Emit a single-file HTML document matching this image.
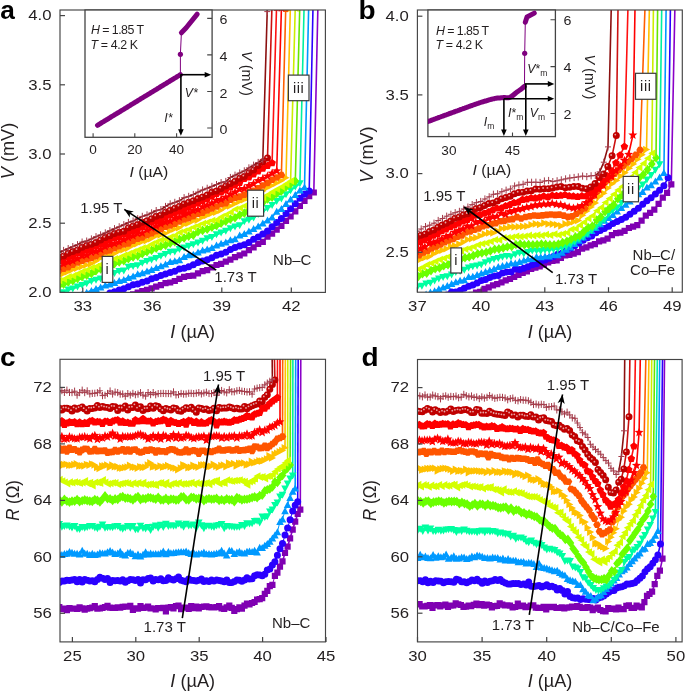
<!DOCTYPE html>
<html><head><meta charset="utf-8"><style>
html,body{margin:0;padding:0;background:#fff;width:685px;height:692px;overflow:hidden}
</style></head><body>
<svg width="685" height="692" viewBox="0 0 685 692" style="position:absolute;left:0;top:0;will-change:transform">
<defs>
<clipPath id="ca"><rect x="60" y="10" width="265.4" height="282.4"/></clipPath>
<clipPath id="cb"><rect x="417.4" y="10" width="264.9" height="282.2"/></clipPath>
<clipPath id="cc"><rect x="60" y="359.3" width="265.5" height="282.6"/></clipPath>
<clipPath id="cd"><rect x="417.5" y="359.5" width="264.6" height="282.4"/></clipPath>
<marker id="ah" viewBox="0 0 10 10" refX="9" refY="5" markerWidth="6" markerHeight="6" orient="auto-start-reverse"><path d="M0,0L10,5L0,10L3,5z" fill="#000"/></marker>
</defs>
<rect width="685" height="692" fill="#fff"/>
<g clip-path="url(#cc)">
<path d="M277.4,572.7L280.0,566.7L282.5,561.4L285.0,553.0L287.6,546.7L290.1,538.3L292.7,529.6L295.2,521.6L297.7,514.0L300.3,509.7L300.8,351.5" fill="none" stroke="#8a00c8" stroke-width="1.6"/>
<path d="M59.3,607.0L61.9,609.2L64.4,608.5L66.9,610.1L69.5,608.2L72.0,608.6L74.6,608.6L77.1,608.8L79.6,607.3L82.2,608.4L84.7,609.7L87.2,608.7L89.8,608.1L92.3,607.5L94.8,606.1L97.4,608.7L99.9,608.5L102.5,607.9L105.0,607.1L107.5,605.9L110.1,607.6L112.6,607.9L115.1,607.9L117.7,607.4L120.2,607.6L122.7,606.9L125.3,606.6L127.8,606.7L130.3,605.9L132.9,610.0L135.4,608.3L138.0,608.6L140.5,606.1L143.0,608.0L145.6,607.7L148.1,606.7L150.6,608.4L153.2,608.5L155.7,609.5L158.2,608.1L160.8,608.2L163.3,607.9L165.9,611.3L168.4,607.6L170.9,607.1L173.5,608.5L176.0,606.1L178.5,605.7L181.1,609.2L183.6,607.5L186.1,607.6L188.7,608.9L191.2,606.0L193.7,608.1L196.3,606.7L198.8,608.5L201.4,607.0L203.9,606.6L206.4,606.3L209.0,607.2L211.5,607.4L214.0,607.3L216.6,607.2L219.1,606.1L221.6,608.5L224.2,608.8L226.7,607.3L229.3,605.6L231.8,607.8L234.3,610.9L236.9,609.1L239.4,607.3L241.9,608.7L244.5,605.6L247.0,603.5L249.5,604.4L252.1,603.0L254.6,602.0L257.1,599.5L259.7,599.1L262.2,598.1L264.8,593.8L267.3,590.9L269.8,586.2L272.4,584.8L274.9,575.9L277.4,572.7" fill="none" stroke="#8a00c8" stroke-width="1.0"/>
<path d="M56.2,603.9L62.4,603.9L62.4,610.1L56.2,610.1ZM58.8,606.1L65.0,606.1L65.0,612.3L58.8,612.3ZM61.3,605.4L67.5,605.4L67.5,611.6L61.3,611.6ZM63.8,607.0L70.0,607.0L70.0,613.2L63.8,613.2ZM66.4,605.1L72.6,605.1L72.6,611.3L66.4,611.3ZM68.9,605.5L75.1,605.5L75.1,611.7L68.9,611.7ZM71.5,605.5L77.7,605.5L77.7,611.7L71.5,611.7ZM74.0,605.7L80.2,605.7L80.2,611.9L74.0,611.9ZM76.5,604.2L82.7,604.2L82.7,610.4L76.5,610.4ZM79.1,605.3L85.3,605.3L85.3,611.5L79.1,611.5ZM81.6,606.6L87.8,606.6L87.8,612.8L81.6,612.8ZM84.1,605.6L90.3,605.6L90.3,611.8L84.1,611.8ZM86.7,605.0L92.9,605.0L92.9,611.2L86.7,611.2ZM89.2,604.4L95.4,604.4L95.4,610.6L89.2,610.6ZM91.7,603.0L97.9,603.0L97.9,609.2L91.7,609.2ZM94.3,605.6L100.5,605.6L100.5,611.8L94.3,611.8ZM96.8,605.4L103.0,605.4L103.0,611.6L96.8,611.6ZM99.4,604.8L105.6,604.8L105.6,611.0L99.4,611.0ZM101.9,604.0L108.1,604.0L108.1,610.2L101.9,610.2ZM104.4,602.8L110.6,602.8L110.6,609.0L104.4,609.0ZM107.0,604.5L113.2,604.5L113.2,610.7L107.0,610.7ZM109.5,604.8L115.7,604.8L115.7,611.0L109.5,611.0ZM112.0,604.8L118.2,604.8L118.2,611.0L112.0,611.0ZM114.6,604.3L120.8,604.3L120.8,610.5L114.6,610.5ZM117.1,604.5L123.3,604.5L123.3,610.7L117.1,610.7ZM119.6,603.8L125.8,603.8L125.8,610.0L119.6,610.0ZM122.2,603.5L128.4,603.5L128.4,609.7L122.2,609.7ZM124.7,603.6L130.9,603.6L130.9,609.8L124.7,609.8ZM127.2,602.8L133.4,602.8L133.4,609.0L127.2,609.0ZM129.8,606.9L136.0,606.9L136.0,613.1L129.8,613.1ZM132.3,605.2L138.5,605.2L138.5,611.4L132.3,611.4ZM134.9,605.5L141.1,605.5L141.1,611.7L134.9,611.7ZM137.4,603.0L143.6,603.0L143.6,609.2L137.4,609.2ZM139.9,604.9L146.1,604.9L146.1,611.1L139.9,611.1ZM142.5,604.6L148.7,604.6L148.7,610.8L142.5,610.8ZM145.0,603.6L151.2,603.6L151.2,609.8L145.0,609.8ZM147.5,605.3L153.7,605.3L153.7,611.5L147.5,611.5ZM150.1,605.4L156.3,605.4L156.3,611.6L150.1,611.6ZM152.6,606.4L158.8,606.4L158.8,612.6L152.6,612.6ZM155.1,605.0L161.3,605.0L161.3,611.2L155.1,611.2ZM157.7,605.1L163.9,605.1L163.9,611.3L157.7,611.3ZM160.2,604.8L166.4,604.8L166.4,611.0L160.2,611.0ZM162.8,608.2L169.0,608.2L169.0,614.4L162.8,614.4ZM165.3,604.5L171.5,604.5L171.5,610.7L165.3,610.7ZM167.8,604.0L174.0,604.0L174.0,610.2L167.8,610.2ZM170.4,605.4L176.6,605.4L176.6,611.6L170.4,611.6ZM172.9,603.0L179.1,603.0L179.1,609.2L172.9,609.2ZM175.4,602.6L181.6,602.6L181.6,608.8L175.4,608.8ZM178.0,606.1L184.2,606.1L184.2,612.3L178.0,612.3ZM180.5,604.4L186.7,604.4L186.7,610.6L180.5,610.6ZM183.0,604.5L189.2,604.5L189.2,610.7L183.0,610.7ZM185.6,605.8L191.8,605.8L191.8,612.0L185.6,612.0ZM188.1,602.9L194.3,602.9L194.3,609.1L188.1,609.1ZM190.6,605.0L196.8,605.0L196.8,611.2L190.6,611.2ZM193.2,603.6L199.4,603.6L199.4,609.8L193.2,609.8ZM195.7,605.4L201.9,605.4L201.9,611.6L195.7,611.6ZM198.3,603.9L204.5,603.9L204.5,610.1L198.3,610.1ZM200.8,603.5L207.0,603.5L207.0,609.7L200.8,609.7ZM203.3,603.2L209.5,603.2L209.5,609.4L203.3,609.4ZM205.9,604.1L212.1,604.1L212.1,610.3L205.9,610.3ZM208.4,604.3L214.6,604.3L214.6,610.5L208.4,610.5ZM210.9,604.2L217.1,604.2L217.1,610.4L210.9,610.4ZM213.5,604.1L219.7,604.1L219.7,610.3L213.5,610.3ZM216.0,603.0L222.2,603.0L222.2,609.2L216.0,609.2ZM218.5,605.4L224.7,605.4L224.7,611.6L218.5,611.6ZM221.1,605.7L227.3,605.7L227.3,611.9L221.1,611.9ZM223.6,604.2L229.8,604.2L229.8,610.4L223.6,610.4ZM226.2,602.5L232.4,602.5L232.4,608.7L226.2,608.7ZM228.7,604.7L234.9,604.7L234.9,610.9L228.7,610.9ZM231.2,607.8L237.4,607.8L237.4,614.0L231.2,614.0ZM233.8,606.0L240.0,606.0L240.0,612.2L233.8,612.2ZM236.3,604.2L242.5,604.2L242.5,610.4L236.3,610.4ZM238.8,605.6L245.0,605.6L245.0,611.8L238.8,611.8ZM241.4,602.5L247.6,602.5L247.6,608.7L241.4,608.7ZM243.9,600.4L250.1,600.4L250.1,606.6L243.9,606.6ZM246.4,601.3L252.6,601.3L252.6,607.5L246.4,607.5ZM249.0,599.9L255.2,599.9L255.2,606.1L249.0,606.1ZM251.5,598.9L257.7,598.9L257.7,605.1L251.5,605.1ZM254.0,596.4L260.2,596.4L260.2,602.6L254.0,602.6ZM256.6,596.0L262.8,596.0L262.8,602.2L256.6,602.2ZM259.1,595.0L265.3,595.0L265.3,601.2L259.1,601.2ZM261.7,590.7L267.9,590.7L267.9,596.9L261.7,596.9ZM264.2,587.8L270.4,587.8L270.4,594.0L264.2,594.0ZM266.7,583.1L272.9,583.1L272.9,589.3L266.7,589.3ZM269.3,581.7L275.5,581.7L275.5,587.9L269.3,587.9ZM271.8,572.8L278.0,572.8L278.0,579.0L271.8,579.0ZM274.3,569.6L280.5,569.6L280.5,575.8L274.3,575.8ZM276.9,563.6L283.1,563.6L283.1,569.8L276.9,569.8ZM279.4,558.3L285.6,558.3L285.6,564.5L279.4,564.5ZM281.9,549.9L288.1,549.9L288.1,556.1L281.9,556.1ZM284.5,543.6L290.7,543.6L290.7,549.8L284.5,549.8ZM287.0,535.2L293.2,535.2L293.2,541.4L287.0,541.4ZM289.6,526.5L295.8,526.5L295.8,532.7L289.6,532.7ZM292.1,518.5L298.3,518.5L298.3,524.7L292.1,524.7ZM294.6,510.9L300.8,510.9L300.8,517.1L294.6,517.1ZM297.2,506.6L303.4,506.6L303.4,512.8L297.2,512.8Z" fill="#7f00b2"/>
<path d="M297.7,501.7L298.2,351.5" fill="none" stroke="#2a00ff" stroke-width="1.6"/>
<path d="M59.3,582.5L61.9,581.1L64.4,580.9L66.9,580.3L69.5,580.4L72.0,580.1L74.6,579.6L77.1,581.7L79.6,579.4L82.2,582.1L84.7,579.5L87.2,580.2L89.8,581.0L92.3,580.7L94.8,581.7L97.4,579.5L99.9,577.2L102.5,578.3L105.0,579.4L107.5,578.4L110.1,582.6L112.6,580.4L115.1,580.7L117.7,580.5L120.2,581.0L122.7,579.7L125.3,582.3L127.8,580.8L130.3,579.6L132.9,579.8L135.4,580.6L138.0,579.6L140.5,582.9L143.0,579.7L145.6,579.8L148.1,578.4L150.6,578.1L153.2,581.0L155.7,579.6L158.2,579.8L160.8,578.8L163.3,580.7L165.9,580.5L168.4,577.7L170.9,579.2L173.5,580.1L176.0,578.8L178.5,576.9L181.1,580.3L183.6,581.1L186.1,581.8L188.7,579.0L191.2,580.2L193.7,580.5L196.3,581.0L198.8,580.2L201.4,578.9L203.9,581.6L206.4,580.8L209.0,581.6L211.5,580.0L214.0,581.1L216.6,580.0L219.1,580.5L221.6,580.9L224.2,581.7L226.7,580.0L229.3,582.4L231.8,582.6L234.3,581.5L236.9,579.9L239.4,580.2L241.9,581.3L244.5,580.0L247.0,577.8L249.5,579.0L252.1,578.7L254.6,575.8L257.1,574.7L259.7,575.0L262.2,575.7L264.8,574.2L267.3,570.1L269.8,568.9L272.4,564.9L274.9,561.8L277.4,555.3L280.0,548.8L282.5,543.6L285.0,535.0L287.6,528.0L290.1,519.7L292.7,510.9L295.2,505.2L297.7,501.7" fill="none" stroke="#2a00ff" stroke-width="1.0"/>
<path d="M55.8,582.5a3.5,3.5 0 1,0 7.0,0a3.5,3.5 0 1,0 -7.0,0M58.4,581.1a3.5,3.5 0 1,0 7.0,0a3.5,3.5 0 1,0 -7.0,0M60.9,580.9a3.5,3.5 0 1,0 7.0,0a3.5,3.5 0 1,0 -7.0,0M63.4,580.3a3.5,3.5 0 1,0 7.0,0a3.5,3.5 0 1,0 -7.0,0M66.0,580.4a3.5,3.5 0 1,0 7.0,0a3.5,3.5 0 1,0 -7.0,0M68.5,580.1a3.5,3.5 0 1,0 7.0,0a3.5,3.5 0 1,0 -7.0,0M71.1,579.6a3.5,3.5 0 1,0 7.0,0a3.5,3.5 0 1,0 -7.0,0M73.6,581.7a3.5,3.5 0 1,0 7.0,0a3.5,3.5 0 1,0 -7.0,0M76.1,579.4a3.5,3.5 0 1,0 7.0,0a3.5,3.5 0 1,0 -7.0,0M78.7,582.1a3.5,3.5 0 1,0 7.0,0a3.5,3.5 0 1,0 -7.0,0M81.2,579.5a3.5,3.5 0 1,0 7.0,0a3.5,3.5 0 1,0 -7.0,0M83.7,580.2a3.5,3.5 0 1,0 7.0,0a3.5,3.5 0 1,0 -7.0,0M86.3,581.0a3.5,3.5 0 1,0 7.0,0a3.5,3.5 0 1,0 -7.0,0M88.8,580.7a3.5,3.5 0 1,0 7.0,0a3.5,3.5 0 1,0 -7.0,0M91.3,581.7a3.5,3.5 0 1,0 7.0,0a3.5,3.5 0 1,0 -7.0,0M93.9,579.5a3.5,3.5 0 1,0 7.0,0a3.5,3.5 0 1,0 -7.0,0M96.4,577.2a3.5,3.5 0 1,0 7.0,0a3.5,3.5 0 1,0 -7.0,0M99.0,578.3a3.5,3.5 0 1,0 7.0,0a3.5,3.5 0 1,0 -7.0,0M101.5,579.4a3.5,3.5 0 1,0 7.0,0a3.5,3.5 0 1,0 -7.0,0M104.0,578.4a3.5,3.5 0 1,0 7.0,0a3.5,3.5 0 1,0 -7.0,0M106.6,582.6a3.5,3.5 0 1,0 7.0,0a3.5,3.5 0 1,0 -7.0,0M109.1,580.4a3.5,3.5 0 1,0 7.0,0a3.5,3.5 0 1,0 -7.0,0M111.6,580.7a3.5,3.5 0 1,0 7.0,0a3.5,3.5 0 1,0 -7.0,0M114.2,580.5a3.5,3.5 0 1,0 7.0,0a3.5,3.5 0 1,0 -7.0,0M116.7,581.0a3.5,3.5 0 1,0 7.0,0a3.5,3.5 0 1,0 -7.0,0M119.2,579.7a3.5,3.5 0 1,0 7.0,0a3.5,3.5 0 1,0 -7.0,0M121.8,582.3a3.5,3.5 0 1,0 7.0,0a3.5,3.5 0 1,0 -7.0,0M124.3,580.8a3.5,3.5 0 1,0 7.0,0a3.5,3.5 0 1,0 -7.0,0M126.8,579.6a3.5,3.5 0 1,0 7.0,0a3.5,3.5 0 1,0 -7.0,0M129.4,579.8a3.5,3.5 0 1,0 7.0,0a3.5,3.5 0 1,0 -7.0,0M131.9,580.6a3.5,3.5 0 1,0 7.0,0a3.5,3.5 0 1,0 -7.0,0M134.5,579.6a3.5,3.5 0 1,0 7.0,0a3.5,3.5 0 1,0 -7.0,0M137.0,582.9a3.5,3.5 0 1,0 7.0,0a3.5,3.5 0 1,0 -7.0,0M139.5,579.7a3.5,3.5 0 1,0 7.0,0a3.5,3.5 0 1,0 -7.0,0M142.1,579.8a3.5,3.5 0 1,0 7.0,0a3.5,3.5 0 1,0 -7.0,0M144.6,578.4a3.5,3.5 0 1,0 7.0,0a3.5,3.5 0 1,0 -7.0,0M147.1,578.1a3.5,3.5 0 1,0 7.0,0a3.5,3.5 0 1,0 -7.0,0M149.7,581.0a3.5,3.5 0 1,0 7.0,0a3.5,3.5 0 1,0 -7.0,0M152.2,579.6a3.5,3.5 0 1,0 7.0,0a3.5,3.5 0 1,0 -7.0,0M154.7,579.8a3.5,3.5 0 1,0 7.0,0a3.5,3.5 0 1,0 -7.0,0M157.3,578.8a3.5,3.5 0 1,0 7.0,0a3.5,3.5 0 1,0 -7.0,0M159.8,580.7a3.5,3.5 0 1,0 7.0,0a3.5,3.5 0 1,0 -7.0,0M162.4,580.5a3.5,3.5 0 1,0 7.0,0a3.5,3.5 0 1,0 -7.0,0M164.9,577.7a3.5,3.5 0 1,0 7.0,0a3.5,3.5 0 1,0 -7.0,0M167.4,579.2a3.5,3.5 0 1,0 7.0,0a3.5,3.5 0 1,0 -7.0,0M170.0,580.1a3.5,3.5 0 1,0 7.0,0a3.5,3.5 0 1,0 -7.0,0M172.5,578.8a3.5,3.5 0 1,0 7.0,0a3.5,3.5 0 1,0 -7.0,0M175.0,576.9a3.5,3.5 0 1,0 7.0,0a3.5,3.5 0 1,0 -7.0,0M177.6,580.3a3.5,3.5 0 1,0 7.0,0a3.5,3.5 0 1,0 -7.0,0M180.1,581.1a3.5,3.5 0 1,0 7.0,0a3.5,3.5 0 1,0 -7.0,0M182.6,581.8a3.5,3.5 0 1,0 7.0,0a3.5,3.5 0 1,0 -7.0,0M185.2,579.0a3.5,3.5 0 1,0 7.0,0a3.5,3.5 0 1,0 -7.0,0M187.7,580.2a3.5,3.5 0 1,0 7.0,0a3.5,3.5 0 1,0 -7.0,0M190.2,580.5a3.5,3.5 0 1,0 7.0,0a3.5,3.5 0 1,0 -7.0,0M192.8,581.0a3.5,3.5 0 1,0 7.0,0a3.5,3.5 0 1,0 -7.0,0M195.3,580.2a3.5,3.5 0 1,0 7.0,0a3.5,3.5 0 1,0 -7.0,0M197.9,578.9a3.5,3.5 0 1,0 7.0,0a3.5,3.5 0 1,0 -7.0,0M200.4,581.6a3.5,3.5 0 1,0 7.0,0a3.5,3.5 0 1,0 -7.0,0M202.9,580.8a3.5,3.5 0 1,0 7.0,0a3.5,3.5 0 1,0 -7.0,0M205.5,581.6a3.5,3.5 0 1,0 7.0,0a3.5,3.5 0 1,0 -7.0,0M208.0,580.0a3.5,3.5 0 1,0 7.0,0a3.5,3.5 0 1,0 -7.0,0M210.5,581.1a3.5,3.5 0 1,0 7.0,0a3.5,3.5 0 1,0 -7.0,0M213.1,580.0a3.5,3.5 0 1,0 7.0,0a3.5,3.5 0 1,0 -7.0,0M215.6,580.5a3.5,3.5 0 1,0 7.0,0a3.5,3.5 0 1,0 -7.0,0M218.1,580.9a3.5,3.5 0 1,0 7.0,0a3.5,3.5 0 1,0 -7.0,0M220.7,581.7a3.5,3.5 0 1,0 7.0,0a3.5,3.5 0 1,0 -7.0,0M223.2,580.0a3.5,3.5 0 1,0 7.0,0a3.5,3.5 0 1,0 -7.0,0M225.8,582.4a3.5,3.5 0 1,0 7.0,0a3.5,3.5 0 1,0 -7.0,0M228.3,582.6a3.5,3.5 0 1,0 7.0,0a3.5,3.5 0 1,0 -7.0,0M230.8,581.5a3.5,3.5 0 1,0 7.0,0a3.5,3.5 0 1,0 -7.0,0M233.4,579.9a3.5,3.5 0 1,0 7.0,0a3.5,3.5 0 1,0 -7.0,0M235.9,580.2a3.5,3.5 0 1,0 7.0,0a3.5,3.5 0 1,0 -7.0,0M238.4,581.3a3.5,3.5 0 1,0 7.0,0a3.5,3.5 0 1,0 -7.0,0M241.0,580.0a3.5,3.5 0 1,0 7.0,0a3.5,3.5 0 1,0 -7.0,0M243.5,577.8a3.5,3.5 0 1,0 7.0,0a3.5,3.5 0 1,0 -7.0,0M246.0,579.0a3.5,3.5 0 1,0 7.0,0a3.5,3.5 0 1,0 -7.0,0M248.6,578.7a3.5,3.5 0 1,0 7.0,0a3.5,3.5 0 1,0 -7.0,0M251.1,575.8a3.5,3.5 0 1,0 7.0,0a3.5,3.5 0 1,0 -7.0,0M253.6,574.7a3.5,3.5 0 1,0 7.0,0a3.5,3.5 0 1,0 -7.0,0M256.2,575.0a3.5,3.5 0 1,0 7.0,0a3.5,3.5 0 1,0 -7.0,0M258.7,575.7a3.5,3.5 0 1,0 7.0,0a3.5,3.5 0 1,0 -7.0,0M261.3,574.2a3.5,3.5 0 1,0 7.0,0a3.5,3.5 0 1,0 -7.0,0M263.8,570.1a3.5,3.5 0 1,0 7.0,0a3.5,3.5 0 1,0 -7.0,0M266.3,568.9a3.5,3.5 0 1,0 7.0,0a3.5,3.5 0 1,0 -7.0,0M268.9,564.9a3.5,3.5 0 1,0 7.0,0a3.5,3.5 0 1,0 -7.0,0M271.4,561.8a3.5,3.5 0 1,0 7.0,0a3.5,3.5 0 1,0 -7.0,0M273.9,555.3a3.5,3.5 0 1,0 7.0,0a3.5,3.5 0 1,0 -7.0,0M276.5,548.8a3.5,3.5 0 1,0 7.0,0a3.5,3.5 0 1,0 -7.0,0M279.0,543.6a3.5,3.5 0 1,0 7.0,0a3.5,3.5 0 1,0 -7.0,0M281.5,535.0a3.5,3.5 0 1,0 7.0,0a3.5,3.5 0 1,0 -7.0,0M284.1,528.0a3.5,3.5 0 1,0 7.0,0a3.5,3.5 0 1,0 -7.0,0M286.6,519.7a3.5,3.5 0 1,0 7.0,0a3.5,3.5 0 1,0 -7.0,0M289.2,510.9a3.5,3.5 0 1,0 7.0,0a3.5,3.5 0 1,0 -7.0,0M291.7,505.2a3.5,3.5 0 1,0 7.0,0a3.5,3.5 0 1,0 -7.0,0M294.2,501.7a3.5,3.5 0 1,0 7.0,0a3.5,3.5 0 1,0 -7.0,0" fill="#2a00ff"/>
<path d="M295.2,488.0L295.7,351.5" fill="none" stroke="#0099ff" stroke-width="1.6"/>
<path d="M59.3,553.5L61.9,554.5L64.4,553.6L66.9,553.3L69.5,551.5L72.0,552.4L74.6,553.3L77.1,553.3L79.6,554.2L82.2,550.4L84.7,553.2L87.2,553.4L89.8,554.5L92.3,553.3L94.8,554.6L97.4,554.1L99.9,552.7L102.5,553.0L105.0,553.2L107.5,551.9L110.1,550.5L112.6,552.1L115.1,553.5L117.7,553.1L120.2,551.3L122.7,554.4L125.3,555.1L127.8,552.7L130.3,552.2L132.9,553.5L135.4,555.8L138.0,554.2L140.5,556.0L143.0,554.3L145.6,551.9L148.1,554.1L150.6,553.0L153.2,553.9L155.7,553.7L158.2,553.9L160.8,552.8L163.3,551.1L165.9,553.9L168.4,551.6L170.9,552.8L173.5,552.5L176.0,552.2L178.5,551.8L181.1,551.6L183.6,551.8L186.1,551.0L188.7,552.6L191.2,553.5L193.7,552.6L196.3,554.1L198.8,553.4L201.4,553.4L203.9,552.2L206.4,553.8L209.0,553.6L211.5,554.0L214.0,553.7L216.6,553.2L219.1,552.5L221.6,550.4L224.2,553.0L226.7,555.0L229.3,550.3L231.8,550.5L234.3,553.5L236.9,552.1L239.4,551.4L241.9,552.9L244.5,553.0L247.0,551.4L249.5,551.1L252.1,551.7L254.6,550.3L257.1,552.2L259.7,547.3L262.2,547.6L264.8,545.4L267.3,543.5L269.8,541.3L272.4,538.0L274.9,535.0L277.4,531.8L280.0,521.6L282.5,519.2L285.0,510.8L287.6,504.6L290.1,497.7L292.7,491.4L295.2,488.0" fill="none" stroke="#0099ff" stroke-width="1.0"/>
<path d="M59.3,549.9L63.1,556.9L55.5,556.9ZM61.9,550.9L65.7,557.9L58.1,557.9ZM64.4,550.0L68.2,557.0L60.6,557.0ZM66.9,549.7L70.7,556.7L63.1,556.7ZM69.5,547.9L73.3,554.9L65.7,554.9ZM72.0,548.8L75.8,555.8L68.2,555.8ZM74.6,549.7L78.4,556.7L70.8,556.7ZM77.1,549.7L80.9,556.7L73.3,556.7ZM79.6,550.6L83.4,557.6L75.8,557.6ZM82.2,546.8L86.0,553.8L78.4,553.8ZM84.7,549.6L88.5,556.6L80.9,556.6ZM87.2,549.8L91.0,556.8L83.4,556.8ZM89.8,550.9L93.6,557.9L86.0,557.9ZM92.3,549.7L96.1,556.7L88.5,556.7ZM94.8,551.0L98.6,558.0L91.0,558.0ZM97.4,550.5L101.2,557.5L93.6,557.5ZM99.9,549.1L103.7,556.1L96.1,556.1ZM102.5,549.4L106.3,556.4L98.7,556.4ZM105.0,549.6L108.8,556.6L101.2,556.6ZM107.5,548.3L111.3,555.3L103.7,555.3ZM110.1,546.9L113.9,553.9L106.3,553.9ZM112.6,548.5L116.4,555.5L108.8,555.5ZM115.1,549.9L118.9,556.9L111.3,556.9ZM117.7,549.5L121.5,556.5L113.9,556.5ZM120.2,547.7L124.0,554.7L116.4,554.7ZM122.7,550.8L126.5,557.8L118.9,557.8ZM125.3,551.5L129.1,558.5L121.5,558.5ZM127.8,549.1L131.6,556.1L124.0,556.1ZM130.3,548.6L134.1,555.6L126.5,555.6ZM132.9,549.9L136.7,556.9L129.1,556.9ZM135.4,552.2L139.2,559.2L131.6,559.2ZM138.0,550.6L141.8,557.6L134.2,557.6ZM140.5,552.4L144.3,559.4L136.7,559.4ZM143.0,550.7L146.8,557.7L139.2,557.7ZM145.6,548.3L149.4,555.3L141.8,555.3ZM148.1,550.5L151.9,557.5L144.3,557.5ZM150.6,549.4L154.4,556.4L146.8,556.4ZM153.2,550.3L157.0,557.3L149.4,557.3ZM155.7,550.1L159.5,557.1L151.9,557.1ZM158.2,550.3L162.0,557.3L154.4,557.3ZM160.8,549.2L164.6,556.2L157.0,556.2ZM163.3,547.5L167.1,554.5L159.5,554.5ZM165.9,550.3L169.7,557.3L162.1,557.3ZM168.4,548.0L172.2,555.0L164.6,555.0ZM170.9,549.2L174.7,556.2L167.1,556.2ZM173.5,548.9L177.3,555.9L169.7,555.9ZM176.0,548.6L179.8,555.6L172.2,555.6ZM178.5,548.2L182.3,555.2L174.7,555.2ZM181.1,548.0L184.9,555.0L177.3,555.0ZM183.6,548.2L187.4,555.2L179.8,555.2ZM186.1,547.4L189.9,554.4L182.3,554.4ZM188.7,549.0L192.5,556.0L184.9,556.0ZM191.2,549.9L195.0,556.9L187.4,556.9ZM193.7,549.0L197.5,556.0L189.9,556.0ZM196.3,550.5L200.1,557.5L192.5,557.5ZM198.8,549.8L202.6,556.8L195.0,556.8ZM201.4,549.8L205.2,556.8L197.6,556.8ZM203.9,548.6L207.7,555.6L200.1,555.6ZM206.4,550.2L210.2,557.2L202.6,557.2ZM209.0,550.0L212.8,557.0L205.2,557.0ZM211.5,550.4L215.3,557.4L207.7,557.4ZM214.0,550.1L217.8,557.1L210.2,557.1ZM216.6,549.6L220.4,556.6L212.8,556.6ZM219.1,548.9L222.9,555.9L215.3,555.9ZM221.6,546.8L225.4,553.8L217.8,553.8ZM224.2,549.4L228.0,556.4L220.4,556.4ZM226.7,551.4L230.5,558.4L222.9,558.4ZM229.3,546.7L233.1,553.7L225.5,553.7ZM231.8,546.9L235.6,553.9L228.0,553.9ZM234.3,549.9L238.1,556.9L230.5,556.9ZM236.9,548.5L240.7,555.5L233.1,555.5ZM239.4,547.8L243.2,554.8L235.6,554.8ZM241.9,549.3L245.7,556.3L238.1,556.3ZM244.5,549.4L248.3,556.4L240.7,556.4ZM247.0,547.8L250.8,554.8L243.2,554.8ZM249.5,547.5L253.3,554.5L245.7,554.5ZM252.1,548.1L255.9,555.1L248.3,555.1ZM254.6,546.7L258.4,553.7L250.8,553.7ZM257.1,548.6L260.9,555.6L253.3,555.6ZM259.7,543.7L263.5,550.7L255.9,550.7ZM262.2,544.0L266.0,551.0L258.4,551.0ZM264.8,541.8L268.6,548.8L261.0,548.8ZM267.3,539.9L271.1,546.9L263.5,546.9ZM269.8,537.7L273.6,544.7L266.0,544.7ZM272.4,534.4L276.2,541.4L268.6,541.4ZM274.9,531.4L278.7,538.4L271.1,538.4ZM277.4,528.2L281.2,535.2L273.6,535.2ZM280.0,518.0L283.8,525.0L276.2,525.0ZM282.5,515.6L286.3,522.6L278.7,522.6ZM285.0,507.2L288.8,514.2L281.2,514.2ZM287.6,501.0L291.4,508.0L283.8,508.0ZM290.1,494.1L293.9,501.1L286.3,501.1ZM292.7,487.8L296.5,494.8L288.9,494.8ZM295.2,484.4L299.0,491.4L291.4,491.4Z" fill="#0099ff"/>
<path d="M292.7,475.8L292.9,351.5" fill="none" stroke="#00f0a0" stroke-width="1.6"/>
<path d="M59.3,524.5L61.9,527.1L64.4,526.5L66.9,525.9L69.5,526.9L72.0,528.0L74.6,526.4L77.1,529.1L79.6,529.5L82.2,527.4L84.7,528.2L87.2,527.5L89.8,526.5L92.3,526.4L94.8,527.8L97.4,528.7L99.9,527.2L102.5,524.9L105.0,528.1L107.5,527.6L110.1,527.4L112.6,527.6L115.1,526.6L117.7,526.3L120.2,528.1L122.7,529.2L125.3,527.8L127.8,526.3L130.3,528.2L132.9,526.5L135.4,529.6L138.0,529.6L140.5,526.2L143.0,528.4L145.6,528.9L148.1,527.4L150.6,530.4L153.2,527.2L155.7,526.0L158.2,528.1L160.8,525.2L163.3,527.3L165.9,524.1L168.4,526.4L170.9,525.6L173.5,526.2L176.0,525.8L178.5,523.8L181.1,525.5L183.6,527.2L186.1,524.1L188.7,526.0L191.2,525.6L193.7,524.9L196.3,528.5L198.8,522.8L201.4,525.6L203.9,528.7L206.4,526.2L209.0,526.2L211.5,527.0L214.0,527.3L216.6,526.0L219.1,525.5L221.6,524.5L224.2,528.7L226.7,526.3L229.3,526.6L231.8,526.8L234.3,527.3L236.9,527.2L239.4,527.2L241.9,525.3L244.5,526.4L247.0,523.7L249.5,523.9L252.1,523.7L254.6,521.4L257.1,521.2L259.7,522.9L262.2,516.8L264.8,517.5L267.3,516.6L269.8,512.0L272.4,509.9L274.9,505.3L277.4,502.8L280.0,496.8L282.5,495.1L285.0,489.0L287.6,483.9L290.1,478.8L292.7,475.8" fill="none" stroke="#00f0a0" stroke-width="1.0"/>
<path d="M59.3,528.1L63.1,521.1L55.5,521.1ZM61.9,530.7L65.7,523.7L58.1,523.7ZM64.4,530.1L68.2,523.1L60.6,523.1ZM66.9,529.5L70.7,522.5L63.1,522.5ZM69.5,530.5L73.3,523.5L65.7,523.5ZM72.0,531.6L75.8,524.6L68.2,524.6ZM74.6,530.0L78.4,523.0L70.8,523.0ZM77.1,532.7L80.9,525.7L73.3,525.7ZM79.6,533.1L83.4,526.1L75.8,526.1ZM82.2,531.0L86.0,524.0L78.4,524.0ZM84.7,531.8L88.5,524.8L80.9,524.8ZM87.2,531.1L91.0,524.1L83.4,524.1ZM89.8,530.1L93.6,523.1L86.0,523.1ZM92.3,530.0L96.1,523.0L88.5,523.0ZM94.8,531.4L98.6,524.4L91.0,524.4ZM97.4,532.3L101.2,525.3L93.6,525.3ZM99.9,530.8L103.7,523.8L96.1,523.8ZM102.5,528.5L106.3,521.5L98.7,521.5ZM105.0,531.7L108.8,524.7L101.2,524.7ZM107.5,531.2L111.3,524.2L103.7,524.2ZM110.1,531.0L113.9,524.0L106.3,524.0ZM112.6,531.2L116.4,524.2L108.8,524.2ZM115.1,530.2L118.9,523.2L111.3,523.2ZM117.7,529.9L121.5,522.9L113.9,522.9ZM120.2,531.7L124.0,524.7L116.4,524.7ZM122.7,532.8L126.5,525.8L118.9,525.8ZM125.3,531.4L129.1,524.4L121.5,524.4ZM127.8,529.9L131.6,522.9L124.0,522.9ZM130.3,531.8L134.1,524.8L126.5,524.8ZM132.9,530.1L136.7,523.1L129.1,523.1ZM135.4,533.2L139.2,526.2L131.6,526.2ZM138.0,533.2L141.8,526.2L134.2,526.2ZM140.5,529.8L144.3,522.8L136.7,522.8ZM143.0,532.0L146.8,525.0L139.2,525.0ZM145.6,532.5L149.4,525.5L141.8,525.5ZM148.1,531.0L151.9,524.0L144.3,524.0ZM150.6,534.0L154.4,527.0L146.8,527.0ZM153.2,530.8L157.0,523.8L149.4,523.8ZM155.7,529.6L159.5,522.6L151.9,522.6ZM158.2,531.7L162.0,524.7L154.4,524.7ZM160.8,528.8L164.6,521.8L157.0,521.8ZM163.3,530.9L167.1,523.9L159.5,523.9ZM165.9,527.7L169.7,520.7L162.1,520.7ZM168.4,530.0L172.2,523.0L164.6,523.0ZM170.9,529.2L174.7,522.2L167.1,522.2ZM173.5,529.8L177.3,522.8L169.7,522.8ZM176.0,529.4L179.8,522.4L172.2,522.4ZM178.5,527.4L182.3,520.4L174.7,520.4ZM181.1,529.1L184.9,522.1L177.3,522.1ZM183.6,530.8L187.4,523.8L179.8,523.8ZM186.1,527.7L189.9,520.7L182.3,520.7ZM188.7,529.6L192.5,522.6L184.9,522.6ZM191.2,529.2L195.0,522.2L187.4,522.2ZM193.7,528.5L197.5,521.5L189.9,521.5ZM196.3,532.1L200.1,525.1L192.5,525.1ZM198.8,526.4L202.6,519.4L195.0,519.4ZM201.4,529.2L205.2,522.2L197.6,522.2ZM203.9,532.3L207.7,525.3L200.1,525.3ZM206.4,529.8L210.2,522.8L202.6,522.8ZM209.0,529.8L212.8,522.8L205.2,522.8ZM211.5,530.6L215.3,523.6L207.7,523.6ZM214.0,530.9L217.8,523.9L210.2,523.9ZM216.6,529.6L220.4,522.6L212.8,522.6ZM219.1,529.1L222.9,522.1L215.3,522.1ZM221.6,528.1L225.4,521.1L217.8,521.1ZM224.2,532.3L228.0,525.3L220.4,525.3ZM226.7,529.9L230.5,522.9L222.9,522.9ZM229.3,530.2L233.1,523.2L225.5,523.2ZM231.8,530.4L235.6,523.4L228.0,523.4ZM234.3,530.9L238.1,523.9L230.5,523.9ZM236.9,530.8L240.7,523.8L233.1,523.8ZM239.4,530.8L243.2,523.8L235.6,523.8ZM241.9,528.9L245.7,521.9L238.1,521.9ZM244.5,530.0L248.3,523.0L240.7,523.0ZM247.0,527.3L250.8,520.3L243.2,520.3ZM249.5,527.5L253.3,520.5L245.7,520.5ZM252.1,527.3L255.9,520.3L248.3,520.3ZM254.6,525.0L258.4,518.0L250.8,518.0ZM257.1,524.8L260.9,517.8L253.3,517.8ZM259.7,526.5L263.5,519.5L255.9,519.5ZM262.2,520.4L266.0,513.4L258.4,513.4ZM264.8,521.1L268.6,514.1L261.0,514.1ZM267.3,520.2L271.1,513.2L263.5,513.2ZM269.8,515.6L273.6,508.6L266.0,508.6ZM272.4,513.5L276.2,506.5L268.6,506.5ZM274.9,508.9L278.7,501.9L271.1,501.9ZM277.4,506.4L281.2,499.4L273.6,499.4ZM280.0,500.4L283.8,493.4L276.2,493.4ZM282.5,498.7L286.3,491.7L278.7,491.7ZM285.0,492.6L288.8,485.6L281.2,485.6ZM287.6,487.5L291.4,480.5L283.8,480.5ZM290.1,482.4L293.9,475.4L286.3,475.4ZM292.7,479.4L296.5,472.4L288.9,472.4Z" fill="#00ffa0"/>
<path d="M290.1,465.1L290.6,351.5" fill="none" stroke="#66e600" stroke-width="1.6"/>
<path d="M59.3,500.0L61.9,502.0L64.4,499.4L66.9,501.3L69.5,502.1L72.0,501.1L74.6,501.2L77.1,499.6L79.6,501.6L82.2,500.7L84.7,499.9L87.2,500.6L89.8,501.1L92.3,501.4L94.8,499.6L97.4,500.4L99.9,501.9L102.5,499.1L105.0,495.9L107.5,498.8L110.1,498.7L112.6,500.4L115.1,498.9L117.7,499.5L120.2,497.2L122.7,496.6L125.3,498.2L127.8,498.0L130.3,498.8L132.9,500.0L135.4,497.9L138.0,496.5L140.5,499.6L143.0,498.5L145.6,498.9L148.1,497.5L150.6,497.7L153.2,498.5L155.7,499.2L158.2,497.3L160.8,499.9L163.3,500.0L165.9,498.4L168.4,500.4L170.9,499.1L173.5,499.3L176.0,500.1L178.5,499.6L181.1,496.9L183.6,496.8L186.1,499.6L188.7,500.0L191.2,497.2L193.7,497.5L196.3,498.9L198.8,498.4L201.4,498.1L203.9,500.7L206.4,499.2L209.0,498.5L211.5,499.2L214.0,499.0L216.6,498.3L219.1,500.5L221.6,499.5L224.2,500.5L226.7,498.8L229.3,499.9L231.8,499.6L234.3,501.7L236.9,497.5L239.4,498.6L241.9,499.9L244.5,499.3L247.0,499.3L249.5,498.5L252.1,497.6L254.6,496.7L257.1,497.7L259.7,495.5L262.2,495.2L264.8,490.9L267.3,489.7L269.8,488.9L272.4,487.0L274.9,481.9L277.4,482.4L280.0,477.5L282.5,475.5L285.0,470.5L287.6,468.1L290.1,465.1" fill="none" stroke="#66e600" stroke-width="1.0"/>
<path d="M59.3,495.2L63.1,500.0L59.3,504.8L55.5,500.0ZM61.9,497.2L65.7,502.0L61.9,506.8L58.1,502.0ZM64.4,494.6L68.2,499.4L64.4,504.2L60.6,499.4ZM66.9,496.5L70.7,501.3L66.9,506.1L63.1,501.3ZM69.5,497.3L73.3,502.1L69.5,506.9L65.7,502.1ZM72.0,496.3L75.8,501.1L72.0,505.9L68.2,501.1ZM74.6,496.4L78.4,501.2L74.6,506.0L70.8,501.2ZM77.1,494.8L80.9,499.6L77.1,504.4L73.3,499.6ZM79.6,496.8L83.4,501.6L79.6,506.4L75.8,501.6ZM82.2,495.9L86.0,500.7L82.2,505.5L78.4,500.7ZM84.7,495.1L88.5,499.9L84.7,504.7L80.9,499.9ZM87.2,495.8L91.0,500.6L87.2,505.4L83.4,500.6ZM89.8,496.3L93.6,501.1L89.8,505.9L86.0,501.1ZM92.3,496.6L96.1,501.4L92.3,506.2L88.5,501.4ZM94.8,494.8L98.6,499.6L94.8,504.4L91.0,499.6ZM97.4,495.6L101.2,500.4L97.4,505.2L93.6,500.4ZM99.9,497.1L103.7,501.9L99.9,506.7L96.1,501.9ZM102.5,494.3L106.3,499.1L102.5,503.9L98.7,499.1ZM105.0,491.1L108.8,495.9L105.0,500.7L101.2,495.9ZM107.5,494.0L111.3,498.8L107.5,503.6L103.7,498.8ZM110.1,493.9L113.9,498.7L110.1,503.5L106.3,498.7ZM112.6,495.6L116.4,500.4L112.6,505.2L108.8,500.4ZM115.1,494.1L118.9,498.9L115.1,503.7L111.3,498.9ZM117.7,494.7L121.5,499.5L117.7,504.3L113.9,499.5ZM120.2,492.4L124.0,497.2L120.2,502.0L116.4,497.2ZM122.7,491.8L126.5,496.6L122.7,501.4L118.9,496.6ZM125.3,493.4L129.1,498.2L125.3,503.0L121.5,498.2ZM127.8,493.2L131.6,498.0L127.8,502.8L124.0,498.0ZM130.3,494.0L134.1,498.8L130.3,503.6L126.5,498.8ZM132.9,495.2L136.7,500.0L132.9,504.8L129.1,500.0ZM135.4,493.1L139.2,497.9L135.4,502.7L131.6,497.9ZM138.0,491.7L141.8,496.5L138.0,501.3L134.2,496.5ZM140.5,494.8L144.3,499.6L140.5,504.4L136.7,499.6ZM143.0,493.7L146.8,498.5L143.0,503.3L139.2,498.5ZM145.6,494.1L149.4,498.9L145.6,503.7L141.8,498.9ZM148.1,492.7L151.9,497.5L148.1,502.3L144.3,497.5ZM150.6,492.9L154.4,497.7L150.6,502.5L146.8,497.7ZM153.2,493.7L157.0,498.5L153.2,503.3L149.4,498.5ZM155.7,494.4L159.5,499.2L155.7,504.0L151.9,499.2ZM158.2,492.5L162.0,497.3L158.2,502.1L154.4,497.3ZM160.8,495.1L164.6,499.9L160.8,504.7L157.0,499.9ZM163.3,495.2L167.1,500.0L163.3,504.8L159.5,500.0ZM165.9,493.6L169.7,498.4L165.9,503.2L162.1,498.4ZM168.4,495.6L172.2,500.4L168.4,505.2L164.6,500.4ZM170.9,494.3L174.7,499.1L170.9,503.9L167.1,499.1ZM173.5,494.5L177.3,499.3L173.5,504.1L169.7,499.3ZM176.0,495.3L179.8,500.1L176.0,504.9L172.2,500.1ZM178.5,494.8L182.3,499.6L178.5,504.4L174.7,499.6ZM181.1,492.1L184.9,496.9L181.1,501.7L177.3,496.9ZM183.6,492.0L187.4,496.8L183.6,501.6L179.8,496.8ZM186.1,494.8L189.9,499.6L186.1,504.4L182.3,499.6ZM188.7,495.2L192.5,500.0L188.7,504.8L184.9,500.0ZM191.2,492.4L195.0,497.2L191.2,502.0L187.4,497.2ZM193.7,492.7L197.5,497.5L193.7,502.3L189.9,497.5ZM196.3,494.1L200.1,498.9L196.3,503.7L192.5,498.9ZM198.8,493.6L202.6,498.4L198.8,503.2L195.0,498.4ZM201.4,493.3L205.2,498.1L201.4,502.9L197.6,498.1ZM203.9,495.9L207.7,500.7L203.9,505.5L200.1,500.7ZM206.4,494.4L210.2,499.2L206.4,504.0L202.6,499.2ZM209.0,493.7L212.8,498.5L209.0,503.3L205.2,498.5ZM211.5,494.4L215.3,499.2L211.5,504.0L207.7,499.2ZM214.0,494.2L217.8,499.0L214.0,503.8L210.2,499.0ZM216.6,493.5L220.4,498.3L216.6,503.1L212.8,498.3ZM219.1,495.7L222.9,500.5L219.1,505.3L215.3,500.5ZM221.6,494.7L225.4,499.5L221.6,504.3L217.8,499.5ZM224.2,495.7L228.0,500.5L224.2,505.3L220.4,500.5ZM226.7,494.0L230.5,498.8L226.7,503.6L222.9,498.8ZM229.3,495.1L233.1,499.9L229.3,504.7L225.5,499.9ZM231.8,494.8L235.6,499.6L231.8,504.4L228.0,499.6ZM234.3,496.9L238.1,501.7L234.3,506.5L230.5,501.7ZM236.9,492.7L240.7,497.5L236.9,502.3L233.1,497.5ZM239.4,493.8L243.2,498.6L239.4,503.4L235.6,498.6ZM241.9,495.1L245.7,499.9L241.9,504.7L238.1,499.9ZM244.5,494.5L248.3,499.3L244.5,504.1L240.7,499.3ZM247.0,494.5L250.8,499.3L247.0,504.1L243.2,499.3ZM249.5,493.7L253.3,498.5L249.5,503.3L245.7,498.5ZM252.1,492.8L255.9,497.6L252.1,502.4L248.3,497.6ZM254.6,491.9L258.4,496.7L254.6,501.5L250.8,496.7ZM257.1,492.9L260.9,497.7L257.1,502.5L253.3,497.7ZM259.7,490.7L263.5,495.5L259.7,500.3L255.9,495.5ZM262.2,490.4L266.0,495.2L262.2,500.0L258.4,495.2ZM264.8,486.1L268.6,490.9L264.8,495.7L261.0,490.9ZM267.3,484.9L271.1,489.7L267.3,494.5L263.5,489.7ZM269.8,484.1L273.6,488.9L269.8,493.7L266.0,488.9ZM272.4,482.2L276.2,487.0L272.4,491.8L268.6,487.0ZM274.9,477.1L278.7,481.9L274.9,486.7L271.1,481.9ZM277.4,477.6L281.2,482.4L277.4,487.2L273.6,482.4ZM280.0,472.7L283.8,477.5L280.0,482.3L276.2,477.5ZM282.5,470.7L286.3,475.5L282.5,480.3L278.7,475.5ZM285.0,465.7L288.8,470.5L285.0,475.3L281.2,470.5ZM287.6,463.3L291.4,468.1L287.6,472.9L283.8,468.1ZM290.1,460.3L293.9,465.1L290.1,469.9L286.3,465.1Z" fill="#6aff00"/>
<path d="M287.6,460.4L287.8,351.5" fill="none" stroke="#ccee00" stroke-width="1.6"/>
<path d="M59.3,479.6L61.9,481.0L64.4,482.2L66.9,483.6L69.5,482.1L72.0,482.8L74.6,482.0L77.1,482.5L79.6,483.2L82.2,482.6L84.7,480.8L87.2,483.4L89.8,482.5L92.3,485.8L94.8,482.3L97.4,482.4L99.9,483.2L102.5,479.9L105.0,482.3L107.5,483.9L110.1,483.4L112.6,482.7L115.1,482.9L117.7,484.5L120.2,483.8L122.7,483.3L125.3,482.7L127.8,483.4L130.3,484.3L132.9,483.0L135.4,483.9L138.0,482.9L140.5,483.8L143.0,482.6L145.6,484.9L148.1,484.4L150.6,484.1L153.2,484.6L155.7,485.5L158.2,483.0L160.8,482.7L163.3,484.8L165.9,482.5L168.4,485.3L170.9,484.0L173.5,483.2L176.0,483.9L178.5,482.7L181.1,484.1L183.6,483.7L186.1,483.9L188.7,483.3L191.2,482.6L193.7,484.1L196.3,482.9L198.8,483.7L201.4,483.3L203.9,483.5L206.4,482.9L209.0,484.4L211.5,481.9L214.0,481.0L216.6,480.4L219.1,483.8L221.6,482.5L224.2,483.1L226.7,480.0L229.3,480.8L231.8,481.2L234.3,480.6L236.9,480.5L239.4,480.0L241.9,481.3L244.5,481.6L247.0,484.9L249.5,481.6L252.1,480.9L254.6,478.8L257.1,476.0L259.7,477.3L262.2,476.8L264.8,478.7L267.3,476.3L269.8,476.3L272.4,474.5L274.9,471.6L277.4,469.0L280.0,467.0L282.5,465.6L285.0,462.9L287.6,460.4" fill="none" stroke="#ccee00" stroke-width="1.0"/>
<path d="M55.7,479.6L62.7,475.8L62.7,483.4ZM58.3,481.0L65.3,477.2L65.3,484.8ZM60.8,482.2L67.8,478.4L67.8,486.0ZM63.3,483.6L70.3,479.8L70.3,487.4ZM65.9,482.1L72.9,478.3L72.9,485.9ZM68.4,482.8L75.4,479.0L75.4,486.6ZM71.0,482.0L78.0,478.2L78.0,485.8ZM73.5,482.5L80.5,478.7L80.5,486.3ZM76.0,483.2L83.0,479.4L83.0,487.0ZM78.6,482.6L85.6,478.8L85.6,486.4ZM81.1,480.8L88.1,477.0L88.1,484.6ZM83.6,483.4L90.6,479.6L90.6,487.2ZM86.2,482.5L93.2,478.7L93.2,486.3ZM88.7,485.8L95.7,482.0L95.7,489.6ZM91.2,482.3L98.2,478.5L98.2,486.1ZM93.8,482.4L100.8,478.6L100.8,486.2ZM96.3,483.2L103.3,479.4L103.3,487.0ZM98.9,479.9L105.9,476.1L105.9,483.7ZM101.4,482.3L108.4,478.5L108.4,486.1ZM103.9,483.9L110.9,480.1L110.9,487.7ZM106.5,483.4L113.5,479.6L113.5,487.2ZM109.0,482.7L116.0,478.9L116.0,486.5ZM111.5,482.9L118.5,479.1L118.5,486.7ZM114.1,484.5L121.1,480.7L121.1,488.3ZM116.6,483.8L123.6,480.0L123.6,487.6ZM119.1,483.3L126.1,479.5L126.1,487.1ZM121.7,482.7L128.7,478.9L128.7,486.5ZM124.2,483.4L131.2,479.6L131.2,487.2ZM126.7,484.3L133.7,480.5L133.7,488.1ZM129.3,483.0L136.3,479.2L136.3,486.8ZM131.8,483.9L138.8,480.1L138.8,487.7ZM134.4,482.9L141.4,479.1L141.4,486.7ZM136.9,483.8L143.9,480.0L143.9,487.6ZM139.4,482.6L146.4,478.8L146.4,486.4ZM142.0,484.9L149.0,481.1L149.0,488.7ZM144.5,484.4L151.5,480.6L151.5,488.2ZM147.0,484.1L154.0,480.3L154.0,487.9ZM149.6,484.6L156.6,480.8L156.6,488.4ZM152.1,485.5L159.1,481.7L159.1,489.3ZM154.6,483.0L161.6,479.2L161.6,486.8ZM157.2,482.7L164.2,478.9L164.2,486.5ZM159.7,484.8L166.7,481.0L166.7,488.6ZM162.3,482.5L169.3,478.7L169.3,486.3ZM164.8,485.3L171.8,481.5L171.8,489.1ZM167.3,484.0L174.3,480.2L174.3,487.8ZM169.9,483.2L176.9,479.4L176.9,487.0ZM172.4,483.9L179.4,480.1L179.4,487.7ZM174.9,482.7L181.9,478.9L181.9,486.5ZM177.5,484.1L184.5,480.3L184.5,487.9ZM180.0,483.7L187.0,479.9L187.0,487.5ZM182.5,483.9L189.5,480.1L189.5,487.7ZM185.1,483.3L192.1,479.5L192.1,487.1ZM187.6,482.6L194.6,478.8L194.6,486.4ZM190.1,484.1L197.1,480.3L197.1,487.9ZM192.7,482.9L199.7,479.1L199.7,486.7ZM195.2,483.7L202.2,479.9L202.2,487.5ZM197.8,483.3L204.8,479.5L204.8,487.1ZM200.3,483.5L207.3,479.7L207.3,487.3ZM202.8,482.9L209.8,479.1L209.8,486.7ZM205.4,484.4L212.4,480.6L212.4,488.2ZM207.9,481.9L214.9,478.1L214.9,485.7ZM210.4,481.0L217.4,477.2L217.4,484.8ZM213.0,480.4L220.0,476.6L220.0,484.2ZM215.5,483.8L222.5,480.0L222.5,487.6ZM218.0,482.5L225.0,478.7L225.0,486.3ZM220.6,483.1L227.6,479.3L227.6,486.9ZM223.1,480.0L230.1,476.2L230.1,483.8ZM225.7,480.8L232.7,477.0L232.7,484.6ZM228.2,481.2L235.2,477.4L235.2,485.0ZM230.7,480.6L237.7,476.8L237.7,484.4ZM233.3,480.5L240.3,476.7L240.3,484.3ZM235.8,480.0L242.8,476.2L242.8,483.8ZM238.3,481.3L245.3,477.5L245.3,485.1ZM240.9,481.6L247.9,477.8L247.9,485.4ZM243.4,484.9L250.4,481.1L250.4,488.7ZM245.9,481.6L252.9,477.8L252.9,485.4ZM248.5,480.9L255.5,477.1L255.5,484.7ZM251.0,478.8L258.0,475.0L258.0,482.6ZM253.5,476.0L260.5,472.2L260.5,479.8ZM256.1,477.3L263.1,473.5L263.1,481.1ZM258.6,476.8L265.6,473.0L265.6,480.6ZM261.2,478.7L268.2,474.9L268.2,482.5ZM263.7,476.3L270.7,472.5L270.7,480.1ZM266.2,476.3L273.2,472.5L273.2,480.1ZM268.8,474.5L275.8,470.7L275.8,478.3ZM271.3,471.6L278.3,467.8L278.3,475.4ZM273.8,469.0L280.8,465.2L280.8,472.8ZM276.4,467.0L283.4,463.2L283.4,470.8ZM278.9,465.6L285.9,461.8L285.9,469.4ZM281.4,462.9L288.4,459.1L288.4,466.7ZM284.0,460.4L291.0,456.6L291.0,464.2Z" fill="#d4ff00"/>
<path d="M285.0,447.7L285.4,351.5" fill="none" stroke="#ffc000" stroke-width="1.6"/>
<path d="M59.3,462.9L61.9,465.9L64.4,464.5L66.9,464.2L69.5,465.3L72.0,465.3L74.6,464.6L77.1,463.9L79.6,466.0L82.2,465.7L84.7,465.9L87.2,464.6L89.8,465.3L92.3,464.0L94.8,464.9L97.4,467.4L99.9,468.4L102.5,466.1L105.0,465.9L107.5,465.0L110.1,467.2L112.6,465.1L115.1,466.7L117.7,466.6L120.2,467.9L122.7,468.1L125.3,467.5L127.8,467.1L130.3,465.4L132.9,467.3L135.4,467.2L138.0,468.3L140.5,466.8L143.0,467.4L145.6,467.2L148.1,465.1L150.6,462.9L153.2,466.9L155.7,466.2L158.2,467.3L160.8,466.0L163.3,467.1L165.9,466.5L168.4,465.6L170.9,466.7L173.5,467.8L176.0,468.3L178.5,469.8L181.1,468.1L183.6,464.9L186.1,465.8L188.7,467.6L191.2,467.4L193.7,465.3L196.3,466.5L198.8,467.2L201.4,465.0L203.9,464.9L206.4,464.9L209.0,466.7L211.5,466.3L214.0,464.3L216.6,466.3L219.1,467.3L221.6,465.6L224.2,465.0L226.7,466.7L229.3,463.0L231.8,464.4L234.3,463.5L236.9,465.9L239.4,463.2L241.9,463.4L244.5,463.0L247.0,464.9L249.5,464.2L252.1,461.4L254.6,462.7L257.1,462.0L259.7,460.7L262.2,461.1L264.8,460.3L267.3,459.0L269.8,455.7L272.4,457.9L274.9,454.2L277.4,453.2L280.0,451.8L282.5,450.5L285.0,447.7" fill="none" stroke="#ffc000" stroke-width="1.0"/>
<path d="M62.9,462.9L55.9,459.1L55.9,466.7ZM65.5,465.9L58.5,462.1L58.5,469.7ZM68.0,464.5L61.0,460.7L61.0,468.3ZM70.5,464.2L63.5,460.4L63.5,468.0ZM73.1,465.3L66.1,461.5L66.1,469.1ZM75.6,465.3L68.6,461.5L68.6,469.1ZM78.2,464.6L71.2,460.8L71.2,468.4ZM80.7,463.9L73.7,460.1L73.7,467.7ZM83.2,466.0L76.2,462.2L76.2,469.8ZM85.8,465.7L78.8,461.9L78.8,469.5ZM88.3,465.9L81.3,462.1L81.3,469.7ZM90.8,464.6L83.8,460.8L83.8,468.4ZM93.4,465.3L86.4,461.5L86.4,469.1ZM95.9,464.0L88.9,460.2L88.9,467.8ZM98.4,464.9L91.4,461.1L91.4,468.7ZM101.0,467.4L94.0,463.6L94.0,471.2ZM103.5,468.4L96.5,464.6L96.5,472.2ZM106.1,466.1L99.1,462.3L99.1,469.9ZM108.6,465.9L101.6,462.1L101.6,469.7ZM111.1,465.0L104.1,461.2L104.1,468.8ZM113.7,467.2L106.7,463.4L106.7,471.0ZM116.2,465.1L109.2,461.3L109.2,468.9ZM118.7,466.7L111.7,462.9L111.7,470.5ZM121.3,466.6L114.3,462.8L114.3,470.4ZM123.8,467.9L116.8,464.1L116.8,471.7ZM126.3,468.1L119.3,464.3L119.3,471.9ZM128.9,467.5L121.9,463.7L121.9,471.3ZM131.4,467.1L124.4,463.3L124.4,470.9ZM133.9,465.4L126.9,461.6L126.9,469.2ZM136.5,467.3L129.5,463.5L129.5,471.1ZM139.0,467.2L132.0,463.4L132.0,471.0ZM141.6,468.3L134.6,464.5L134.6,472.1ZM144.1,466.8L137.1,463.0L137.1,470.6ZM146.6,467.4L139.6,463.6L139.6,471.2ZM149.2,467.2L142.2,463.4L142.2,471.0ZM151.7,465.1L144.7,461.3L144.7,468.9ZM154.2,462.9L147.2,459.1L147.2,466.7ZM156.8,466.9L149.8,463.1L149.8,470.7ZM159.3,466.2L152.3,462.4L152.3,470.0ZM161.8,467.3L154.8,463.5L154.8,471.1ZM164.4,466.0L157.4,462.2L157.4,469.8ZM166.9,467.1L159.9,463.3L159.9,470.9ZM169.5,466.5L162.5,462.7L162.5,470.3ZM172.0,465.6L165.0,461.8L165.0,469.4ZM174.5,466.7L167.5,462.9L167.5,470.5ZM177.1,467.8L170.1,464.0L170.1,471.6ZM179.6,468.3L172.6,464.5L172.6,472.1ZM182.1,469.8L175.1,466.0L175.1,473.6ZM184.7,468.1L177.7,464.3L177.7,471.9ZM187.2,464.9L180.2,461.1L180.2,468.7ZM189.7,465.8L182.7,462.0L182.7,469.6ZM192.3,467.6L185.3,463.8L185.3,471.4ZM194.8,467.4L187.8,463.6L187.8,471.2ZM197.3,465.3L190.3,461.5L190.3,469.1ZM199.9,466.5L192.9,462.7L192.9,470.3ZM202.4,467.2L195.4,463.4L195.4,471.0ZM205.0,465.0L198.0,461.2L198.0,468.8ZM207.5,464.9L200.5,461.1L200.5,468.7ZM210.0,464.9L203.0,461.1L203.0,468.7ZM212.6,466.7L205.6,462.9L205.6,470.5ZM215.1,466.3L208.1,462.5L208.1,470.1ZM217.6,464.3L210.6,460.5L210.6,468.1ZM220.2,466.3L213.2,462.5L213.2,470.1ZM222.7,467.3L215.7,463.5L215.7,471.1ZM225.2,465.6L218.2,461.8L218.2,469.4ZM227.8,465.0L220.8,461.2L220.8,468.8ZM230.3,466.7L223.3,462.9L223.3,470.5ZM232.9,463.0L225.9,459.2L225.9,466.8ZM235.4,464.4L228.4,460.6L228.4,468.2ZM237.9,463.5L230.9,459.7L230.9,467.3ZM240.5,465.9L233.5,462.1L233.5,469.7ZM243.0,463.2L236.0,459.4L236.0,467.0ZM245.5,463.4L238.5,459.6L238.5,467.2ZM248.1,463.0L241.1,459.2L241.1,466.8ZM250.6,464.9L243.6,461.1L243.6,468.7ZM253.1,464.2L246.1,460.4L246.1,468.0ZM255.7,461.4L248.7,457.6L248.7,465.2ZM258.2,462.7L251.2,458.9L251.2,466.5ZM260.7,462.0L253.7,458.2L253.7,465.8ZM263.3,460.7L256.3,456.9L256.3,464.5ZM265.8,461.1L258.8,457.3L258.8,464.9ZM268.4,460.3L261.4,456.5L261.4,464.1ZM270.9,459.0L263.9,455.2L263.9,462.8ZM273.4,455.7L266.4,451.9L266.4,459.5ZM276.0,457.9L269.0,454.1L269.0,461.7ZM278.5,454.2L271.5,450.4L271.5,458.0ZM281.0,453.2L274.0,449.4L274.0,457.0ZM283.6,451.8L276.6,448.0L276.6,455.6ZM286.1,450.5L279.1,446.7L279.1,454.3ZM288.6,447.7L281.6,443.9L281.6,451.5Z" fill="#ffc000"/>
<path d="M282.5,436.6L282.7,351.5" fill="none" stroke="#ff6000" stroke-width="1.6"/>
<path d="M59.3,448.2L61.9,450.5L64.4,448.9L66.9,451.4L69.5,447.9L72.0,449.8L74.6,449.2L77.1,450.7L79.6,452.3L82.2,449.9L84.7,448.7L87.2,449.0L89.8,451.4L92.3,451.2L94.8,449.0L97.4,451.3L99.9,450.9L102.5,450.9L105.0,450.6L107.5,452.7L110.1,452.1L112.6,451.9L115.1,450.0L117.7,451.6L120.2,450.5L122.7,449.2L125.3,451.5L127.8,449.6L130.3,451.5L132.9,449.7L135.4,449.5L138.0,451.5L140.5,452.5L143.0,451.7L145.6,450.0L148.1,450.6L150.6,449.6L153.2,450.2L155.7,452.4L158.2,450.5L160.8,451.4L163.3,451.2L165.9,451.9L168.4,450.3L170.9,449.2L173.5,449.6L176.0,450.9L178.5,452.3L181.1,452.5L183.6,451.9L186.1,449.6L188.7,452.3L191.2,451.0L193.7,450.4L196.3,451.1L198.8,453.6L201.4,450.7L203.9,450.8L206.4,452.3L209.0,451.3L211.5,451.9L214.0,451.0L216.6,450.3L219.1,448.8L221.6,450.5L224.2,450.4L226.7,449.8L229.3,449.4L231.8,450.6L234.3,450.2L236.9,449.0L239.4,450.9L241.9,450.1L244.5,450.1L247.0,449.6L249.5,448.9L252.1,451.0L254.6,446.6L257.1,446.9L259.7,448.3L262.2,447.9L264.8,445.8L267.3,448.0L269.8,446.1L272.4,444.0L274.9,442.1L277.4,438.9L280.0,438.0L282.5,436.6" fill="none" stroke="#ff6000" stroke-width="1.0"/>
<path d="M63.1,448.2L61.2,451.5L57.4,451.5L55.5,448.2L57.4,444.9L61.2,444.9ZM65.7,450.5L63.8,453.8L60.0,453.8L58.1,450.5L60.0,447.2L63.8,447.2ZM68.2,448.9L66.3,452.2L62.5,452.2L60.6,448.9L62.5,445.6L66.3,445.6ZM70.7,451.4L68.8,454.7L65.0,454.7L63.1,451.4L65.0,448.1L68.8,448.1ZM73.3,447.9L71.4,451.2L67.6,451.2L65.7,447.9L67.6,444.6L71.4,444.6ZM75.8,449.8L73.9,453.1L70.1,453.1L68.2,449.8L70.1,446.5L73.9,446.5ZM78.4,449.2L76.5,452.5L72.7,452.5L70.8,449.2L72.7,445.9L76.5,445.9ZM80.9,450.7L79.0,454.0L75.2,454.0L73.3,450.7L75.2,447.5L79.0,447.5ZM83.4,452.3L81.5,455.6L77.7,455.6L75.8,452.3L77.7,449.0L81.5,449.0ZM86.0,449.9L84.1,453.2L80.3,453.2L78.4,449.9L80.3,446.6L84.1,446.6ZM88.5,448.7L86.6,452.0L82.8,452.0L80.9,448.7L82.8,445.4L86.6,445.4ZM91.0,449.0L89.1,452.3L85.3,452.3L83.4,449.0L85.3,445.7L89.1,445.7ZM93.6,451.4L91.7,454.7L87.9,454.7L86.0,451.4L87.9,448.1L91.7,448.1ZM96.1,451.2L94.2,454.5L90.4,454.5L88.5,451.2L90.4,447.9L94.2,447.9ZM98.6,449.0L96.7,452.3L92.9,452.3L91.0,449.0L92.9,445.7L96.7,445.7ZM101.2,451.3L99.3,454.5L95.5,454.5L93.6,451.3L95.5,448.0L99.3,448.0ZM103.7,450.9L101.8,454.2L98.0,454.2L96.1,450.9L98.0,447.6L101.8,447.6ZM106.3,450.9L104.4,454.2L100.6,454.2L98.7,450.9L100.6,447.6L104.4,447.6ZM108.8,450.6L106.9,453.9L103.1,453.9L101.2,450.6L103.1,447.3L106.9,447.3ZM111.3,452.7L109.4,456.0L105.6,456.0L103.7,452.7L105.6,449.4L109.4,449.4ZM113.9,452.1L112.0,455.4L108.2,455.4L106.3,452.1L108.2,448.8L112.0,448.8ZM116.4,451.9L114.5,455.2L110.7,455.2L108.8,451.9L110.7,448.6L114.5,448.6ZM118.9,450.0L117.0,453.3L113.2,453.3L111.3,450.0L113.2,446.7L117.0,446.7ZM121.5,451.6L119.6,454.8L115.8,454.8L113.9,451.6L115.8,448.3L119.6,448.3ZM124.0,450.5L122.1,453.7L118.3,453.7L116.4,450.5L118.3,447.2L122.1,447.2ZM126.5,449.2L124.6,452.5L120.8,452.5L118.9,449.2L120.8,445.9L124.6,445.9ZM129.1,451.5L127.2,454.7L123.4,454.7L121.5,451.5L123.4,448.2L127.2,448.2ZM131.6,449.6L129.7,452.9L125.9,452.9L124.0,449.6L125.9,446.3L129.7,446.3ZM134.1,451.5L132.2,454.8L128.4,454.8L126.5,451.5L128.4,448.3L132.2,448.3ZM136.7,449.7L134.8,453.0L131.0,453.0L129.1,449.7L131.0,446.4L134.8,446.4ZM139.2,449.5L137.3,452.8L133.5,452.8L131.6,449.5L133.5,446.2L137.3,446.2ZM141.8,451.5L139.9,454.8L136.1,454.8L134.2,451.5L136.1,448.2L139.9,448.2ZM144.3,452.5L142.4,455.8L138.6,455.8L136.7,452.5L138.6,449.2L142.4,449.2ZM146.8,451.7L144.9,455.0L141.1,455.0L139.2,451.7L141.1,448.4L144.9,448.4ZM149.4,450.0L147.5,453.3L143.7,453.3L141.8,450.0L143.7,446.7L147.5,446.7ZM151.9,450.6L150.0,453.9L146.2,453.9L144.3,450.6L146.2,447.3L150.0,447.3ZM154.4,449.6L152.5,452.9L148.7,452.9L146.8,449.6L148.7,446.3L152.5,446.3ZM157.0,450.2L155.1,453.5L151.3,453.5L149.4,450.2L151.3,446.9L155.1,446.9ZM159.5,452.4L157.6,455.7L153.8,455.7L151.9,452.4L153.8,449.1L157.6,449.1ZM162.0,450.5L160.1,453.8L156.3,453.8L154.4,450.5L156.3,447.2L160.1,447.2ZM164.6,451.4L162.7,454.7L158.9,454.7L157.0,451.4L158.9,448.1L162.7,448.1ZM167.1,451.2L165.2,454.5L161.4,454.5L159.5,451.2L161.4,447.9L165.2,447.9ZM169.7,451.9L167.8,455.2L164.0,455.2L162.1,451.9L164.0,448.6L167.8,448.6ZM172.2,450.3L170.3,453.6L166.5,453.6L164.6,450.3L166.5,447.0L170.3,447.0ZM174.7,449.2L172.8,452.5L169.0,452.5L167.1,449.2L169.0,445.9L172.8,445.9ZM177.3,449.6L175.4,452.9L171.6,452.9L169.7,449.6L171.6,446.3L175.4,446.3ZM179.8,450.9L177.9,454.2L174.1,454.2L172.2,450.9L174.1,447.6L177.9,447.6ZM182.3,452.3L180.4,455.5L176.6,455.5L174.7,452.3L176.6,449.0L180.4,449.0ZM184.9,452.5L183.0,455.8L179.2,455.8L177.3,452.5L179.2,449.2L183.0,449.2ZM187.4,451.9L185.5,455.2L181.7,455.2L179.8,451.9L181.7,448.6L185.5,448.6ZM189.9,449.6L188.0,452.9L184.2,452.9L182.3,449.6L184.2,446.3L188.0,446.3ZM192.5,452.3L190.6,455.6L186.8,455.6L184.9,452.3L186.8,449.1L190.6,449.1ZM195.0,451.0L193.1,454.3L189.3,454.3L187.4,451.0L189.3,447.7L193.1,447.7ZM197.5,450.4L195.6,453.7L191.8,453.7L189.9,450.4L191.8,447.1L195.6,447.1ZM200.1,451.1L198.2,454.4L194.4,454.4L192.5,451.1L194.4,447.8L198.2,447.8ZM202.6,453.6L200.7,456.9L196.9,456.9L195.0,453.6L196.9,450.3L200.7,450.3ZM205.2,450.7L203.3,454.0L199.5,454.0L197.6,450.7L199.5,447.4L203.3,447.4ZM207.7,450.8L205.8,454.1L202.0,454.1L200.1,450.8L202.0,447.6L205.8,447.6ZM210.2,452.3L208.3,455.6L204.5,455.6L202.6,452.3L204.5,449.0L208.3,449.0ZM212.8,451.3L210.9,454.6L207.1,454.6L205.2,451.3L207.1,448.0L210.9,448.0ZM215.3,451.9L213.4,455.2L209.6,455.2L207.7,451.9L209.6,448.6L213.4,448.6ZM217.8,451.0L215.9,454.3L212.1,454.3L210.2,451.0L212.1,447.7L215.9,447.7ZM220.4,450.3L218.5,453.6L214.7,453.6L212.8,450.3L214.7,447.0L218.5,447.0ZM222.9,448.8L221.0,452.1L217.2,452.1L215.3,448.8L217.2,445.5L221.0,445.5ZM225.4,450.5L223.5,453.8L219.7,453.8L217.8,450.5L219.7,447.2L223.5,447.2ZM228.0,450.4L226.1,453.7L222.3,453.7L220.4,450.4L222.3,447.1L226.1,447.1ZM230.5,449.8L228.6,453.1L224.8,453.1L222.9,449.8L224.8,446.5L228.6,446.5ZM233.1,449.4L231.2,452.7L227.4,452.7L225.5,449.4L227.4,446.2L231.2,446.2ZM235.6,450.6L233.7,453.8L229.9,453.8L228.0,450.6L229.9,447.3L233.7,447.3ZM238.1,450.2L236.2,453.5L232.4,453.5L230.5,450.2L232.4,446.9L236.2,446.9ZM240.7,449.0L238.8,452.3L235.0,452.3L233.1,449.0L235.0,445.7L238.8,445.7ZM243.2,450.9L241.3,454.1L237.5,454.1L235.6,450.9L237.5,447.6L241.3,447.6ZM245.7,450.1L243.8,453.4L240.0,453.4L238.1,450.1L240.0,446.9L243.8,446.9ZM248.3,450.1L246.4,453.4L242.6,453.4L240.7,450.1L242.6,446.8L246.4,446.8ZM250.8,449.6L248.9,452.9L245.1,452.9L243.2,449.6L245.1,446.3L248.9,446.3ZM253.3,448.9L251.4,452.2L247.6,452.2L245.7,448.9L247.6,445.6L251.4,445.6ZM255.9,451.0L254.0,454.2L250.2,454.2L248.3,451.0L250.2,447.7L254.0,447.7ZM258.4,446.6L256.5,449.8L252.7,449.8L250.8,446.6L252.7,443.3L256.5,443.3ZM260.9,446.9L259.0,450.2L255.2,450.2L253.3,446.9L255.2,443.6L259.0,443.6ZM263.5,448.3L261.6,451.5L257.8,451.5L255.9,448.3L257.8,445.0L261.6,445.0ZM266.0,447.9L264.1,451.2L260.3,451.2L258.4,447.9L260.3,444.6L264.1,444.6ZM268.6,445.8L266.7,449.1L262.9,449.1L261.0,445.8L262.9,442.5L266.7,442.5ZM271.1,448.0L269.2,451.3L265.4,451.3L263.5,448.0L265.4,444.7L269.2,444.7ZM273.6,446.1L271.7,449.4L267.9,449.4L266.0,446.1L267.9,442.8L271.7,442.8ZM276.2,444.0L274.3,447.3L270.5,447.3L268.6,444.0L270.5,440.7L274.3,440.7ZM278.7,442.1L276.8,445.4L273.0,445.4L271.1,442.1L273.0,438.8L276.8,438.8ZM281.2,438.9L279.3,442.1L275.5,442.1L273.6,438.9L275.5,435.6L279.3,435.6ZM283.8,438.0L281.9,441.3L278.1,441.3L276.2,438.0L278.1,434.7L281.9,434.7ZM286.3,436.6L284.4,439.9L280.6,439.9L278.7,436.6L280.6,433.3L284.4,433.3Z" fill="#ff5500"/>
<path d="M280.0,421.9L280.0,351.5" fill="none" stroke="#ff0000" stroke-width="1.6"/>
<path d="M59.3,438.9L61.9,436.5L64.4,439.2L66.9,438.9L69.5,436.9L72.0,437.9L74.6,438.7L77.1,439.0L79.6,437.4L82.2,437.2L84.7,436.6L87.2,437.7L89.8,438.9L92.3,436.7L94.8,435.5L97.4,439.3L99.9,437.7L102.5,438.2L105.0,435.9L107.5,437.0L110.1,435.4L112.6,433.2L115.1,436.2L117.7,435.9L120.2,439.1L122.7,436.4L125.3,437.1L127.8,436.5L130.3,436.8L132.9,436.6L135.4,435.7L138.0,434.6L140.5,434.3L143.0,435.9L145.6,436.5L148.1,439.1L150.6,437.8L153.2,435.7L155.7,437.9L158.2,435.6L160.8,439.2L163.3,435.4L165.9,436.3L168.4,438.5L170.9,437.2L173.5,434.7L176.0,438.2L178.5,435.4L181.1,438.1L183.6,437.7L186.1,435.2L188.7,436.1L191.2,437.6L193.7,438.6L196.3,437.3L198.8,436.8L201.4,437.3L203.9,436.0L206.4,440.3L209.0,436.4L211.5,436.5L214.0,436.1L216.6,435.8L219.1,436.1L221.6,438.1L224.2,436.5L226.7,437.9L229.3,436.4L231.8,436.8L234.3,435.8L236.9,438.0L239.4,435.9L241.9,436.2L244.5,435.9L247.0,434.0L249.5,436.2L252.1,435.9L254.6,432.4L257.1,432.0L259.7,429.9L262.2,432.5L264.8,430.3L267.3,430.1L269.8,427.2L272.4,426.7L274.9,425.5L277.4,422.9L280.0,421.9" fill="none" stroke="#ff0000" stroke-width="1.0"/>
<path d="M59.3,434.1L60.6,437.2L63.9,437.4L61.3,439.5L62.2,442.8L59.3,441.0L56.5,442.8L57.3,439.5L54.8,437.4L58.1,437.2ZM61.9,431.7L63.1,434.8L66.4,435.0L63.9,437.1L64.7,440.3L61.9,438.6L59.1,440.3L59.9,437.1L57.3,435.0L60.6,434.8ZM64.4,434.4L65.6,437.5L69.0,437.7L66.4,439.9L67.2,443.1L64.4,441.3L61.6,443.1L62.4,439.9L59.8,437.7L63.2,437.5ZM66.9,434.1L68.2,437.2L71.5,437.4L68.9,439.6L69.8,442.8L66.9,441.0L64.1,442.8L65.0,439.6L62.4,437.4L65.7,437.2ZM69.5,432.1L70.7,435.2L74.0,435.4L71.5,437.5L72.3,440.8L69.5,439.0L66.7,440.8L67.5,437.5L64.9,435.4L68.2,435.2ZM72.0,433.1L73.3,436.2L76.6,436.4L74.0,438.5L74.8,441.7L72.0,440.0L69.2,441.7L70.0,438.5L67.5,436.4L70.8,436.2ZM74.6,433.9L75.8,437.0L79.1,437.2L76.6,439.4L77.4,442.6L74.6,440.8L71.7,442.6L72.6,439.4L70.0,437.2L73.3,437.0ZM77.1,434.2L78.3,437.3L81.7,437.5L79.1,439.6L79.9,442.8L77.1,441.1L74.3,442.8L75.1,439.6L72.5,437.5L75.9,437.3ZM79.6,432.6L80.9,435.7L84.2,435.9L81.6,438.1L82.4,441.3L79.6,439.5L76.8,441.3L77.6,438.1L75.1,435.9L78.4,435.7ZM82.2,432.4L83.4,435.5L86.7,435.7L84.2,437.9L85.0,441.1L82.2,439.3L79.3,441.1L80.2,437.9L77.6,435.7L80.9,435.5ZM84.7,431.8L85.9,434.9L89.3,435.1L86.7,437.2L87.5,440.5L84.7,438.7L81.9,440.5L82.7,437.2L80.1,435.1L83.5,434.9ZM87.2,432.9L88.5,436.0L91.8,436.2L89.2,438.3L90.1,441.6L87.2,439.8L84.4,441.6L85.2,438.3L82.7,436.2L86.0,436.0ZM89.8,434.1L91.0,437.2L94.3,437.4L91.8,439.6L92.6,442.8L89.8,441.0L87.0,442.8L87.8,439.6L85.2,437.4L88.5,437.2ZM92.3,431.9L93.5,435.0L96.9,435.2L94.3,437.3L95.1,440.6L92.3,438.8L89.5,440.6L90.3,437.3L87.7,435.2L91.1,435.0ZM94.8,430.7L96.1,433.8L99.4,434.1L96.8,436.2L97.7,439.4L94.8,437.6L92.0,439.4L92.8,436.2L90.3,434.1L93.6,433.8ZM97.4,434.5L98.6,437.6L101.9,437.8L99.4,440.0L100.2,443.2L97.4,441.4L94.6,443.2L95.4,440.0L92.8,437.8L96.1,437.6ZM99.9,432.9L101.1,436.0L104.5,436.2L101.9,438.3L102.7,441.6L99.9,439.8L97.1,441.6L97.9,438.3L95.4,436.2L98.7,436.0ZM102.5,433.4L103.7,436.5L107.0,436.8L104.4,438.9L105.3,442.1L102.5,440.3L99.6,442.1L100.5,438.9L97.9,436.8L101.2,436.5ZM105.0,431.1L106.2,434.2L109.6,434.4L107.0,436.6L107.8,439.8L105.0,438.0L102.2,439.8L103.0,436.6L100.4,434.4L103.8,434.2ZM107.5,432.2L108.8,435.3L112.1,435.5L109.5,437.7L110.3,440.9L107.5,439.1L104.7,440.9L105.5,437.7L103.0,435.5L106.3,435.3ZM110.1,430.6L111.3,433.7L114.6,433.9L112.1,436.1L112.9,439.3L110.1,437.5L107.2,439.3L108.1,436.1L105.5,433.9L108.8,433.7ZM112.6,428.4L113.8,431.5L117.2,431.7L114.6,433.8L115.4,437.0L112.6,435.3L109.8,437.0L110.6,433.8L108.0,431.7L111.4,431.5ZM115.1,431.4L116.4,434.5L119.7,434.7L117.1,436.8L118.0,440.0L115.1,438.3L112.3,440.0L113.1,436.8L110.6,434.7L113.9,434.5ZM117.7,431.1L118.9,434.2L122.2,434.4L119.7,436.5L120.5,439.7L117.7,438.0L114.8,439.7L115.7,436.5L113.1,434.4L116.4,434.2ZM120.2,434.3L121.4,437.4L124.8,437.6L122.2,439.7L123.0,442.9L120.2,441.2L117.4,442.9L118.2,439.7L115.6,437.6L119.0,437.4ZM122.7,431.6L124.0,434.7L127.3,434.9L124.7,437.0L125.6,440.2L122.7,438.5L119.9,440.2L120.7,437.0L118.2,434.9L121.5,434.7ZM125.3,432.3L126.5,435.4L129.8,435.6L127.3,437.7L128.1,441.0L125.3,439.2L122.5,441.0L123.3,437.7L120.7,435.6L124.0,435.4ZM127.8,431.7L129.0,434.8L132.4,435.0L129.8,437.2L130.6,440.4L127.8,438.6L125.0,440.4L125.8,437.2L123.2,435.0L126.6,434.8ZM130.3,432.0L131.6,435.1L134.9,435.4L132.3,437.5L133.2,440.7L130.3,438.9L127.5,440.7L128.4,437.5L125.8,435.4L129.1,435.1ZM132.9,431.8L134.1,434.9L137.4,435.1L134.9,437.3L135.7,440.5L132.9,438.7L130.1,440.5L130.9,437.3L128.3,435.1L131.6,434.9ZM135.4,430.9L136.7,434.0L140.0,434.2L137.4,436.3L138.2,439.6L135.4,437.8L132.6,439.6L133.4,436.3L130.9,434.2L134.2,434.0ZM138.0,429.8L139.2,432.9L142.5,433.1L140.0,435.2L140.8,438.5L138.0,436.7L135.1,438.5L136.0,435.2L133.4,433.1L136.7,432.9ZM140.5,429.5L141.7,432.6L145.1,432.8L142.5,435.0L143.3,438.2L140.5,436.4L137.7,438.2L138.5,435.0L135.9,432.8L139.3,432.6ZM143.0,431.1L144.3,434.2L147.6,434.4L145.0,436.6L145.8,439.8L143.0,438.0L140.2,439.8L141.0,436.6L138.5,434.4L141.8,434.2ZM145.6,431.7L146.8,434.8L150.1,435.1L147.6,437.2L148.4,440.4L145.6,438.6L142.7,440.4L143.6,437.2L141.0,435.1L144.3,434.8ZM148.1,434.3L149.3,437.5L152.7,437.7L150.1,439.8L150.9,443.0L148.1,441.2L145.3,443.0L146.1,439.8L143.5,437.7L146.9,437.5ZM150.6,433.0L151.9,436.1L155.2,436.4L152.6,438.5L153.5,441.7L150.6,439.9L147.8,441.7L148.6,438.5L146.1,436.4L149.4,436.1ZM153.2,430.9L154.4,434.0L157.7,434.2L155.2,436.3L156.0,439.6L153.2,437.8L150.4,439.6L151.2,436.3L148.6,434.2L151.9,434.0ZM155.7,433.1L156.9,436.2L160.3,436.4L157.7,438.5L158.5,441.7L155.7,440.0L152.9,441.7L153.7,438.5L151.1,436.4L154.5,436.2ZM158.2,430.8L159.5,433.9L162.8,434.2L160.2,436.3L161.1,439.5L158.2,437.7L155.4,439.5L156.2,436.3L153.7,434.2L157.0,433.9ZM160.8,434.4L162.0,437.5L165.3,437.7L162.8,439.9L163.6,443.1L160.8,441.3L158.0,443.1L158.8,439.9L156.2,437.7L159.5,437.5ZM163.3,430.6L164.5,433.7L167.9,433.9L165.3,436.0L166.1,439.3L163.3,437.5L160.5,439.3L161.3,436.0L158.8,433.9L162.1,433.7ZM165.9,431.5L167.1,434.6L170.4,434.8L167.8,436.9L168.7,440.1L165.9,438.4L163.0,440.1L163.9,436.9L161.3,434.8L164.6,434.6ZM168.4,433.7L169.6,436.8L173.0,437.0L170.4,439.1L171.2,442.4L168.4,440.6L165.6,442.4L166.4,439.1L163.8,437.0L167.2,436.8ZM170.9,432.4L172.2,435.5L175.5,435.8L172.9,437.9L173.7,441.1L170.9,439.3L168.1,441.1L168.9,437.9L166.4,435.8L169.7,435.5ZM173.5,429.9L174.7,433.0L178.0,433.2L175.5,435.4L176.3,438.6L173.5,436.8L170.6,438.6L171.5,435.4L168.9,433.2L172.2,433.0ZM176.0,433.4L177.2,436.5L180.6,436.7L178.0,438.8L178.8,442.1L176.0,440.3L173.2,442.1L174.0,438.8L171.4,436.7L174.8,436.5ZM178.5,430.6L179.8,433.7L183.1,433.9L180.5,436.0L181.4,439.3L178.5,437.5L175.7,439.3L176.5,436.0L174.0,433.9L177.3,433.7ZM181.1,433.3L182.3,436.4L185.6,436.6L183.1,438.8L183.9,442.0L181.1,440.2L178.2,442.0L179.1,438.8L176.5,436.6L179.8,436.4ZM183.6,432.9L184.8,436.0L188.2,436.2L185.6,438.4L186.4,441.6L183.6,439.8L180.8,441.6L181.6,438.4L179.0,436.2L182.4,436.0ZM186.1,430.4L187.4,433.5L190.7,433.7L188.1,435.9L189.0,439.1L186.1,437.3L183.3,439.1L184.1,435.9L181.6,433.7L184.9,433.5ZM188.7,431.3L189.9,434.4L193.2,434.7L190.7,436.8L191.5,440.0L188.7,438.2L185.9,440.0L186.7,436.8L184.1,434.7L187.4,434.4ZM191.2,432.8L192.4,435.9L195.8,436.1L193.2,438.2L194.0,441.4L191.2,439.7L188.4,441.4L189.2,438.2L186.6,436.1L190.0,435.9ZM193.7,433.8L195.0,436.9L198.3,437.1L195.7,439.2L196.6,442.5L193.7,440.7L190.9,442.5L191.8,439.2L189.2,437.1L192.5,436.9ZM196.3,432.5L197.5,435.6L200.8,435.8L198.3,437.9L199.1,441.2L196.3,439.4L193.5,441.2L194.3,437.9L191.7,435.8L195.0,435.6ZM198.8,432.0L200.1,435.1L203.4,435.3L200.8,437.5L201.6,440.7L198.8,438.9L196.0,440.7L196.8,437.5L194.3,435.3L197.6,435.1ZM201.4,432.5L202.6,435.6L205.9,435.8L203.4,438.0L204.2,441.2L201.4,439.4L198.5,441.2L199.4,438.0L196.8,435.8L200.1,435.6ZM203.9,431.2L205.1,434.3L208.5,434.5L205.9,436.7L206.7,439.9L203.9,438.1L201.1,439.9L201.9,436.7L199.3,434.5L202.7,434.3ZM206.4,435.5L207.7,438.6L211.0,438.8L208.4,440.9L209.2,444.1L206.4,442.4L203.6,444.1L204.4,440.9L201.9,438.8L205.2,438.6ZM209.0,431.6L210.2,434.7L213.5,434.9L211.0,437.0L211.8,440.2L209.0,438.5L206.1,440.2L207.0,437.0L204.4,434.9L207.7,434.7ZM211.5,431.7L212.7,434.8L216.1,435.0L213.5,437.2L214.3,440.4L211.5,438.6L208.7,440.4L209.5,437.2L206.9,435.0L210.3,434.8ZM214.0,431.3L215.3,434.4L218.6,434.6L216.0,436.7L216.9,440.0L214.0,438.2L211.2,440.0L212.0,436.7L209.5,434.6L212.8,434.4ZM216.6,431.0L217.8,434.1L221.1,434.4L218.6,436.5L219.4,439.7L216.6,437.9L213.8,439.7L214.6,436.5L212.0,434.4L215.3,434.1ZM219.1,431.3L220.3,434.4L223.7,434.6L221.1,436.7L221.9,439.9L219.1,438.2L216.3,439.9L217.1,436.7L214.5,434.6L217.9,434.4ZM221.6,433.3L222.9,436.4L226.2,436.6L223.6,438.7L224.5,441.9L221.6,440.2L218.8,441.9L219.6,438.7L217.1,436.6L220.4,436.4ZM224.2,431.7L225.4,434.8L228.7,435.0L226.2,437.2L227.0,440.4L224.2,438.6L221.4,440.4L222.2,437.2L219.6,435.0L222.9,434.8ZM226.7,433.1L227.9,436.2L231.3,436.4L228.7,438.5L229.5,441.8L226.7,440.0L223.9,441.8L224.7,438.5L222.2,436.4L225.5,436.2ZM229.3,431.6L230.5,434.7L233.8,434.9L231.2,437.0L232.1,440.3L229.3,438.5L226.4,440.3L227.3,437.0L224.7,434.9L228.0,434.7ZM231.8,432.0L233.0,435.1L236.4,435.3L233.8,437.5L234.6,440.7L231.8,438.9L229.0,440.7L229.8,437.5L227.2,435.3L230.6,435.1ZM234.3,431.0L235.6,434.1L238.9,434.3L236.3,436.5L237.1,439.7L234.3,437.9L231.5,439.7L232.3,436.5L229.8,434.3L233.1,434.1ZM236.9,433.2L238.1,436.3L241.4,436.6L238.9,438.7L239.7,441.9L236.9,440.1L234.0,441.9L234.9,438.7L232.3,436.6L235.6,436.3ZM239.4,431.1L240.6,434.2L244.0,434.4L241.4,436.5L242.2,439.7L239.4,438.0L236.6,439.7L237.4,436.5L234.8,434.4L238.2,434.2ZM241.9,431.4L243.2,434.5L246.5,434.8L243.9,436.9L244.8,440.1L241.9,438.3L239.1,440.1L239.9,436.9L237.4,434.8L240.7,434.5ZM244.5,431.1L245.7,434.2L249.0,434.4L246.5,436.5L247.3,439.8L244.5,438.0L241.6,439.8L242.5,436.5L239.9,434.4L243.2,434.2ZM247.0,429.2L248.2,432.3L251.6,432.5L249.0,434.6L249.8,437.9L247.0,436.1L244.2,437.9L245.0,434.6L242.4,432.5L245.8,432.3ZM249.5,431.4L250.8,434.5L254.1,434.7L251.5,436.8L252.4,440.0L249.5,438.3L246.7,440.0L247.5,436.8L245.0,434.7L248.3,434.5ZM252.1,431.1L253.3,434.2L256.6,434.4L254.1,436.5L254.9,439.8L252.1,438.0L249.3,439.8L250.1,436.5L247.5,434.4L250.8,434.2ZM254.6,427.6L255.8,430.7L259.2,430.9L256.6,433.1L257.4,436.3L254.6,434.5L251.8,436.3L252.6,433.1L250.0,430.9L253.4,430.7ZM257.1,427.2L258.4,430.3L261.7,430.5L259.1,432.6L260.0,435.8L257.1,434.1L254.3,435.8L255.2,432.6L252.6,430.5L255.9,430.3ZM259.7,425.1L260.9,428.2L264.2,428.5L261.7,430.6L262.5,433.8L259.7,432.0L256.9,433.8L257.7,430.6L255.1,428.5L258.4,428.2ZM262.2,427.7L263.5,430.8L266.8,431.0L264.2,433.1L265.0,436.4L262.2,434.6L259.4,436.4L260.2,433.1L257.7,431.0L261.0,430.8ZM264.8,425.5L266.0,428.6L269.3,428.8L266.8,431.0L267.6,434.2L264.8,432.4L261.9,434.2L262.8,431.0L260.2,428.8L263.5,428.6ZM267.3,425.3L268.5,428.4L271.9,428.6L269.3,430.7L270.1,434.0L267.3,432.2L264.5,434.0L265.3,430.7L262.7,428.6L266.1,428.4ZM269.8,422.4L271.1,425.5L274.4,425.7L271.8,427.8L272.6,431.1L269.8,429.3L267.0,431.1L267.8,427.8L265.3,425.7L268.6,425.5ZM272.4,421.9L273.6,425.0L276.9,425.2L274.4,427.4L275.2,430.6L272.4,428.8L269.5,430.6L270.4,427.4L267.8,425.2L271.1,425.0ZM274.9,420.7L276.1,423.8L279.5,424.0L276.9,426.2L277.7,429.4L274.9,427.6L272.1,429.4L272.9,426.2L270.3,424.0L273.7,423.8ZM277.4,418.1L278.7,421.2L282.0,421.4L279.4,423.6L280.3,426.8L277.4,425.0L274.6,426.8L275.4,423.6L272.9,421.4L276.2,421.2ZM280.0,417.1L281.2,420.2L284.5,420.4L282.0,422.6L282.8,425.8L280.0,424.0L277.2,425.8L278.0,422.6L275.4,420.4L278.7,420.2Z" fill="#ff0000"/>
<path d="M277.4,397.6L277.5,351.5" fill="none" stroke="#ff1010" stroke-width="1.6"/>
<path d="M59.3,423.3L61.9,420.9L64.4,424.8L66.9,423.3L69.5,422.0L72.0,422.7L74.6,422.0L77.1,424.1L79.6,422.3L82.2,423.9L84.7,422.7L87.2,423.8L89.8,421.2L92.3,420.7L94.8,422.3L97.4,421.7L99.9,422.1L102.5,423.7L105.0,421.4L107.5,421.6L110.1,422.8L112.6,421.3L115.1,420.4L117.7,420.0L120.2,422.5L122.7,421.3L125.3,422.9L127.8,422.5L130.3,423.4L132.9,423.6L135.4,420.1L138.0,421.4L140.5,421.0L143.0,418.8L145.6,421.0L148.1,421.4L150.6,421.1L153.2,423.2L155.7,421.8L158.2,421.1L160.8,421.1L163.3,419.4L165.9,420.6L168.4,423.7L170.9,420.7L173.5,422.2L176.0,422.7L178.5,423.7L181.1,422.9L183.6,421.7L186.1,424.5L188.7,420.5L191.2,421.0L193.7,422.8L196.3,421.4L198.8,423.5L201.4,422.1L203.9,423.6L206.4,423.0L209.0,421.1L211.5,420.0L214.0,421.4L216.6,425.2L219.1,421.9L221.6,422.2L224.2,421.4L226.7,422.2L229.3,422.6L231.8,421.9L234.3,420.1L236.9,420.6L239.4,419.4L241.9,418.8L244.5,417.7L247.0,415.8L249.5,416.8L252.1,417.3L254.6,414.3L257.1,413.5L259.7,412.6L262.2,407.2L264.8,408.5L267.3,406.2L269.8,403.5L272.4,401.2L274.9,399.5L277.4,397.6" fill="none" stroke="#ff1010" stroke-width="1.0"/>
<path d="M59.3,419.3L63.1,422.1L61.7,426.5L57.0,426.5L55.5,422.1ZM61.9,416.9L65.7,419.7L64.2,424.2L59.5,424.2L58.1,419.7ZM64.4,420.8L68.2,423.6L66.8,428.1L62.1,428.1L60.6,423.6ZM66.9,419.3L70.8,422.0L69.3,426.5L64.6,426.5L63.1,422.0ZM69.5,418.0L73.3,420.7L71.8,425.2L67.1,425.2L65.7,420.7ZM72.0,418.7L75.8,421.4L74.4,425.9L69.7,425.9L68.2,421.4ZM74.6,418.0L78.4,420.7L76.9,425.2L72.2,425.2L70.8,420.7ZM77.1,420.1L80.9,422.8L79.4,427.3L74.7,427.3L73.3,422.8ZM79.6,418.3L83.4,421.0L82.0,425.5L77.3,425.5L75.8,421.0ZM82.2,419.9L86.0,422.7L84.5,427.2L79.8,427.2L78.4,422.7ZM84.7,418.7L88.5,421.5L87.1,425.9L82.3,425.9L80.9,421.5ZM87.2,419.8L91.0,422.5L89.6,427.0L84.9,427.0L83.4,422.5ZM89.8,417.2L93.6,420.0L92.1,424.5L87.4,424.5L86.0,420.0ZM92.3,416.7L96.1,419.5L94.7,424.0L90.0,424.0L88.5,419.5ZM94.8,418.3L98.6,421.1L97.2,425.5L92.5,425.5L91.0,421.1ZM97.4,417.7L101.2,420.5L99.7,424.9L95.0,424.9L93.6,420.5ZM99.9,418.1L103.7,420.9L102.3,425.3L97.6,425.3L96.1,420.9ZM102.5,419.7L106.3,422.5L104.8,426.9L100.1,426.9L98.6,422.5ZM105.0,417.4L108.8,420.2L107.3,424.7L102.6,424.7L101.2,420.2ZM107.5,417.6L111.3,420.4L109.9,424.8L105.2,424.8L103.7,420.4ZM110.1,418.8L113.9,421.5L112.4,426.0L107.7,426.0L106.3,421.5ZM112.6,417.3L116.4,420.1L114.9,424.6L110.2,424.6L108.8,420.1ZM115.1,416.4L118.9,419.2L117.5,423.6L112.8,423.6L111.3,419.2ZM117.7,416.0L121.5,418.8L120.0,423.3L115.3,423.3L113.9,418.8ZM120.2,418.5L124.0,421.3L122.6,425.7L117.9,425.7L116.4,421.3ZM122.7,417.3L126.5,420.0L125.1,424.5L120.4,424.5L118.9,420.0ZM125.3,418.9L129.1,421.7L127.6,426.1L122.9,426.1L121.5,421.7ZM127.8,418.5L131.6,421.3L130.2,425.7L125.5,425.7L124.0,421.3ZM130.3,419.4L134.2,422.2L132.7,426.7L128.0,426.7L126.5,422.2ZM132.9,419.6L136.7,422.4L135.2,426.8L130.5,426.8L129.1,422.4ZM135.4,416.1L139.2,418.8L137.8,423.3L133.1,423.3L131.6,418.8ZM138.0,417.4L141.8,420.2L140.3,424.6L135.6,424.6L134.2,420.2ZM140.5,417.0L144.3,419.8L142.8,424.3L138.1,424.3L136.7,419.8ZM143.0,414.8L146.8,417.5L145.4,422.0L140.7,422.0L139.2,417.5ZM145.6,417.0L149.4,419.7L147.9,424.2L143.2,424.2L141.8,419.7ZM148.1,417.4L151.9,420.1L150.5,424.6L145.7,424.6L144.3,420.1ZM150.6,417.1L154.4,419.9L153.0,424.4L148.3,424.4L146.8,419.9ZM153.2,419.2L157.0,422.0L155.5,426.5L150.8,426.5L149.4,422.0ZM155.7,417.8L159.5,420.6L158.1,425.1L153.4,425.1L151.9,420.6ZM158.2,417.1L162.0,419.9L160.6,424.4L155.9,424.4L154.4,419.9ZM160.8,417.1L164.6,419.8L163.1,424.3L158.4,424.3L157.0,419.8ZM163.3,415.4L167.1,418.2L165.7,422.6L161.0,422.6L159.5,418.2ZM165.9,416.6L169.7,419.3L168.2,423.8L163.5,423.8L162.0,419.3ZM168.4,419.7L172.2,422.5L170.7,426.9L166.0,426.9L164.6,422.5ZM170.9,416.7L174.7,419.5L173.3,423.9L168.6,423.9L167.1,419.5ZM173.5,418.2L177.3,421.0L175.8,425.4L171.1,425.4L169.7,421.0ZM176.0,418.7L179.8,421.5L178.3,425.9L173.6,425.9L172.2,421.5ZM178.5,419.7L182.3,422.4L180.9,426.9L176.2,426.9L174.7,422.4ZM181.1,418.9L184.9,421.6L183.4,426.1L178.7,426.1L177.3,421.6ZM183.6,417.7L187.4,420.4L186.0,424.9L181.3,424.9L179.8,420.4ZM186.1,420.5L189.9,423.3L188.5,427.7L183.8,427.7L182.3,423.3ZM188.7,416.5L192.5,419.2L191.0,423.7L186.3,423.7L184.9,419.2ZM191.2,417.0L195.0,419.8L193.6,424.3L188.9,424.3L187.4,419.8ZM193.7,418.8L197.6,421.6L196.1,426.1L191.4,426.1L189.9,421.6ZM196.3,417.4L200.1,420.2L198.6,424.6L193.9,424.6L192.5,420.2ZM198.8,419.5L202.6,422.3L201.2,426.8L196.5,426.8L195.0,422.3ZM201.4,418.1L205.2,420.9L203.7,425.3L199.0,425.3L197.6,420.9ZM203.9,419.6L207.7,422.3L206.2,426.8L201.5,426.8L200.1,422.3ZM206.4,419.0L210.2,421.8L208.8,426.3L204.1,426.3L202.6,421.8ZM209.0,417.1L212.8,419.9L211.3,424.4L206.6,424.4L205.2,419.9ZM211.5,416.0L215.3,418.8L213.9,423.2L209.1,423.2L207.7,418.8ZM214.0,417.4L217.8,420.2L216.4,424.7L211.7,424.7L210.2,420.2ZM216.6,421.2L220.4,424.0L218.9,428.5L214.2,428.5L212.8,424.0ZM219.1,417.9L222.9,420.7L221.5,425.2L216.8,425.2L215.3,420.7ZM221.6,418.2L225.4,421.0L224.0,425.5L219.3,425.5L217.8,421.0ZM224.2,417.4L228.0,420.2L226.5,424.7L221.8,424.7L220.4,420.2ZM226.7,418.2L230.5,421.0L229.1,425.4L224.4,425.4L222.9,421.0ZM229.3,418.6L233.1,421.3L231.6,425.8L226.9,425.8L225.4,421.3ZM231.8,417.9L235.6,420.6L234.1,425.1L229.4,425.1L228.0,420.6ZM234.3,416.1L238.1,418.9L236.7,423.3L232.0,423.3L230.5,418.9ZM236.9,416.6L240.7,419.4L239.2,423.8L234.5,423.8L233.1,419.4ZM239.4,415.4L243.2,418.2L241.7,422.7L237.0,422.7L235.6,418.2ZM241.9,414.8L245.7,417.5L244.3,422.0L239.6,422.0L238.1,417.5ZM244.5,413.7L248.3,416.4L246.8,420.9L242.1,420.9L240.7,416.4ZM247.0,411.8L250.8,414.5L249.4,419.0L244.7,419.0L243.2,414.5ZM249.5,412.8L253.3,415.6L251.9,420.1L247.2,420.1L245.7,415.6ZM252.1,413.3L255.9,416.0L254.4,420.5L249.7,420.5L248.3,416.0ZM254.6,410.3L258.4,413.1L257.0,417.6L252.3,417.6L250.8,413.1ZM257.1,409.5L261.0,412.3L259.5,416.7L254.8,416.7L253.3,412.3ZM259.7,408.6L263.5,411.4L262.0,415.9L257.3,415.9L255.9,411.4ZM262.2,403.2L266.0,406.0L264.6,410.4L259.9,410.4L258.4,406.0ZM264.8,404.5L268.6,407.3L267.1,411.7L262.4,411.7L261.0,407.3ZM267.3,402.2L271.1,404.9L269.6,409.4L264.9,409.4L263.5,404.9ZM269.8,399.5L273.6,402.2L272.2,406.7L267.5,406.7L266.0,402.2ZM272.4,397.2L276.2,400.0L274.7,404.5L270.0,404.5L268.6,400.0ZM274.9,395.5L278.7,398.3L277.3,402.7L272.5,402.7L271.1,398.3ZM277.4,393.6L281.2,396.4L279.8,400.9L275.1,400.9L273.6,396.4Z" fill="#ff0000"/>
<path d="M267.3,394.8L269.8,389.2L272.4,384.6L274.9,380.0L274.3,351.5" fill="none" stroke="#cc1010" stroke-width="1.6"/>
<path d="M59.3,408.2L61.9,410.1L64.4,408.2L66.9,408.3L69.5,409.1L72.0,411.0L74.6,408.1L77.1,409.3L79.6,407.9L82.2,406.9L84.7,409.0L87.2,410.9L89.8,408.4L92.3,408.5L94.8,408.0L97.4,405.6L99.9,407.5L102.5,406.5L105.0,407.2L107.5,407.6L110.1,408.5L112.6,406.6L115.1,406.8L117.7,410.5L120.2,408.1L122.7,408.3L125.3,406.1L127.8,410.1L130.3,407.7L132.9,407.5L135.4,405.1L138.0,408.4L140.5,406.8L143.0,410.6L145.6,408.9L148.1,408.7L150.6,405.9L153.2,408.3L155.7,405.7L158.2,406.5L160.8,409.0L163.3,410.8L165.9,408.5L168.4,409.3L170.9,410.0L173.5,408.0L176.0,408.4L178.5,410.7L181.1,411.2L183.6,409.4L186.1,407.8L188.7,408.5L191.2,407.2L193.7,409.6L196.3,412.2L198.8,408.0L201.4,408.5L203.9,409.6L206.4,409.0L209.0,410.4L211.5,409.9L214.0,408.3L216.6,410.8L219.1,407.4L221.6,408.3L224.2,408.0L226.7,407.9L229.3,406.9L231.8,407.7L234.3,408.7L236.9,408.2L239.4,409.1L241.9,409.1L244.5,406.5L247.0,408.7L249.5,407.1L252.1,405.8L254.6,404.7L257.1,403.9L259.7,401.1L262.2,401.4L264.8,397.2L267.3,394.8" fill="none" stroke="#cc1010" stroke-width="1.0"/>
<path d="M55.8,408.2a3.5,3.5 0 1,0 7.0,0a3.5,3.5 0 1,0 -7.0,0M58.4,410.1a3.5,3.5 0 1,0 7.0,0a3.5,3.5 0 1,0 -7.0,0M60.9,408.2a3.5,3.5 0 1,0 7.0,0a3.5,3.5 0 1,0 -7.0,0M63.4,408.3a3.5,3.5 0 1,0 7.0,0a3.5,3.5 0 1,0 -7.0,0M66.0,409.1a3.5,3.5 0 1,0 7.0,0a3.5,3.5 0 1,0 -7.0,0M68.5,411.0a3.5,3.5 0 1,0 7.0,0a3.5,3.5 0 1,0 -7.0,0M71.1,408.1a3.5,3.5 0 1,0 7.0,0a3.5,3.5 0 1,0 -7.0,0M73.6,409.3a3.5,3.5 0 1,0 7.0,0a3.5,3.5 0 1,0 -7.0,0M76.1,407.9a3.5,3.5 0 1,0 7.0,0a3.5,3.5 0 1,0 -7.0,0M78.7,406.9a3.5,3.5 0 1,0 7.0,0a3.5,3.5 0 1,0 -7.0,0M81.2,409.0a3.5,3.5 0 1,0 7.0,0a3.5,3.5 0 1,0 -7.0,0M83.7,410.9a3.5,3.5 0 1,0 7.0,0a3.5,3.5 0 1,0 -7.0,0M86.3,408.4a3.5,3.5 0 1,0 7.0,0a3.5,3.5 0 1,0 -7.0,0M88.8,408.5a3.5,3.5 0 1,0 7.0,0a3.5,3.5 0 1,0 -7.0,0M91.3,408.0a3.5,3.5 0 1,0 7.0,0a3.5,3.5 0 1,0 -7.0,0M93.9,405.6a3.5,3.5 0 1,0 7.0,0a3.5,3.5 0 1,0 -7.0,0M96.4,407.5a3.5,3.5 0 1,0 7.0,0a3.5,3.5 0 1,0 -7.0,0M99.0,406.5a3.5,3.5 0 1,0 7.0,0a3.5,3.5 0 1,0 -7.0,0M101.5,407.2a3.5,3.5 0 1,0 7.0,0a3.5,3.5 0 1,0 -7.0,0M104.0,407.6a3.5,3.5 0 1,0 7.0,0a3.5,3.5 0 1,0 -7.0,0M106.6,408.5a3.5,3.5 0 1,0 7.0,0a3.5,3.5 0 1,0 -7.0,0M109.1,406.6a3.5,3.5 0 1,0 7.0,0a3.5,3.5 0 1,0 -7.0,0M111.6,406.8a3.5,3.5 0 1,0 7.0,0a3.5,3.5 0 1,0 -7.0,0M114.2,410.5a3.5,3.5 0 1,0 7.0,0a3.5,3.5 0 1,0 -7.0,0M116.7,408.1a3.5,3.5 0 1,0 7.0,0a3.5,3.5 0 1,0 -7.0,0M119.2,408.3a3.5,3.5 0 1,0 7.0,0a3.5,3.5 0 1,0 -7.0,0M121.8,406.1a3.5,3.5 0 1,0 7.0,0a3.5,3.5 0 1,0 -7.0,0M124.3,410.1a3.5,3.5 0 1,0 7.0,0a3.5,3.5 0 1,0 -7.0,0M126.8,407.7a3.5,3.5 0 1,0 7.0,0a3.5,3.5 0 1,0 -7.0,0M129.4,407.5a3.5,3.5 0 1,0 7.0,0a3.5,3.5 0 1,0 -7.0,0M131.9,405.1a3.5,3.5 0 1,0 7.0,0a3.5,3.5 0 1,0 -7.0,0M134.5,408.4a3.5,3.5 0 1,0 7.0,0a3.5,3.5 0 1,0 -7.0,0M137.0,406.8a3.5,3.5 0 1,0 7.0,0a3.5,3.5 0 1,0 -7.0,0M139.5,410.6a3.5,3.5 0 1,0 7.0,0a3.5,3.5 0 1,0 -7.0,0M142.1,408.9a3.5,3.5 0 1,0 7.0,0a3.5,3.5 0 1,0 -7.0,0M144.6,408.7a3.5,3.5 0 1,0 7.0,0a3.5,3.5 0 1,0 -7.0,0M147.1,405.9a3.5,3.5 0 1,0 7.0,0a3.5,3.5 0 1,0 -7.0,0M149.7,408.3a3.5,3.5 0 1,0 7.0,0a3.5,3.5 0 1,0 -7.0,0M152.2,405.7a3.5,3.5 0 1,0 7.0,0a3.5,3.5 0 1,0 -7.0,0M154.7,406.5a3.5,3.5 0 1,0 7.0,0a3.5,3.5 0 1,0 -7.0,0M157.3,409.0a3.5,3.5 0 1,0 7.0,0a3.5,3.5 0 1,0 -7.0,0M159.8,410.8a3.5,3.5 0 1,0 7.0,0a3.5,3.5 0 1,0 -7.0,0M162.4,408.5a3.5,3.5 0 1,0 7.0,0a3.5,3.5 0 1,0 -7.0,0M164.9,409.3a3.5,3.5 0 1,0 7.0,0a3.5,3.5 0 1,0 -7.0,0M167.4,410.0a3.5,3.5 0 1,0 7.0,0a3.5,3.5 0 1,0 -7.0,0M170.0,408.0a3.5,3.5 0 1,0 7.0,0a3.5,3.5 0 1,0 -7.0,0M172.5,408.4a3.5,3.5 0 1,0 7.0,0a3.5,3.5 0 1,0 -7.0,0M175.0,410.7a3.5,3.5 0 1,0 7.0,0a3.5,3.5 0 1,0 -7.0,0M177.6,411.2a3.5,3.5 0 1,0 7.0,0a3.5,3.5 0 1,0 -7.0,0M180.1,409.4a3.5,3.5 0 1,0 7.0,0a3.5,3.5 0 1,0 -7.0,0M182.6,407.8a3.5,3.5 0 1,0 7.0,0a3.5,3.5 0 1,0 -7.0,0M185.2,408.5a3.5,3.5 0 1,0 7.0,0a3.5,3.5 0 1,0 -7.0,0M187.7,407.2a3.5,3.5 0 1,0 7.0,0a3.5,3.5 0 1,0 -7.0,0M190.2,409.6a3.5,3.5 0 1,0 7.0,0a3.5,3.5 0 1,0 -7.0,0M192.8,412.2a3.5,3.5 0 1,0 7.0,0a3.5,3.5 0 1,0 -7.0,0M195.3,408.0a3.5,3.5 0 1,0 7.0,0a3.5,3.5 0 1,0 -7.0,0M197.9,408.5a3.5,3.5 0 1,0 7.0,0a3.5,3.5 0 1,0 -7.0,0M200.4,409.6a3.5,3.5 0 1,0 7.0,0a3.5,3.5 0 1,0 -7.0,0M202.9,409.0a3.5,3.5 0 1,0 7.0,0a3.5,3.5 0 1,0 -7.0,0M205.5,410.4a3.5,3.5 0 1,0 7.0,0a3.5,3.5 0 1,0 -7.0,0M208.0,409.9a3.5,3.5 0 1,0 7.0,0a3.5,3.5 0 1,0 -7.0,0M210.5,408.3a3.5,3.5 0 1,0 7.0,0a3.5,3.5 0 1,0 -7.0,0M213.1,410.8a3.5,3.5 0 1,0 7.0,0a3.5,3.5 0 1,0 -7.0,0M215.6,407.4a3.5,3.5 0 1,0 7.0,0a3.5,3.5 0 1,0 -7.0,0M218.1,408.3a3.5,3.5 0 1,0 7.0,0a3.5,3.5 0 1,0 -7.0,0M220.7,408.0a3.5,3.5 0 1,0 7.0,0a3.5,3.5 0 1,0 -7.0,0M223.2,407.9a3.5,3.5 0 1,0 7.0,0a3.5,3.5 0 1,0 -7.0,0M225.8,406.9a3.5,3.5 0 1,0 7.0,0a3.5,3.5 0 1,0 -7.0,0M228.3,407.7a3.5,3.5 0 1,0 7.0,0a3.5,3.5 0 1,0 -7.0,0M230.8,408.7a3.5,3.5 0 1,0 7.0,0a3.5,3.5 0 1,0 -7.0,0M233.4,408.2a3.5,3.5 0 1,0 7.0,0a3.5,3.5 0 1,0 -7.0,0M235.9,409.1a3.5,3.5 0 1,0 7.0,0a3.5,3.5 0 1,0 -7.0,0M238.4,409.1a3.5,3.5 0 1,0 7.0,0a3.5,3.5 0 1,0 -7.0,0M241.0,406.5a3.5,3.5 0 1,0 7.0,0a3.5,3.5 0 1,0 -7.0,0M243.5,408.7a3.5,3.5 0 1,0 7.0,0a3.5,3.5 0 1,0 -7.0,0M246.0,407.1a3.5,3.5 0 1,0 7.0,0a3.5,3.5 0 1,0 -7.0,0M248.6,405.8a3.5,3.5 0 1,0 7.0,0a3.5,3.5 0 1,0 -7.0,0M251.1,404.7a3.5,3.5 0 1,0 7.0,0a3.5,3.5 0 1,0 -7.0,0M253.6,403.9a3.5,3.5 0 1,0 7.0,0a3.5,3.5 0 1,0 -7.0,0M256.2,401.1a3.5,3.5 0 1,0 7.0,0a3.5,3.5 0 1,0 -7.0,0M258.7,401.4a3.5,3.5 0 1,0 7.0,0a3.5,3.5 0 1,0 -7.0,0M261.3,397.2a3.5,3.5 0 1,0 7.0,0a3.5,3.5 0 1,0 -7.0,0M263.8,394.8a3.5,3.5 0 1,0 7.0,0a3.5,3.5 0 1,0 -7.0,0M266.3,389.2a3.5,3.5 0 1,0 7.0,0a3.5,3.5 0 1,0 -7.0,0M268.9,384.6a3.5,3.5 0 1,0 7.0,0a3.5,3.5 0 1,0 -7.0,0M271.4,380.0a3.5,3.5 0 1,0 7.0,0a3.5,3.5 0 1,0 -7.0,0" fill="#c00000"/>
<path d="M57.4,407.4a0.9,0.9 0 1,0 1.8,0a0.9,0.9 0 1,0 -1.8,0M60.0,409.3a0.9,0.9 0 1,0 1.8,0a0.9,0.9 0 1,0 -1.8,0M62.5,407.4a0.9,0.9 0 1,0 1.8,0a0.9,0.9 0 1,0 -1.8,0M65.0,407.5a0.9,0.9 0 1,0 1.8,0a0.9,0.9 0 1,0 -1.8,0M67.6,408.3a0.9,0.9 0 1,0 1.8,0a0.9,0.9 0 1,0 -1.8,0M70.1,410.2a0.9,0.9 0 1,0 1.8,0a0.9,0.9 0 1,0 -1.8,0M72.7,407.3a0.9,0.9 0 1,0 1.8,0a0.9,0.9 0 1,0 -1.8,0M75.2,408.5a0.9,0.9 0 1,0 1.8,0a0.9,0.9 0 1,0 -1.8,0M77.7,407.1a0.9,0.9 0 1,0 1.8,0a0.9,0.9 0 1,0 -1.8,0M80.3,406.1a0.9,0.9 0 1,0 1.8,0a0.9,0.9 0 1,0 -1.8,0M82.8,408.2a0.9,0.9 0 1,0 1.8,0a0.9,0.9 0 1,0 -1.8,0M85.3,410.1a0.9,0.9 0 1,0 1.8,0a0.9,0.9 0 1,0 -1.8,0M87.9,407.6a0.9,0.9 0 1,0 1.8,0a0.9,0.9 0 1,0 -1.8,0M90.4,407.7a0.9,0.9 0 1,0 1.8,0a0.9,0.9 0 1,0 -1.8,0M92.9,407.2a0.9,0.9 0 1,0 1.8,0a0.9,0.9 0 1,0 -1.8,0M95.5,404.8a0.9,0.9 0 1,0 1.8,0a0.9,0.9 0 1,0 -1.8,0M98.0,406.7a0.9,0.9 0 1,0 1.8,0a0.9,0.9 0 1,0 -1.8,0M100.6,405.7a0.9,0.9 0 1,0 1.8,0a0.9,0.9 0 1,0 -1.8,0M103.1,406.4a0.9,0.9 0 1,0 1.8,0a0.9,0.9 0 1,0 -1.8,0M105.6,406.8a0.9,0.9 0 1,0 1.8,0a0.9,0.9 0 1,0 -1.8,0M108.2,407.7a0.9,0.9 0 1,0 1.8,0a0.9,0.9 0 1,0 -1.8,0M110.7,405.8a0.9,0.9 0 1,0 1.8,0a0.9,0.9 0 1,0 -1.8,0M113.2,406.0a0.9,0.9 0 1,0 1.8,0a0.9,0.9 0 1,0 -1.8,0M115.8,409.7a0.9,0.9 0 1,0 1.8,0a0.9,0.9 0 1,0 -1.8,0M118.3,407.3a0.9,0.9 0 1,0 1.8,0a0.9,0.9 0 1,0 -1.8,0M120.8,407.5a0.9,0.9 0 1,0 1.8,0a0.9,0.9 0 1,0 -1.8,0M123.4,405.3a0.9,0.9 0 1,0 1.8,0a0.9,0.9 0 1,0 -1.8,0M125.9,409.3a0.9,0.9 0 1,0 1.8,0a0.9,0.9 0 1,0 -1.8,0M128.4,406.9a0.9,0.9 0 1,0 1.8,0a0.9,0.9 0 1,0 -1.8,0M131.0,406.7a0.9,0.9 0 1,0 1.8,0a0.9,0.9 0 1,0 -1.8,0M133.5,404.3a0.9,0.9 0 1,0 1.8,0a0.9,0.9 0 1,0 -1.8,0M136.1,407.6a0.9,0.9 0 1,0 1.8,0a0.9,0.9 0 1,0 -1.8,0M138.6,406.0a0.9,0.9 0 1,0 1.8,0a0.9,0.9 0 1,0 -1.8,0M141.1,409.8a0.9,0.9 0 1,0 1.8,0a0.9,0.9 0 1,0 -1.8,0M143.7,408.1a0.9,0.9 0 1,0 1.8,0a0.9,0.9 0 1,0 -1.8,0M146.2,407.9a0.9,0.9 0 1,0 1.8,0a0.9,0.9 0 1,0 -1.8,0M148.7,405.1a0.9,0.9 0 1,0 1.8,0a0.9,0.9 0 1,0 -1.8,0M151.3,407.5a0.9,0.9 0 1,0 1.8,0a0.9,0.9 0 1,0 -1.8,0M153.8,404.9a0.9,0.9 0 1,0 1.8,0a0.9,0.9 0 1,0 -1.8,0M156.3,405.7a0.9,0.9 0 1,0 1.8,0a0.9,0.9 0 1,0 -1.8,0M158.9,408.2a0.9,0.9 0 1,0 1.8,0a0.9,0.9 0 1,0 -1.8,0M161.4,410.0a0.9,0.9 0 1,0 1.8,0a0.9,0.9 0 1,0 -1.8,0M164.0,407.7a0.9,0.9 0 1,0 1.8,0a0.9,0.9 0 1,0 -1.8,0M166.5,408.5a0.9,0.9 0 1,0 1.8,0a0.9,0.9 0 1,0 -1.8,0M169.0,409.2a0.9,0.9 0 1,0 1.8,0a0.9,0.9 0 1,0 -1.8,0M171.6,407.2a0.9,0.9 0 1,0 1.8,0a0.9,0.9 0 1,0 -1.8,0M174.1,407.6a0.9,0.9 0 1,0 1.8,0a0.9,0.9 0 1,0 -1.8,0M176.6,409.9a0.9,0.9 0 1,0 1.8,0a0.9,0.9 0 1,0 -1.8,0M179.2,410.4a0.9,0.9 0 1,0 1.8,0a0.9,0.9 0 1,0 -1.8,0M181.7,408.6a0.9,0.9 0 1,0 1.8,0a0.9,0.9 0 1,0 -1.8,0M184.2,407.0a0.9,0.9 0 1,0 1.8,0a0.9,0.9 0 1,0 -1.8,0M186.8,407.7a0.9,0.9 0 1,0 1.8,0a0.9,0.9 0 1,0 -1.8,0M189.3,406.4a0.9,0.9 0 1,0 1.8,0a0.9,0.9 0 1,0 -1.8,0M191.8,408.8a0.9,0.9 0 1,0 1.8,0a0.9,0.9 0 1,0 -1.8,0M194.4,411.4a0.9,0.9 0 1,0 1.8,0a0.9,0.9 0 1,0 -1.8,0M196.9,407.2a0.9,0.9 0 1,0 1.8,0a0.9,0.9 0 1,0 -1.8,0M199.5,407.7a0.9,0.9 0 1,0 1.8,0a0.9,0.9 0 1,0 -1.8,0M202.0,408.8a0.9,0.9 0 1,0 1.8,0a0.9,0.9 0 1,0 -1.8,0M204.5,408.2a0.9,0.9 0 1,0 1.8,0a0.9,0.9 0 1,0 -1.8,0M207.1,409.6a0.9,0.9 0 1,0 1.8,0a0.9,0.9 0 1,0 -1.8,0M209.6,409.1a0.9,0.9 0 1,0 1.8,0a0.9,0.9 0 1,0 -1.8,0M212.1,407.5a0.9,0.9 0 1,0 1.8,0a0.9,0.9 0 1,0 -1.8,0M214.7,410.0a0.9,0.9 0 1,0 1.8,0a0.9,0.9 0 1,0 -1.8,0M217.2,406.6a0.9,0.9 0 1,0 1.8,0a0.9,0.9 0 1,0 -1.8,0M219.7,407.5a0.9,0.9 0 1,0 1.8,0a0.9,0.9 0 1,0 -1.8,0M222.3,407.2a0.9,0.9 0 1,0 1.8,0a0.9,0.9 0 1,0 -1.8,0M224.8,407.1a0.9,0.9 0 1,0 1.8,0a0.9,0.9 0 1,0 -1.8,0M227.4,406.1a0.9,0.9 0 1,0 1.8,0a0.9,0.9 0 1,0 -1.8,0M229.9,406.9a0.9,0.9 0 1,0 1.8,0a0.9,0.9 0 1,0 -1.8,0M232.4,407.9a0.9,0.9 0 1,0 1.8,0a0.9,0.9 0 1,0 -1.8,0M235.0,407.4a0.9,0.9 0 1,0 1.8,0a0.9,0.9 0 1,0 -1.8,0M237.5,408.3a0.9,0.9 0 1,0 1.8,0a0.9,0.9 0 1,0 -1.8,0M240.0,408.3a0.9,0.9 0 1,0 1.8,0a0.9,0.9 0 1,0 -1.8,0M242.6,405.7a0.9,0.9 0 1,0 1.8,0a0.9,0.9 0 1,0 -1.8,0M245.1,407.9a0.9,0.9 0 1,0 1.8,0a0.9,0.9 0 1,0 -1.8,0M247.6,406.3a0.9,0.9 0 1,0 1.8,0a0.9,0.9 0 1,0 -1.8,0M250.2,405.0a0.9,0.9 0 1,0 1.8,0a0.9,0.9 0 1,0 -1.8,0M252.7,403.9a0.9,0.9 0 1,0 1.8,0a0.9,0.9 0 1,0 -1.8,0M255.2,403.1a0.9,0.9 0 1,0 1.8,0a0.9,0.9 0 1,0 -1.8,0M257.8,400.3a0.9,0.9 0 1,0 1.8,0a0.9,0.9 0 1,0 -1.8,0M260.3,400.6a0.9,0.9 0 1,0 1.8,0a0.9,0.9 0 1,0 -1.8,0M262.9,396.4a0.9,0.9 0 1,0 1.8,0a0.9,0.9 0 1,0 -1.8,0M265.4,394.0a0.9,0.9 0 1,0 1.8,0a0.9,0.9 0 1,0 -1.8,0M267.9,388.4a0.9,0.9 0 1,0 1.8,0a0.9,0.9 0 1,0 -1.8,0M270.5,383.8a0.9,0.9 0 1,0 1.8,0a0.9,0.9 0 1,0 -1.8,0M273.0,379.2a0.9,0.9 0 1,0 1.8,0a0.9,0.9 0 1,0 -1.8,0" fill="#ffffff" opacity="0.65"/>
<path d="M272.4,379.7L272.1,351.5" fill="none" stroke="#8b1010" stroke-width="1.6"/>
<path d="M59.3,391.9L61.9,390.6L64.4,392.4L66.9,390.2L69.5,392.4L72.0,392.6L74.6,391.2L77.1,395.1L79.6,392.6L82.2,390.2L84.7,392.6L87.2,390.9L89.8,393.9L92.3,393.4L94.8,393.3L97.4,392.7L99.9,390.8L102.5,395.6L105.0,395.2L107.5,393.5L110.1,391.0L112.6,394.0L115.1,392.1L117.7,392.6L120.2,394.1L122.7,394.0L125.3,396.2L127.8,393.6L130.3,395.0L132.9,393.4L135.4,394.7L138.0,394.1L140.5,392.7L143.0,395.1L145.6,396.1L148.1,392.6L150.6,394.6L153.2,392.6L155.7,394.7L158.2,393.6L160.8,393.5L163.3,393.4L165.9,393.6L168.4,393.5L170.9,393.7L173.5,391.9L176.0,394.9L178.5,394.6L181.1,393.5L183.6,394.1L186.1,394.0L188.7,393.3L191.2,393.3L193.7,393.6L196.3,393.2L198.8,392.6L201.4,393.9L203.9,393.0L206.4,392.2L209.0,393.5L211.5,393.6L214.0,392.5L216.6,395.2L219.1,392.2L221.6,390.5L224.2,391.9L226.7,392.8L229.3,389.8L231.8,391.7L234.3,391.8L236.9,390.8L239.4,390.4L241.9,391.2L244.5,391.5L247.0,392.0L249.5,391.8L252.1,394.1L254.6,389.0L257.1,388.2L259.7,387.7L262.2,387.4L264.8,384.9L267.3,383.1L269.8,381.3L272.4,379.7" fill="none" stroke="#a43c4a" stroke-width="0.7"/>
<path d="M56.3,391.9h6M59.3,388.3v7.2M58.9,390.6h6M61.9,387.0v7.2M61.4,392.4h6M64.4,388.8v7.2M63.9,390.2h6M66.9,386.6v7.2M66.5,392.4h6M69.5,388.8v7.2M69.0,392.6h6M72.0,389.0v7.2M71.6,391.2h6M74.6,387.6v7.2M74.1,395.1h6M77.1,391.5v7.2M76.6,392.6h6M79.6,389.0v7.2M79.2,390.2h6M82.2,386.6v7.2M81.7,392.6h6M84.7,389.0v7.2M84.2,390.9h6M87.2,387.3v7.2M86.8,393.9h6M89.8,390.3v7.2M89.3,393.4h6M92.3,389.8v7.2M91.8,393.3h6M94.8,389.7v7.2M94.4,392.7h6M97.4,389.1v7.2M96.9,390.8h6M99.9,387.2v7.2M99.5,395.6h6M102.5,392.0v7.2M102.0,395.2h6M105.0,391.6v7.2M104.5,393.5h6M107.5,389.9v7.2M107.1,391.0h6M110.1,387.4v7.2M109.6,394.0h6M112.6,390.4v7.2M112.1,392.1h6M115.1,388.5v7.2M114.7,392.6h6M117.7,389.0v7.2M117.2,394.1h6M120.2,390.5v7.2M119.7,394.0h6M122.7,390.4v7.2M122.3,396.2h6M125.3,392.6v7.2M124.8,393.6h6M127.8,390.0v7.2M127.3,395.0h6M130.3,391.4v7.2M129.9,393.4h6M132.9,389.8v7.2M132.4,394.7h6M135.4,391.1v7.2M135.0,394.1h6M138.0,390.5v7.2M137.5,392.7h6M140.5,389.1v7.2M140.0,395.1h6M143.0,391.5v7.2M142.6,396.1h6M145.6,392.5v7.2M145.1,392.6h6M148.1,389.0v7.2M147.6,394.6h6M150.6,391.0v7.2M150.2,392.6h6M153.2,389.0v7.2M152.7,394.7h6M155.7,391.1v7.2M155.2,393.6h6M158.2,390.0v7.2M157.8,393.5h6M160.8,389.9v7.2M160.3,393.4h6M163.3,389.8v7.2M162.9,393.6h6M165.9,390.0v7.2M165.4,393.5h6M168.4,389.9v7.2M167.9,393.7h6M170.9,390.1v7.2M170.5,391.9h6M173.5,388.3v7.2M173.0,394.9h6M176.0,391.3v7.2M175.5,394.6h6M178.5,391.0v7.2M178.1,393.5h6M181.1,389.9v7.2M180.6,394.1h6M183.6,390.5v7.2M183.1,394.0h6M186.1,390.4v7.2M185.7,393.3h6M188.7,389.7v7.2M188.2,393.3h6M191.2,389.7v7.2M190.7,393.6h6M193.7,390.0v7.2M193.3,393.2h6M196.3,389.6v7.2M195.8,392.6h6M198.8,389.0v7.2M198.4,393.9h6M201.4,390.3v7.2M200.9,393.0h6M203.9,389.4v7.2M203.4,392.2h6M206.4,388.6v7.2M206.0,393.5h6M209.0,389.9v7.2M208.5,393.6h6M211.5,390.0v7.2M211.0,392.5h6M214.0,388.9v7.2M213.6,395.2h6M216.6,391.6v7.2M216.1,392.2h6M219.1,388.6v7.2M218.6,390.5h6M221.6,386.9v7.2M221.2,391.9h6M224.2,388.3v7.2M223.7,392.8h6M226.7,389.2v7.2M226.3,389.8h6M229.3,386.2v7.2M228.8,391.7h6M231.8,388.1v7.2M231.3,391.8h6M234.3,388.2v7.2M233.9,390.8h6M236.9,387.2v7.2M236.4,390.4h6M239.4,386.8v7.2M238.9,391.2h6M241.9,387.6v7.2M241.5,391.5h6M244.5,387.9v7.2M244.0,392.0h6M247.0,388.4v7.2M246.5,391.8h6M249.5,388.2v7.2M249.1,394.1h6M252.1,390.5v7.2M251.6,389.0h6M254.6,385.4v7.2M254.1,388.2h6M257.1,384.6v7.2M256.7,387.7h6M259.7,384.1v7.2M259.2,387.4h6M262.2,383.8v7.2M261.8,384.9h6M264.8,381.3v7.2M264.3,383.1h6M267.3,379.5v7.2M266.8,381.3h6M269.8,377.7v7.2M269.4,379.7h6M272.4,376.1v7.2" fill="none" stroke="#a43c4a" stroke-width="1.0"/>
</g>
<g clip-path="url(#ca)">
<path d="M-126.4,381.9L-121.8,380.9L-117.2,379.2L-112.5,378.0L-107.9,376.0L-103.3,374.5L-98.6,373.0L-94.0,371.5L-89.4,369.5L-84.7,368.2L-80.1,367.0L-75.5,365.2L-70.8,363.5L-66.2,361.8L-61.5,359.8L-56.9,358.9L-52.3,357.3L-47.6,355.6L-43.0,353.8L-38.4,352.0L-33.7,350.9L-29.1,349.4L-24.5,347.8L-19.8,346.1L-15.2,344.6L-10.6,342.9L-5.9,341.2L-1.3,339.7L3.3,337.9L8.0,337.5L12.6,335.4L17.2,334.0L21.9,331.7L26.5,330.7L31.1,329.0L35.8,327.1L40.4,326.1L45.0,324.6L49.7,323.3L54.3,321.3L58.9,319.8L63.6,318.2L68.2,317.7L72.8,314.9L77.5,313.2L82.1,312.1L86.7,309.8L91.4,308.1L96.0,307.7L100.6,305.5L105.3,304.0L109.9,302.9L114.5,300.3L119.2,299.5L123.8,297.5L128.4,296.5L133.1,294.4L137.7,292.7L142.3,291.1L147.0,289.8L151.6,288.3L156.2,286.7L160.9,285.1L165.5,283.2L170.2,282.5L174.8,281.0L179.4,278.9L184.1,276.8L188.7,276.0L193.3,275.6L198.0,273.4L202.6,271.1L207.2,270.1L211.9,267.3L216.5,265.0L221.1,263.8L225.8,261.7L230.4,259.7L235.0,257.2L239.7,255.4L244.3,253.5L248.9,250.2L253.6,247.4L258.2,244.0L262.8,241.8L267.5,236.7L272.1,233.7L276.7,229.7L281.4,225.9L286.0,220.8L290.6,216.5L295.3,211.4L299.9,206.0L304.5,201.0L309.2,196.1L313.8,192.5L318.0,2.0" fill="none" stroke="#8a00c8" stroke-width="1.6"/>
<path d="M120.7,294.4L126.9,294.4L126.9,300.6L120.7,300.6ZM125.3,293.4L131.5,293.4L131.5,299.6L125.3,299.6ZM130.0,291.3L136.2,291.3L136.2,297.5L130.0,297.5ZM134.6,289.6L140.8,289.6L140.8,295.8L134.6,295.8ZM139.2,288.0L145.4,288.0L145.4,294.2L139.2,294.2ZM143.9,286.7L150.1,286.7L150.1,292.9L143.9,292.9ZM148.5,285.2L154.7,285.2L154.7,291.4L148.5,291.4ZM153.1,283.6L159.3,283.6L159.3,289.8L153.1,289.8ZM157.8,282.0L164.0,282.0L164.0,288.2L157.8,288.2ZM162.4,280.1L168.6,280.1L168.6,286.3L162.4,286.3ZM167.1,279.4L173.3,279.4L173.3,285.6L167.1,285.6ZM171.7,277.9L177.9,277.9L177.9,284.1L171.7,284.1ZM176.3,275.8L182.5,275.8L182.5,282.0L176.3,282.0ZM181.0,273.7L187.2,273.7L187.2,279.9L181.0,279.9ZM185.6,272.9L191.8,272.9L191.8,279.1L185.6,279.1ZM190.2,272.5L196.4,272.5L196.4,278.7L190.2,278.7ZM194.9,270.3L201.1,270.3L201.1,276.5L194.9,276.5ZM199.5,268.0L205.7,268.0L205.7,274.2L199.5,274.2ZM204.1,267.0L210.3,267.0L210.3,273.2L204.1,273.2ZM208.8,264.2L215.0,264.2L215.0,270.4L208.8,270.4ZM213.4,261.9L219.6,261.9L219.6,268.1L213.4,268.1ZM218.0,260.7L224.2,260.7L224.2,266.9L218.0,266.9ZM222.7,258.6L228.9,258.6L228.9,264.8L222.7,264.8ZM227.3,256.6L233.5,256.6L233.5,262.8L227.3,262.8ZM231.9,254.1L238.1,254.1L238.1,260.3L231.9,260.3ZM236.6,252.3L242.8,252.3L242.8,258.5L236.6,258.5ZM241.2,250.4L247.4,250.4L247.4,256.6L241.2,256.6ZM245.8,247.1L252.0,247.1L252.0,253.3L245.8,253.3ZM250.5,244.3L256.7,244.3L256.7,250.5L250.5,250.5ZM255.1,240.9L261.3,240.9L261.3,247.1L255.1,247.1ZM259.7,238.7L265.9,238.7L265.9,244.9L259.7,244.9ZM264.4,233.6L270.6,233.6L270.6,239.8L264.4,239.8ZM269.0,230.6L275.2,230.6L275.2,236.8L269.0,236.8ZM273.6,226.6L279.8,226.6L279.8,232.8L273.6,232.8ZM278.3,222.8L284.5,222.8L284.5,229.0L278.3,229.0ZM282.9,217.7L289.1,217.7L289.1,223.9L282.9,223.9ZM287.5,213.4L293.7,213.4L293.7,219.6L287.5,219.6ZM292.2,208.3L298.4,208.3L298.4,214.5L292.2,214.5ZM296.8,202.9L303.0,202.9L303.0,209.1L296.8,209.1ZM301.4,197.9L307.6,197.9L307.6,204.1L301.4,204.1ZM306.1,193.0L312.3,193.0L312.3,199.2L306.1,199.2ZM310.7,189.4L316.9,189.4L316.9,195.6L310.7,195.6Z" fill="#7f00b2"/>
<path d="M-126.4,376.2L-121.8,374.2L-117.2,372.6L-112.5,370.8L-107.9,369.2L-103.3,367.5L-98.6,365.8L-94.0,364.7L-89.4,362.5L-84.7,361.6L-80.1,359.3L-75.5,357.9L-70.8,356.5L-66.2,354.8L-61.5,353.4L-56.9,351.2L-52.3,349.0L-47.6,347.7L-43.0,346.4L-38.4,344.5L-33.7,344.0L-29.1,341.8L-24.5,340.3L-19.8,338.6L-15.2,337.1L-10.6,335.1L-5.9,334.2L-1.3,332.2L3.3,330.2L8.0,328.7L12.6,327.3L17.2,325.4L21.9,324.8L26.5,322.2L31.1,320.6L35.8,318.6L40.4,316.9L45.0,316.1L49.7,314.1L54.3,312.5L58.9,310.6L63.6,309.6L68.2,307.9L72.8,305.4L77.5,304.3L82.1,302.9L86.7,300.9L91.4,298.6L96.0,298.1L100.6,296.8L105.3,295.4L109.9,292.9L114.5,291.7L119.2,290.1L123.8,288.7L128.4,286.8L133.1,284.8L137.7,284.1L142.3,282.2L147.0,280.9L151.6,278.7L156.2,277.4L160.9,275.4L165.5,274.0L170.2,272.5L174.8,271.2L179.4,269.0L184.1,268.2L188.7,266.7L193.3,264.7L198.0,262.5L202.6,261.0L207.2,259.8L211.9,257.7L216.5,255.2L221.1,254.1L225.8,252.3L230.4,249.6L235.0,247.6L239.7,246.0L244.3,244.7L248.9,242.5L253.6,239.2L258.2,237.1L262.8,233.9L267.5,231.0L272.1,226.7L276.7,222.4L281.4,218.6L286.0,213.4L290.6,208.8L295.3,203.7L299.9,198.3L304.5,194.2L309.2,190.9L313.1,2.0" fill="none" stroke="#2a00ff" stroke-width="1.6"/>
<path d="M92.5,298.1a3.5,3.5 0 1,0 7.0,0a3.5,3.5 0 1,0 -7.0,0M97.1,296.8a3.5,3.5 0 1,0 7.0,0a3.5,3.5 0 1,0 -7.0,0M101.8,295.4a3.5,3.5 0 1,0 7.0,0a3.5,3.5 0 1,0 -7.0,0M106.4,292.9a3.5,3.5 0 1,0 7.0,0a3.5,3.5 0 1,0 -7.0,0M111.0,291.7a3.5,3.5 0 1,0 7.0,0a3.5,3.5 0 1,0 -7.0,0M115.7,290.1a3.5,3.5 0 1,0 7.0,0a3.5,3.5 0 1,0 -7.0,0M120.3,288.7a3.5,3.5 0 1,0 7.0,0a3.5,3.5 0 1,0 -7.0,0M124.9,286.8a3.5,3.5 0 1,0 7.0,0a3.5,3.5 0 1,0 -7.0,0M129.6,284.8a3.5,3.5 0 1,0 7.0,0a3.5,3.5 0 1,0 -7.0,0M134.2,284.1a3.5,3.5 0 1,0 7.0,0a3.5,3.5 0 1,0 -7.0,0M138.8,282.2a3.5,3.5 0 1,0 7.0,0a3.5,3.5 0 1,0 -7.0,0M143.5,280.9a3.5,3.5 0 1,0 7.0,0a3.5,3.5 0 1,0 -7.0,0M148.1,278.7a3.5,3.5 0 1,0 7.0,0a3.5,3.5 0 1,0 -7.0,0M152.7,277.4a3.5,3.5 0 1,0 7.0,0a3.5,3.5 0 1,0 -7.0,0M157.4,275.4a3.5,3.5 0 1,0 7.0,0a3.5,3.5 0 1,0 -7.0,0M162.0,274.0a3.5,3.5 0 1,0 7.0,0a3.5,3.5 0 1,0 -7.0,0M166.7,272.5a3.5,3.5 0 1,0 7.0,0a3.5,3.5 0 1,0 -7.0,0M171.3,271.2a3.5,3.5 0 1,0 7.0,0a3.5,3.5 0 1,0 -7.0,0M175.9,269.0a3.5,3.5 0 1,0 7.0,0a3.5,3.5 0 1,0 -7.0,0M180.6,268.2a3.5,3.5 0 1,0 7.0,0a3.5,3.5 0 1,0 -7.0,0M185.2,266.7a3.5,3.5 0 1,0 7.0,0a3.5,3.5 0 1,0 -7.0,0M189.8,264.7a3.5,3.5 0 1,0 7.0,0a3.5,3.5 0 1,0 -7.0,0M194.5,262.5a3.5,3.5 0 1,0 7.0,0a3.5,3.5 0 1,0 -7.0,0M199.1,261.0a3.5,3.5 0 1,0 7.0,0a3.5,3.5 0 1,0 -7.0,0M203.7,259.8a3.5,3.5 0 1,0 7.0,0a3.5,3.5 0 1,0 -7.0,0M208.4,257.7a3.5,3.5 0 1,0 7.0,0a3.5,3.5 0 1,0 -7.0,0M213.0,255.2a3.5,3.5 0 1,0 7.0,0a3.5,3.5 0 1,0 -7.0,0M217.6,254.1a3.5,3.5 0 1,0 7.0,0a3.5,3.5 0 1,0 -7.0,0M222.3,252.3a3.5,3.5 0 1,0 7.0,0a3.5,3.5 0 1,0 -7.0,0M226.9,249.6a3.5,3.5 0 1,0 7.0,0a3.5,3.5 0 1,0 -7.0,0M231.5,247.6a3.5,3.5 0 1,0 7.0,0a3.5,3.5 0 1,0 -7.0,0M236.2,246.0a3.5,3.5 0 1,0 7.0,0a3.5,3.5 0 1,0 -7.0,0M240.8,244.7a3.5,3.5 0 1,0 7.0,0a3.5,3.5 0 1,0 -7.0,0M245.4,242.5a3.5,3.5 0 1,0 7.0,0a3.5,3.5 0 1,0 -7.0,0M250.1,239.2a3.5,3.5 0 1,0 7.0,0a3.5,3.5 0 1,0 -7.0,0M254.7,237.1a3.5,3.5 0 1,0 7.0,0a3.5,3.5 0 1,0 -7.0,0M259.3,233.9a3.5,3.5 0 1,0 7.0,0a3.5,3.5 0 1,0 -7.0,0M264.0,231.0a3.5,3.5 0 1,0 7.0,0a3.5,3.5 0 1,0 -7.0,0M268.6,226.7a3.5,3.5 0 1,0 7.0,0a3.5,3.5 0 1,0 -7.0,0M273.2,222.4a3.5,3.5 0 1,0 7.0,0a3.5,3.5 0 1,0 -7.0,0M277.9,218.6a3.5,3.5 0 1,0 7.0,0a3.5,3.5 0 1,0 -7.0,0M282.5,213.4a3.5,3.5 0 1,0 7.0,0a3.5,3.5 0 1,0 -7.0,0M287.1,208.8a3.5,3.5 0 1,0 7.0,0a3.5,3.5 0 1,0 -7.0,0M291.8,203.7a3.5,3.5 0 1,0 7.0,0a3.5,3.5 0 1,0 -7.0,0M296.4,198.3a3.5,3.5 0 1,0 7.0,0a3.5,3.5 0 1,0 -7.0,0M301.0,194.2a3.5,3.5 0 1,0 7.0,0a3.5,3.5 0 1,0 -7.0,0M305.7,190.9a3.5,3.5 0 1,0 7.0,0a3.5,3.5 0 1,0 -7.0,0" fill="#2a00ff"/>
<path d="M-126.4,369.4L-121.8,367.9L-117.2,366.1L-112.5,364.3L-107.9,362.2L-103.3,360.8L-98.6,359.3L-94.0,357.6L-89.4,356.2L-84.7,353.6L-80.1,352.6L-75.5,351.0L-70.8,349.6L-66.2,347.6L-61.5,346.3L-56.9,344.5L-52.3,342.5L-47.6,340.9L-43.0,339.3L-38.4,337.2L-33.7,335.2L-29.1,334.0L-24.5,332.7L-19.8,330.9L-15.2,328.7L-10.6,327.9L-5.9,326.5L-1.3,324.1L3.3,322.3L8.0,321.0L12.6,320.0L17.2,317.9L21.9,316.8L26.5,314.6L31.1,312.2L35.8,311.2L40.4,309.2L45.0,307.8L49.7,306.1L54.3,304.5L58.9,302.4L63.6,300.2L68.2,299.5L72.8,297.1L77.5,295.8L82.1,294.0L86.7,292.3L91.4,290.5L96.0,288.7L100.6,287.1L105.3,285.2L109.9,284.0L114.5,282.7L119.2,280.7L123.8,279.5L128.4,277.6L133.1,276.0L137.7,273.9L142.3,272.8L147.0,271.0L151.6,269.5L156.2,267.7L160.9,265.9L165.5,264.0L170.2,261.5L174.8,260.8L179.4,259.9L184.1,256.5L188.7,254.9L193.3,254.3L198.0,252.1L202.6,250.2L207.2,249.1L211.9,247.5L216.5,245.2L221.1,243.4L225.8,242.0L230.4,239.8L235.0,238.8L239.7,235.2L244.3,233.7L248.9,231.1L253.6,228.7L258.2,226.1L262.8,223.1L267.5,220.2L272.1,217.2L276.7,211.4L281.4,208.7L286.0,203.5L290.6,199.2L295.3,194.6L299.9,190.2L304.5,187.0L308.8,2.0" fill="none" stroke="#0099ff" stroke-width="1.6"/>
<path d="M72.8,293.5L76.6,300.5L69.0,300.5ZM77.5,292.2L81.3,299.2L73.7,299.2ZM82.1,290.4L85.9,297.4L78.3,297.4ZM86.7,288.7L90.5,295.7L82.9,295.7ZM91.4,286.9L95.2,293.9L87.6,293.9ZM96.0,285.1L99.8,292.1L92.2,292.1ZM100.6,283.5L104.4,290.5L96.8,290.5ZM105.3,281.6L109.1,288.6L101.5,288.6ZM109.9,280.4L113.7,287.4L106.1,287.4ZM114.5,279.1L118.3,286.1L110.7,286.1ZM119.2,277.1L123.0,284.1L115.4,284.1ZM123.8,275.9L127.6,282.9L120.0,282.9ZM128.4,274.0L132.2,281.0L124.6,281.0ZM133.1,272.4L136.9,279.4L129.3,279.4ZM137.7,270.3L141.5,277.3L133.9,277.3ZM142.3,269.2L146.1,276.2L138.5,276.2ZM147.0,267.4L150.8,274.4L143.2,274.4ZM151.6,265.9L155.4,272.9L147.8,272.9ZM156.2,264.1L160.0,271.1L152.4,271.1ZM160.9,262.3L164.7,269.3L157.1,269.3ZM165.5,260.4L169.3,267.4L161.7,267.4ZM170.2,257.9L174.0,264.9L166.4,264.9ZM174.8,257.2L178.6,264.2L171.0,264.2ZM179.4,256.3L183.2,263.3L175.6,263.3ZM184.1,252.9L187.9,259.9L180.3,259.9ZM188.7,251.3L192.5,258.3L184.9,258.3ZM193.3,250.7L197.1,257.7L189.5,257.7ZM198.0,248.5L201.8,255.5L194.2,255.5ZM202.6,246.6L206.4,253.6L198.8,253.6ZM207.2,245.5L211.0,252.5L203.4,252.5ZM211.9,243.9L215.7,250.9L208.1,250.9ZM216.5,241.6L220.3,248.6L212.7,248.6ZM221.1,239.8L224.9,246.8L217.3,246.8ZM225.8,238.4L229.6,245.4L222.0,245.4ZM230.4,236.2L234.2,243.2L226.6,243.2ZM235.0,235.2L238.8,242.2L231.2,242.2ZM239.7,231.6L243.5,238.6L235.9,238.6ZM244.3,230.1L248.1,237.1L240.5,237.1ZM248.9,227.5L252.7,234.5L245.1,234.5ZM253.6,225.1L257.4,232.1L249.8,232.1ZM258.2,222.5L262.0,229.5L254.4,229.5ZM262.8,219.5L266.6,226.5L259.0,226.5ZM267.5,216.6L271.3,223.6L263.7,223.6ZM272.1,213.6L275.9,220.6L268.3,220.6ZM276.7,207.8L280.5,214.8L272.9,214.8ZM281.4,205.1L285.2,212.1L277.6,212.1ZM286.0,199.9L289.8,206.9L282.2,206.9ZM290.6,195.6L294.4,202.6L286.8,202.6ZM295.3,191.0L299.1,198.0L291.5,198.0ZM299.9,186.6L303.7,193.6L296.1,193.6ZM304.5,183.4L308.3,190.4L300.7,190.4Z" fill="#0099ff"/>
<path d="M-126.4,362.5L-121.8,361.5L-117.2,359.6L-112.5,357.7L-107.9,356.2L-103.3,354.8L-98.6,352.7L-94.0,351.6L-89.4,350.0L-84.7,347.8L-80.1,346.3L-75.5,344.4L-70.8,342.4L-66.2,340.6L-61.5,339.3L-56.9,337.8L-52.3,335.7L-47.6,333.4L-43.0,332.5L-38.4,330.6L-33.7,328.9L-29.1,327.2L-24.5,325.2L-19.8,323.4L-15.2,322.2L-10.6,320.8L-5.9,318.7L-1.3,316.5L3.3,315.3L8.0,313.1L12.6,312.3L17.2,310.6L21.9,307.9L26.5,306.8L31.1,305.3L35.8,303.1L40.4,302.3L45.0,299.6L49.7,297.5L54.3,296.4L58.9,293.8L63.6,292.7L68.2,290.0L72.8,289.0L77.5,287.0L82.1,285.5L86.7,283.7L91.4,281.3L96.0,280.1L100.6,279.0L105.3,276.2L109.9,275.1L114.5,273.3L119.2,271.3L123.8,270.8L128.4,267.1L133.1,266.4L137.7,265.7L142.3,263.1L147.0,261.4L151.6,260.0L156.2,258.4L160.9,256.2L165.5,254.3L170.2,252.2L174.8,252.0L179.4,249.4L184.1,247.8L188.7,246.2L193.3,244.6L198.0,242.9L202.6,241.2L207.2,238.7L211.9,237.4L216.5,234.7L221.1,233.0L225.8,231.2L230.4,228.6L235.0,226.8L239.7,225.7L244.3,221.6L248.9,220.1L253.6,218.0L258.2,214.5L262.8,211.9L267.5,208.3L272.1,205.5L276.7,201.3L281.4,198.9L286.0,194.6L290.6,190.7L295.3,186.8L299.9,183.7L304.2,2.0" fill="none" stroke="#00f0a0" stroke-width="1.6"/>
<path d="M54.3,300.0L58.1,293.0L50.5,293.0ZM58.9,297.4L62.7,290.4L55.1,290.4ZM63.6,296.3L67.4,289.3L59.8,289.3ZM68.2,293.6L72.0,286.6L64.4,286.6ZM72.8,292.6L76.6,285.6L69.0,285.6ZM77.5,290.6L81.3,283.6L73.7,283.6ZM82.1,289.1L85.9,282.1L78.3,282.1ZM86.7,287.3L90.5,280.3L82.9,280.3ZM91.4,284.9L95.2,277.9L87.6,277.9ZM96.0,283.7L99.8,276.7L92.2,276.7ZM100.6,282.6L104.4,275.6L96.8,275.6ZM105.3,279.8L109.1,272.8L101.5,272.8ZM109.9,278.7L113.7,271.7L106.1,271.7ZM114.5,276.9L118.3,269.9L110.7,269.9ZM119.2,274.9L123.0,267.9L115.4,267.9ZM123.8,274.4L127.6,267.4L120.0,267.4ZM128.4,270.7L132.2,263.7L124.6,263.7ZM133.1,270.0L136.9,263.0L129.3,263.0ZM137.7,269.3L141.5,262.3L133.9,262.3ZM142.3,266.7L146.1,259.7L138.5,259.7ZM147.0,265.0L150.8,258.0L143.2,258.0ZM151.6,263.6L155.4,256.6L147.8,256.6ZM156.2,262.0L160.0,255.0L152.4,255.0ZM160.9,259.8L164.7,252.8L157.1,252.8ZM165.5,257.9L169.3,250.9L161.7,250.9ZM170.2,255.8L174.0,248.8L166.4,248.8ZM174.8,255.6L178.6,248.6L171.0,248.6ZM179.4,253.0L183.2,246.0L175.6,246.0ZM184.1,251.4L187.9,244.4L180.3,244.4ZM188.7,249.8L192.5,242.8L184.9,242.8ZM193.3,248.2L197.1,241.2L189.5,241.2ZM198.0,246.5L201.8,239.5L194.2,239.5ZM202.6,244.8L206.4,237.8L198.8,237.8ZM207.2,242.3L211.0,235.3L203.4,235.3ZM211.9,241.0L215.7,234.0L208.1,234.0ZM216.5,238.3L220.3,231.3L212.7,231.3ZM221.1,236.6L224.9,229.6L217.3,229.6ZM225.8,234.8L229.6,227.8L222.0,227.8ZM230.4,232.2L234.2,225.2L226.6,225.2ZM235.0,230.4L238.8,223.4L231.2,223.4ZM239.7,229.3L243.5,222.3L235.9,222.3ZM244.3,225.2L248.1,218.2L240.5,218.2ZM248.9,223.7L252.7,216.7L245.1,216.7ZM253.6,221.6L257.4,214.6L249.8,214.6ZM258.2,218.1L262.0,211.1L254.4,211.1ZM262.8,215.5L266.6,208.5L259.0,208.5ZM267.5,211.9L271.3,204.9L263.7,204.9ZM272.1,209.1L275.9,202.1L268.3,202.1ZM276.7,204.9L280.5,197.9L272.9,197.9ZM281.4,202.5L285.2,195.5L277.6,195.5ZM286.0,198.2L289.8,191.2L282.2,191.2ZM290.6,194.3L294.4,187.3L286.8,187.3ZM295.3,190.4L299.1,183.4L291.5,183.4ZM299.9,187.3L303.7,180.3L296.1,180.3Z" fill="#00ffa0"/>
<path d="M-126.4,356.8L-121.8,355.5L-117.2,353.1L-112.5,351.8L-107.9,350.2L-103.3,348.2L-98.6,346.5L-94.0,344.3L-89.4,343.0L-84.7,341.0L-80.1,339.1L-75.5,337.5L-70.8,335.8L-66.2,334.1L-61.5,331.9L-56.9,330.3L-52.3,328.9L-47.6,326.4L-43.0,323.8L-38.4,322.8L-33.7,321.0L-29.1,319.7L-24.5,317.5L-19.8,315.9L-15.2,313.5L-10.6,311.5L-5.9,310.2L-1.3,308.4L3.3,306.8L8.0,305.4L12.6,303.0L17.2,300.8L21.9,300.0L26.5,297.9L31.1,296.2L35.8,294.0L40.4,292.3L45.0,290.8L49.7,289.2L54.3,286.8L58.9,285.9L63.6,284.1L68.2,281.9L72.8,280.7L77.5,278.5L82.1,276.8L86.7,275.3L91.4,273.4L96.0,270.7L100.6,268.9L105.3,268.1L109.9,266.4L114.5,263.7L119.2,262.0L123.8,260.7L128.4,258.8L133.1,256.9L137.7,256.0L142.3,253.7L147.0,251.7L151.6,250.2L156.2,248.3L160.9,246.3L165.5,245.3L170.2,243.2L174.8,241.8L179.4,239.4L184.1,238.0L188.7,236.1L193.3,235.1L198.0,231.8L202.6,230.4L207.2,229.2L211.9,227.2L216.5,225.4L221.1,223.3L225.8,221.2L230.4,219.1L235.0,217.7L239.7,215.0L244.3,213.1L248.9,209.7L253.6,207.4L258.2,205.3L262.8,202.7L267.5,198.9L272.1,197.3L276.7,193.5L281.4,190.9L286.0,187.0L290.6,184.2L295.3,181.1L299.9,2.0" fill="none" stroke="#66e600" stroke-width="1.6"/>
<path d="M54.3,282.0L58.1,286.8L54.3,291.6L50.5,286.8ZM58.9,281.1L62.7,285.9L58.9,290.7L55.1,285.9ZM63.6,279.3L67.4,284.1L63.6,288.9L59.8,284.1ZM68.2,277.1L72.0,281.9L68.2,286.7L64.4,281.9ZM72.8,275.9L76.6,280.7L72.8,285.5L69.0,280.7ZM77.5,273.7L81.3,278.5L77.5,283.3L73.7,278.5ZM82.1,272.0L85.9,276.8L82.1,281.6L78.3,276.8ZM86.7,270.5L90.5,275.3L86.7,280.1L82.9,275.3ZM91.4,268.6L95.2,273.4L91.4,278.2L87.6,273.4ZM96.0,265.9L99.8,270.7L96.0,275.5L92.2,270.7ZM100.6,264.1L104.4,268.9L100.6,273.7L96.8,268.9ZM105.3,263.3L109.1,268.1L105.3,272.9L101.5,268.1ZM109.9,261.6L113.7,266.4L109.9,271.2L106.1,266.4ZM114.5,258.9L118.3,263.7L114.5,268.5L110.7,263.7ZM119.2,257.2L123.0,262.0L119.2,266.8L115.4,262.0ZM123.8,255.9L127.6,260.7L123.8,265.5L120.0,260.7ZM128.4,254.0L132.2,258.8L128.4,263.6L124.6,258.8ZM133.1,252.1L136.9,256.9L133.1,261.7L129.3,256.9ZM137.7,251.2L141.5,256.0L137.7,260.8L133.9,256.0ZM142.3,248.9L146.1,253.7L142.3,258.5L138.5,253.7ZM147.0,246.9L150.8,251.7L147.0,256.5L143.2,251.7ZM151.6,245.4L155.4,250.2L151.6,255.0L147.8,250.2ZM156.2,243.5L160.0,248.3L156.2,253.1L152.4,248.3ZM160.9,241.5L164.7,246.3L160.9,251.1L157.1,246.3ZM165.5,240.5L169.3,245.3L165.5,250.1L161.7,245.3ZM170.2,238.4L174.0,243.2L170.2,248.0L166.4,243.2ZM174.8,237.0L178.6,241.8L174.8,246.6L171.0,241.8ZM179.4,234.6L183.2,239.4L179.4,244.2L175.6,239.4ZM184.1,233.2L187.9,238.0L184.1,242.8L180.3,238.0ZM188.7,231.3L192.5,236.1L188.7,240.9L184.9,236.1ZM193.3,230.3L197.1,235.1L193.3,239.9L189.5,235.1ZM198.0,227.0L201.8,231.8L198.0,236.6L194.2,231.8ZM202.6,225.6L206.4,230.4L202.6,235.2L198.8,230.4ZM207.2,224.4L211.0,229.2L207.2,234.0L203.4,229.2ZM211.9,222.4L215.7,227.2L211.9,232.0L208.1,227.2ZM216.5,220.6L220.3,225.4L216.5,230.2L212.7,225.4ZM221.1,218.5L224.9,223.3L221.1,228.1L217.3,223.3ZM225.8,216.4L229.6,221.2L225.8,226.0L222.0,221.2ZM230.4,214.3L234.2,219.1L230.4,223.9L226.6,219.1ZM235.0,212.9L238.8,217.7L235.0,222.5L231.2,217.7ZM239.7,210.2L243.5,215.0L239.7,219.8L235.9,215.0ZM244.3,208.3L248.1,213.1L244.3,217.9L240.5,213.1ZM248.9,204.9L252.7,209.7L248.9,214.5L245.1,209.7ZM253.6,202.6L257.4,207.4L253.6,212.2L249.8,207.4ZM258.2,200.5L262.0,205.3L258.2,210.1L254.4,205.3ZM262.8,197.9L266.6,202.7L262.8,207.5L259.0,202.7ZM267.5,194.1L271.3,198.9L267.5,203.7L263.7,198.9ZM272.1,192.5L275.9,197.3L272.1,202.1L268.3,197.3ZM276.7,188.7L280.5,193.5L276.7,198.3L272.9,193.5ZM281.4,186.1L285.2,190.9L281.4,195.7L277.6,190.9ZM286.0,182.2L289.8,187.0L286.0,191.8L282.2,187.0ZM290.6,179.4L294.4,184.2L290.6,189.0L286.8,184.2ZM295.3,176.3L299.1,181.1L295.3,185.9L291.5,181.1Z" fill="#6aff00"/>
<path d="M-126.4,352.0L-121.8,350.5L-117.2,349.0L-112.5,347.5L-107.9,345.4L-103.3,343.7L-98.6,341.7L-94.0,340.0L-89.4,338.4L-84.7,336.5L-80.1,334.2L-75.5,333.0L-70.8,331.0L-66.2,330.1L-61.5,327.3L-56.9,325.6L-52.3,324.0L-47.6,321.3L-43.0,320.1L-38.4,318.8L-33.7,316.8L-29.1,314.8L-24.5,313.1L-19.8,311.7L-15.2,309.7L-10.6,307.7L-5.9,305.8L-1.3,304.2L3.3,302.6L8.0,300.4L12.6,298.9L17.2,296.8L21.9,295.3L26.5,293.1L31.1,292.0L35.8,290.0L40.4,288.1L45.0,286.5L49.7,285.0L54.3,282.4L58.9,280.5L63.6,279.3L68.2,276.8L72.8,275.9L77.5,273.7L82.1,271.6L86.7,270.0L91.4,267.8L96.0,266.5L100.6,264.6L105.3,262.8L109.9,260.8L114.5,258.8L119.2,257.5L123.8,255.3L128.4,253.7L133.1,251.8L137.7,250.1L142.3,248.0L147.0,246.8L151.6,244.1L156.2,242.0L160.9,239.9L165.5,239.3L170.2,237.1L174.8,235.5L179.4,232.5L184.1,231.0L188.7,229.4L193.3,227.3L198.0,225.5L202.6,223.5L207.2,222.2L211.9,220.5L216.5,219.9L221.1,216.9L225.8,214.8L230.4,212.2L235.0,209.3L239.7,208.0L244.3,205.9L248.9,204.9L253.6,202.1L258.2,200.3L262.8,197.7L267.5,194.7L272.1,191.9L276.7,189.2L281.4,186.8L286.0,183.9L290.6,181.0L295.4,2.0" fill="none" stroke="#ccee00" stroke-width="1.6"/>
<path d="M50.7,282.4L57.7,278.6L57.7,286.2ZM55.3,280.5L62.3,276.7L62.3,284.3ZM60.0,279.3L67.0,275.5L67.0,283.1ZM64.6,276.8L71.6,273.0L71.6,280.6ZM69.2,275.9L76.2,272.1L76.2,279.7ZM73.9,273.7L80.9,269.9L80.9,277.5ZM78.5,271.6L85.5,267.8L85.5,275.4ZM83.1,270.0L90.1,266.2L90.1,273.8ZM87.8,267.8L94.8,264.0L94.8,271.6ZM92.4,266.5L99.4,262.7L99.4,270.3ZM97.0,264.6L104.0,260.8L104.0,268.4ZM101.7,262.8L108.7,259.0L108.7,266.6ZM106.3,260.8L113.3,257.0L113.3,264.6ZM110.9,258.8L117.9,255.0L117.9,262.6ZM115.6,257.5L122.6,253.7L122.6,261.3ZM120.2,255.3L127.2,251.5L127.2,259.1ZM124.8,253.7L131.8,249.9L131.8,257.5ZM129.5,251.8L136.5,248.0L136.5,255.6ZM134.1,250.1L141.1,246.3L141.1,253.9ZM138.7,248.0L145.7,244.2L145.7,251.8ZM143.4,246.8L150.4,243.0L150.4,250.6ZM148.0,244.1L155.0,240.3L155.0,247.9ZM152.6,242.0L159.6,238.2L159.6,245.8ZM157.3,239.9L164.3,236.1L164.3,243.7ZM161.9,239.3L168.9,235.5L168.9,243.1ZM166.6,237.1L173.6,233.3L173.6,240.9ZM171.2,235.5L178.2,231.7L178.2,239.3ZM175.8,232.5L182.8,228.7L182.8,236.3ZM180.5,231.0L187.5,227.2L187.5,234.8ZM185.1,229.4L192.1,225.6L192.1,233.2ZM189.7,227.3L196.7,223.5L196.7,231.1ZM194.4,225.5L201.4,221.7L201.4,229.3ZM199.0,223.5L206.0,219.7L206.0,227.3ZM203.6,222.2L210.6,218.4L210.6,226.0ZM208.3,220.5L215.3,216.7L215.3,224.3ZM212.9,219.9L219.9,216.1L219.9,223.7ZM217.5,216.9L224.5,213.1L224.5,220.7ZM222.2,214.8L229.2,211.0L229.2,218.6ZM226.8,212.2L233.8,208.4L233.8,216.0ZM231.4,209.3L238.4,205.5L238.4,213.1ZM236.1,208.0L243.1,204.2L243.1,211.8ZM240.7,205.9L247.7,202.1L247.7,209.7ZM245.3,204.9L252.3,201.1L252.3,208.7ZM250.0,202.1L257.0,198.3L257.0,205.9ZM254.6,200.3L261.6,196.5L261.6,204.1ZM259.2,197.7L266.2,193.9L266.2,201.5ZM263.9,194.7L270.9,190.9L270.9,198.5ZM268.5,191.9L275.5,188.1L275.5,195.7ZM273.1,189.2L280.1,185.4L280.1,193.0ZM277.8,186.8L284.8,183.0L284.8,190.6ZM282.4,183.9L289.4,180.1L289.4,187.7ZM287.0,181.0L294.0,177.2L294.0,184.8Z" fill="#d4ff00"/>
<path d="M-126.4,348.1L-121.8,346.9L-117.2,344.8L-112.5,342.9L-107.9,341.3L-103.3,339.4L-98.6,337.4L-94.0,335.4L-89.4,334.1L-84.7,332.2L-80.1,330.4L-75.5,328.2L-70.8,326.6L-66.2,324.4L-61.5,322.8L-56.9,321.6L-52.3,320.0L-47.6,317.6L-43.0,315.7L-38.4,313.6L-33.7,312.4L-29.1,309.9L-24.5,308.6L-19.8,306.7L-15.2,305.2L-10.6,303.4L-5.9,301.4L-1.3,299.5L3.3,297.2L8.0,295.9L12.6,294.0L17.2,292.5L21.9,290.2L26.5,288.5L31.1,286.6L35.8,284.2L40.4,281.7L45.0,281.0L49.7,279.0L54.3,277.5L58.9,275.3L63.6,273.8L68.2,271.7L72.8,269.6L77.5,268.1L82.1,266.6L86.7,265.0L91.4,263.6L96.0,261.2L100.6,258.3L105.3,256.8L109.9,255.6L114.5,253.7L119.2,251.1L123.8,249.7L128.4,248.1L133.1,245.5L137.7,243.6L142.3,241.8L147.0,240.6L151.6,238.6L156.2,236.0L160.9,234.9L165.5,233.4L170.2,231.0L174.8,228.9L179.4,227.7L184.1,224.5L188.7,223.2L193.3,221.0L198.0,220.1L202.6,217.2L207.2,215.4L211.9,213.4L216.5,212.3L221.1,210.2L225.8,207.3L230.4,206.0L235.0,203.8L239.7,201.5L244.3,199.8L248.9,197.6L253.6,195.2L258.2,192.1L262.8,191.1L267.5,187.8L272.1,185.5L276.7,183.1L281.4,180.7L286.0,177.7L290.5,2.0" fill="none" stroke="#ffc000" stroke-width="1.6"/>
<path d="M57.9,277.5L50.9,273.7L50.9,281.3ZM62.5,275.3L55.5,271.5L55.5,279.1ZM67.2,273.8L60.2,270.0L60.2,277.6ZM71.8,271.7L64.8,267.9L64.8,275.5ZM76.4,269.6L69.4,265.8L69.4,273.4ZM81.1,268.1L74.1,264.3L74.1,271.9ZM85.7,266.6L78.7,262.8L78.7,270.4ZM90.3,265.0L83.3,261.2L83.3,268.8ZM95.0,263.6L88.0,259.8L88.0,267.4ZM99.6,261.2L92.6,257.4L92.6,265.0ZM104.2,258.3L97.2,254.5L97.2,262.1ZM108.9,256.8L101.9,253.0L101.9,260.6ZM113.5,255.6L106.5,251.8L106.5,259.4ZM118.1,253.7L111.1,249.9L111.1,257.5ZM122.8,251.1L115.8,247.3L115.8,254.9ZM127.4,249.7L120.4,245.9L120.4,253.5ZM132.0,248.1L125.0,244.3L125.0,251.9ZM136.7,245.5L129.7,241.7L129.7,249.3ZM141.3,243.6L134.3,239.8L134.3,247.4ZM145.9,241.8L138.9,238.0L138.9,245.6ZM150.6,240.6L143.6,236.8L143.6,244.4ZM155.2,238.6L148.2,234.8L148.2,242.4ZM159.8,236.0L152.8,232.2L152.8,239.8ZM164.5,234.9L157.5,231.1L157.5,238.7ZM169.1,233.4L162.1,229.6L162.1,237.2ZM173.8,231.0L166.8,227.2L166.8,234.8ZM178.4,228.9L171.4,225.1L171.4,232.7ZM183.0,227.7L176.0,223.9L176.0,231.5ZM187.7,224.5L180.7,220.7L180.7,228.3ZM192.3,223.2L185.3,219.4L185.3,227.0ZM196.9,221.0L189.9,217.2L189.9,224.8ZM201.6,220.1L194.6,216.3L194.6,223.9ZM206.2,217.2L199.2,213.4L199.2,221.0ZM210.8,215.4L203.8,211.6L203.8,219.2ZM215.5,213.4L208.5,209.6L208.5,217.2ZM220.1,212.3L213.1,208.5L213.1,216.1ZM224.7,210.2L217.7,206.4L217.7,214.0ZM229.4,207.3L222.4,203.5L222.4,211.1ZM234.0,206.0L227.0,202.2L227.0,209.8ZM238.6,203.8L231.6,200.0L231.6,207.6ZM243.3,201.5L236.3,197.7L236.3,205.3ZM247.9,199.8L240.9,196.0L240.9,203.6ZM252.5,197.6L245.5,193.8L245.5,201.4ZM257.2,195.2L250.2,191.4L250.2,199.0ZM261.8,192.1L254.8,188.3L254.8,195.9ZM266.4,191.1L259.4,187.3L259.4,194.9ZM271.1,187.8L264.1,184.0L264.1,191.6ZM275.7,185.5L268.7,181.7L268.7,189.3ZM280.3,183.1L273.3,179.3L273.3,186.9ZM285.0,180.7L278.0,176.9L278.0,184.5ZM289.6,177.7L282.6,173.9L282.6,181.5Z" fill="#ffc000"/>
<path d="M-126.4,344.6L-121.8,343.3L-117.2,341.0L-112.5,339.8L-107.9,337.1L-103.3,335.7L-98.6,333.6L-94.0,332.1L-89.4,330.7L-84.7,328.2L-80.1,326.0L-75.5,324.2L-70.8,323.0L-66.2,321.0L-61.5,318.6L-56.9,317.3L-52.3,315.4L-47.6,313.5L-43.0,311.6L-38.4,310.2L-33.7,308.2L-29.1,306.3L-24.5,303.9L-19.8,302.5L-15.2,300.3L-10.6,298.1L-5.9,296.8L-1.3,294.4L3.3,293.1L8.0,290.7L12.6,288.8L17.2,287.5L21.9,285.9L26.5,283.8L31.1,281.5L35.8,279.8L40.4,277.6L45.0,275.9L49.7,274.7L54.3,272.3L58.9,270.7L63.6,268.7L68.2,267.1L72.8,264.7L77.5,262.5L82.1,260.8L86.7,259.3L91.4,257.9L96.0,256.1L100.6,254.0L105.3,251.4L109.9,250.5L114.5,248.1L119.2,246.1L123.8,244.4L128.4,243.4L133.1,240.6L137.7,238.7L142.3,237.4L147.0,235.2L151.6,233.5L156.2,231.3L160.9,229.2L165.5,226.8L170.2,225.5L174.8,223.6L179.4,221.6L184.1,219.5L188.7,218.1L193.3,216.1L198.0,213.8L202.6,212.6L207.2,210.4L211.9,208.6L216.5,206.5L221.1,204.4L225.8,203.3L230.4,199.7L235.0,198.0L239.7,196.6L244.3,194.6L248.9,191.9L253.6,190.9L258.2,188.3L262.8,185.6L267.5,182.9L272.1,179.7L276.7,177.5L281.4,175.0L285.9,2.0" fill="none" stroke="#ff6000" stroke-width="1.6"/>
<path d="M58.1,272.3L56.2,275.5L52.4,275.5L50.5,272.3L52.4,269.0L56.2,269.0ZM62.7,270.7L60.8,274.0L57.0,274.0L55.1,270.7L57.0,267.4L60.8,267.4ZM67.4,268.7L65.5,272.0L61.7,272.0L59.8,268.7L61.7,265.4L65.5,265.4ZM72.0,267.1L70.1,270.4L66.3,270.4L64.4,267.1L66.3,263.8L70.1,263.8ZM76.6,264.7L74.7,268.0L70.9,268.0L69.0,264.7L70.9,261.4L74.7,261.4ZM81.3,262.5L79.4,265.8L75.6,265.8L73.7,262.5L75.6,259.2L79.4,259.2ZM85.9,260.8L84.0,264.0L80.2,264.0L78.3,260.8L80.2,257.5L84.0,257.5ZM90.5,259.3L88.6,262.6L84.8,262.6L82.9,259.3L84.8,256.0L88.6,256.0ZM95.2,257.9L93.3,261.2L89.5,261.2L87.6,257.9L89.5,254.6L93.3,254.6ZM99.8,256.1L97.9,259.4L94.1,259.4L92.2,256.1L94.1,252.8L97.9,252.8ZM104.4,254.0L102.5,257.3L98.7,257.3L96.8,254.0L98.7,250.8L102.5,250.8ZM109.1,251.4L107.2,254.7L103.4,254.7L101.5,251.4L103.4,248.1L107.2,248.1ZM113.7,250.5L111.8,253.7L108.0,253.7L106.1,250.5L108.0,247.2L111.8,247.2ZM118.3,248.1L116.4,251.4L112.6,251.4L110.7,248.1L112.6,244.8L116.4,244.8ZM123.0,246.1L121.1,249.4L117.3,249.4L115.4,246.1L117.3,242.8L121.1,242.8ZM127.6,244.4L125.7,247.7L121.9,247.7L120.0,244.4L121.9,241.1L125.7,241.1ZM132.2,243.4L130.3,246.7L126.5,246.7L124.6,243.4L126.5,240.1L130.3,240.1ZM136.9,240.6L135.0,243.9L131.2,243.9L129.3,240.6L131.2,237.3L135.0,237.3ZM141.5,238.7L139.6,242.0L135.8,242.0L133.9,238.7L135.8,235.5L139.6,235.5ZM146.1,237.4L144.2,240.7L140.4,240.7L138.5,237.4L140.4,234.1L144.2,234.1ZM150.8,235.2L148.9,238.5L145.1,238.5L143.2,235.2L145.1,231.9L148.9,231.9ZM155.4,233.5L153.5,236.8L149.7,236.8L147.8,233.5L149.7,230.2L153.5,230.2ZM160.0,231.3L158.1,234.6L154.3,234.6L152.4,231.3L154.3,228.0L158.1,228.0ZM164.7,229.2L162.8,232.5L159.0,232.5L157.1,229.2L159.0,225.9L162.8,225.9ZM169.3,226.8L167.4,230.1L163.6,230.1L161.7,226.8L163.6,223.5L167.4,223.5ZM174.0,225.5L172.1,228.8L168.3,228.8L166.4,225.5L168.3,222.3L172.1,222.3ZM178.6,223.6L176.7,226.9L172.9,226.9L171.0,223.6L172.9,220.3L176.7,220.3ZM183.2,221.6L181.3,224.8L177.5,224.8L175.6,221.6L177.5,218.3L181.3,218.3ZM187.9,219.5L186.0,222.8L182.2,222.8L180.3,219.5L182.2,216.2L186.0,216.2ZM192.5,218.1L190.6,221.4L186.8,221.4L184.9,218.1L186.8,214.8L190.6,214.8ZM197.1,216.1L195.2,219.4L191.4,219.4L189.5,216.1L191.4,212.8L195.2,212.8ZM201.8,213.8L199.9,217.0L196.1,217.0L194.2,213.8L196.1,210.5L199.9,210.5ZM206.4,212.6L204.5,215.9L200.7,215.9L198.8,212.6L200.7,209.3L204.5,209.3ZM211.0,210.4L209.1,213.7L205.3,213.7L203.4,210.4L205.3,207.2L209.1,207.2ZM215.7,208.6L213.8,211.8L210.0,211.8L208.1,208.6L210.0,205.3L213.8,205.3ZM220.3,206.5L218.4,209.8L214.6,209.8L212.7,206.5L214.6,203.2L218.4,203.2ZM224.9,204.4L223.0,207.6L219.2,207.6L217.3,204.4L219.2,201.1L223.0,201.1ZM229.6,203.3L227.7,206.6L223.9,206.6L222.0,203.3L223.9,200.0L227.7,200.0ZM234.2,199.7L232.3,203.0L228.5,203.0L226.6,199.7L228.5,196.4L232.3,196.4ZM238.8,198.0L236.9,201.3L233.1,201.3L231.2,198.0L233.1,194.7L236.9,194.7ZM243.5,196.6L241.6,199.9L237.8,199.9L235.9,196.6L237.8,193.3L241.6,193.3ZM248.1,194.6L246.2,197.9L242.4,197.9L240.5,194.6L242.4,191.3L246.2,191.3ZM252.7,191.9L250.8,195.2L247.0,195.2L245.1,191.9L247.0,188.6L250.8,188.6ZM257.4,190.9L255.5,194.2L251.7,194.2L249.8,190.9L251.7,187.6L255.5,187.6ZM262.0,188.3L260.1,191.6L256.3,191.6L254.4,188.3L256.3,185.0L260.1,185.0ZM266.6,185.6L264.7,188.8L260.9,188.8L259.0,185.6L260.9,182.3L264.7,182.3ZM271.3,182.9L269.4,186.2L265.6,186.2L263.7,182.9L265.6,179.6L269.4,179.6ZM275.9,179.7L274.0,183.0L270.2,183.0L268.3,179.7L270.2,176.4L274.0,176.4ZM280.5,177.5L278.6,180.8L274.8,180.8L272.9,177.5L274.8,174.2L278.6,174.2ZM285.2,175.0L283.3,178.3L279.5,178.3L277.6,175.0L279.5,171.7L283.3,171.7Z" fill="#ff5500"/>
<path d="M-126.4,342.4L-121.8,340.0L-117.2,338.7L-112.5,336.8L-107.9,334.4L-103.3,332.7L-98.6,331.0L-94.0,329.2L-89.4,326.9L-84.7,325.0L-80.1,322.9L-75.5,321.3L-70.8,319.7L-66.2,317.3L-61.5,315.1L-56.9,314.2L-52.3,311.8L-47.6,310.1L-43.0,307.6L-38.4,306.0L-33.7,303.6L-29.1,301.1L-24.5,300.1L-19.8,298.1L-15.2,297.1L-10.6,294.4L-5.9,292.7L-1.3,290.7L3.3,288.9L8.0,286.9L12.6,284.7L17.2,282.5L21.9,280.5L26.5,279.1L31.1,277.4L35.8,276.3L40.4,274.0L45.0,271.4L49.7,270.2L54.3,267.6L58.9,266.9L63.6,263.8L68.2,262.1L72.8,261.0L77.5,258.7L82.1,255.9L86.7,255.2L91.4,252.4L96.0,251.4L100.6,249.3L105.3,246.6L109.9,245.0L114.5,243.6L119.2,242.1L123.8,239.7L128.4,237.7L133.1,236.0L137.7,233.6L142.3,233.2L147.0,229.9L151.6,228.1L156.2,226.0L160.9,224.0L165.5,222.2L170.2,221.1L174.8,218.6L179.4,217.2L184.1,214.8L188.7,213.0L193.3,210.8L198.0,209.7L202.6,207.0L207.2,205.2L211.9,203.2L216.5,200.6L221.1,199.5L225.8,197.5L230.4,194.3L235.0,192.2L239.7,189.5L244.3,188.6L248.9,185.8L253.6,183.8L258.2,180.7L262.8,178.6L267.5,176.2L272.1,173.3L276.7,171.0L281.6,2.0" fill="none" stroke="#ff0000" stroke-width="1.6"/>
<path d="M54.3,262.8L55.5,265.9L58.9,266.2L56.3,268.3L57.1,271.5L54.3,269.7L51.5,271.5L52.3,268.3L49.7,266.2L53.1,265.9ZM58.9,262.1L60.2,265.2L63.5,265.4L60.9,267.5L61.8,270.8L58.9,269.0L56.1,270.8L56.9,267.5L54.4,265.4L57.7,265.2ZM63.6,259.0L64.8,262.1L68.1,262.3L65.6,264.4L66.4,267.7L63.6,265.9L60.7,267.7L61.6,264.4L59.0,262.3L62.3,262.1ZM68.2,257.3L69.4,260.4L72.8,260.7L70.2,262.8L71.0,266.0L68.2,264.2L65.4,266.0L66.2,262.8L63.6,260.7L67.0,260.4ZM72.8,256.2L74.1,259.3L77.4,259.5L74.8,261.6L75.7,264.8L72.8,263.1L70.0,264.8L70.8,261.6L68.3,259.5L71.6,259.3ZM77.5,253.9L78.7,257.0L82.0,257.2L79.5,259.3L80.3,262.5L77.5,260.8L74.6,262.5L75.5,259.3L72.9,257.2L76.2,257.0ZM82.1,251.1L83.3,254.2L86.7,254.5L84.1,256.6L84.9,259.8L82.1,258.0L79.3,259.8L80.1,256.6L77.5,254.5L80.9,254.2ZM86.7,250.4L88.0,253.5L91.3,253.7L88.7,255.8L89.6,259.1L86.7,257.3L83.9,259.1L84.7,255.8L82.2,253.7L85.5,253.5ZM91.4,247.6L92.6,250.7L95.9,250.9L93.4,253.0L94.2,256.2L91.4,254.5L88.6,256.2L89.4,253.0L86.8,250.9L90.1,250.7ZM96.0,246.6L97.2,249.7L100.6,249.9L98.0,252.0L98.8,255.2L96.0,253.5L93.2,255.2L94.0,252.0L91.4,249.9L94.8,249.7ZM100.6,244.5L101.9,247.6L105.2,247.9L102.6,250.0L103.5,253.2L100.6,251.4L97.8,253.2L98.6,250.0L96.1,247.9L99.4,247.6ZM105.3,241.8L106.5,244.9L109.8,245.1L107.3,247.3L108.1,250.5L105.3,248.7L102.5,250.5L103.3,247.3L100.7,245.1L104.0,244.9ZM109.9,240.2L111.1,243.3L114.5,243.5L111.9,245.7L112.7,248.9L109.9,247.1L107.1,248.9L107.9,245.7L105.3,243.5L108.7,243.3ZM114.5,238.8L115.8,241.9L119.1,242.1L116.5,244.3L117.4,247.5L114.5,245.7L111.7,247.5L112.5,244.3L110.0,242.1L113.3,241.9ZM119.2,237.3L120.4,240.4L123.7,240.6L121.2,242.7L122.0,245.9L119.2,244.2L116.4,245.9L117.2,242.7L114.6,240.6L117.9,240.4ZM123.8,234.9L125.0,238.0L128.4,238.2L125.8,240.4L126.6,243.6L123.8,241.8L121.0,243.6L121.8,240.4L119.2,238.2L122.6,238.0ZM128.4,232.9L129.7,236.0L133.0,236.2L130.4,238.3L131.3,241.6L128.4,239.8L125.6,241.6L126.4,238.3L123.9,236.2L127.2,236.0ZM133.1,231.2L134.3,234.3L137.6,234.5L135.1,236.6L135.9,239.8L133.1,238.1L130.3,239.8L131.1,236.6L128.5,234.5L131.8,234.3ZM137.7,228.8L138.9,231.9L142.3,232.1L139.7,234.2L140.5,237.5L137.7,235.7L134.9,237.5L135.7,234.2L133.1,232.1L136.5,231.9ZM142.3,228.4L143.6,231.5L146.9,231.7L144.3,233.8L145.2,237.1L142.3,235.3L139.5,237.1L140.3,233.8L137.8,231.7L141.1,231.5ZM147.0,225.1L148.2,228.2L151.5,228.4L149.0,230.6L149.8,233.8L147.0,232.0L144.2,233.8L145.0,230.6L142.4,228.4L145.7,228.2ZM151.6,223.3L152.8,226.4L156.2,226.6L153.6,228.7L154.4,232.0L151.6,230.2L148.8,232.0L149.6,228.7L147.0,226.6L150.4,226.4ZM156.2,221.2L157.5,224.3L160.8,224.5L158.2,226.7L159.1,229.9L156.2,228.1L153.4,229.9L154.3,226.7L151.7,224.5L155.0,224.3ZM160.9,219.2L162.1,222.3L165.4,222.6L162.9,224.7L163.7,227.9L160.9,226.1L158.1,227.9L158.9,224.7L156.3,222.6L159.6,222.3ZM165.5,217.4L166.8,220.5L170.1,220.7L167.5,222.9L168.3,226.1L165.5,224.3L162.7,226.1L163.5,222.9L161.0,220.7L164.3,220.5ZM170.2,216.3L171.4,219.4L174.7,219.6L172.1,221.7L173.0,224.9L170.2,223.2L167.3,224.9L168.2,221.7L165.6,219.6L168.9,219.4ZM174.8,213.8L176.0,216.9L179.3,217.1L176.8,219.2L177.6,222.5L174.8,220.7L172.0,222.5L172.8,219.2L170.2,217.1L173.6,216.9ZM179.4,212.4L180.7,215.5L184.0,215.7L181.4,217.9L182.2,221.1L179.4,219.3L176.6,221.1L177.4,217.9L174.9,215.7L178.2,215.5ZM184.1,210.0L185.3,213.1L188.6,213.3L186.1,215.4L186.9,218.6L184.1,216.9L181.2,218.6L182.1,215.4L179.5,213.3L182.8,213.1ZM188.7,208.2L189.9,211.3L193.3,211.5L190.7,213.7L191.5,216.9L188.7,215.1L185.9,216.9L186.7,213.7L184.1,211.5L187.5,211.3ZM193.3,206.0L194.6,209.1L197.9,209.3L195.3,211.4L196.1,214.6L193.3,212.9L190.5,214.6L191.3,211.4L188.8,209.3L192.1,209.1ZM198.0,204.9L199.2,208.0L202.5,208.2L200.0,210.3L200.8,213.6L198.0,211.8L195.1,213.6L196.0,210.3L193.4,208.2L196.7,208.0ZM202.6,202.2L203.8,205.3L207.2,205.5L204.6,207.6L205.4,210.9L202.6,209.1L199.8,210.9L200.6,207.6L198.0,205.5L201.4,205.3ZM207.2,200.4L208.5,203.5L211.8,203.7L209.2,205.9L210.0,209.1L207.2,207.3L204.4,209.1L205.2,205.9L202.7,203.7L206.0,203.5ZM211.9,198.4L213.1,201.5L216.4,201.7L213.9,203.8L214.7,207.1L211.9,205.3L209.0,207.1L209.9,203.8L207.3,201.7L210.6,201.5ZM216.5,195.8L217.7,198.9L221.1,199.1L218.5,201.2L219.3,204.5L216.5,202.7L213.7,204.5L214.5,201.2L211.9,199.1L215.3,198.9ZM221.1,194.7L222.4,197.8L225.7,198.0L223.1,200.1L223.9,203.4L221.1,201.6L218.3,203.4L219.1,200.1L216.6,198.0L219.9,197.8ZM225.8,192.7L227.0,195.8L230.3,196.0L227.8,198.1L228.6,201.4L225.8,199.6L222.9,201.4L223.8,198.1L221.2,196.0L224.5,195.8ZM230.4,189.5L231.6,192.6L235.0,192.8L232.4,194.9L233.2,198.1L230.4,196.4L227.6,198.1L228.4,194.9L225.8,192.8L229.2,192.6ZM235.0,187.4L236.3,190.5L239.6,190.7L237.0,192.8L237.8,196.1L235.0,194.3L232.2,196.1L233.0,192.8L230.5,190.7L233.8,190.5ZM239.7,184.7L240.9,187.8L244.2,188.0L241.7,190.1L242.5,193.4L239.7,191.6L236.8,193.4L237.7,190.1L235.1,188.0L238.4,187.8ZM244.3,183.8L245.5,186.9L248.9,187.1L246.3,189.2L247.1,192.5L244.3,190.7L241.5,192.5L242.3,189.2L239.7,187.1L243.1,186.9ZM248.9,181.0L250.2,184.1L253.5,184.3L250.9,186.5L251.8,189.7L248.9,187.9L246.1,189.7L246.9,186.5L244.4,184.3L247.7,184.1ZM253.6,179.0L254.8,182.1L258.1,182.3L255.6,184.5L256.4,187.7L253.6,185.9L250.7,187.7L251.6,184.5L249.0,182.3L252.3,182.1ZM258.2,175.9L259.4,179.0L262.8,179.3L260.2,181.4L261.0,184.6L258.2,182.8L255.4,184.6L256.2,181.4L253.6,179.3L257.0,179.0ZM262.8,173.8L264.1,177.0L267.4,177.2L264.8,179.3L265.7,182.5L262.8,180.7L260.0,182.5L260.8,179.3L258.3,177.2L261.6,177.0ZM267.5,171.4L268.7,174.5L272.0,174.8L269.5,176.9L270.3,180.1L267.5,178.3L264.6,180.1L265.5,176.9L262.9,174.8L266.2,174.5ZM272.1,168.5L273.3,171.6L276.7,171.8L274.1,173.9L274.9,177.2L272.1,175.4L269.3,177.2L270.1,173.9L267.5,171.8L270.9,171.6ZM276.7,166.2L278.0,169.3L281.3,169.5L278.7,171.6L279.6,174.8L276.7,173.1L273.9,174.8L274.7,171.6L272.2,169.5L275.5,169.3Z" fill="#ff0000"/>
<path d="M-126.4,338.8L-121.8,336.3L-117.2,335.3L-112.5,333.0L-107.9,330.8L-103.3,329.0L-98.6,326.9L-94.0,325.5L-89.4,323.1L-84.7,321.6L-80.1,319.4L-75.5,317.8L-70.8,315.2L-66.2,313.1L-61.5,311.6L-56.9,309.5L-52.3,307.7L-47.6,306.2L-43.0,303.7L-38.4,301.8L-33.7,300.2L-29.1,297.9L-24.5,295.7L-19.8,293.6L-15.2,292.4L-10.6,290.1L-5.9,288.7L-1.3,286.6L3.3,285.0L8.0,283.1L12.6,280.2L17.2,278.6L21.9,276.6L26.5,274.0L31.1,272.7L35.8,270.9L40.4,268.9L45.0,267.6L49.7,265.3L54.3,263.1L58.9,261.2L63.6,258.7L68.2,257.2L72.8,256.2L77.5,253.3L82.1,251.9L86.7,250.1L91.4,248.5L96.0,246.3L100.6,244.0L105.3,243.1L109.9,239.8L114.5,238.0L119.2,236.7L123.8,234.3L128.4,233.1L133.1,230.7L137.7,229.3L142.3,227.2L147.0,224.6L151.6,222.3L156.2,220.8L160.9,220.3L165.5,217.2L170.2,215.4L174.8,213.1L179.4,211.5L184.1,209.7L188.7,207.5L193.3,204.9L198.0,203.2L202.6,200.8L207.2,198.6L211.9,196.3L216.5,193.6L221.1,192.1L225.8,190.4L230.4,187.3L235.0,185.0L239.7,182.7L244.3,178.7L248.9,177.2L253.6,174.4L258.2,171.3L262.8,168.5L267.5,165.8L272.1,163.1L276.7,2.0" fill="none" stroke="#ff1010" stroke-width="1.6"/>
<path d="M54.3,259.1L58.1,261.9L56.7,266.4L51.9,266.4L50.5,261.9ZM58.9,257.2L62.7,259.9L61.3,264.4L56.6,264.4L55.1,259.9ZM63.6,254.7L67.4,257.5L65.9,262.0L61.2,262.0L59.8,257.5ZM68.2,253.2L72.0,255.9L70.6,260.4L65.9,260.4L64.4,255.9ZM72.8,252.2L76.6,255.0L75.2,259.5L70.5,259.5L69.0,255.0ZM77.5,249.3L81.3,252.1L79.8,256.6L75.1,256.6L73.7,252.1ZM82.1,247.9L85.9,250.7L84.5,255.1L79.8,255.1L78.3,250.7ZM86.7,246.1L90.5,248.9L89.1,253.4L84.4,253.4L82.9,248.9ZM91.4,244.5L95.2,247.3L93.7,251.8L89.0,251.8L87.6,247.3ZM96.0,242.3L99.8,245.1L98.4,249.6L93.7,249.6L92.2,245.1ZM100.6,240.0L104.4,242.8L103.0,247.3L98.3,247.3L96.8,242.8ZM105.3,239.1L109.1,241.8L107.6,246.3L102.9,246.3L101.5,241.8ZM109.9,235.8L113.7,238.5L112.3,243.0L107.6,243.0L106.1,238.5ZM114.5,234.0L118.3,236.8L116.9,241.3L112.2,241.3L110.7,236.8ZM119.2,232.7L123.0,235.5L121.5,240.0L116.8,240.0L115.4,235.5ZM123.8,230.3L127.6,233.1L126.2,237.5L121.5,237.5L120.0,233.1ZM128.4,229.1L132.2,231.9L130.8,236.4L126.1,236.4L124.6,231.9ZM133.1,226.7L136.9,229.5L135.4,233.9L130.7,233.9L129.3,229.5ZM137.7,225.3L141.5,228.0L140.1,232.5L135.4,232.5L133.9,228.0ZM142.3,223.2L146.2,225.9L144.7,230.4L140.0,230.4L138.5,225.9ZM147.0,220.6L150.8,223.3L149.3,227.8L144.6,227.8L143.2,223.3ZM151.6,218.3L155.4,221.0L154.0,225.5L149.3,225.5L147.8,221.0ZM156.2,216.8L160.1,219.6L158.6,224.1L153.9,224.1L152.4,219.6ZM160.9,216.3L164.7,219.0L163.2,223.5L158.5,223.5L157.1,219.0ZM165.5,213.2L169.3,215.9L167.9,220.4L163.2,220.4L161.7,215.9ZM170.2,211.4L174.0,214.1L172.5,218.6L167.8,218.6L166.3,214.1ZM174.8,209.1L178.6,211.9L177.1,216.4L172.4,216.4L171.0,211.9ZM179.4,207.5L183.2,210.2L181.8,214.7L177.1,214.7L175.6,210.2ZM184.1,205.7L187.9,208.5L186.4,212.9L181.7,212.9L180.2,208.5ZM188.7,203.5L192.5,206.3L191.0,210.7L186.3,210.7L184.9,206.3ZM193.3,200.9L197.1,203.7L195.7,208.2L191.0,208.2L189.5,203.7ZM198.0,199.2L201.8,202.0L200.3,206.4L195.6,206.4L194.2,202.0ZM202.6,196.8L206.4,199.6L204.9,204.1L200.2,204.1L198.8,199.6ZM207.2,194.6L211.0,197.4L209.6,201.9L204.9,201.9L203.4,197.4ZM211.9,192.3L215.7,195.1L214.2,199.5L209.5,199.5L208.1,195.1ZM216.5,189.6L220.3,192.4L218.8,196.9L214.1,196.9L212.7,192.4ZM221.1,188.1L224.9,190.9L223.5,195.4L218.8,195.4L217.3,190.9ZM225.8,186.4L229.6,189.1L228.1,193.6L223.4,193.6L222.0,189.1ZM230.4,183.3L234.2,186.0L232.7,190.5L228.0,190.5L226.6,186.0ZM235.0,181.0L238.8,183.8L237.4,188.2L232.7,188.2L231.2,183.8ZM239.7,178.7L243.5,181.5L242.0,186.0L237.3,186.0L235.9,181.5ZM244.3,174.7L248.1,177.4L246.6,181.9L241.9,181.9L240.5,177.4ZM248.9,173.2L252.7,176.0L251.3,180.5L246.6,180.5L245.1,176.0ZM253.6,170.4L257.4,173.1L255.9,177.6L251.2,177.6L249.8,173.1ZM258.2,167.3L262.0,170.1L260.5,174.5L255.8,174.5L254.4,170.1ZM262.8,164.5L266.6,167.2L265.2,171.7L260.5,171.7L259.0,167.2ZM267.5,161.8L271.3,164.6L269.8,169.0L265.1,169.0L263.7,164.6ZM272.1,159.1L275.9,161.8L274.5,166.3L269.7,166.3L268.3,161.8Z" fill="#ff0000"/>
<path d="M-126.4,335.2L-121.8,333.7L-117.2,331.3L-112.5,329.4L-107.9,327.6L-103.3,326.2L-98.6,323.5L-94.0,321.8L-89.4,319.5L-84.7,317.3L-80.1,315.9L-75.5,314.5L-70.8,311.8L-66.2,309.9L-61.5,307.8L-56.9,305.3L-52.3,303.8L-47.6,301.6L-43.0,299.8L-38.4,298.0L-33.7,296.3L-29.1,293.8L-24.5,291.9L-19.8,291.0L-15.2,288.4L-10.6,286.5L-5.9,283.9L-1.3,283.1L3.3,280.4L8.0,278.4L12.6,275.8L17.2,274.8L21.9,272.3L26.5,271.5L31.1,269.1L35.8,267.0L40.4,264.2L45.0,263.0L49.7,260.3L54.3,258.6L58.9,257.4L63.6,256.0L68.2,253.3L72.8,251.6L77.5,249.9L82.1,247.3L86.7,245.5L91.4,244.3L96.0,242.5L100.6,240.0L105.3,237.5L109.9,235.8L114.5,233.4L119.2,232.2L123.8,231.2L128.4,227.8L133.1,226.0L137.7,224.4L142.3,222.3L147.0,220.8L151.6,218.7L156.2,216.2L160.9,215.1L165.5,212.0L170.2,210.3L174.8,208.3L179.4,206.3L184.1,203.9L188.7,202.3L193.3,200.7L198.0,198.6L202.6,196.9L207.2,195.0L211.9,192.1L216.5,190.9L221.1,188.4L225.8,185.9L230.4,183.6L235.0,181.3L239.7,178.2L244.3,176.4L248.9,172.8L253.6,169.9L258.2,165.6L262.8,161.8L267.5,158.0L272.1,2.0" fill="none" stroke="#cc1010" stroke-width="1.6"/>
<path d="M50.8,258.6a3.5,3.5 0 1,0 7.0,0a3.5,3.5 0 1,0 -7.0,0M55.4,257.4a3.5,3.5 0 1,0 7.0,0a3.5,3.5 0 1,0 -7.0,0M60.1,256.0a3.5,3.5 0 1,0 7.0,0a3.5,3.5 0 1,0 -7.0,0M64.7,253.3a3.5,3.5 0 1,0 7.0,0a3.5,3.5 0 1,0 -7.0,0M69.3,251.6a3.5,3.5 0 1,0 7.0,0a3.5,3.5 0 1,0 -7.0,0M74.0,249.9a3.5,3.5 0 1,0 7.0,0a3.5,3.5 0 1,0 -7.0,0M78.6,247.3a3.5,3.5 0 1,0 7.0,0a3.5,3.5 0 1,0 -7.0,0M83.2,245.5a3.5,3.5 0 1,0 7.0,0a3.5,3.5 0 1,0 -7.0,0M87.9,244.3a3.5,3.5 0 1,0 7.0,0a3.5,3.5 0 1,0 -7.0,0M92.5,242.5a3.5,3.5 0 1,0 7.0,0a3.5,3.5 0 1,0 -7.0,0M97.1,240.0a3.5,3.5 0 1,0 7.0,0a3.5,3.5 0 1,0 -7.0,0M101.8,237.5a3.5,3.5 0 1,0 7.0,0a3.5,3.5 0 1,0 -7.0,0M106.4,235.8a3.5,3.5 0 1,0 7.0,0a3.5,3.5 0 1,0 -7.0,0M111.0,233.4a3.5,3.5 0 1,0 7.0,0a3.5,3.5 0 1,0 -7.0,0M115.7,232.2a3.5,3.5 0 1,0 7.0,0a3.5,3.5 0 1,0 -7.0,0M120.3,231.2a3.5,3.5 0 1,0 7.0,0a3.5,3.5 0 1,0 -7.0,0M124.9,227.8a3.5,3.5 0 1,0 7.0,0a3.5,3.5 0 1,0 -7.0,0M129.6,226.0a3.5,3.5 0 1,0 7.0,0a3.5,3.5 0 1,0 -7.0,0M134.2,224.4a3.5,3.5 0 1,0 7.0,0a3.5,3.5 0 1,0 -7.0,0M138.8,222.3a3.5,3.5 0 1,0 7.0,0a3.5,3.5 0 1,0 -7.0,0M143.5,220.8a3.5,3.5 0 1,0 7.0,0a3.5,3.5 0 1,0 -7.0,0M148.1,218.7a3.5,3.5 0 1,0 7.0,0a3.5,3.5 0 1,0 -7.0,0M152.7,216.2a3.5,3.5 0 1,0 7.0,0a3.5,3.5 0 1,0 -7.0,0M157.4,215.1a3.5,3.5 0 1,0 7.0,0a3.5,3.5 0 1,0 -7.0,0M162.0,212.0a3.5,3.5 0 1,0 7.0,0a3.5,3.5 0 1,0 -7.0,0M166.7,210.3a3.5,3.5 0 1,0 7.0,0a3.5,3.5 0 1,0 -7.0,0M171.3,208.3a3.5,3.5 0 1,0 7.0,0a3.5,3.5 0 1,0 -7.0,0M175.9,206.3a3.5,3.5 0 1,0 7.0,0a3.5,3.5 0 1,0 -7.0,0M180.6,203.9a3.5,3.5 0 1,0 7.0,0a3.5,3.5 0 1,0 -7.0,0M185.2,202.3a3.5,3.5 0 1,0 7.0,0a3.5,3.5 0 1,0 -7.0,0M189.8,200.7a3.5,3.5 0 1,0 7.0,0a3.5,3.5 0 1,0 -7.0,0M194.5,198.6a3.5,3.5 0 1,0 7.0,0a3.5,3.5 0 1,0 -7.0,0M199.1,196.9a3.5,3.5 0 1,0 7.0,0a3.5,3.5 0 1,0 -7.0,0M203.7,195.0a3.5,3.5 0 1,0 7.0,0a3.5,3.5 0 1,0 -7.0,0M208.4,192.1a3.5,3.5 0 1,0 7.0,0a3.5,3.5 0 1,0 -7.0,0M213.0,190.9a3.5,3.5 0 1,0 7.0,0a3.5,3.5 0 1,0 -7.0,0M217.6,188.4a3.5,3.5 0 1,0 7.0,0a3.5,3.5 0 1,0 -7.0,0M222.3,185.9a3.5,3.5 0 1,0 7.0,0a3.5,3.5 0 1,0 -7.0,0M226.9,183.6a3.5,3.5 0 1,0 7.0,0a3.5,3.5 0 1,0 -7.0,0M231.5,181.3a3.5,3.5 0 1,0 7.0,0a3.5,3.5 0 1,0 -7.0,0M236.2,178.2a3.5,3.5 0 1,0 7.0,0a3.5,3.5 0 1,0 -7.0,0M240.8,176.4a3.5,3.5 0 1,0 7.0,0a3.5,3.5 0 1,0 -7.0,0M245.4,172.8a3.5,3.5 0 1,0 7.0,0a3.5,3.5 0 1,0 -7.0,0M250.1,169.9a3.5,3.5 0 1,0 7.0,0a3.5,3.5 0 1,0 -7.0,0M254.7,165.6a3.5,3.5 0 1,0 7.0,0a3.5,3.5 0 1,0 -7.0,0M259.3,161.8a3.5,3.5 0 1,0 7.0,0a3.5,3.5 0 1,0 -7.0,0M264.0,158.0a3.5,3.5 0 1,0 7.0,0a3.5,3.5 0 1,0 -7.0,0" fill="#c00000"/>
<path d="M52.4,257.8a0.9,0.9 0 1,0 1.8,0a0.9,0.9 0 1,0 -1.8,0M57.0,256.6a0.9,0.9 0 1,0 1.8,0a0.9,0.9 0 1,0 -1.8,0M61.7,255.2a0.9,0.9 0 1,0 1.8,0a0.9,0.9 0 1,0 -1.8,0M66.3,252.5a0.9,0.9 0 1,0 1.8,0a0.9,0.9 0 1,0 -1.8,0M70.9,250.8a0.9,0.9 0 1,0 1.8,0a0.9,0.9 0 1,0 -1.8,0M75.6,249.1a0.9,0.9 0 1,0 1.8,0a0.9,0.9 0 1,0 -1.8,0M80.2,246.5a0.9,0.9 0 1,0 1.8,0a0.9,0.9 0 1,0 -1.8,0M84.8,244.7a0.9,0.9 0 1,0 1.8,0a0.9,0.9 0 1,0 -1.8,0M89.5,243.5a0.9,0.9 0 1,0 1.8,0a0.9,0.9 0 1,0 -1.8,0M94.1,241.7a0.9,0.9 0 1,0 1.8,0a0.9,0.9 0 1,0 -1.8,0M98.7,239.2a0.9,0.9 0 1,0 1.8,0a0.9,0.9 0 1,0 -1.8,0M103.4,236.7a0.9,0.9 0 1,0 1.8,0a0.9,0.9 0 1,0 -1.8,0M108.0,235.0a0.9,0.9 0 1,0 1.8,0a0.9,0.9 0 1,0 -1.8,0M112.6,232.6a0.9,0.9 0 1,0 1.8,0a0.9,0.9 0 1,0 -1.8,0M117.3,231.4a0.9,0.9 0 1,0 1.8,0a0.9,0.9 0 1,0 -1.8,0M121.9,230.4a0.9,0.9 0 1,0 1.8,0a0.9,0.9 0 1,0 -1.8,0M126.5,227.0a0.9,0.9 0 1,0 1.8,0a0.9,0.9 0 1,0 -1.8,0M131.2,225.2a0.9,0.9 0 1,0 1.8,0a0.9,0.9 0 1,0 -1.8,0M135.8,223.6a0.9,0.9 0 1,0 1.8,0a0.9,0.9 0 1,0 -1.8,0M140.4,221.5a0.9,0.9 0 1,0 1.8,0a0.9,0.9 0 1,0 -1.8,0M145.1,220.0a0.9,0.9 0 1,0 1.8,0a0.9,0.9 0 1,0 -1.8,0M149.7,217.9a0.9,0.9 0 1,0 1.8,0a0.9,0.9 0 1,0 -1.8,0M154.3,215.4a0.9,0.9 0 1,0 1.8,0a0.9,0.9 0 1,0 -1.8,0M159.0,214.3a0.9,0.9 0 1,0 1.8,0a0.9,0.9 0 1,0 -1.8,0M163.6,211.2a0.9,0.9 0 1,0 1.8,0a0.9,0.9 0 1,0 -1.8,0M168.3,209.5a0.9,0.9 0 1,0 1.8,0a0.9,0.9 0 1,0 -1.8,0M172.9,207.5a0.9,0.9 0 1,0 1.8,0a0.9,0.9 0 1,0 -1.8,0M177.5,205.5a0.9,0.9 0 1,0 1.8,0a0.9,0.9 0 1,0 -1.8,0M182.2,203.1a0.9,0.9 0 1,0 1.8,0a0.9,0.9 0 1,0 -1.8,0M186.8,201.5a0.9,0.9 0 1,0 1.8,0a0.9,0.9 0 1,0 -1.8,0M191.4,199.9a0.9,0.9 0 1,0 1.8,0a0.9,0.9 0 1,0 -1.8,0M196.1,197.8a0.9,0.9 0 1,0 1.8,0a0.9,0.9 0 1,0 -1.8,0M200.7,196.1a0.9,0.9 0 1,0 1.8,0a0.9,0.9 0 1,0 -1.8,0M205.3,194.2a0.9,0.9 0 1,0 1.8,0a0.9,0.9 0 1,0 -1.8,0M210.0,191.3a0.9,0.9 0 1,0 1.8,0a0.9,0.9 0 1,0 -1.8,0M214.6,190.1a0.9,0.9 0 1,0 1.8,0a0.9,0.9 0 1,0 -1.8,0M219.2,187.6a0.9,0.9 0 1,0 1.8,0a0.9,0.9 0 1,0 -1.8,0M223.9,185.1a0.9,0.9 0 1,0 1.8,0a0.9,0.9 0 1,0 -1.8,0M228.5,182.8a0.9,0.9 0 1,0 1.8,0a0.9,0.9 0 1,0 -1.8,0M233.1,180.5a0.9,0.9 0 1,0 1.8,0a0.9,0.9 0 1,0 -1.8,0M237.8,177.4a0.9,0.9 0 1,0 1.8,0a0.9,0.9 0 1,0 -1.8,0M242.4,175.6a0.9,0.9 0 1,0 1.8,0a0.9,0.9 0 1,0 -1.8,0M247.0,172.0a0.9,0.9 0 1,0 1.8,0a0.9,0.9 0 1,0 -1.8,0M251.7,169.1a0.9,0.9 0 1,0 1.8,0a0.9,0.9 0 1,0 -1.8,0M256.3,164.8a0.9,0.9 0 1,0 1.8,0a0.9,0.9 0 1,0 -1.8,0M260.9,161.0a0.9,0.9 0 1,0 1.8,0a0.9,0.9 0 1,0 -1.8,0M265.6,157.2a0.9,0.9 0 1,0 1.8,0a0.9,0.9 0 1,0 -1.8,0" fill="#ffffff" opacity="0.65"/>
<path d="M-126.4,331.4L-121.8,329.1L-117.2,327.5L-112.5,325.0L-107.9,323.6L-103.3,321.7L-98.6,319.3L-94.0,318.3L-89.4,315.7L-84.7,313.1L-80.1,311.7L-75.5,309.3L-70.8,308.1L-66.2,306.0L-61.5,304.0L-56.9,301.9L-52.3,299.4L-47.6,298.7L-43.0,296.6L-38.4,294.1L-33.7,291.5L-29.1,290.3L-24.5,287.8L-19.8,285.9L-15.2,284.4L-10.6,282.4L-5.9,281.1L-1.3,278.3L3.3,276.7L8.0,274.3L12.6,272.7L17.2,270.5L21.9,268.1L26.5,266.9L31.1,265.2L35.8,262.2L40.4,260.8L45.0,258.2L49.7,256.9L54.3,254.5L58.9,252.5L63.6,250.5L68.2,248.6L72.8,246.6L77.5,244.7L82.1,242.1L86.7,241.1L91.4,239.0L96.0,236.7L100.6,234.9L105.3,232.9L109.9,230.7L114.5,228.7L119.2,226.8L123.8,224.7L128.4,222.5L133.1,221.0L137.7,218.7L142.3,216.4L147.0,214.9L151.6,212.9L156.2,210.6L160.9,209.6L165.5,206.5L170.2,203.9L174.8,202.4L179.4,200.8L184.1,197.7L188.7,196.4L193.3,194.5L198.0,192.1L202.6,190.0L207.2,188.3L211.9,186.4L216.5,184.6L221.1,182.6L225.8,181.5L230.4,177.5L235.0,175.2L239.7,173.0L244.3,170.9L248.9,167.9L253.6,165.2L258.2,162.5L262.8,159.9L267.5,2.0" fill="none" stroke="#8b1010" stroke-width="1.6"/>
<path d="M51.3,254.5h6M54.3,250.9v7.2M55.9,252.5h6M58.9,248.9v7.2M60.6,250.5h6M63.6,246.9v7.2M65.2,248.6h6M68.2,245.0v7.2M69.8,246.6h6M72.8,243.0v7.2M74.5,244.7h6M77.5,241.1v7.2M79.1,242.1h6M82.1,238.5v7.2M83.7,241.1h6M86.7,237.5v7.2M88.4,239.0h6M91.4,235.4v7.2M93.0,236.7h6M96.0,233.1v7.2M97.6,234.9h6M100.6,231.3v7.2M102.3,232.9h6M105.3,229.3v7.2M106.9,230.7h6M109.9,227.1v7.2M111.5,228.7h6M114.5,225.1v7.2M116.2,226.8h6M119.2,223.2v7.2M120.8,224.7h6M123.8,221.1v7.2M125.4,222.5h6M128.4,218.9v7.2M130.1,221.0h6M133.1,217.4v7.2M134.7,218.7h6M137.7,215.1v7.2M139.3,216.4h6M142.3,212.8v7.2M144.0,214.9h6M147.0,211.3v7.2M148.6,212.9h6M151.6,209.3v7.2M153.2,210.6h6M156.2,207.0v7.2M157.9,209.6h6M160.9,206.0v7.2M162.5,206.5h6M165.5,202.9v7.2M167.2,203.9h6M170.2,200.3v7.2M171.8,202.4h6M174.8,198.8v7.2M176.4,200.8h6M179.4,197.2v7.2M181.1,197.7h6M184.1,194.1v7.2M185.7,196.4h6M188.7,192.8v7.2M190.3,194.5h6M193.3,190.9v7.2M195.0,192.1h6M198.0,188.5v7.2M199.6,190.0h6M202.6,186.4v7.2M204.2,188.3h6M207.2,184.7v7.2M208.9,186.4h6M211.9,182.8v7.2M213.5,184.6h6M216.5,181.0v7.2M218.1,182.6h6M221.1,179.0v7.2M222.8,181.5h6M225.8,177.9v7.2M227.4,177.5h6M230.4,173.9v7.2M232.0,175.2h6M235.0,171.6v7.2M236.7,173.0h6M239.7,169.4v7.2M241.3,170.9h6M244.3,167.3v7.2M245.9,167.9h6M248.9,164.3v7.2M250.6,165.2h6M253.6,161.6v7.2M255.2,162.5h6M258.2,158.9v7.2M259.8,159.9h6M262.8,156.3v7.2" fill="none" stroke="#a43c4a" stroke-width="1.0"/>
</g>
<g clip-path="url(#cd)">
<path d="M652.1,591.6L654.7,584.1L657.3,575.9L659.9,570.7L662.5,558.6L664.6,351.5" fill="none" stroke="#8a00c8" stroke-width="1.6"/>
<path d="M417.0,604.3L419.6,604.1L422.2,606.4L424.7,606.4L427.3,605.8L429.9,605.1L432.5,607.9L435.1,605.3L437.7,605.1L440.2,606.4L442.8,605.4L445.4,604.7L448.0,606.8L450.6,605.7L453.2,605.5L455.7,603.3L458.3,604.4L460.9,605.0L463.5,607.0L466.1,606.7L468.7,605.7L471.2,606.2L473.8,604.8L476.4,603.5L479.0,605.2L481.6,604.1L484.2,605.6L486.8,604.5L489.3,605.2L491.9,607.4L494.5,606.1L497.1,605.9L499.7,603.3L502.3,604.7L504.8,605.3L507.4,605.4L510.0,605.7L512.6,607.3L515.2,607.0L517.8,603.7L520.3,606.1L522.9,605.7L525.5,607.1L528.1,606.9L530.7,605.5L533.3,605.3L535.8,607.7L538.4,607.9L541.0,607.9L543.6,606.9L546.2,609.3L548.8,606.8L551.4,607.2L553.9,606.8L556.5,608.0L559.1,608.0L561.7,607.3L564.3,608.4L566.9,607.7L569.4,607.3L572.0,606.6L574.6,607.0L577.2,606.0L579.8,606.9L582.4,607.8L584.9,607.9L587.5,607.1L590.1,607.6L592.7,610.1L595.3,608.6L597.9,607.6L600.4,610.0L603.0,611.1L605.6,611.4L608.2,608.0L610.8,609.0L613.4,608.6L616.0,609.5L618.5,607.5L621.1,609.1L623.7,609.2L626.3,605.8L628.9,605.3L631.5,607.8L634.0,607.8L636.6,605.7L639.2,606.6L641.8,607.3L644.4,602.1L647.0,595.9L649.5,594.0L652.1,591.6" fill="none" stroke="#8a00c8" stroke-width="1.0"/>
<path d="M413.9,601.2L420.1,601.2L420.1,607.4L413.9,607.4ZM416.5,601.0L422.7,601.0L422.7,607.2L416.5,607.2ZM419.1,603.3L425.3,603.3L425.3,609.5L419.1,609.5ZM421.6,603.3L427.8,603.3L427.8,609.5L421.6,609.5ZM424.2,602.7L430.4,602.7L430.4,608.9L424.2,608.9ZM426.8,602.0L433.0,602.0L433.0,608.2L426.8,608.2ZM429.4,604.8L435.6,604.8L435.6,611.0L429.4,611.0ZM432.0,602.2L438.2,602.2L438.2,608.4L432.0,608.4ZM434.6,602.0L440.8,602.0L440.8,608.2L434.6,608.2ZM437.1,603.3L443.3,603.3L443.3,609.5L437.1,609.5ZM439.7,602.3L445.9,602.3L445.9,608.5L439.7,608.5ZM442.3,601.6L448.5,601.6L448.5,607.8L442.3,607.8ZM444.9,603.7L451.1,603.7L451.1,609.9L444.9,609.9ZM447.5,602.6L453.7,602.6L453.7,608.8L447.5,608.8ZM450.1,602.4L456.3,602.4L456.3,608.6L450.1,608.6ZM452.6,600.2L458.8,600.2L458.8,606.4L452.6,606.4ZM455.2,601.3L461.4,601.3L461.4,607.5L455.2,607.5ZM457.8,601.9L464.0,601.9L464.0,608.1L457.8,608.1ZM460.4,603.9L466.6,603.9L466.6,610.1L460.4,610.1ZM463.0,603.6L469.2,603.6L469.2,609.8L463.0,609.8ZM465.6,602.6L471.8,602.6L471.8,608.8L465.6,608.8ZM468.1,603.1L474.3,603.1L474.3,609.3L468.1,609.3ZM470.7,601.7L476.9,601.7L476.9,607.9L470.7,607.9ZM473.3,600.4L479.5,600.4L479.5,606.6L473.3,606.6ZM475.9,602.1L482.1,602.1L482.1,608.3L475.9,608.3ZM478.5,601.0L484.7,601.0L484.7,607.2L478.5,607.2ZM481.1,602.5L487.3,602.5L487.3,608.7L481.1,608.7ZM483.7,601.4L489.9,601.4L489.9,607.6L483.7,607.6ZM486.2,602.1L492.4,602.1L492.4,608.3L486.2,608.3ZM488.8,604.3L495.0,604.3L495.0,610.5L488.8,610.5ZM491.4,603.0L497.6,603.0L497.6,609.2L491.4,609.2ZM494.0,602.8L500.2,602.8L500.2,609.0L494.0,609.0ZM496.6,600.2L502.8,600.2L502.8,606.4L496.6,606.4ZM499.2,601.6L505.4,601.6L505.4,607.8L499.2,607.8ZM501.7,602.2L507.9,602.2L507.9,608.4L501.7,608.4ZM504.3,602.3L510.5,602.3L510.5,608.5L504.3,608.5ZM506.9,602.6L513.1,602.6L513.1,608.8L506.9,608.8ZM509.5,604.2L515.7,604.2L515.7,610.4L509.5,610.4ZM512.1,603.9L518.3,603.9L518.3,610.1L512.1,610.1ZM514.7,600.6L520.9,600.6L520.9,606.8L514.7,606.8ZM517.2,603.0L523.4,603.0L523.4,609.2L517.2,609.2ZM519.8,602.6L526.0,602.6L526.0,608.8L519.8,608.8ZM522.4,604.0L528.6,604.0L528.6,610.2L522.4,610.2ZM525.0,603.8L531.2,603.8L531.2,610.0L525.0,610.0ZM527.6,602.4L533.8,602.4L533.8,608.6L527.6,608.6ZM530.2,602.2L536.4,602.2L536.4,608.4L530.2,608.4ZM532.7,604.6L538.9,604.6L538.9,610.8L532.7,610.8ZM535.3,604.8L541.5,604.8L541.5,611.0L535.3,611.0ZM537.9,604.8L544.1,604.8L544.1,611.0L537.9,611.0ZM540.5,603.8L546.7,603.8L546.7,610.0L540.5,610.0ZM543.1,606.2L549.3,606.2L549.3,612.4L543.1,612.4ZM545.7,603.7L551.9,603.7L551.9,609.9L545.7,609.9ZM548.3,604.1L554.5,604.1L554.5,610.3L548.3,610.3ZM550.8,603.7L557.0,603.7L557.0,609.9L550.8,609.9ZM553.4,604.9L559.6,604.9L559.6,611.1L553.4,611.1ZM556.0,604.9L562.2,604.9L562.2,611.1L556.0,611.1ZM558.6,604.2L564.8,604.2L564.8,610.4L558.6,610.4ZM561.2,605.3L567.4,605.3L567.4,611.5L561.2,611.5ZM563.8,604.6L570.0,604.6L570.0,610.8L563.8,610.8ZM566.3,604.2L572.5,604.2L572.5,610.4L566.3,610.4ZM568.9,603.5L575.1,603.5L575.1,609.7L568.9,609.7ZM571.5,603.9L577.7,603.9L577.7,610.1L571.5,610.1ZM574.1,602.9L580.3,602.9L580.3,609.1L574.1,609.1ZM576.7,603.8L582.9,603.8L582.9,610.0L576.7,610.0ZM579.3,604.7L585.5,604.7L585.5,610.9L579.3,610.9ZM581.8,604.8L588.0,604.8L588.0,611.0L581.8,611.0ZM584.4,604.0L590.6,604.0L590.6,610.2L584.4,610.2ZM587.0,604.5L593.2,604.5L593.2,610.7L587.0,610.7ZM589.6,607.0L595.8,607.0L595.8,613.2L589.6,613.2ZM592.2,605.5L598.4,605.5L598.4,611.7L592.2,611.7ZM594.8,604.5L601.0,604.5L601.0,610.7L594.8,610.7ZM597.3,606.9L603.5,606.9L603.5,613.1L597.3,613.1ZM599.9,608.0L606.1,608.0L606.1,614.2L599.9,614.2ZM602.5,608.3L608.7,608.3L608.7,614.5L602.5,614.5ZM605.1,604.9L611.3,604.9L611.3,611.1L605.1,611.1ZM607.7,605.9L613.9,605.9L613.9,612.1L607.7,612.1ZM610.3,605.5L616.5,605.5L616.5,611.7L610.3,611.7ZM612.9,606.4L619.1,606.4L619.1,612.6L612.9,612.6ZM615.4,604.4L621.6,604.4L621.6,610.6L615.4,610.6ZM618.0,606.0L624.2,606.0L624.2,612.2L618.0,612.2ZM620.6,606.1L626.8,606.1L626.8,612.3L620.6,612.3ZM623.2,602.7L629.4,602.7L629.4,608.9L623.2,608.9ZM625.8,602.2L632.0,602.2L632.0,608.4L625.8,608.4ZM628.4,604.7L634.6,604.7L634.6,610.9L628.4,610.9ZM630.9,604.7L637.1,604.7L637.1,610.9L630.9,610.9ZM633.5,602.6L639.7,602.6L639.7,608.8L633.5,608.8ZM636.1,603.5L642.3,603.5L642.3,609.7L636.1,609.7ZM638.7,604.2L644.9,604.2L644.9,610.4L638.7,610.4ZM641.3,599.0L647.5,599.0L647.5,605.2L641.3,605.2ZM643.9,592.8L650.1,592.8L650.1,599.0L643.9,599.0ZM646.4,590.9L652.6,590.9L652.6,597.1L646.4,597.1ZM649.0,588.5L655.2,588.5L655.2,594.7L649.0,594.7ZM651.6,581.0L657.8,581.0L657.8,587.2L651.6,587.2ZM654.2,572.8L660.4,572.8L660.4,579.0L654.2,579.0ZM656.8,567.6L663.0,567.6L663.0,573.8L656.8,573.8ZM659.4,555.5L665.6,555.5L665.6,561.7L659.4,561.7Z" fill="#7f00b2"/>
<path d="M655.4,559.7L657.9,554.9L660.5,543.9L662.6,351.5" fill="none" stroke="#2a00ff" stroke-width="1.6"/>
<path d="M415.0,580.8L417.6,580.8L420.2,580.8L422.8,581.7L425.4,579.8L428.0,582.8L430.5,581.2L433.1,582.4L435.7,580.8L438.3,581.0L440.9,581.3L443.5,582.8L446.1,581.8L448.6,581.6L451.2,581.8L453.8,582.2L456.4,579.3L459.0,580.1L461.6,581.7L464.1,581.8L466.7,582.7L469.3,581.5L471.9,579.9L474.5,580.7L477.1,579.2L479.6,581.3L482.2,583.3L484.8,581.0L487.4,582.5L490.0,581.3L492.6,580.8L495.1,579.5L497.7,580.5L500.3,579.6L502.9,581.7L505.5,583.1L508.1,584.0L510.7,584.1L513.2,583.6L515.8,583.6L518.4,583.4L521.0,584.5L523.6,584.1L526.2,584.9L528.7,582.1L531.3,586.2L533.9,586.6L536.5,586.0L539.1,585.4L541.7,587.1L544.2,586.1L546.8,584.7L549.4,586.7L552.0,586.3L554.6,587.2L557.2,590.0L559.7,588.6L562.3,590.5L564.9,594.0L567.5,591.6L570.1,596.4L572.7,597.7L575.3,598.2L577.8,597.9L580.4,599.5L583.0,598.8L585.6,599.3L588.2,599.4L590.8,599.4L593.3,598.5L595.9,600.0L598.5,598.1L601.1,597.3L603.7,595.9L606.3,594.1L608.8,592.2L611.4,590.6L614.0,590.6L616.6,588.0L619.2,587.3L621.8,586.7L624.3,585.8L626.9,584.1L629.5,584.0L632.1,583.4L634.7,582.7L637.3,580.5L639.9,578.3L642.4,576.1L645.0,571.8L647.6,568.8L650.2,566.8L652.8,563.2L655.4,559.7" fill="none" stroke="#2a00ff" stroke-width="1.0"/>
<path d="M411.5,580.8a3.5,3.5 0 1,0 7.0,0a3.5,3.5 0 1,0 -7.0,0M414.1,580.8a3.5,3.5 0 1,0 7.0,0a3.5,3.5 0 1,0 -7.0,0M416.7,580.8a3.5,3.5 0 1,0 7.0,0a3.5,3.5 0 1,0 -7.0,0M419.3,581.7a3.5,3.5 0 1,0 7.0,0a3.5,3.5 0 1,0 -7.0,0M421.9,579.8a3.5,3.5 0 1,0 7.0,0a3.5,3.5 0 1,0 -7.0,0M424.5,582.8a3.5,3.5 0 1,0 7.0,0a3.5,3.5 0 1,0 -7.0,0M427.0,581.2a3.5,3.5 0 1,0 7.0,0a3.5,3.5 0 1,0 -7.0,0M429.6,582.4a3.5,3.5 0 1,0 7.0,0a3.5,3.5 0 1,0 -7.0,0M432.2,580.8a3.5,3.5 0 1,0 7.0,0a3.5,3.5 0 1,0 -7.0,0M434.8,581.0a3.5,3.5 0 1,0 7.0,0a3.5,3.5 0 1,0 -7.0,0M437.4,581.3a3.5,3.5 0 1,0 7.0,0a3.5,3.5 0 1,0 -7.0,0M440.0,582.8a3.5,3.5 0 1,0 7.0,0a3.5,3.5 0 1,0 -7.0,0M442.6,581.8a3.5,3.5 0 1,0 7.0,0a3.5,3.5 0 1,0 -7.0,0M445.1,581.6a3.5,3.5 0 1,0 7.0,0a3.5,3.5 0 1,0 -7.0,0M447.7,581.8a3.5,3.5 0 1,0 7.0,0a3.5,3.5 0 1,0 -7.0,0M450.3,582.2a3.5,3.5 0 1,0 7.0,0a3.5,3.5 0 1,0 -7.0,0M452.9,579.3a3.5,3.5 0 1,0 7.0,0a3.5,3.5 0 1,0 -7.0,0M455.5,580.1a3.5,3.5 0 1,0 7.0,0a3.5,3.5 0 1,0 -7.0,0M458.1,581.7a3.5,3.5 0 1,0 7.0,0a3.5,3.5 0 1,0 -7.0,0M460.6,581.8a3.5,3.5 0 1,0 7.0,0a3.5,3.5 0 1,0 -7.0,0M463.2,582.7a3.5,3.5 0 1,0 7.0,0a3.5,3.5 0 1,0 -7.0,0M465.8,581.5a3.5,3.5 0 1,0 7.0,0a3.5,3.5 0 1,0 -7.0,0M468.4,579.9a3.5,3.5 0 1,0 7.0,0a3.5,3.5 0 1,0 -7.0,0M471.0,580.7a3.5,3.5 0 1,0 7.0,0a3.5,3.5 0 1,0 -7.0,0M473.6,579.2a3.5,3.5 0 1,0 7.0,0a3.5,3.5 0 1,0 -7.0,0M476.1,581.3a3.5,3.5 0 1,0 7.0,0a3.5,3.5 0 1,0 -7.0,0M478.7,583.3a3.5,3.5 0 1,0 7.0,0a3.5,3.5 0 1,0 -7.0,0M481.3,581.0a3.5,3.5 0 1,0 7.0,0a3.5,3.5 0 1,0 -7.0,0M483.9,582.5a3.5,3.5 0 1,0 7.0,0a3.5,3.5 0 1,0 -7.0,0M486.5,581.3a3.5,3.5 0 1,0 7.0,0a3.5,3.5 0 1,0 -7.0,0M489.1,580.8a3.5,3.5 0 1,0 7.0,0a3.5,3.5 0 1,0 -7.0,0M491.6,579.5a3.5,3.5 0 1,0 7.0,0a3.5,3.5 0 1,0 -7.0,0M494.2,580.5a3.5,3.5 0 1,0 7.0,0a3.5,3.5 0 1,0 -7.0,0M496.8,579.6a3.5,3.5 0 1,0 7.0,0a3.5,3.5 0 1,0 -7.0,0M499.4,581.7a3.5,3.5 0 1,0 7.0,0a3.5,3.5 0 1,0 -7.0,0M502.0,583.1a3.5,3.5 0 1,0 7.0,0a3.5,3.5 0 1,0 -7.0,0M504.6,584.0a3.5,3.5 0 1,0 7.0,0a3.5,3.5 0 1,0 -7.0,0M507.2,584.1a3.5,3.5 0 1,0 7.0,0a3.5,3.5 0 1,0 -7.0,0M509.7,583.6a3.5,3.5 0 1,0 7.0,0a3.5,3.5 0 1,0 -7.0,0M512.3,583.6a3.5,3.5 0 1,0 7.0,0a3.5,3.5 0 1,0 -7.0,0M514.9,583.4a3.5,3.5 0 1,0 7.0,0a3.5,3.5 0 1,0 -7.0,0M517.5,584.5a3.5,3.5 0 1,0 7.0,0a3.5,3.5 0 1,0 -7.0,0M520.1,584.1a3.5,3.5 0 1,0 7.0,0a3.5,3.5 0 1,0 -7.0,0M522.7,584.9a3.5,3.5 0 1,0 7.0,0a3.5,3.5 0 1,0 -7.0,0M525.2,582.1a3.5,3.5 0 1,0 7.0,0a3.5,3.5 0 1,0 -7.0,0M527.8,586.2a3.5,3.5 0 1,0 7.0,0a3.5,3.5 0 1,0 -7.0,0M530.4,586.6a3.5,3.5 0 1,0 7.0,0a3.5,3.5 0 1,0 -7.0,0M533.0,586.0a3.5,3.5 0 1,0 7.0,0a3.5,3.5 0 1,0 -7.0,0M535.6,585.4a3.5,3.5 0 1,0 7.0,0a3.5,3.5 0 1,0 -7.0,0M538.2,587.1a3.5,3.5 0 1,0 7.0,0a3.5,3.5 0 1,0 -7.0,0M540.7,586.1a3.5,3.5 0 1,0 7.0,0a3.5,3.5 0 1,0 -7.0,0M543.3,584.7a3.5,3.5 0 1,0 7.0,0a3.5,3.5 0 1,0 -7.0,0M545.9,586.7a3.5,3.5 0 1,0 7.0,0a3.5,3.5 0 1,0 -7.0,0M548.5,586.3a3.5,3.5 0 1,0 7.0,0a3.5,3.5 0 1,0 -7.0,0M551.1,587.2a3.5,3.5 0 1,0 7.0,0a3.5,3.5 0 1,0 -7.0,0M553.7,590.0a3.5,3.5 0 1,0 7.0,0a3.5,3.5 0 1,0 -7.0,0M556.2,588.6a3.5,3.5 0 1,0 7.0,0a3.5,3.5 0 1,0 -7.0,0M558.8,590.5a3.5,3.5 0 1,0 7.0,0a3.5,3.5 0 1,0 -7.0,0M561.4,594.0a3.5,3.5 0 1,0 7.0,0a3.5,3.5 0 1,0 -7.0,0M564.0,591.6a3.5,3.5 0 1,0 7.0,0a3.5,3.5 0 1,0 -7.0,0M566.6,596.4a3.5,3.5 0 1,0 7.0,0a3.5,3.5 0 1,0 -7.0,0M569.2,597.7a3.5,3.5 0 1,0 7.0,0a3.5,3.5 0 1,0 -7.0,0M571.8,598.2a3.5,3.5 0 1,0 7.0,0a3.5,3.5 0 1,0 -7.0,0M574.3,597.9a3.5,3.5 0 1,0 7.0,0a3.5,3.5 0 1,0 -7.0,0M576.9,599.5a3.5,3.5 0 1,0 7.0,0a3.5,3.5 0 1,0 -7.0,0M579.5,598.8a3.5,3.5 0 1,0 7.0,0a3.5,3.5 0 1,0 -7.0,0M582.1,599.3a3.5,3.5 0 1,0 7.0,0a3.5,3.5 0 1,0 -7.0,0M584.7,599.4a3.5,3.5 0 1,0 7.0,0a3.5,3.5 0 1,0 -7.0,0M587.3,599.4a3.5,3.5 0 1,0 7.0,0a3.5,3.5 0 1,0 -7.0,0M589.8,598.5a3.5,3.5 0 1,0 7.0,0a3.5,3.5 0 1,0 -7.0,0M592.4,600.0a3.5,3.5 0 1,0 7.0,0a3.5,3.5 0 1,0 -7.0,0M595.0,598.1a3.5,3.5 0 1,0 7.0,0a3.5,3.5 0 1,0 -7.0,0M597.6,597.3a3.5,3.5 0 1,0 7.0,0a3.5,3.5 0 1,0 -7.0,0M600.2,595.9a3.5,3.5 0 1,0 7.0,0a3.5,3.5 0 1,0 -7.0,0M602.8,594.1a3.5,3.5 0 1,0 7.0,0a3.5,3.5 0 1,0 -7.0,0M605.3,592.2a3.5,3.5 0 1,0 7.0,0a3.5,3.5 0 1,0 -7.0,0M607.9,590.6a3.5,3.5 0 1,0 7.0,0a3.5,3.5 0 1,0 -7.0,0M610.5,590.6a3.5,3.5 0 1,0 7.0,0a3.5,3.5 0 1,0 -7.0,0M613.1,588.0a3.5,3.5 0 1,0 7.0,0a3.5,3.5 0 1,0 -7.0,0M615.7,587.3a3.5,3.5 0 1,0 7.0,0a3.5,3.5 0 1,0 -7.0,0M618.3,586.7a3.5,3.5 0 1,0 7.0,0a3.5,3.5 0 1,0 -7.0,0M620.8,585.8a3.5,3.5 0 1,0 7.0,0a3.5,3.5 0 1,0 -7.0,0M623.4,584.1a3.5,3.5 0 1,0 7.0,0a3.5,3.5 0 1,0 -7.0,0M626.0,584.0a3.5,3.5 0 1,0 7.0,0a3.5,3.5 0 1,0 -7.0,0M628.6,583.4a3.5,3.5 0 1,0 7.0,0a3.5,3.5 0 1,0 -7.0,0M631.2,582.7a3.5,3.5 0 1,0 7.0,0a3.5,3.5 0 1,0 -7.0,0M633.8,580.5a3.5,3.5 0 1,0 7.0,0a3.5,3.5 0 1,0 -7.0,0M636.4,578.3a3.5,3.5 0 1,0 7.0,0a3.5,3.5 0 1,0 -7.0,0M638.9,576.1a3.5,3.5 0 1,0 7.0,0a3.5,3.5 0 1,0 -7.0,0M641.5,571.8a3.5,3.5 0 1,0 7.0,0a3.5,3.5 0 1,0 -7.0,0M644.1,568.8a3.5,3.5 0 1,0 7.0,0a3.5,3.5 0 1,0 -7.0,0M646.7,566.8a3.5,3.5 0 1,0 7.0,0a3.5,3.5 0 1,0 -7.0,0M649.3,563.2a3.5,3.5 0 1,0 7.0,0a3.5,3.5 0 1,0 -7.0,0M651.9,559.7a3.5,3.5 0 1,0 7.0,0a3.5,3.5 0 1,0 -7.0,0M654.4,554.9a3.5,3.5 0 1,0 7.0,0a3.5,3.5 0 1,0 -7.0,0M657.0,543.9a3.5,3.5 0 1,0 7.0,0a3.5,3.5 0 1,0 -7.0,0" fill="#2a00ff"/>
<path d="M652.8,539.5L655.4,535.4L657.9,530.6L659.8,351.5" fill="none" stroke="#0099ff" stroke-width="1.6"/>
<path d="M415.0,556.5L417.6,557.5L420.2,554.4L422.8,556.8L425.4,556.2L428.0,557.6L430.5,557.9L433.1,554.7L435.7,557.3L438.3,555.8L440.9,556.9L443.5,556.4L446.1,554.2L448.6,558.4L451.2,557.4L453.8,555.9L456.4,558.3L459.0,558.0L461.6,557.0L464.1,557.2L466.7,558.6L469.3,557.9L471.9,556.1L474.5,556.8L477.1,555.2L479.6,555.6L482.2,556.3L484.8,557.6L487.4,557.7L490.0,558.2L492.6,557.2L495.1,557.7L497.7,557.6L500.3,559.0L502.9,558.2L505.5,560.1L508.1,558.6L510.7,560.3L513.2,560.4L515.8,560.4L518.4,561.8L521.0,561.5L523.6,561.7L526.2,563.0L528.7,562.4L531.3,562.7L533.9,563.6L536.5,566.6L539.1,563.3L541.7,567.2L544.2,567.5L546.8,568.0L549.4,569.2L552.0,569.8L554.6,570.9L557.2,570.3L559.7,572.5L562.3,574.1L564.9,575.2L567.5,578.7L570.1,579.8L572.7,580.6L575.3,581.4L577.8,584.7L580.4,584.5L583.0,588.8L585.6,591.3L588.2,594.8L590.8,595.5L593.3,599.9L595.9,598.3L598.5,595.8L601.1,594.8L603.7,591.5L606.3,588.6L608.8,585.8L611.4,583.2L614.0,580.1L616.6,577.7L619.2,574.0L621.8,570.8L624.3,569.4L626.9,567.0L629.5,563.6L632.1,560.8L634.7,558.2L637.3,555.2L639.9,553.1L642.4,549.0L645.0,548.3L647.6,543.5L650.2,542.6L652.8,539.5" fill="none" stroke="#0099ff" stroke-width="1.0"/>
<path d="M415.0,552.9L418.8,559.9L411.2,559.9ZM417.6,553.9L421.4,560.9L413.8,560.9ZM420.2,550.8L424.0,557.8L416.4,557.8ZM422.8,553.2L426.6,560.2L419.0,560.2ZM425.4,552.6L429.2,559.6L421.6,559.6ZM428.0,554.0L431.8,561.0L424.2,561.0ZM430.5,554.3L434.3,561.3L426.7,561.3ZM433.1,551.1L436.9,558.1L429.3,558.1ZM435.7,553.7L439.5,560.7L431.9,560.7ZM438.3,552.2L442.1,559.2L434.5,559.2ZM440.9,553.3L444.7,560.3L437.1,560.3ZM443.5,552.8L447.3,559.8L439.7,559.8ZM446.1,550.6L449.9,557.6L442.3,557.6ZM448.6,554.8L452.4,561.8L444.8,561.8ZM451.2,553.8L455.0,560.8L447.4,560.8ZM453.8,552.3L457.6,559.3L450.0,559.3ZM456.4,554.7L460.2,561.7L452.6,561.7ZM459.0,554.4L462.8,561.4L455.2,561.4ZM461.6,553.4L465.4,560.4L457.8,560.4ZM464.1,553.6L467.9,560.6L460.3,560.6ZM466.7,555.0L470.5,562.0L462.9,562.0ZM469.3,554.3L473.1,561.3L465.5,561.3ZM471.9,552.5L475.7,559.5L468.1,559.5ZM474.5,553.2L478.3,560.2L470.7,560.2ZM477.1,551.6L480.9,558.6L473.3,558.6ZM479.6,552.0L483.4,559.0L475.8,559.0ZM482.2,552.7L486.0,559.7L478.4,559.7ZM484.8,554.0L488.6,561.0L481.0,561.0ZM487.4,554.1L491.2,561.1L483.6,561.1ZM490.0,554.6L493.8,561.6L486.2,561.6ZM492.6,553.6L496.4,560.6L488.8,560.6ZM495.1,554.1L498.9,561.1L491.3,561.1ZM497.7,554.0L501.5,561.0L493.9,561.0ZM500.3,555.4L504.1,562.4L496.5,562.4ZM502.9,554.6L506.7,561.6L499.1,561.6ZM505.5,556.5L509.3,563.5L501.7,563.5ZM508.1,555.0L511.9,562.0L504.3,562.0ZM510.7,556.7L514.5,563.7L506.9,563.7ZM513.2,556.8L517.0,563.8L509.4,563.8ZM515.8,556.8L519.6,563.8L512.0,563.8ZM518.4,558.2L522.2,565.2L514.6,565.2ZM521.0,557.9L524.8,564.9L517.2,564.9ZM523.6,558.1L527.4,565.1L519.8,565.1ZM526.2,559.4L530.0,566.4L522.4,566.4ZM528.7,558.8L532.5,565.8L524.9,565.8ZM531.3,559.1L535.1,566.1L527.5,566.1ZM533.9,560.0L537.7,567.0L530.1,567.0ZM536.5,563.0L540.3,570.0L532.7,570.0ZM539.1,559.7L542.9,566.7L535.3,566.7ZM541.7,563.6L545.5,570.6L537.9,570.6ZM544.2,563.9L548.0,570.9L540.4,570.9ZM546.8,564.4L550.6,571.4L543.0,571.4ZM549.4,565.6L553.2,572.6L545.6,572.6ZM552.0,566.2L555.8,573.2L548.2,573.2ZM554.6,567.3L558.4,574.3L550.8,574.3ZM557.2,566.7L561.0,573.7L553.4,573.7ZM559.7,568.9L563.5,575.9L555.9,575.9ZM562.3,570.5L566.1,577.5L558.5,577.5ZM564.9,571.6L568.7,578.6L561.1,578.6ZM567.5,575.1L571.3,582.1L563.7,582.1ZM570.1,576.2L573.9,583.2L566.3,583.2ZM572.7,577.0L576.5,584.0L568.9,584.0ZM575.3,577.8L579.1,584.8L571.5,584.8ZM577.8,581.1L581.6,588.1L574.0,588.1ZM580.4,580.9L584.2,587.9L576.6,587.9ZM583.0,585.2L586.8,592.2L579.2,592.2ZM585.6,587.7L589.4,594.7L581.8,594.7ZM588.2,591.2L592.0,598.2L584.4,598.2ZM590.8,591.9L594.6,598.9L587.0,598.9ZM593.3,596.3L597.1,603.3L589.5,603.3ZM595.9,594.7L599.7,601.7L592.1,601.7ZM598.5,592.2L602.3,599.2L594.7,599.2ZM601.1,591.2L604.9,598.2L597.3,598.2ZM603.7,587.9L607.5,594.9L599.9,594.9ZM606.3,585.0L610.1,592.0L602.5,592.0ZM608.8,582.2L612.6,589.2L605.0,589.2ZM611.4,579.6L615.2,586.6L607.6,586.6ZM614.0,576.5L617.8,583.5L610.2,583.5ZM616.6,574.1L620.4,581.1L612.8,581.1ZM619.2,570.4L623.0,577.4L615.4,577.4ZM621.8,567.2L625.6,574.2L618.0,574.2ZM624.3,565.8L628.1,572.8L620.5,572.8ZM626.9,563.4L630.7,570.4L623.1,570.4ZM629.5,560.0L633.3,567.0L625.7,567.0ZM632.1,557.2L635.9,564.2L628.3,564.2ZM634.7,554.6L638.5,561.6L630.9,561.6ZM637.3,551.6L641.1,558.6L633.5,558.6ZM639.9,549.5L643.7,556.5L636.1,556.5ZM642.4,545.4L646.2,552.4L638.6,552.4ZM645.0,544.7L648.8,551.7L641.2,551.7ZM647.6,539.9L651.4,546.9L643.8,546.9ZM650.2,539.0L654.0,546.0L646.4,546.0ZM652.8,535.9L656.6,542.9L649.0,542.9ZM655.4,531.8L659.2,538.8L651.6,538.8ZM657.9,527.0L661.7,534.0L654.1,534.0Z" fill="#0099ff"/>
<path d="M645.0,535.4L647.6,529.8L650.2,525.3L652.8,518.9L655.4,512.5L657.4,351.5" fill="none" stroke="#00f0a0" stroke-width="1.6"/>
<path d="M415.0,529.4L417.6,530.8L420.2,529.2L422.8,531.3L425.4,528.0L428.0,530.8L430.5,528.9L433.1,531.3L435.7,531.4L438.3,530.2L440.9,531.2L443.5,530.8L446.1,529.9L448.6,529.6L451.2,529.3L453.8,530.5L456.4,532.3L459.0,530.7L461.6,531.3L464.1,530.0L466.7,531.1L469.3,531.9L471.9,532.0L474.5,531.6L477.1,532.7L479.6,531.5L482.2,530.9L484.8,532.7L487.4,530.8L490.0,531.9L492.6,531.3L495.1,532.0L497.7,533.7L500.3,532.9L502.9,533.7L505.5,534.5L508.1,534.2L510.7,536.9L513.2,536.1L515.8,539.2L518.4,537.9L521.0,537.8L523.6,539.1L526.2,541.7L528.7,542.6L531.3,541.0L533.9,543.1L536.5,544.6L539.1,543.9L541.7,545.5L544.2,548.0L546.8,550.0L549.4,549.1L552.0,549.8L554.6,550.5L557.2,552.7L559.7,554.0L562.3,556.5L564.9,561.4L567.5,560.8L570.1,561.5L572.7,567.0L575.3,568.0L577.8,569.0L580.4,572.5L583.0,577.6L585.6,579.0L588.2,582.9L590.8,585.5L593.3,588.5L595.9,590.3L598.5,591.0L601.1,590.4L603.7,588.6L606.3,586.9L608.8,585.8L611.4,583.6L614.0,580.1L616.6,577.6L619.2,573.0L621.8,570.5L624.3,562.4L626.9,559.0L629.5,557.5L632.1,551.9L634.7,549.8L637.3,547.4L639.9,544.1L642.4,538.8L645.0,535.4" fill="none" stroke="#00f0a0" stroke-width="1.0"/>
<path d="M415.0,533.0L418.8,526.0L411.2,526.0ZM417.6,534.4L421.4,527.4L413.8,527.4ZM420.2,532.8L424.0,525.8L416.4,525.8ZM422.8,534.9L426.6,527.9L419.0,527.9ZM425.4,531.6L429.2,524.6L421.6,524.6ZM428.0,534.4L431.8,527.4L424.2,527.4ZM430.5,532.5L434.3,525.5L426.7,525.5ZM433.1,534.9L436.9,527.9L429.3,527.9ZM435.7,535.0L439.5,528.0L431.9,528.0ZM438.3,533.8L442.1,526.8L434.5,526.8ZM440.9,534.8L444.7,527.8L437.1,527.8ZM443.5,534.4L447.3,527.4L439.7,527.4ZM446.1,533.5L449.9,526.5L442.3,526.5ZM448.6,533.2L452.4,526.2L444.8,526.2ZM451.2,532.9L455.0,525.9L447.4,525.9ZM453.8,534.1L457.6,527.1L450.0,527.1ZM456.4,535.9L460.2,528.9L452.6,528.9ZM459.0,534.3L462.8,527.3L455.2,527.3ZM461.6,534.9L465.4,527.9L457.8,527.9ZM464.1,533.6L467.9,526.6L460.3,526.6ZM466.7,534.7L470.5,527.7L462.9,527.7ZM469.3,535.5L473.1,528.5L465.5,528.5ZM471.9,535.6L475.7,528.6L468.1,528.6ZM474.5,535.2L478.3,528.2L470.7,528.2ZM477.1,536.3L480.9,529.3L473.3,529.3ZM479.6,535.1L483.4,528.1L475.8,528.1ZM482.2,534.5L486.0,527.5L478.4,527.5ZM484.8,536.3L488.6,529.3L481.0,529.3ZM487.4,534.4L491.2,527.4L483.6,527.4ZM490.0,535.5L493.8,528.5L486.2,528.5ZM492.6,534.9L496.4,527.9L488.8,527.9ZM495.1,535.6L498.9,528.6L491.3,528.6ZM497.7,537.3L501.5,530.3L493.9,530.3ZM500.3,536.5L504.1,529.5L496.5,529.5ZM502.9,537.3L506.7,530.3L499.1,530.3ZM505.5,538.1L509.3,531.1L501.7,531.1ZM508.1,537.8L511.9,530.8L504.3,530.8ZM510.7,540.5L514.5,533.5L506.9,533.5ZM513.2,539.7L517.0,532.7L509.4,532.7ZM515.8,542.8L519.6,535.8L512.0,535.8ZM518.4,541.5L522.2,534.5L514.6,534.5ZM521.0,541.4L524.8,534.4L517.2,534.4ZM523.6,542.7L527.4,535.7L519.8,535.7ZM526.2,545.3L530.0,538.3L522.4,538.3ZM528.7,546.2L532.5,539.2L524.9,539.2ZM531.3,544.6L535.1,537.6L527.5,537.6ZM533.9,546.7L537.7,539.7L530.1,539.7ZM536.5,548.2L540.3,541.2L532.7,541.2ZM539.1,547.5L542.9,540.5L535.3,540.5ZM541.7,549.1L545.5,542.1L537.9,542.1ZM544.2,551.6L548.0,544.6L540.4,544.6ZM546.8,553.6L550.6,546.6L543.0,546.6ZM549.4,552.7L553.2,545.7L545.6,545.7ZM552.0,553.4L555.8,546.4L548.2,546.4ZM554.6,554.1L558.4,547.1L550.8,547.1ZM557.2,556.3L561.0,549.3L553.4,549.3ZM559.7,557.6L563.5,550.6L555.9,550.6ZM562.3,560.1L566.1,553.1L558.5,553.1ZM564.9,565.0L568.7,558.0L561.1,558.0ZM567.5,564.4L571.3,557.4L563.7,557.4ZM570.1,565.1L573.9,558.1L566.3,558.1ZM572.7,570.6L576.5,563.6L568.9,563.6ZM575.3,571.6L579.1,564.6L571.5,564.6ZM577.8,572.6L581.6,565.6L574.0,565.6ZM580.4,576.1L584.2,569.1L576.6,569.1ZM583.0,581.2L586.8,574.2L579.2,574.2ZM585.6,582.6L589.4,575.6L581.8,575.6ZM588.2,586.5L592.0,579.5L584.4,579.5ZM590.8,589.1L594.6,582.1L587.0,582.1ZM593.3,592.1L597.1,585.1L589.5,585.1ZM595.9,593.9L599.7,586.9L592.1,586.9ZM598.5,594.6L602.3,587.6L594.7,587.6ZM601.1,594.0L604.9,587.0L597.3,587.0ZM603.7,592.2L607.5,585.2L599.9,585.2ZM606.3,590.5L610.1,583.5L602.5,583.5ZM608.8,589.4L612.6,582.4L605.0,582.4ZM611.4,587.2L615.2,580.2L607.6,580.2ZM614.0,583.7L617.8,576.7L610.2,576.7ZM616.6,581.2L620.4,574.2L612.8,574.2ZM619.2,576.6L623.0,569.6L615.4,569.6ZM621.8,574.1L625.6,567.1L618.0,567.1ZM624.3,566.0L628.1,559.0L620.5,559.0ZM626.9,562.6L630.7,555.6L623.1,555.6ZM629.5,561.1L633.3,554.1L625.7,554.1ZM632.1,555.5L635.9,548.5L628.3,548.5ZM634.7,553.4L638.5,546.4L630.9,546.4ZM637.3,551.0L641.1,544.0L633.5,544.0ZM639.9,547.7L643.7,540.7L636.1,540.7ZM642.4,542.4L646.2,535.4L638.6,535.4ZM645.0,539.0L648.8,532.0L641.2,532.0ZM647.6,533.4L651.4,526.4L643.8,526.4ZM650.2,528.9L654.0,521.9L646.4,521.9ZM652.8,522.5L656.6,515.5L649.0,515.5ZM655.4,516.1L659.2,509.1L651.6,509.1Z" fill="#00ffa0"/>
<path d="M645.4,516.6L648.0,511.1L650.6,504.3L653.2,496.6L654.6,351.5" fill="none" stroke="#66e600" stroke-width="1.6"/>
<path d="M415.4,501.7L418.0,500.8L420.6,501.5L423.2,502.9L425.8,501.3L428.4,501.0L430.9,503.4L433.5,502.1L436.1,501.7L438.7,501.1L441.3,501.5L443.9,502.9L446.4,502.1L449.0,501.2L451.6,501.6L454.2,501.4L456.8,501.5L459.4,503.6L461.9,502.3L464.5,503.6L467.1,504.1L469.7,506.2L472.3,505.0L474.9,503.5L477.4,505.9L480.0,504.0L482.6,504.2L485.2,505.9L487.8,504.1L490.4,505.8L493.0,505.5L495.5,506.2L498.1,507.6L500.7,507.9L503.3,507.3L505.9,507.0L508.5,510.0L511.0,508.0L513.6,511.1L516.2,509.8L518.8,510.3L521.4,512.8L524.0,512.7L526.5,514.8L529.1,513.7L531.7,515.2L534.3,516.4L536.9,517.1L539.5,519.7L542.0,521.1L544.6,521.4L547.2,524.1L549.8,526.6L552.4,528.2L555.0,528.5L557.6,532.2L560.1,534.4L562.7,536.0L565.3,539.5L567.9,539.4L570.5,542.9L573.1,548.6L575.6,551.7L578.2,556.1L580.8,559.9L583.4,562.7L586.0,567.3L588.6,571.7L591.1,575.8L593.7,578.1L596.3,578.9L598.9,579.7L601.5,579.5L604.1,578.6L606.6,579.6L609.2,575.2L611.8,570.8L614.4,571.5L617.0,563.5L619.6,560.9L622.2,554.3L624.7,551.3L627.3,548.1L629.9,540.6L632.5,537.0L635.1,533.1L637.7,529.5L640.2,524.2L642.8,519.8L645.4,516.6" fill="none" stroke="#66e600" stroke-width="1.0"/>
<path d="M415.4,496.9L419.2,501.7L415.4,506.5L411.6,501.7ZM418.0,496.0L421.8,500.8L418.0,505.6L414.2,500.8ZM420.6,496.7L424.4,501.5L420.6,506.3L416.8,501.5ZM423.2,498.1L427.0,502.9L423.2,507.7L419.4,502.9ZM425.8,496.5L429.6,501.3L425.8,506.1L422.0,501.3ZM428.4,496.2L432.2,501.0L428.4,505.8L424.6,501.0ZM430.9,498.6L434.7,503.4L430.9,508.2L427.1,503.4ZM433.5,497.3L437.3,502.1L433.5,506.9L429.7,502.1ZM436.1,496.9L439.9,501.7L436.1,506.5L432.3,501.7ZM438.7,496.3L442.5,501.1L438.7,505.9L434.9,501.1ZM441.3,496.7L445.1,501.5L441.3,506.3L437.5,501.5ZM443.9,498.1L447.7,502.9L443.9,507.7L440.1,502.9ZM446.4,497.3L450.2,502.1L446.4,506.9L442.6,502.1ZM449.0,496.4L452.8,501.2L449.0,506.0L445.2,501.2ZM451.6,496.8L455.4,501.6L451.6,506.4L447.8,501.6ZM454.2,496.6L458.0,501.4L454.2,506.2L450.4,501.4ZM456.8,496.7L460.6,501.5L456.8,506.3L453.0,501.5ZM459.4,498.8L463.2,503.6L459.4,508.4L455.6,503.6ZM461.9,497.5L465.7,502.3L461.9,507.1L458.1,502.3ZM464.5,498.8L468.3,503.6L464.5,508.4L460.7,503.6ZM467.1,499.3L470.9,504.1L467.1,508.9L463.3,504.1ZM469.7,501.4L473.5,506.2L469.7,511.0L465.9,506.2ZM472.3,500.2L476.1,505.0L472.3,509.8L468.5,505.0ZM474.9,498.7L478.7,503.5L474.9,508.3L471.1,503.5ZM477.4,501.1L481.2,505.9L477.4,510.7L473.6,505.9ZM480.0,499.2L483.8,504.0L480.0,508.8L476.2,504.0ZM482.6,499.4L486.4,504.2L482.6,509.0L478.8,504.2ZM485.2,501.1L489.0,505.9L485.2,510.7L481.4,505.9ZM487.8,499.3L491.6,504.1L487.8,508.9L484.0,504.1ZM490.4,501.0L494.2,505.8L490.4,510.6L486.6,505.8ZM493.0,500.7L496.8,505.5L493.0,510.3L489.2,505.5ZM495.5,501.4L499.3,506.2L495.5,511.0L491.7,506.2ZM498.1,502.8L501.9,507.6L498.1,512.4L494.3,507.6ZM500.7,503.1L504.5,507.9L500.7,512.7L496.9,507.9ZM503.3,502.5L507.1,507.3L503.3,512.1L499.5,507.3ZM505.9,502.2L509.7,507.0L505.9,511.8L502.1,507.0ZM508.5,505.2L512.3,510.0L508.5,514.8L504.7,510.0ZM511.0,503.2L514.8,508.0L511.0,512.8L507.2,508.0ZM513.6,506.3L517.4,511.1L513.6,515.9L509.8,511.1ZM516.2,505.0L520.0,509.8L516.2,514.6L512.4,509.8ZM518.8,505.5L522.6,510.3L518.8,515.1L515.0,510.3ZM521.4,508.0L525.2,512.8L521.4,517.6L517.6,512.8ZM524.0,507.9L527.8,512.7L524.0,517.5L520.2,512.7ZM526.5,510.0L530.3,514.8L526.5,519.6L522.7,514.8ZM529.1,508.9L532.9,513.7L529.1,518.5L525.3,513.7ZM531.7,510.4L535.5,515.2L531.7,520.0L527.9,515.2ZM534.3,511.6L538.1,516.4L534.3,521.2L530.5,516.4ZM536.9,512.3L540.7,517.1L536.9,521.9L533.1,517.1ZM539.5,514.9L543.3,519.7L539.5,524.5L535.7,519.7ZM542.0,516.3L545.8,521.1L542.0,525.9L538.2,521.1ZM544.6,516.6L548.4,521.4L544.6,526.2L540.8,521.4ZM547.2,519.3L551.0,524.1L547.2,528.9L543.4,524.1ZM549.8,521.8L553.6,526.6L549.8,531.4L546.0,526.6ZM552.4,523.4L556.2,528.2L552.4,533.0L548.6,528.2ZM555.0,523.7L558.8,528.5L555.0,533.3L551.2,528.5ZM557.6,527.4L561.4,532.2L557.6,537.0L553.8,532.2ZM560.1,529.6L563.9,534.4L560.1,539.2L556.3,534.4ZM562.7,531.2L566.5,536.0L562.7,540.8L558.9,536.0ZM565.3,534.7L569.1,539.5L565.3,544.3L561.5,539.5ZM567.9,534.6L571.7,539.4L567.9,544.2L564.1,539.4ZM570.5,538.1L574.3,542.9L570.5,547.7L566.7,542.9ZM573.1,543.8L576.9,548.6L573.1,553.4L569.3,548.6ZM575.6,546.9L579.4,551.7L575.6,556.5L571.8,551.7ZM578.2,551.3L582.0,556.1L578.2,560.9L574.4,556.1ZM580.8,555.1L584.6,559.9L580.8,564.7L577.0,559.9ZM583.4,557.9L587.2,562.7L583.4,567.5L579.6,562.7ZM586.0,562.5L589.8,567.3L586.0,572.1L582.2,567.3ZM588.6,566.9L592.4,571.7L588.6,576.5L584.8,571.7ZM591.1,571.0L594.9,575.8L591.1,580.6L587.3,575.8ZM593.7,573.3L597.5,578.1L593.7,582.9L589.9,578.1ZM596.3,574.1L600.1,578.9L596.3,583.7L592.5,578.9ZM598.9,574.9L602.7,579.7L598.9,584.5L595.1,579.7ZM601.5,574.7L605.3,579.5L601.5,584.3L597.7,579.5ZM604.1,573.8L607.9,578.6L604.1,583.4L600.3,578.6ZM606.6,574.8L610.4,579.6L606.6,584.4L602.8,579.6ZM609.2,570.4L613.0,575.2L609.2,580.0L605.4,575.2ZM611.8,566.0L615.6,570.8L611.8,575.6L608.0,570.8ZM614.4,566.7L618.2,571.5L614.4,576.3L610.6,571.5ZM617.0,558.7L620.8,563.5L617.0,568.3L613.2,563.5ZM619.6,556.1L623.4,560.9L619.6,565.7L615.8,560.9ZM622.2,549.5L626.0,554.3L622.2,559.1L618.4,554.3ZM624.7,546.5L628.5,551.3L624.7,556.1L620.9,551.3ZM627.3,543.3L631.1,548.1L627.3,552.9L623.5,548.1ZM629.9,535.8L633.7,540.6L629.9,545.4L626.1,540.6ZM632.5,532.2L636.3,537.0L632.5,541.8L628.7,537.0ZM635.1,528.3L638.9,533.1L635.1,537.9L631.3,533.1ZM637.7,524.7L641.5,529.5L637.7,534.3L633.9,529.5ZM640.2,519.4L644.0,524.2L640.2,529.0L636.4,524.2ZM642.8,515.0L646.6,519.8L642.8,524.6L639.0,519.8ZM645.4,511.8L649.2,516.6L645.4,521.4L641.6,516.6ZM648.0,506.3L651.8,511.1L648.0,515.9L644.2,511.1ZM650.6,499.5L654.4,504.3L650.6,509.1L646.8,504.3ZM653.2,491.8L657.0,496.6L653.2,501.4L649.4,496.6Z" fill="#6aff00"/>
<path d="M632.5,520.5L635.1,514.7L637.7,510.8L640.2,505.4L642.8,499.9L645.4,495.6L648.0,489.8L650.6,484.4L651.8,351.5" fill="none" stroke="#ccee00" stroke-width="1.6"/>
<path d="M415.4,486.0L418.0,484.6L420.6,486.8L423.2,484.9L425.8,485.4L428.4,486.9L430.9,485.4L433.5,486.4L436.1,486.5L438.7,484.7L441.3,486.3L443.9,484.8L446.4,485.9L449.0,485.7L451.6,484.5L454.2,484.5L456.8,487.6L459.4,485.5L461.9,484.9L464.5,484.4L467.1,485.5L469.7,486.8L472.3,486.3L474.9,486.7L477.4,487.4L480.0,486.9L482.6,488.7L485.2,487.5L487.8,487.6L490.4,486.9L493.0,489.5L495.5,489.5L498.1,490.1L500.7,492.7L503.3,489.1L505.9,491.7L508.5,492.0L511.0,492.3L513.6,491.0L516.2,492.6L518.8,492.8L521.4,493.2L524.0,495.1L526.5,496.1L529.1,496.7L531.7,496.8L534.3,496.9L536.9,497.7L539.5,499.7L542.0,501.2L544.6,501.3L547.2,503.1L549.8,505.9L552.4,507.2L555.0,507.9L557.6,512.7L560.1,512.2L562.7,516.4L565.3,519.8L567.9,521.6L570.5,526.6L573.1,529.9L575.6,532.5L578.2,537.3L580.8,539.9L583.4,544.8L586.0,546.7L588.6,552.1L591.1,553.9L593.7,559.3L596.3,560.8L598.9,562.6L601.5,559.4L604.1,562.1L606.6,558.9L609.2,556.5L611.8,553.1L614.4,551.2L617.0,545.2L619.6,542.4L622.2,536.5L624.7,532.6L627.3,527.8L629.9,523.8L632.5,520.5" fill="none" stroke="#ccee00" stroke-width="1.0"/>
<path d="M411.8,486.0L418.8,482.2L418.8,489.8ZM414.4,484.6L421.4,480.8L421.4,488.4ZM417.0,486.8L424.0,483.0L424.0,490.6ZM419.6,484.9L426.6,481.1L426.6,488.7ZM422.2,485.4L429.2,481.6L429.2,489.2ZM424.8,486.9L431.8,483.1L431.8,490.7ZM427.3,485.4L434.3,481.6L434.3,489.2ZM429.9,486.4L436.9,482.6L436.9,490.2ZM432.5,486.5L439.5,482.7L439.5,490.3ZM435.1,484.7L442.1,480.9L442.1,488.5ZM437.7,486.3L444.7,482.5L444.7,490.1ZM440.3,484.8L447.3,481.0L447.3,488.6ZM442.8,485.9L449.8,482.1L449.8,489.7ZM445.4,485.7L452.4,481.9L452.4,489.5ZM448.0,484.5L455.0,480.7L455.0,488.3ZM450.6,484.5L457.6,480.7L457.6,488.3ZM453.2,487.6L460.2,483.8L460.2,491.4ZM455.8,485.5L462.8,481.7L462.8,489.3ZM458.3,484.9L465.3,481.1L465.3,488.7ZM460.9,484.4L467.9,480.6L467.9,488.2ZM463.5,485.5L470.5,481.7L470.5,489.3ZM466.1,486.8L473.1,483.0L473.1,490.6ZM468.7,486.3L475.7,482.5L475.7,490.1ZM471.3,486.7L478.3,482.9L478.3,490.5ZM473.8,487.4L480.8,483.6L480.8,491.2ZM476.4,486.9L483.4,483.1L483.4,490.7ZM479.0,488.7L486.0,484.9L486.0,492.5ZM481.6,487.5L488.6,483.7L488.6,491.3ZM484.2,487.6L491.2,483.8L491.2,491.4ZM486.8,486.9L493.8,483.1L493.8,490.7ZM489.4,489.5L496.4,485.7L496.4,493.3ZM491.9,489.5L498.9,485.7L498.9,493.3ZM494.5,490.1L501.5,486.3L501.5,493.9ZM497.1,492.7L504.1,488.9L504.1,496.5ZM499.7,489.1L506.7,485.3L506.7,492.9ZM502.3,491.7L509.3,487.9L509.3,495.5ZM504.9,492.0L511.9,488.2L511.9,495.8ZM507.4,492.3L514.4,488.5L514.4,496.1ZM510.0,491.0L517.0,487.2L517.0,494.8ZM512.6,492.6L519.6,488.8L519.6,496.4ZM515.2,492.8L522.2,489.0L522.2,496.6ZM517.8,493.2L524.8,489.4L524.8,497.0ZM520.4,495.1L527.4,491.3L527.4,498.9ZM522.9,496.1L529.9,492.3L529.9,499.9ZM525.5,496.7L532.5,492.9L532.5,500.5ZM528.1,496.8L535.1,493.0L535.1,500.6ZM530.7,496.9L537.7,493.1L537.7,500.7ZM533.3,497.7L540.3,493.9L540.3,501.5ZM535.9,499.7L542.9,495.9L542.9,503.5ZM538.4,501.2L545.4,497.4L545.4,505.0ZM541.0,501.3L548.0,497.5L548.0,505.1ZM543.6,503.1L550.6,499.3L550.6,506.9ZM546.2,505.9L553.2,502.1L553.2,509.7ZM548.8,507.2L555.8,503.4L555.8,511.0ZM551.4,507.9L558.4,504.1L558.4,511.7ZM554.0,512.7L561.0,508.9L561.0,516.5ZM556.5,512.2L563.5,508.4L563.5,516.0ZM559.1,516.4L566.1,512.6L566.1,520.2ZM561.7,519.8L568.7,516.0L568.7,523.6ZM564.3,521.6L571.3,517.8L571.3,525.4ZM566.9,526.6L573.9,522.8L573.9,530.4ZM569.5,529.9L576.5,526.1L576.5,533.7ZM572.0,532.5L579.0,528.7L579.0,536.3ZM574.6,537.3L581.6,533.5L581.6,541.1ZM577.2,539.9L584.2,536.1L584.2,543.7ZM579.8,544.8L586.8,541.0L586.8,548.6ZM582.4,546.7L589.4,542.9L589.4,550.5ZM585.0,552.1L592.0,548.3L592.0,555.9ZM587.5,553.9L594.5,550.1L594.5,557.7ZM590.1,559.3L597.1,555.5L597.1,563.1ZM592.7,560.8L599.7,557.0L599.7,564.6ZM595.3,562.6L602.3,558.8L602.3,566.4ZM597.9,559.4L604.9,555.6L604.9,563.2ZM600.5,562.1L607.5,558.3L607.5,565.9ZM603.0,558.9L610.0,555.1L610.0,562.7ZM605.6,556.5L612.6,552.7L612.6,560.3ZM608.2,553.1L615.2,549.3L615.2,556.9ZM610.8,551.2L617.8,547.4L617.8,555.0ZM613.4,545.2L620.4,541.4L620.4,549.0ZM616.0,542.4L623.0,538.6L623.0,546.2ZM618.6,536.5L625.6,532.7L625.6,540.3ZM621.1,532.6L628.1,528.8L628.1,536.4ZM623.7,527.8L630.7,524.0L630.7,531.6ZM626.3,523.8L633.3,520.0L633.3,527.6ZM628.9,520.5L635.9,516.7L635.9,524.3ZM631.5,514.7L638.5,510.9L638.5,518.5ZM634.1,510.8L641.1,507.0L641.1,514.6ZM636.6,505.4L643.6,501.6L643.6,509.2ZM639.2,499.9L646.2,496.1L646.2,503.7ZM641.8,495.6L648.8,491.8L648.8,499.4ZM644.4,489.8L651.4,486.0L651.4,493.6ZM647.0,484.4L654.0,480.6L654.0,488.2Z" fill="#d4ff00"/>
<path d="M634.4,497.1L637.0,492.4L639.6,488.3L642.2,483.2L644.8,478.3L647.3,472.8L649.0,351.5" fill="none" stroke="#ffc000" stroke-width="1.6"/>
<path d="M417.4,467.9L420.0,468.2L422.5,469.9L425.1,469.3L427.7,468.6L430.3,468.6L432.9,468.3L435.5,468.2L438.0,470.9L440.6,469.1L443.2,468.6L445.8,468.2L448.4,468.7L451.0,469.5L453.5,471.1L456.1,469.2L458.7,471.1L461.3,470.6L463.9,471.1L466.5,469.3L469.1,472.8L471.6,470.9L474.2,471.0L476.8,470.7L479.4,471.0L482.0,471.4L484.6,471.3L487.1,472.4L489.7,471.0L492.3,472.2L494.9,470.8L497.5,472.2L500.1,471.9L502.6,472.5L505.2,471.1L507.8,471.9L510.4,471.9L513.0,472.2L515.6,474.7L518.1,473.2L520.7,473.7L523.3,475.0L525.9,476.5L528.5,475.2L531.1,479.1L533.7,479.8L536.2,480.1L538.8,478.9L541.4,481.5L544.0,484.0L546.6,484.5L549.2,484.8L551.7,487.1L554.3,491.5L556.9,491.5L559.5,490.7L562.1,494.2L564.7,496.0L567.2,500.4L569.8,504.4L572.4,508.1L575.0,511.8L577.6,512.9L580.2,515.5L582.7,520.8L585.3,522.0L587.9,527.8L590.5,532.1L593.1,537.6L595.7,543.8L598.3,543.6L600.8,546.1L603.4,546.7L606.0,548.5L608.6,541.5L611.2,537.3L613.8,532.7L616.3,528.7L618.9,519.8L621.5,517.3L624.1,511.1L626.7,506.8L629.3,504.3L631.8,499.8L634.4,497.1" fill="none" stroke="#ffc000" stroke-width="1.0"/>
<path d="M421.0,467.9L414.0,464.1L414.0,471.7ZM423.6,468.2L416.6,464.4L416.6,472.0ZM426.1,469.9L419.1,466.1L419.1,473.7ZM428.7,469.3L421.7,465.5L421.7,473.1ZM431.3,468.6L424.3,464.8L424.3,472.4ZM433.9,468.6L426.9,464.8L426.9,472.4ZM436.5,468.3L429.5,464.5L429.5,472.1ZM439.1,468.2L432.1,464.4L432.1,472.0ZM441.6,470.9L434.6,467.1L434.6,474.7ZM444.2,469.1L437.2,465.3L437.2,472.9ZM446.8,468.6L439.8,464.8L439.8,472.4ZM449.4,468.2L442.4,464.4L442.4,472.0ZM452.0,468.7L445.0,464.9L445.0,472.5ZM454.6,469.5L447.6,465.7L447.6,473.3ZM457.1,471.1L450.1,467.3L450.1,474.9ZM459.7,469.2L452.7,465.4L452.7,473.0ZM462.3,471.1L455.3,467.3L455.3,474.9ZM464.9,470.6L457.9,466.8L457.9,474.4ZM467.5,471.1L460.5,467.3L460.5,474.9ZM470.1,469.3L463.1,465.5L463.1,473.1ZM472.7,472.8L465.7,469.0L465.7,476.6ZM475.2,470.9L468.2,467.1L468.2,474.7ZM477.8,471.0L470.8,467.2L470.8,474.8ZM480.4,470.7L473.4,466.9L473.4,474.5ZM483.0,471.0L476.0,467.2L476.0,474.8ZM485.6,471.4L478.6,467.6L478.6,475.2ZM488.2,471.3L481.2,467.5L481.2,475.1ZM490.7,472.4L483.7,468.6L483.7,476.2ZM493.3,471.0L486.3,467.2L486.3,474.8ZM495.9,472.2L488.9,468.4L488.9,476.0ZM498.5,470.8L491.5,467.0L491.5,474.6ZM501.1,472.2L494.1,468.4L494.1,476.0ZM503.7,471.9L496.7,468.1L496.7,475.7ZM506.2,472.5L499.2,468.7L499.2,476.3ZM508.8,471.1L501.8,467.3L501.8,474.9ZM511.4,471.9L504.4,468.1L504.4,475.7ZM514.0,471.9L507.0,468.1L507.0,475.7ZM516.6,472.2L509.6,468.4L509.6,476.0ZM519.2,474.7L512.2,470.9L512.2,478.5ZM521.7,473.2L514.7,469.4L514.7,477.0ZM524.3,473.7L517.3,469.9L517.3,477.5ZM526.9,475.0L519.9,471.2L519.9,478.8ZM529.5,476.5L522.5,472.7L522.5,480.3ZM532.1,475.2L525.1,471.4L525.1,479.0ZM534.7,479.1L527.7,475.3L527.7,482.9ZM537.3,479.8L530.3,476.0L530.3,483.6ZM539.8,480.1L532.8,476.3L532.8,483.9ZM542.4,478.9L535.4,475.1L535.4,482.7ZM545.0,481.5L538.0,477.7L538.0,485.3ZM547.6,484.0L540.6,480.2L540.6,487.8ZM550.2,484.5L543.2,480.7L543.2,488.3ZM552.8,484.8L545.8,481.0L545.8,488.6ZM555.3,487.1L548.3,483.3L548.3,490.9ZM557.9,491.5L550.9,487.7L550.9,495.3ZM560.5,491.5L553.5,487.7L553.5,495.3ZM563.1,490.7L556.1,486.9L556.1,494.5ZM565.7,494.2L558.7,490.4L558.7,498.0ZM568.3,496.0L561.3,492.2L561.3,499.8ZM570.8,500.4L563.8,496.6L563.8,504.2ZM573.4,504.4L566.4,500.6L566.4,508.2ZM576.0,508.1L569.0,504.3L569.0,511.9ZM578.6,511.8L571.6,508.0L571.6,515.6ZM581.2,512.9L574.2,509.1L574.2,516.7ZM583.8,515.5L576.8,511.7L576.8,519.3ZM586.3,520.8L579.3,517.0L579.3,524.6ZM588.9,522.0L581.9,518.2L581.9,525.8ZM591.5,527.8L584.5,524.0L584.5,531.6ZM594.1,532.1L587.1,528.3L587.1,535.9ZM596.7,537.6L589.7,533.8L589.7,541.4ZM599.3,543.8L592.3,540.0L592.3,547.6ZM601.9,543.6L594.9,539.8L594.9,547.4ZM604.4,546.1L597.4,542.3L597.4,549.9ZM607.0,546.7L600.0,542.9L600.0,550.5ZM609.6,548.5L602.6,544.7L602.6,552.3ZM612.2,541.5L605.2,537.7L605.2,545.3ZM614.8,537.3L607.8,533.5L607.8,541.1ZM617.4,532.7L610.4,528.9L610.4,536.5ZM619.9,528.7L612.9,524.9L612.9,532.5ZM622.5,519.8L615.5,516.0L615.5,523.6ZM625.1,517.3L618.1,513.5L618.1,521.1ZM627.7,511.1L620.7,507.3L620.7,514.9ZM630.3,506.8L623.3,503.0L623.3,510.6ZM632.9,504.3L625.9,500.5L625.9,508.1ZM635.4,499.8L628.4,496.0L628.4,503.6ZM638.0,497.1L631.0,493.3L631.0,500.9ZM640.6,492.4L633.6,488.6L633.6,496.2ZM643.2,488.3L636.2,484.5L636.2,492.1ZM645.8,483.2L638.8,479.4L638.8,487.0ZM648.4,478.3L641.4,474.5L641.4,482.1ZM650.9,472.8L643.9,469.0L643.9,476.6Z" fill="#ffc000"/>
<path d="M638.3,476.3L640.9,472.6L643.5,467.5L646.0,351.5" fill="none" stroke="#ff6000" stroke-width="1.6"/>
<path d="M416.1,451.6L418.7,452.1L421.2,451.9L423.8,451.0L426.4,453.7L429.0,451.8L431.6,452.1L434.2,451.1L436.8,452.3L439.3,452.1L441.9,450.7L444.5,452.0L447.1,451.3L449.7,451.5L452.3,451.7L454.8,451.7L457.4,450.7L460.0,450.2L462.6,451.3L465.2,451.7L467.8,452.5L470.3,451.5L472.9,451.5L475.5,452.3L478.1,454.5L480.7,453.6L483.3,453.9L485.8,453.9L488.4,457.2L491.0,454.1L493.6,455.1L496.2,455.7L498.8,455.7L501.4,457.1L503.9,457.9L506.5,457.7L509.1,459.3L511.7,458.1L514.3,458.8L516.9,458.1L519.4,458.4L522.0,458.9L524.6,458.7L527.2,459.4L529.8,460.7L532.4,460.2L534.9,462.6L537.5,459.6L540.1,462.7L542.7,464.0L545.3,465.6L547.9,465.0L550.4,467.7L553.0,469.2L555.6,472.8L558.2,472.9L560.8,476.5L563.4,477.9L566.0,481.5L568.5,481.6L571.1,489.0L573.7,490.1L576.3,493.0L578.9,495.7L581.5,500.6L584.0,503.9L586.6,507.1L589.2,510.3L591.8,515.2L594.4,518.7L597.0,524.8L599.5,531.4L602.1,534.3L604.7,533.0L607.3,531.2L609.9,529.6L612.5,522.0L615.0,512.9L617.6,507.1L620.2,500.1L622.8,496.0L625.4,493.2L628.0,489.0L630.6,485.6L633.1,482.5L635.7,479.3L638.3,476.3" fill="none" stroke="#ff6000" stroke-width="1.0"/>
<path d="M419.9,451.6L418.0,454.8L414.2,454.8L412.3,451.6L414.2,448.3L418.0,448.3ZM422.5,452.1L420.6,455.4L416.8,455.4L414.9,452.1L416.8,448.8L420.6,448.8ZM425.0,451.9L423.1,455.1L419.3,455.1L417.4,451.9L419.3,448.6L423.1,448.6ZM427.6,451.0L425.7,454.3L421.9,454.3L420.0,451.0L421.9,447.7L425.7,447.7ZM430.2,453.7L428.3,457.0L424.5,457.0L422.6,453.7L424.5,450.4L428.3,450.4ZM432.8,451.8L430.9,455.1L427.1,455.1L425.2,451.8L427.1,448.5L430.9,448.5ZM435.4,452.1L433.5,455.4L429.7,455.4L427.8,452.1L429.7,448.8L433.5,448.8ZM438.0,451.1L436.1,454.4L432.3,454.4L430.4,451.1L432.3,447.8L436.1,447.8ZM440.6,452.3L438.7,455.5L434.9,455.5L433.0,452.3L434.9,449.0L438.7,449.0ZM443.1,452.1L441.2,455.4L437.4,455.4L435.5,452.1L437.4,448.8L441.2,448.8ZM445.7,450.7L443.8,453.9L440.0,453.9L438.1,450.7L440.0,447.4L443.8,447.4ZM448.3,452.0L446.4,455.3L442.6,455.3L440.7,452.0L442.6,448.7L446.4,448.7ZM450.9,451.3L449.0,454.6L445.2,454.6L443.3,451.3L445.2,448.0L449.0,448.0ZM453.5,451.5L451.6,454.8L447.8,454.8L445.9,451.5L447.8,448.2L451.6,448.2ZM456.1,451.7L454.2,455.0L450.4,455.0L448.5,451.7L450.4,448.4L454.2,448.4ZM458.6,451.7L456.7,455.0L452.9,455.0L451.0,451.7L452.9,448.4L456.7,448.4ZM461.2,450.7L459.3,454.0L455.5,454.0L453.6,450.7L455.5,447.4L459.3,447.4ZM463.8,450.2L461.9,453.5L458.1,453.5L456.2,450.2L458.1,447.0L461.9,447.0ZM466.4,451.3L464.5,454.6L460.7,454.6L458.8,451.3L460.7,448.0L464.5,448.0ZM469.0,451.7L467.1,455.0L463.3,455.0L461.4,451.7L463.3,448.4L467.1,448.4ZM471.6,452.5L469.7,455.8L465.9,455.8L464.0,452.5L465.9,449.2L469.7,449.2ZM474.1,451.5L472.2,454.8L468.4,454.8L466.5,451.5L468.4,448.2L472.2,448.2ZM476.7,451.5L474.8,454.8L471.0,454.8L469.1,451.5L471.0,448.2L474.8,448.2ZM479.3,452.3L477.4,455.6L473.6,455.6L471.7,452.3L473.6,449.0L477.4,449.0ZM481.9,454.5L480.0,457.8L476.2,457.8L474.3,454.5L476.2,451.2L480.0,451.2ZM484.5,453.6L482.6,456.9L478.8,456.9L476.9,453.6L478.8,450.3L482.6,450.3ZM487.1,453.9L485.2,457.2L481.4,457.2L479.5,453.9L481.4,450.7L485.2,450.7ZM489.6,453.9L487.7,457.2L483.9,457.2L482.0,453.9L483.9,450.6L487.7,450.6ZM492.2,457.2L490.3,460.4L486.5,460.4L484.6,457.2L486.5,453.9L490.3,453.9ZM494.8,454.1L492.9,457.4L489.1,457.4L487.2,454.1L489.1,450.8L492.9,450.8ZM497.4,455.1L495.5,458.4L491.7,458.4L489.8,455.1L491.7,451.9L495.5,451.9ZM500.0,455.7L498.1,458.9L494.3,458.9L492.4,455.7L494.3,452.4L498.1,452.4ZM502.6,455.7L500.7,459.0L496.9,459.0L495.0,455.7L496.9,452.4L500.7,452.4ZM505.2,457.1L503.3,460.4L499.5,460.4L497.6,457.1L499.5,453.8L503.3,453.8ZM507.7,457.9L505.8,461.2L502.0,461.2L500.1,457.9L502.0,454.6L505.8,454.6ZM510.3,457.7L508.4,461.0L504.6,461.0L502.7,457.7L504.6,454.5L508.4,454.5ZM512.9,459.3L511.0,462.6L507.2,462.6L505.3,459.3L507.2,456.1L511.0,456.1ZM515.5,458.1L513.6,461.4L509.8,461.4L507.9,458.1L509.8,454.8L513.6,454.8ZM518.1,458.8L516.2,462.1L512.4,462.1L510.5,458.8L512.4,455.5L516.2,455.5ZM520.7,458.1L518.8,461.4L515.0,461.4L513.1,458.1L515.0,454.8L518.8,454.8ZM523.2,458.4L521.3,461.7L517.5,461.7L515.6,458.4L517.5,455.1L521.3,455.1ZM525.8,458.9L523.9,462.1L520.1,462.1L518.2,458.9L520.1,455.6L523.9,455.6ZM528.4,458.7L526.5,462.0L522.7,462.0L520.8,458.7L522.7,455.4L526.5,455.4ZM531.0,459.4L529.1,462.7L525.3,462.7L523.4,459.4L525.3,456.1L529.1,456.1ZM533.6,460.7L531.7,464.0L527.9,464.0L526.0,460.7L527.9,457.4L531.7,457.4ZM536.2,460.2L534.3,463.5L530.5,463.5L528.6,460.2L530.5,457.0L534.3,457.0ZM538.7,462.6L536.8,465.9L533.0,465.9L531.1,462.6L533.0,459.3L536.8,459.3ZM541.3,459.6L539.4,462.9L535.6,462.9L533.7,459.6L535.6,456.3L539.4,456.3ZM543.9,462.7L542.0,466.0L538.2,466.0L536.3,462.7L538.2,459.4L542.0,459.4ZM546.5,464.0L544.6,467.3L540.8,467.3L538.9,464.0L540.8,460.7L544.6,460.7ZM549.1,465.6L547.2,468.9L543.4,468.9L541.5,465.6L543.4,462.3L547.2,462.3ZM551.7,465.0L549.8,468.3L546.0,468.3L544.1,465.0L546.0,461.7L549.8,461.7ZM554.2,467.7L552.3,471.0L548.5,471.0L546.6,467.7L548.5,464.5L552.3,464.5ZM556.8,469.2L554.9,472.5L551.1,472.5L549.2,469.2L551.1,466.0L554.9,466.0ZM559.4,472.8L557.5,476.1L553.7,476.1L551.8,472.8L553.7,469.5L557.5,469.5ZM562.0,472.9L560.1,476.2L556.3,476.2L554.4,472.9L556.3,469.6L560.1,469.6ZM564.6,476.5L562.7,479.8L558.9,479.8L557.0,476.5L558.9,473.2L562.7,473.2ZM567.2,477.9L565.3,481.2L561.5,481.2L559.6,477.9L561.5,474.6L565.3,474.6ZM569.8,481.5L567.9,484.8L564.1,484.8L562.2,481.5L564.1,478.2L567.9,478.2ZM572.3,481.6L570.4,484.9L566.6,484.9L564.7,481.6L566.6,478.4L570.4,478.4ZM574.9,489.0L573.0,492.3L569.2,492.3L567.3,489.0L569.2,485.7L573.0,485.7ZM577.5,490.1L575.6,493.4L571.8,493.4L569.9,490.1L571.8,486.8L575.6,486.8ZM580.1,493.0L578.2,496.2L574.4,496.2L572.5,493.0L574.4,489.7L578.2,489.7ZM582.7,495.7L580.8,499.0L577.0,499.0L575.1,495.7L577.0,492.4L580.8,492.4ZM585.3,500.6L583.4,503.9L579.6,503.9L577.7,500.6L579.6,497.3L583.4,497.3ZM587.8,503.9L585.9,507.2L582.1,507.2L580.2,503.9L582.1,500.6L585.9,500.6ZM590.4,507.1L588.5,510.3L584.7,510.3L582.8,507.1L584.7,503.8L588.5,503.8ZM593.0,510.3L591.1,513.6L587.3,513.6L585.4,510.3L587.3,507.0L591.1,507.0ZM595.6,515.2L593.7,518.5L589.9,518.5L588.0,515.2L589.9,511.9L593.7,511.9ZM598.2,518.7L596.3,522.0L592.5,522.0L590.6,518.7L592.5,515.4L596.3,515.4ZM600.8,524.8L598.9,528.0L595.1,528.0L593.2,524.8L595.1,521.5L598.9,521.5ZM603.3,531.4L601.4,534.7L597.6,534.7L595.7,531.4L597.6,528.1L601.4,528.1ZM605.9,534.3L604.0,537.6L600.2,537.6L598.3,534.3L600.2,531.0L604.0,531.0ZM608.5,533.0L606.6,536.3L602.8,536.3L600.9,533.0L602.8,529.7L606.6,529.7ZM611.1,531.2L609.2,534.5L605.4,534.5L603.5,531.2L605.4,527.9L609.2,527.9ZM613.7,529.6L611.8,532.9L608.0,532.9L606.1,529.6L608.0,526.3L611.8,526.3ZM616.3,522.0L614.4,525.3L610.6,525.3L608.7,522.0L610.6,518.7L614.4,518.7ZM618.8,512.9L616.9,516.1L613.1,516.1L611.2,512.9L613.1,509.6L616.9,509.6ZM621.4,507.1L619.5,510.4L615.7,510.4L613.8,507.1L615.7,503.9L619.5,503.9ZM624.0,500.1L622.1,503.4L618.3,503.4L616.4,500.1L618.3,496.8L622.1,496.8ZM626.6,496.0L624.7,499.3L620.9,499.3L619.0,496.0L620.9,492.7L624.7,492.7ZM629.2,493.2L627.3,496.5L623.5,496.5L621.6,493.2L623.5,489.9L627.3,489.9ZM631.8,489.0L629.9,492.3L626.1,492.3L624.2,489.0L626.1,485.7L629.9,485.7ZM634.4,485.6L632.5,488.9L628.7,488.9L626.8,485.6L628.7,482.3L632.5,482.3ZM636.9,482.5L635.0,485.8L631.2,485.8L629.3,482.5L631.2,479.3L635.0,479.3ZM639.5,479.3L637.6,482.6L633.8,482.6L631.9,479.3L633.8,476.0L637.6,476.0ZM642.1,476.3L640.2,479.6L636.4,479.6L634.5,476.3L636.4,473.0L640.2,473.0ZM644.7,472.6L642.8,475.9L639.0,475.9L637.1,472.6L639.0,469.3L642.8,469.3ZM647.3,467.5L645.4,470.8L641.6,470.8L639.7,467.5L641.6,464.2L645.4,464.2Z" fill="#ff5500"/>
<path d="M626.2,492.0L628.7,484.5L631.3,480.1L633.9,472.8L636.5,465.4L639.1,432.5L640.4,351.5" fill="none" stroke="#ff0000" stroke-width="1.6"/>
<path d="M416.9,440.8L419.4,440.0L422.0,440.9L424.6,440.0L427.2,440.2L429.8,440.0L432.4,441.7L434.9,439.2L437.5,438.2L440.1,439.9L442.7,441.3L445.3,441.0L447.9,439.1L450.4,442.7L453.0,442.9L455.6,442.9L458.2,441.3L460.8,441.9L463.4,443.6L465.9,443.8L468.5,442.4L471.1,442.8L473.7,443.7L476.3,443.8L478.9,442.5L481.5,442.4L484.0,442.6L486.6,445.2L489.2,441.1L491.8,444.3L494.4,443.5L497.0,444.5L499.5,443.4L502.1,445.1L504.7,446.3L507.3,445.9L509.9,445.5L512.5,445.9L515.0,442.8L517.6,445.9L520.2,447.6L522.8,447.7L525.4,447.0L528.0,449.4L530.5,447.4L533.1,448.4L535.7,449.2L538.3,447.8L540.9,451.7L543.5,448.5L546.1,451.7L548.6,455.7L551.2,453.9L553.8,455.6L556.4,459.0L559.0,457.2L561.6,463.5L564.1,462.6L566.7,465.0L569.3,466.7L571.9,469.6L574.5,471.0L577.1,474.0L579.6,475.4L582.2,478.8L584.8,481.4L587.4,485.8L590.0,488.6L592.6,494.8L595.1,499.8L597.7,506.8L600.3,513.3L602.9,518.9L605.5,520.9L608.1,521.9L610.7,519.9L613.2,517.0L615.8,512.6L618.4,505.1L621.0,501.6L623.6,494.0L626.2,492.0" fill="none" stroke="#ff0000" stroke-width="1.0"/>
<path d="M416.9,436.0L418.1,439.1L421.4,439.3L418.9,441.5L419.7,444.7L416.9,442.9L414.0,444.7L414.9,441.5L412.3,439.3L415.6,439.1ZM419.4,435.2L420.7,438.3L424.0,438.6L421.4,440.7L422.3,443.9L419.4,442.1L416.6,443.9L417.4,440.7L414.9,438.6L418.2,438.3ZM422.0,436.1L423.3,439.2L426.6,439.5L424.0,441.6L424.8,444.8L422.0,443.0L419.2,444.8L420.0,441.6L417.5,439.5L420.8,439.2ZM424.6,435.2L425.8,438.4L429.2,438.6L426.6,440.7L427.4,443.9L424.6,442.1L421.8,443.9L422.6,440.7L420.0,438.6L423.4,438.4ZM427.2,435.4L428.4,438.5L431.8,438.7L429.2,440.9L430.0,444.1L427.2,442.3L424.4,444.1L425.2,440.9L422.6,438.7L426.0,438.5ZM429.8,435.2L431.0,438.3L434.3,438.6L431.8,440.7L432.6,443.9L429.8,442.1L427.0,443.9L427.8,440.7L425.2,438.6L428.5,438.3ZM432.4,436.9L433.6,440.0L436.9,440.2L434.4,442.3L435.2,445.5L432.4,443.8L429.5,445.5L430.4,442.3L427.8,440.2L431.1,440.0ZM434.9,434.4L436.2,437.5L439.5,437.7L436.9,439.8L437.8,443.0L434.9,441.3L432.1,443.0L432.9,439.8L430.4,437.7L433.7,437.5ZM437.5,433.4L438.8,436.5L442.1,436.7L439.5,438.9L440.3,442.1L437.5,440.3L434.7,442.1L435.5,438.9L433.0,436.7L436.3,436.5ZM440.1,435.1L441.3,438.2L444.7,438.4L442.1,440.5L442.9,443.8L440.1,442.0L437.3,443.8L438.1,440.5L435.5,438.4L438.9,438.2ZM442.7,436.5L443.9,439.6L447.3,439.8L444.7,442.0L445.5,445.2L442.7,443.4L439.9,445.2L440.7,442.0L438.1,439.8L441.5,439.6ZM445.3,436.2L446.5,439.3L449.8,439.5L447.3,441.6L448.1,444.8L445.3,443.1L442.5,444.8L443.3,441.6L440.7,439.5L444.0,439.3ZM447.9,434.3L449.1,437.4L452.4,437.6L449.9,439.8L450.7,443.0L447.9,441.2L445.0,443.0L445.9,439.8L443.3,437.6L446.6,437.4ZM450.4,437.9L451.7,441.0L455.0,441.2L452.4,443.4L453.3,446.6L450.4,444.8L447.6,446.6L448.4,443.4L445.9,441.2L449.2,441.0ZM453.0,438.1L454.3,441.2L457.6,441.4L455.0,443.5L455.9,446.7L453.0,445.0L450.2,446.7L451.0,443.5L448.5,441.4L451.8,441.2ZM455.6,438.1L456.8,441.2L460.2,441.4L457.6,443.5L458.4,446.8L455.6,445.0L452.8,446.8L453.6,443.5L451.0,441.4L454.4,441.2ZM458.2,436.5L459.4,439.6L462.8,439.9L460.2,442.0L461.0,445.2L458.2,443.4L455.4,445.2L456.2,442.0L453.6,439.9L457.0,439.6ZM460.8,437.1L462.0,440.2L465.3,440.4L462.8,442.5L463.6,445.8L460.8,444.0L458.0,445.8L458.8,442.5L456.2,440.4L459.5,440.2ZM463.4,438.8L464.6,441.9L467.9,442.1L465.4,444.3L466.2,447.5L463.4,445.7L460.5,447.5L461.4,444.3L458.8,442.1L462.1,441.9ZM465.9,439.0L467.2,442.1L470.5,442.3L467.9,444.4L468.8,447.7L465.9,445.9L463.1,447.7L464.0,444.4L461.4,442.3L464.7,442.1ZM468.5,437.6L469.8,440.7L473.1,440.9L470.5,443.1L471.4,446.3L468.5,444.5L465.7,446.3L466.5,443.1L464.0,440.9L467.3,440.7ZM471.1,438.0L472.4,441.1L475.7,441.3L473.1,443.4L473.9,446.7L471.1,444.9L468.3,446.7L469.1,443.4L466.6,441.3L469.9,441.1ZM473.7,438.9L474.9,442.0L478.3,442.3L475.7,444.4L476.5,447.6L473.7,445.8L470.9,447.6L471.7,444.4L469.1,442.3L472.5,442.0ZM476.3,439.0L477.5,442.1L480.9,442.3L478.3,444.4L479.1,447.7L476.3,445.9L473.5,447.7L474.3,444.4L471.7,442.3L475.1,442.1ZM478.9,437.7L480.1,440.8L483.4,441.0L480.9,443.2L481.7,446.4L478.9,444.6L476.0,446.4L476.9,443.2L474.3,441.0L477.6,440.8ZM481.5,437.6L482.7,440.7L486.0,440.9L483.5,443.1L484.3,446.3L481.5,444.5L478.6,446.3L479.5,443.1L476.9,440.9L480.2,440.7ZM484.0,437.8L485.3,440.9L488.6,441.1L486.0,443.2L486.9,446.4L484.0,444.7L481.2,446.4L482.0,443.2L479.5,441.1L482.8,440.9ZM486.6,440.4L487.9,443.5L491.2,443.7L488.6,445.8L489.4,449.0L486.6,447.3L483.8,449.0L484.6,445.8L482.1,443.7L485.4,443.5ZM489.2,436.3L490.4,439.4L493.8,439.6L491.2,441.7L492.0,445.0L489.2,443.2L486.4,445.0L487.2,441.7L484.6,439.6L488.0,439.4ZM491.8,439.5L493.0,442.6L496.4,442.8L493.8,445.0L494.6,448.2L491.8,446.4L489.0,448.2L489.8,445.0L487.2,442.8L490.6,442.6ZM494.4,438.7L495.6,441.8L498.9,442.0L496.4,444.2L497.2,447.4L494.4,445.6L491.6,447.4L492.4,444.2L489.8,442.0L493.1,441.8ZM497.0,439.7L498.2,442.8L501.5,443.1L499.0,445.2L499.8,448.4L497.0,446.6L494.1,448.4L495.0,445.2L492.4,443.1L495.7,442.8ZM499.5,438.6L500.8,441.7L504.1,442.0L501.5,444.1L502.4,447.3L499.5,445.5L496.7,447.3L497.5,444.1L495.0,442.0L498.3,441.7ZM502.1,440.3L503.4,443.4L506.7,443.6L504.1,445.7L504.9,448.9L502.1,447.2L499.3,448.9L500.1,445.7L497.6,443.6L500.9,443.4ZM504.7,441.5L505.9,444.6L509.3,444.9L506.7,447.0L507.5,450.2L504.7,448.4L501.9,450.2L502.7,447.0L500.1,444.9L503.5,444.6ZM507.3,441.1L508.5,444.2L511.9,444.4L509.3,446.5L510.1,449.8L507.3,448.0L504.5,449.8L505.3,446.5L502.7,444.4L506.1,444.2ZM509.9,440.7L511.1,443.8L514.4,444.0L511.9,446.1L512.7,449.4L509.9,447.6L507.1,449.4L507.9,446.1L505.3,444.0L508.6,443.8ZM512.5,441.1L513.7,444.2L517.0,444.4L514.5,446.6L515.3,449.8L512.5,448.0L509.6,449.8L510.5,446.6L507.9,444.4L511.2,444.2ZM515.0,438.0L516.3,441.1L519.6,441.3L517.0,443.4L517.9,446.7L515.0,444.9L512.2,446.7L513.0,443.4L510.5,441.3L513.8,441.1ZM517.6,441.1L518.9,444.2L522.2,444.4L519.6,446.6L520.5,449.8L517.6,448.0L514.8,449.8L515.6,446.6L513.1,444.4L516.4,444.2ZM520.2,442.8L521.4,445.9L524.8,446.1L522.2,448.2L523.0,451.5L520.2,449.7L517.4,451.5L518.2,448.2L515.6,446.1L519.0,445.9ZM522.8,442.9L524.0,446.0L527.4,446.2L524.8,448.3L525.6,451.5L522.8,449.8L520.0,451.5L520.8,448.3L518.2,446.2L521.6,446.0ZM525.4,442.2L526.6,445.3L529.9,445.5L527.4,447.6L528.2,450.8L525.4,449.1L522.6,450.8L523.4,447.6L520.8,445.5L524.1,445.3ZM528.0,444.6L529.2,447.7L532.5,447.9L530.0,450.0L530.8,453.2L528.0,451.5L525.1,453.2L526.0,450.0L523.4,447.9L526.7,447.7ZM530.5,442.6L531.8,445.7L535.1,445.9L532.5,448.1L533.4,451.3L530.5,449.5L527.7,451.3L528.6,448.1L526.0,445.9L529.3,445.7ZM533.1,443.6L534.4,446.7L537.7,446.9L535.1,449.1L536.0,452.3L533.1,450.5L530.3,452.3L531.1,449.1L528.6,446.9L531.9,446.7ZM535.7,444.4L537.0,447.5L540.3,447.7L537.7,449.9L538.5,453.1L535.7,451.3L532.9,453.1L533.7,449.9L531.2,447.7L534.5,447.5ZM538.3,443.0L539.5,446.1L542.9,446.3L540.3,448.5L541.1,451.7L538.3,449.9L535.5,451.7L536.3,448.5L533.7,446.3L537.1,446.1ZM540.9,446.9L542.1,450.0L545.5,450.2L542.9,452.3L543.7,455.5L540.9,453.8L538.1,455.5L538.9,452.3L536.3,450.2L539.7,450.0ZM543.5,443.7L544.7,446.8L548.0,447.0L545.5,449.1L546.3,452.3L543.5,450.6L540.6,452.3L541.5,449.1L538.9,447.0L542.2,446.8ZM546.1,446.9L547.3,450.0L550.6,450.2L548.1,452.3L548.9,455.5L546.1,453.8L543.2,455.5L544.1,452.3L541.5,450.2L544.8,450.0ZM548.6,450.9L549.9,454.0L553.2,454.2L550.6,456.4L551.5,459.6L548.6,457.8L545.8,459.6L546.6,456.4L544.1,454.2L547.4,454.0ZM551.2,449.1L552.5,452.2L555.8,452.4L553.2,454.5L554.0,457.8L551.2,456.0L548.4,457.8L549.2,454.5L546.7,452.4L550.0,452.2ZM553.8,450.8L555.0,453.9L558.4,454.1L555.8,456.3L556.6,459.5L553.8,457.7L551.0,459.5L551.8,456.3L549.2,454.1L552.6,453.9ZM556.4,454.2L557.6,457.3L561.0,457.5L558.4,459.6L559.2,462.9L556.4,461.1L553.6,462.9L554.4,459.6L551.8,457.5L555.2,457.3ZM559.0,452.4L560.2,455.5L563.5,455.7L561.0,457.9L561.8,461.1L559.0,459.3L556.2,461.1L557.0,457.9L554.4,455.7L557.7,455.5ZM561.6,458.7L562.8,461.8L566.1,462.0L563.6,464.1L564.4,467.4L561.6,465.6L558.7,467.4L559.6,464.1L557.0,462.0L560.3,461.8ZM564.1,457.8L565.4,460.9L568.7,461.2L566.1,463.3L567.0,466.5L564.1,464.7L561.3,466.5L562.1,463.3L559.6,461.2L562.9,460.9ZM566.7,460.2L568.0,463.3L571.3,463.5L568.7,465.6L569.5,468.9L566.7,467.1L563.9,468.9L564.7,465.6L562.2,463.5L565.5,463.3ZM569.3,461.9L570.5,465.0L573.9,465.2L571.3,467.3L572.1,470.6L569.3,468.8L566.5,470.6L567.3,467.3L564.7,465.2L568.1,465.0ZM571.9,464.8L573.1,467.9L576.5,468.2L573.9,470.3L574.7,473.5L571.9,471.7L569.1,473.5L569.9,470.3L567.3,468.2L570.7,467.9ZM574.5,466.2L575.7,469.3L579.0,469.5L576.5,471.7L577.3,474.9L574.5,473.1L571.7,474.9L572.5,471.7L569.9,469.5L573.2,469.3ZM577.1,469.2L578.3,472.3L581.6,472.5L579.1,474.6L579.9,477.9L577.1,476.1L574.2,477.9L575.1,474.6L572.5,472.5L575.8,472.3ZM579.6,470.6L580.9,473.7L584.2,473.9L581.6,476.0L582.5,479.3L579.6,477.5L576.8,479.3L577.6,476.0L575.1,473.9L578.4,473.7ZM582.2,474.0L583.5,477.1L586.8,477.3L584.2,479.4L585.1,482.7L582.2,480.9L579.4,482.7L580.2,479.4L577.7,477.3L581.0,477.1ZM584.8,476.6L586.0,479.7L589.4,480.0L586.8,482.1L587.6,485.3L584.8,483.5L582.0,485.3L582.8,482.1L580.2,480.0L583.6,479.7ZM587.4,481.0L588.6,484.1L592.0,484.3L589.4,486.4L590.2,489.7L587.4,487.9L584.6,489.7L585.4,486.4L582.8,484.3L586.2,484.1ZM590.0,483.8L591.2,486.9L594.5,487.1L592.0,489.2L592.8,492.5L590.0,490.7L587.2,492.5L588.0,489.2L585.4,487.1L588.7,486.9ZM592.6,490.0L593.8,493.1L597.1,493.3L594.6,495.5L595.4,498.7L592.6,496.9L589.7,498.7L590.6,495.5L588.0,493.3L591.3,493.1ZM595.1,495.0L596.4,498.1L599.7,498.3L597.1,500.4L598.0,503.7L595.1,501.9L592.3,503.7L593.2,500.4L590.6,498.3L593.9,498.1ZM597.7,502.0L599.0,505.1L602.3,505.3L599.7,507.5L600.6,510.7L597.7,508.9L594.9,510.7L595.7,507.5L593.2,505.3L596.5,505.1ZM600.3,508.5L601.6,511.6L604.9,511.8L602.3,514.0L603.1,517.2L600.3,515.4L597.5,517.2L598.3,514.0L595.8,511.8L599.1,511.6ZM602.9,514.1L604.1,517.2L607.5,517.4L604.9,519.5L605.7,522.7L602.9,521.0L600.1,522.7L600.9,519.5L598.3,517.4L601.7,517.2ZM605.5,516.1L606.7,519.2L610.1,519.4L607.5,521.6L608.3,524.8L605.5,523.0L602.7,524.8L603.5,521.6L600.9,519.4L604.3,519.2ZM608.1,517.1L609.3,520.2L612.6,520.4L610.1,522.6L610.9,525.8L608.1,524.0L605.2,525.8L606.1,522.6L603.5,520.4L606.8,520.2ZM610.7,515.1L611.9,518.2L615.2,518.4L612.7,520.5L613.5,523.8L610.7,522.0L607.8,523.8L608.7,520.5L606.1,518.4L609.4,518.2ZM613.2,512.2L614.5,515.3L617.8,515.5L615.2,517.6L616.1,520.9L613.2,519.1L610.4,520.9L611.2,517.6L608.7,515.5L612.0,515.3ZM615.8,507.8L617.1,510.9L620.4,511.1L617.8,513.2L618.6,516.4L615.8,514.7L613.0,516.4L613.8,513.2L611.3,511.1L614.6,510.9ZM618.4,500.3L619.6,503.4L623.0,503.6L620.4,505.7L621.2,508.9L618.4,507.2L615.6,508.9L616.4,505.7L613.8,503.6L617.2,503.4ZM621.0,496.8L622.2,499.9L625.6,500.1L623.0,502.2L623.8,505.5L621.0,503.7L618.2,505.5L619.0,502.2L616.4,500.1L619.8,499.9ZM623.6,489.2L624.8,492.3L628.1,492.5L625.6,494.6L626.4,497.9L623.6,496.1L620.8,497.9L621.6,494.6L619.0,492.5L622.3,492.3ZM626.2,487.2L627.4,490.3L630.7,490.5L628.2,492.6L629.0,495.9L626.2,494.1L623.3,495.9L624.2,492.6L621.6,490.5L624.9,490.3ZM628.7,479.7L630.0,482.8L633.3,483.0L630.7,485.1L631.6,488.3L628.7,486.6L625.9,488.3L626.7,485.1L624.2,483.0L627.5,482.8ZM631.3,475.3L632.6,478.4L635.9,478.6L633.3,480.8L634.1,484.0L631.3,482.2L628.5,484.0L629.3,480.8L626.8,478.6L630.1,478.4ZM633.9,468.0L635.1,471.1L638.5,471.3L635.9,473.5L636.7,476.7L633.9,474.9L631.1,476.7L631.9,473.5L629.3,471.3L632.7,471.1ZM636.5,460.6L637.7,463.7L641.1,463.9L638.5,466.0L639.3,469.3L636.5,467.5L633.7,469.3L634.5,466.0L631.9,463.9L635.3,463.7ZM639.1,427.7L640.3,430.8L643.6,431.0L641.1,433.1L641.9,436.4L639.1,434.6L636.3,436.4L637.1,433.1L634.5,431.0L637.8,430.8Z" fill="#ff0000"/>
<path d="M615.8,503.3L618.4,499.6L621.0,493.0L623.6,486.9L626.2,481.0L628.7,469.8L631.3,458.7L633.9,446.2L635.5,351.5" fill="none" stroke="#ff1010" stroke-width="1.6"/>
<path d="M416.9,425.0L419.4,424.7L422.0,426.3L424.6,426.0L427.2,424.0L429.8,424.4L432.4,425.8L434.9,423.6L437.5,424.7L440.1,424.5L442.7,423.8L445.3,424.3L447.9,423.9L450.4,426.3L453.0,424.2L455.6,424.8L458.2,423.1L460.8,424.1L463.4,424.7L465.9,424.9L468.5,426.9L471.1,425.7L473.7,425.3L476.3,424.8L478.9,424.7L481.5,426.2L484.0,427.1L486.6,426.4L489.2,427.1L491.8,426.0L494.4,426.6L497.0,428.8L499.5,428.3L502.1,427.0L504.7,428.6L507.3,429.1L509.9,428.6L512.5,428.7L515.0,429.4L517.6,429.1L520.2,430.7L522.8,428.8L525.4,429.7L528.0,429.7L530.5,430.7L533.1,431.4L535.7,431.3L538.3,432.8L540.9,433.3L543.5,432.7L546.1,436.4L548.6,438.4L551.2,439.7L553.8,440.2L556.4,441.3L559.0,445.8L561.6,445.6L564.1,447.1L566.7,447.6L569.3,451.0L571.9,450.1L574.5,453.6L577.1,455.5L579.6,460.3L582.2,463.6L584.8,465.3L587.4,471.0L590.0,472.1L592.6,476.9L595.1,480.8L597.7,483.7L600.3,490.1L602.9,494.6L605.5,500.0L608.1,502.5L610.7,506.5L613.2,504.8L615.8,503.3" fill="none" stroke="#ff1010" stroke-width="1.0"/>
<path d="M416.9,421.0L420.7,423.8L419.2,428.3L414.5,428.3L413.0,423.8ZM419.4,420.7L423.2,423.5L421.8,427.9L417.1,427.9L415.6,423.5ZM422.0,422.3L425.8,425.1L424.4,429.6L419.7,429.6L418.2,425.1ZM424.6,422.0L428.4,424.7L427.0,429.2L422.3,429.2L420.8,424.7ZM427.2,420.0L431.0,422.7L429.5,427.2L424.8,427.2L423.4,422.7ZM429.8,420.4L433.6,423.2L432.1,427.7L427.4,427.7L426.0,423.2ZM432.4,421.8L436.2,424.5L434.7,429.0L430.0,429.0L428.6,424.5ZM434.9,419.6L438.7,422.4L437.3,426.9L432.6,426.9L431.1,422.4ZM437.5,420.7L441.3,423.5L439.9,427.9L435.2,427.9L433.7,423.5ZM440.1,420.5L443.9,423.3L442.5,427.7L437.8,427.7L436.3,423.3ZM442.7,419.8L446.5,422.6L445.0,427.1L440.3,427.1L438.9,422.6ZM445.3,420.3L449.1,423.1L447.6,427.6L442.9,427.6L441.5,423.1ZM447.9,419.9L451.7,422.7L450.2,427.2L445.5,427.2L444.1,422.7ZM450.4,422.3L454.3,425.1L452.8,429.6L448.1,429.6L446.6,425.1ZM453.0,420.2L456.8,422.9L455.4,427.4L450.7,427.4L449.2,422.9ZM455.6,420.8L459.4,423.6L458.0,428.0L453.3,428.0L451.8,423.6ZM458.2,419.1L462.0,421.9L460.5,426.3L455.8,426.3L454.4,421.9ZM460.8,420.1L464.6,422.9L463.1,427.3L458.4,427.3L457.0,422.9ZM463.4,420.7L467.2,423.5L465.7,428.0L461.0,428.0L459.6,423.5ZM465.9,420.9L469.8,423.7L468.3,428.1L463.6,428.1L462.1,423.7ZM468.5,422.9L472.3,425.7L470.9,430.2L466.2,430.2L464.7,425.7ZM471.1,421.7L474.9,424.4L473.5,428.9L468.8,428.9L467.3,424.4ZM473.7,421.3L477.5,424.1L476.1,428.6L471.4,428.6L469.9,424.1ZM476.3,420.8L480.1,423.5L478.6,428.0L473.9,428.0L472.5,423.5ZM478.9,420.7L482.7,423.4L481.2,427.9L476.5,427.9L475.1,423.4ZM481.5,422.2L485.3,425.0L483.8,429.5L479.1,429.5L477.6,425.0ZM484.0,423.1L487.8,425.9L486.4,430.4L481.7,430.4L480.2,425.9ZM486.6,422.4L490.4,425.2L489.0,429.7L484.3,429.7L482.8,425.2ZM489.2,423.1L493.0,425.9L491.6,430.3L486.9,430.3L485.4,425.9ZM491.8,422.0L495.6,424.8L494.1,429.3L489.4,429.3L488.0,424.8ZM494.4,422.6L498.2,425.4L496.7,429.9L492.0,429.9L490.6,425.4ZM497.0,424.8L500.8,427.6L499.3,432.1L494.6,432.1L493.2,427.6ZM499.5,424.3L503.3,427.1L501.9,431.6L497.2,431.6L495.7,427.1ZM502.1,423.0L505.9,425.8L504.5,430.3L499.8,430.3L498.3,425.8ZM504.7,424.6L508.5,427.3L507.1,431.8L502.4,431.8L500.9,427.3ZM507.3,425.1L511.1,427.8L509.6,432.3L504.9,432.3L503.5,427.8ZM509.9,424.6L513.7,427.4L512.2,431.9L507.5,431.9L506.1,427.4ZM512.5,424.7L516.3,427.4L514.8,431.9L510.1,431.9L508.7,427.4ZM515.0,425.4L518.9,428.1L517.4,432.6L512.7,432.6L511.2,428.1ZM517.6,425.1L521.4,427.9L520.0,432.4L515.3,432.4L513.8,427.9ZM520.2,426.7L524.0,429.4L522.6,433.9L517.9,433.9L516.4,429.4ZM522.8,424.8L526.6,427.6L525.1,432.0L520.4,432.0L519.0,427.6ZM525.4,425.7L529.2,428.5L527.7,433.0L523.0,433.0L521.6,428.5ZM528.0,425.7L531.8,428.4L530.3,432.9L525.6,432.9L524.2,428.4ZM530.5,426.7L534.4,429.4L532.9,433.9L528.2,433.9L526.7,429.4ZM533.1,427.4L536.9,430.1L535.5,434.6L530.8,434.6L529.3,430.1ZM535.7,427.3L539.5,430.1L538.1,434.6L533.4,434.6L531.9,430.1ZM538.3,428.8L542.1,431.6L540.7,436.1L536.0,436.1L534.5,431.6ZM540.9,429.3L544.7,432.1L543.2,436.5L538.5,436.5L537.1,432.1ZM543.5,428.7L547.3,431.5L545.8,436.0L541.1,436.0L539.7,431.5ZM546.1,432.4L549.9,435.2L548.4,439.7L543.7,439.7L542.2,435.2ZM548.6,434.4L552.4,437.2L551.0,441.7L546.3,441.7L544.8,437.2ZM551.2,435.7L555.0,438.5L553.6,443.0L548.9,443.0L547.4,438.5ZM553.8,436.2L557.6,439.0L556.2,443.5L551.5,443.5L550.0,439.0ZM556.4,437.3L560.2,440.0L558.7,444.5L554.0,444.5L552.6,440.0ZM559.0,441.8L562.8,444.6L561.3,449.1L556.6,449.1L555.2,444.6ZM561.6,441.6L565.4,444.4L563.9,448.8L559.2,448.8L557.8,444.4ZM564.1,443.1L567.9,445.9L566.5,450.4L561.8,450.4L560.3,445.9ZM566.7,443.6L570.5,446.4L569.1,450.9L564.4,450.9L562.9,446.4ZM569.3,447.0L573.1,449.8L571.7,454.2L567.0,454.2L565.5,449.8ZM571.9,446.1L575.7,448.8L574.2,453.3L569.5,453.3L568.1,448.8ZM574.5,449.6L578.3,452.4L576.8,456.8L572.1,456.8L570.7,452.4ZM577.1,451.5L580.9,454.2L579.4,458.7L574.7,458.7L573.3,454.2ZM579.6,456.3L583.5,459.1L582.0,463.6L577.3,463.6L575.8,459.1ZM582.2,459.6L586.0,462.3L584.6,466.8L579.9,466.8L578.4,462.3ZM584.8,461.3L588.6,464.1L587.2,468.6L582.5,468.6L581.0,464.1ZM587.4,467.0L591.2,469.8L589.7,474.3L585.0,474.3L583.6,469.8ZM590.0,468.1L593.8,470.9L592.3,475.3L587.6,475.3L586.2,470.9ZM592.6,472.9L596.4,475.7L594.9,480.2L590.2,480.2L588.8,475.7ZM595.1,476.8L599.0,479.5L597.5,484.0L592.8,484.0L591.3,479.5ZM597.7,479.7L601.5,482.5L600.1,486.9L595.4,486.9L593.9,482.5ZM600.3,486.1L604.1,488.9L602.7,493.4L598.0,493.4L596.5,488.9ZM602.9,490.6L606.7,493.4L605.3,497.9L600.6,497.9L599.1,493.4ZM605.5,496.0L609.3,498.7L607.8,503.2L603.1,503.2L601.7,498.7ZM608.1,498.5L611.9,501.3L610.4,505.7L605.7,505.7L604.3,501.3ZM610.7,502.5L614.5,505.3L613.0,509.8L608.3,509.8L606.8,505.3ZM613.2,500.8L617.0,503.6L615.6,508.1L610.9,508.1L609.4,503.6ZM615.8,499.3L619.6,502.1L618.2,506.5L613.5,506.5L612.0,502.1ZM618.4,495.6L622.2,498.4L620.8,502.8L616.1,502.8L614.6,498.4ZM621.0,489.0L624.8,491.8L623.3,496.3L618.6,496.3L617.2,491.8ZM623.6,482.9L627.4,485.7L625.9,490.2L621.2,490.2L619.8,485.7ZM626.2,477.0L630.0,479.7L628.5,484.2L623.8,484.2L622.4,479.7ZM628.7,465.8L632.5,468.5L631.1,473.0L626.4,473.0L624.9,468.5ZM631.3,454.7L635.1,457.5L633.7,462.0L629.0,462.0L627.5,457.5ZM633.9,442.2L637.7,445.0L636.3,449.5L631.6,449.5L630.1,445.0Z" fill="#ff0000"/>
<path d="M621.2,479.3L623.8,468.9L626.4,452.0L629.0,416.7L630.0,351.5" fill="none" stroke="#cc1010" stroke-width="1.6"/>
<path d="M417.1,410.9L419.7,411.5L422.3,411.8L424.9,410.2L427.4,408.4L430.0,409.5L432.6,412.1L435.2,409.7L437.8,410.9L440.4,412.6L443.0,411.5L445.5,412.3L448.1,411.1L450.7,409.0L453.3,411.5L455.9,410.6L458.5,410.1L461.0,410.6L463.6,409.7L466.2,409.6L468.8,410.6L471.4,412.5L474.0,412.4L476.5,409.5L479.1,410.0L481.7,413.3L484.3,413.3L486.9,413.4L489.5,411.2L492.0,412.7L494.6,413.8L497.2,414.2L499.8,414.6L502.4,415.1L505.0,415.5L507.6,412.0L510.1,413.3L512.7,415.3L515.3,415.1L517.9,416.9L520.5,415.3L523.1,415.3L525.6,416.3L528.2,416.4L530.8,414.7L533.4,417.1L536.0,417.1L538.6,419.9L541.1,418.3L543.7,417.8L546.3,420.5L548.9,420.9L551.5,421.6L554.1,425.0L556.6,425.7L559.2,425.2L561.8,427.3L564.4,429.2L567.0,428.6L569.6,430.6L572.2,434.9L574.7,436.6L577.3,440.7L579.9,441.8L582.5,446.5L585.1,450.0L587.7,454.3L590.2,457.4L592.8,459.6L595.4,462.5L598.0,469.4L600.6,472.6L603.2,475.4L605.7,479.7L608.3,487.3L610.9,492.5L613.5,492.9L616.1,490.0L618.7,482.2L621.2,479.3" fill="none" stroke="#cc1010" stroke-width="1.0"/>
<path d="M413.6,410.9a3.5,3.5 0 1,0 7.0,0a3.5,3.5 0 1,0 -7.0,0M416.2,411.5a3.5,3.5 0 1,0 7.0,0a3.5,3.5 0 1,0 -7.0,0M418.8,411.8a3.5,3.5 0 1,0 7.0,0a3.5,3.5 0 1,0 -7.0,0M421.4,410.2a3.5,3.5 0 1,0 7.0,0a3.5,3.5 0 1,0 -7.0,0M423.9,408.4a3.5,3.5 0 1,0 7.0,0a3.5,3.5 0 1,0 -7.0,0M426.5,409.5a3.5,3.5 0 1,0 7.0,0a3.5,3.5 0 1,0 -7.0,0M429.1,412.1a3.5,3.5 0 1,0 7.0,0a3.5,3.5 0 1,0 -7.0,0M431.7,409.7a3.5,3.5 0 1,0 7.0,0a3.5,3.5 0 1,0 -7.0,0M434.3,410.9a3.5,3.5 0 1,0 7.0,0a3.5,3.5 0 1,0 -7.0,0M436.9,412.6a3.5,3.5 0 1,0 7.0,0a3.5,3.5 0 1,0 -7.0,0M439.5,411.5a3.5,3.5 0 1,0 7.0,0a3.5,3.5 0 1,0 -7.0,0M442.0,412.3a3.5,3.5 0 1,0 7.0,0a3.5,3.5 0 1,0 -7.0,0M444.6,411.1a3.5,3.5 0 1,0 7.0,0a3.5,3.5 0 1,0 -7.0,0M447.2,409.0a3.5,3.5 0 1,0 7.0,0a3.5,3.5 0 1,0 -7.0,0M449.8,411.5a3.5,3.5 0 1,0 7.0,0a3.5,3.5 0 1,0 -7.0,0M452.4,410.6a3.5,3.5 0 1,0 7.0,0a3.5,3.5 0 1,0 -7.0,0M455.0,410.1a3.5,3.5 0 1,0 7.0,0a3.5,3.5 0 1,0 -7.0,0M457.5,410.6a3.5,3.5 0 1,0 7.0,0a3.5,3.5 0 1,0 -7.0,0M460.1,409.7a3.5,3.5 0 1,0 7.0,0a3.5,3.5 0 1,0 -7.0,0M462.7,409.6a3.5,3.5 0 1,0 7.0,0a3.5,3.5 0 1,0 -7.0,0M465.3,410.6a3.5,3.5 0 1,0 7.0,0a3.5,3.5 0 1,0 -7.0,0M467.9,412.5a3.5,3.5 0 1,0 7.0,0a3.5,3.5 0 1,0 -7.0,0M470.5,412.4a3.5,3.5 0 1,0 7.0,0a3.5,3.5 0 1,0 -7.0,0M473.0,409.5a3.5,3.5 0 1,0 7.0,0a3.5,3.5 0 1,0 -7.0,0M475.6,410.0a3.5,3.5 0 1,0 7.0,0a3.5,3.5 0 1,0 -7.0,0M478.2,413.3a3.5,3.5 0 1,0 7.0,0a3.5,3.5 0 1,0 -7.0,0M480.8,413.3a3.5,3.5 0 1,0 7.0,0a3.5,3.5 0 1,0 -7.0,0M483.4,413.4a3.5,3.5 0 1,0 7.0,0a3.5,3.5 0 1,0 -7.0,0M486.0,411.2a3.5,3.5 0 1,0 7.0,0a3.5,3.5 0 1,0 -7.0,0M488.5,412.7a3.5,3.5 0 1,0 7.0,0a3.5,3.5 0 1,0 -7.0,0M491.1,413.8a3.5,3.5 0 1,0 7.0,0a3.5,3.5 0 1,0 -7.0,0M493.7,414.2a3.5,3.5 0 1,0 7.0,0a3.5,3.5 0 1,0 -7.0,0M496.3,414.6a3.5,3.5 0 1,0 7.0,0a3.5,3.5 0 1,0 -7.0,0M498.9,415.1a3.5,3.5 0 1,0 7.0,0a3.5,3.5 0 1,0 -7.0,0M501.5,415.5a3.5,3.5 0 1,0 7.0,0a3.5,3.5 0 1,0 -7.0,0M504.1,412.0a3.5,3.5 0 1,0 7.0,0a3.5,3.5 0 1,0 -7.0,0M506.6,413.3a3.5,3.5 0 1,0 7.0,0a3.5,3.5 0 1,0 -7.0,0M509.2,415.3a3.5,3.5 0 1,0 7.0,0a3.5,3.5 0 1,0 -7.0,0M511.8,415.1a3.5,3.5 0 1,0 7.0,0a3.5,3.5 0 1,0 -7.0,0M514.4,416.9a3.5,3.5 0 1,0 7.0,0a3.5,3.5 0 1,0 -7.0,0M517.0,415.3a3.5,3.5 0 1,0 7.0,0a3.5,3.5 0 1,0 -7.0,0M519.6,415.3a3.5,3.5 0 1,0 7.0,0a3.5,3.5 0 1,0 -7.0,0M522.1,416.3a3.5,3.5 0 1,0 7.0,0a3.5,3.5 0 1,0 -7.0,0M524.7,416.4a3.5,3.5 0 1,0 7.0,0a3.5,3.5 0 1,0 -7.0,0M527.3,414.7a3.5,3.5 0 1,0 7.0,0a3.5,3.5 0 1,0 -7.0,0M529.9,417.1a3.5,3.5 0 1,0 7.0,0a3.5,3.5 0 1,0 -7.0,0M532.5,417.1a3.5,3.5 0 1,0 7.0,0a3.5,3.5 0 1,0 -7.0,0M535.1,419.9a3.5,3.5 0 1,0 7.0,0a3.5,3.5 0 1,0 -7.0,0M537.6,418.3a3.5,3.5 0 1,0 7.0,0a3.5,3.5 0 1,0 -7.0,0M540.2,417.8a3.5,3.5 0 1,0 7.0,0a3.5,3.5 0 1,0 -7.0,0M542.8,420.5a3.5,3.5 0 1,0 7.0,0a3.5,3.5 0 1,0 -7.0,0M545.4,420.9a3.5,3.5 0 1,0 7.0,0a3.5,3.5 0 1,0 -7.0,0M548.0,421.6a3.5,3.5 0 1,0 7.0,0a3.5,3.5 0 1,0 -7.0,0M550.6,425.0a3.5,3.5 0 1,0 7.0,0a3.5,3.5 0 1,0 -7.0,0M553.1,425.7a3.5,3.5 0 1,0 7.0,0a3.5,3.5 0 1,0 -7.0,0M555.7,425.2a3.5,3.5 0 1,0 7.0,0a3.5,3.5 0 1,0 -7.0,0M558.3,427.3a3.5,3.5 0 1,0 7.0,0a3.5,3.5 0 1,0 -7.0,0M560.9,429.2a3.5,3.5 0 1,0 7.0,0a3.5,3.5 0 1,0 -7.0,0M563.5,428.6a3.5,3.5 0 1,0 7.0,0a3.5,3.5 0 1,0 -7.0,0M566.1,430.6a3.5,3.5 0 1,0 7.0,0a3.5,3.5 0 1,0 -7.0,0M568.7,434.9a3.5,3.5 0 1,0 7.0,0a3.5,3.5 0 1,0 -7.0,0M571.2,436.6a3.5,3.5 0 1,0 7.0,0a3.5,3.5 0 1,0 -7.0,0M573.8,440.7a3.5,3.5 0 1,0 7.0,0a3.5,3.5 0 1,0 -7.0,0M576.4,441.8a3.5,3.5 0 1,0 7.0,0a3.5,3.5 0 1,0 -7.0,0M579.0,446.5a3.5,3.5 0 1,0 7.0,0a3.5,3.5 0 1,0 -7.0,0M581.6,450.0a3.5,3.5 0 1,0 7.0,0a3.5,3.5 0 1,0 -7.0,0M584.2,454.3a3.5,3.5 0 1,0 7.0,0a3.5,3.5 0 1,0 -7.0,0M586.7,457.4a3.5,3.5 0 1,0 7.0,0a3.5,3.5 0 1,0 -7.0,0M589.3,459.6a3.5,3.5 0 1,0 7.0,0a3.5,3.5 0 1,0 -7.0,0M591.9,462.5a3.5,3.5 0 1,0 7.0,0a3.5,3.5 0 1,0 -7.0,0M594.5,469.4a3.5,3.5 0 1,0 7.0,0a3.5,3.5 0 1,0 -7.0,0M597.1,472.6a3.5,3.5 0 1,0 7.0,0a3.5,3.5 0 1,0 -7.0,0M599.7,475.4a3.5,3.5 0 1,0 7.0,0a3.5,3.5 0 1,0 -7.0,0M602.2,479.7a3.5,3.5 0 1,0 7.0,0a3.5,3.5 0 1,0 -7.0,0M604.8,487.3a3.5,3.5 0 1,0 7.0,0a3.5,3.5 0 1,0 -7.0,0M607.4,492.5a3.5,3.5 0 1,0 7.0,0a3.5,3.5 0 1,0 -7.0,0M610.0,492.9a3.5,3.5 0 1,0 7.0,0a3.5,3.5 0 1,0 -7.0,0M612.6,490.0a3.5,3.5 0 1,0 7.0,0a3.5,3.5 0 1,0 -7.0,0M615.2,482.2a3.5,3.5 0 1,0 7.0,0a3.5,3.5 0 1,0 -7.0,0M617.7,479.3a3.5,3.5 0 1,0 7.0,0a3.5,3.5 0 1,0 -7.0,0M620.3,468.9a3.5,3.5 0 1,0 7.0,0a3.5,3.5 0 1,0 -7.0,0M622.9,452.0a3.5,3.5 0 1,0 7.0,0a3.5,3.5 0 1,0 -7.0,0M625.5,416.7a3.5,3.5 0 1,0 7.0,0a3.5,3.5 0 1,0 -7.0,0" fill="#c00000"/>
<path d="M415.2,410.1a0.9,0.9 0 1,0 1.8,0a0.9,0.9 0 1,0 -1.8,0M417.8,410.7a0.9,0.9 0 1,0 1.8,0a0.9,0.9 0 1,0 -1.8,0M420.4,411.0a0.9,0.9 0 1,0 1.8,0a0.9,0.9 0 1,0 -1.8,0M423.0,409.4a0.9,0.9 0 1,0 1.8,0a0.9,0.9 0 1,0 -1.8,0M425.5,407.6a0.9,0.9 0 1,0 1.8,0a0.9,0.9 0 1,0 -1.8,0M428.1,408.7a0.9,0.9 0 1,0 1.8,0a0.9,0.9 0 1,0 -1.8,0M430.7,411.3a0.9,0.9 0 1,0 1.8,0a0.9,0.9 0 1,0 -1.8,0M433.3,408.9a0.9,0.9 0 1,0 1.8,0a0.9,0.9 0 1,0 -1.8,0M435.9,410.1a0.9,0.9 0 1,0 1.8,0a0.9,0.9 0 1,0 -1.8,0M438.5,411.8a0.9,0.9 0 1,0 1.8,0a0.9,0.9 0 1,0 -1.8,0M441.1,410.7a0.9,0.9 0 1,0 1.8,0a0.9,0.9 0 1,0 -1.8,0M443.6,411.5a0.9,0.9 0 1,0 1.8,0a0.9,0.9 0 1,0 -1.8,0M446.2,410.3a0.9,0.9 0 1,0 1.8,0a0.9,0.9 0 1,0 -1.8,0M448.8,408.2a0.9,0.9 0 1,0 1.8,0a0.9,0.9 0 1,0 -1.8,0M451.4,410.7a0.9,0.9 0 1,0 1.8,0a0.9,0.9 0 1,0 -1.8,0M454.0,409.8a0.9,0.9 0 1,0 1.8,0a0.9,0.9 0 1,0 -1.8,0M456.6,409.3a0.9,0.9 0 1,0 1.8,0a0.9,0.9 0 1,0 -1.8,0M459.1,409.8a0.9,0.9 0 1,0 1.8,0a0.9,0.9 0 1,0 -1.8,0M461.7,408.9a0.9,0.9 0 1,0 1.8,0a0.9,0.9 0 1,0 -1.8,0M464.3,408.8a0.9,0.9 0 1,0 1.8,0a0.9,0.9 0 1,0 -1.8,0M466.9,409.8a0.9,0.9 0 1,0 1.8,0a0.9,0.9 0 1,0 -1.8,0M469.5,411.7a0.9,0.9 0 1,0 1.8,0a0.9,0.9 0 1,0 -1.8,0M472.1,411.6a0.9,0.9 0 1,0 1.8,0a0.9,0.9 0 1,0 -1.8,0M474.6,408.7a0.9,0.9 0 1,0 1.8,0a0.9,0.9 0 1,0 -1.8,0M477.2,409.2a0.9,0.9 0 1,0 1.8,0a0.9,0.9 0 1,0 -1.8,0M479.8,412.5a0.9,0.9 0 1,0 1.8,0a0.9,0.9 0 1,0 -1.8,0M482.4,412.5a0.9,0.9 0 1,0 1.8,0a0.9,0.9 0 1,0 -1.8,0M485.0,412.6a0.9,0.9 0 1,0 1.8,0a0.9,0.9 0 1,0 -1.8,0M487.6,410.4a0.9,0.9 0 1,0 1.8,0a0.9,0.9 0 1,0 -1.8,0M490.1,411.9a0.9,0.9 0 1,0 1.8,0a0.9,0.9 0 1,0 -1.8,0M492.7,413.0a0.9,0.9 0 1,0 1.8,0a0.9,0.9 0 1,0 -1.8,0M495.3,413.4a0.9,0.9 0 1,0 1.8,0a0.9,0.9 0 1,0 -1.8,0M497.9,413.8a0.9,0.9 0 1,0 1.8,0a0.9,0.9 0 1,0 -1.8,0M500.5,414.3a0.9,0.9 0 1,0 1.8,0a0.9,0.9 0 1,0 -1.8,0M503.1,414.7a0.9,0.9 0 1,0 1.8,0a0.9,0.9 0 1,0 -1.8,0M505.7,411.2a0.9,0.9 0 1,0 1.8,0a0.9,0.9 0 1,0 -1.8,0M508.2,412.5a0.9,0.9 0 1,0 1.8,0a0.9,0.9 0 1,0 -1.8,0M510.8,414.5a0.9,0.9 0 1,0 1.8,0a0.9,0.9 0 1,0 -1.8,0M513.4,414.3a0.9,0.9 0 1,0 1.8,0a0.9,0.9 0 1,0 -1.8,0M516.0,416.1a0.9,0.9 0 1,0 1.8,0a0.9,0.9 0 1,0 -1.8,0M518.6,414.5a0.9,0.9 0 1,0 1.8,0a0.9,0.9 0 1,0 -1.8,0M521.2,414.5a0.9,0.9 0 1,0 1.8,0a0.9,0.9 0 1,0 -1.8,0M523.7,415.5a0.9,0.9 0 1,0 1.8,0a0.9,0.9 0 1,0 -1.8,0M526.3,415.6a0.9,0.9 0 1,0 1.8,0a0.9,0.9 0 1,0 -1.8,0M528.9,413.9a0.9,0.9 0 1,0 1.8,0a0.9,0.9 0 1,0 -1.8,0M531.5,416.3a0.9,0.9 0 1,0 1.8,0a0.9,0.9 0 1,0 -1.8,0M534.1,416.3a0.9,0.9 0 1,0 1.8,0a0.9,0.9 0 1,0 -1.8,0M536.7,419.1a0.9,0.9 0 1,0 1.8,0a0.9,0.9 0 1,0 -1.8,0M539.2,417.5a0.9,0.9 0 1,0 1.8,0a0.9,0.9 0 1,0 -1.8,0M541.8,417.0a0.9,0.9 0 1,0 1.8,0a0.9,0.9 0 1,0 -1.8,0M544.4,419.7a0.9,0.9 0 1,0 1.8,0a0.9,0.9 0 1,0 -1.8,0M547.0,420.1a0.9,0.9 0 1,0 1.8,0a0.9,0.9 0 1,0 -1.8,0M549.6,420.8a0.9,0.9 0 1,0 1.8,0a0.9,0.9 0 1,0 -1.8,0M552.2,424.2a0.9,0.9 0 1,0 1.8,0a0.9,0.9 0 1,0 -1.8,0M554.7,424.9a0.9,0.9 0 1,0 1.8,0a0.9,0.9 0 1,0 -1.8,0M557.3,424.4a0.9,0.9 0 1,0 1.8,0a0.9,0.9 0 1,0 -1.8,0M559.9,426.5a0.9,0.9 0 1,0 1.8,0a0.9,0.9 0 1,0 -1.8,0M562.5,428.4a0.9,0.9 0 1,0 1.8,0a0.9,0.9 0 1,0 -1.8,0M565.1,427.8a0.9,0.9 0 1,0 1.8,0a0.9,0.9 0 1,0 -1.8,0M567.7,429.8a0.9,0.9 0 1,0 1.8,0a0.9,0.9 0 1,0 -1.8,0M570.3,434.1a0.9,0.9 0 1,0 1.8,0a0.9,0.9 0 1,0 -1.8,0M572.8,435.8a0.9,0.9 0 1,0 1.8,0a0.9,0.9 0 1,0 -1.8,0M575.4,439.9a0.9,0.9 0 1,0 1.8,0a0.9,0.9 0 1,0 -1.8,0M578.0,441.0a0.9,0.9 0 1,0 1.8,0a0.9,0.9 0 1,0 -1.8,0M580.6,445.7a0.9,0.9 0 1,0 1.8,0a0.9,0.9 0 1,0 -1.8,0M583.2,449.2a0.9,0.9 0 1,0 1.8,0a0.9,0.9 0 1,0 -1.8,0M585.8,453.5a0.9,0.9 0 1,0 1.8,0a0.9,0.9 0 1,0 -1.8,0M588.3,456.6a0.9,0.9 0 1,0 1.8,0a0.9,0.9 0 1,0 -1.8,0M590.9,458.8a0.9,0.9 0 1,0 1.8,0a0.9,0.9 0 1,0 -1.8,0M593.5,461.7a0.9,0.9 0 1,0 1.8,0a0.9,0.9 0 1,0 -1.8,0M596.1,468.6a0.9,0.9 0 1,0 1.8,0a0.9,0.9 0 1,0 -1.8,0M598.7,471.8a0.9,0.9 0 1,0 1.8,0a0.9,0.9 0 1,0 -1.8,0M601.3,474.6a0.9,0.9 0 1,0 1.8,0a0.9,0.9 0 1,0 -1.8,0M603.8,478.9a0.9,0.9 0 1,0 1.8,0a0.9,0.9 0 1,0 -1.8,0M606.4,486.5a0.9,0.9 0 1,0 1.8,0a0.9,0.9 0 1,0 -1.8,0M609.0,491.7a0.9,0.9 0 1,0 1.8,0a0.9,0.9 0 1,0 -1.8,0M611.6,492.1a0.9,0.9 0 1,0 1.8,0a0.9,0.9 0 1,0 -1.8,0M614.2,489.2a0.9,0.9 0 1,0 1.8,0a0.9,0.9 0 1,0 -1.8,0M616.8,481.4a0.9,0.9 0 1,0 1.8,0a0.9,0.9 0 1,0 -1.8,0M619.3,478.5a0.9,0.9 0 1,0 1.8,0a0.9,0.9 0 1,0 -1.8,0M621.9,468.1a0.9,0.9 0 1,0 1.8,0a0.9,0.9 0 1,0 -1.8,0M624.5,451.2a0.9,0.9 0 1,0 1.8,0a0.9,0.9 0 1,0 -1.8,0M627.1,415.9a0.9,0.9 0 1,0 1.8,0a0.9,0.9 0 1,0 -1.8,0" fill="#ffffff" opacity="0.65"/>
<path d="M618.8,471.4L621.4,456.5L624.0,430.8L624.8,351.5" fill="none" stroke="#8b1010" stroke-width="1.6"/>
<path d="M417.2,395.4L419.8,395.9L422.4,396.8L425.0,395.0L427.6,397.1L430.2,397.0L432.7,395.1L435.3,396.0L437.9,396.7L440.5,398.8L443.1,396.4L445.7,395.9L448.2,397.2L450.8,396.4L453.4,396.7L456.0,396.1L458.6,397.7L461.2,397.1L463.8,394.4L466.3,395.8L468.9,396.9L471.5,396.0L474.1,397.5L476.7,397.0L479.3,398.6L481.8,396.9L484.4,398.1L487.0,397.3L489.6,395.6L492.2,397.2L494.8,398.3L497.3,397.8L499.9,397.3L502.5,397.4L505.1,398.0L507.7,399.7L510.3,398.6L512.8,398.1L515.4,400.3L518.0,400.8L520.6,399.6L523.2,400.2L525.8,400.2L528.4,400.8L530.9,402.3L533.5,404.5L536.1,404.1L538.7,404.9L541.3,404.3L543.9,404.6L546.4,407.3L549.0,406.7L551.6,406.6L554.2,406.0L556.8,409.9L559.4,410.0L561.9,411.8L564.5,414.0L567.1,412.2L569.7,414.9L572.3,417.9L574.9,418.3L577.4,423.0L580.0,427.6L582.6,432.7L585.2,434.1L587.8,437.5L590.4,444.3L593.0,447.0L595.5,449.5L598.1,451.7L600.7,454.2L603.3,457.6L605.9,460.6L608.5,463.1L611.0,468.3L613.6,470.9L616.2,474.5L618.8,471.4" fill="none" stroke="#a43c4a" stroke-width="0.7"/>
<path d="M414.2,395.4h6M417.2,391.8v7.2M416.8,395.9h6M419.8,392.3v7.2M419.4,396.8h6M422.4,393.2v7.2M422.0,395.0h6M425.0,391.4v7.2M424.6,397.1h6M427.6,393.5v7.2M427.2,397.0h6M430.2,393.4v7.2M429.7,395.1h6M432.7,391.5v7.2M432.3,396.0h6M435.3,392.4v7.2M434.9,396.7h6M437.9,393.1v7.2M437.5,398.8h6M440.5,395.2v7.2M440.1,396.4h6M443.1,392.8v7.2M442.7,395.9h6M445.7,392.3v7.2M445.2,397.2h6M448.2,393.6v7.2M447.8,396.4h6M450.8,392.8v7.2M450.4,396.7h6M453.4,393.1v7.2M453.0,396.1h6M456.0,392.5v7.2M455.6,397.7h6M458.6,394.1v7.2M458.2,397.1h6M461.2,393.5v7.2M460.8,394.4h6M463.8,390.8v7.2M463.3,395.8h6M466.3,392.2v7.2M465.9,396.9h6M468.9,393.3v7.2M468.5,396.0h6M471.5,392.4v7.2M471.1,397.5h6M474.1,393.9v7.2M473.7,397.0h6M476.7,393.4v7.2M476.3,398.6h6M479.3,395.0v7.2M478.8,396.9h6M481.8,393.3v7.2M481.4,398.1h6M484.4,394.5v7.2M484.0,397.3h6M487.0,393.7v7.2M486.6,395.6h6M489.6,392.0v7.2M489.2,397.2h6M492.2,393.6v7.2M491.8,398.3h6M494.8,394.7v7.2M494.3,397.8h6M497.3,394.2v7.2M496.9,397.3h6M499.9,393.7v7.2M499.5,397.4h6M502.5,393.8v7.2M502.1,398.0h6M505.1,394.4v7.2M504.7,399.7h6M507.7,396.1v7.2M507.3,398.6h6M510.3,395.0v7.2M509.8,398.1h6M512.8,394.5v7.2M512.4,400.3h6M515.4,396.7v7.2M515.0,400.8h6M518.0,397.2v7.2M517.6,399.6h6M520.6,396.0v7.2M520.2,400.2h6M523.2,396.6v7.2M522.8,400.2h6M525.8,396.6v7.2M525.4,400.8h6M528.4,397.2v7.2M527.9,402.3h6M530.9,398.7v7.2M530.5,404.5h6M533.5,400.9v7.2M533.1,404.1h6M536.1,400.5v7.2M535.7,404.9h6M538.7,401.3v7.2M538.3,404.3h6M541.3,400.7v7.2M540.9,404.6h6M543.9,401.0v7.2M543.4,407.3h6M546.4,403.7v7.2M546.0,406.7h6M549.0,403.1v7.2M548.6,406.6h6M551.6,403.0v7.2M551.2,406.0h6M554.2,402.4v7.2M553.8,409.9h6M556.8,406.3v7.2M556.4,410.0h6M559.4,406.4v7.2M558.9,411.8h6M561.9,408.2v7.2M561.5,414.0h6M564.5,410.4v7.2M564.1,412.2h6M567.1,408.6v7.2M566.7,414.9h6M569.7,411.3v7.2M569.3,417.9h6M572.3,414.3v7.2M571.9,418.3h6M574.9,414.7v7.2M574.4,423.0h6M577.4,419.4v7.2M577.0,427.6h6M580.0,424.0v7.2M579.6,432.7h6M582.6,429.1v7.2M582.2,434.1h6M585.2,430.5v7.2M584.8,437.5h6M587.8,433.9v7.2M587.4,444.3h6M590.4,440.7v7.2M590.0,447.0h6M593.0,443.4v7.2M592.5,449.5h6M595.5,445.9v7.2M595.1,451.7h6M598.1,448.1v7.2M597.7,454.2h6M600.7,450.6v7.2M600.3,457.6h6M603.3,454.0v7.2M602.9,460.6h6M605.9,457.0v7.2M605.5,463.1h6M608.5,459.5v7.2M608.0,468.3h6M611.0,464.7v7.2M610.6,470.9h6M613.6,467.3v7.2M613.2,474.5h6M616.2,470.9v7.2M615.8,471.4h6M618.8,467.8v7.2M618.4,456.5h6M621.4,452.9v7.2M621.0,430.8h6M624.0,427.2v7.2" fill="none" stroke="#a43c4a" stroke-width="1.0"/>
</g>
<g clip-path="url(#cb)">
<path d="M637.3,225.2L641.6,220.7L645.8,215.6L650.1,212.8L654.3,209.7L658.6,203.8L662.8,197.6L667.1,192.9L671.3,184.4L675.0,2.0" fill="none" stroke="#8a00c8" stroke-width="1.6"/>
<path d="M267.9,378.7L272.2,376.9L276.4,375.9L280.7,374.1L284.9,372.1L289.2,370.1L293.4,369.3L297.7,366.6L301.9,364.8L306.2,363.5L310.4,361.3L314.6,359.3L318.9,358.3L323.1,356.1L327.4,354.2L331.6,351.6L335.9,350.2L340.1,348.7L344.4,347.7L348.6,345.8L352.9,343.6L357.1,342.0L361.4,339.7L365.6,337.4L369.8,336.3L374.1,334.1L378.3,332.9L382.6,330.7L386.8,329.2L391.1,328.3L395.3,326.0L399.6,324.1L403.8,321.3L408.1,320.1L412.3,318.6L416.6,316.8L420.8,315.1L425.0,314.0L429.3,312.1L433.5,309.0L437.8,308.2L442.0,306.2L446.3,305.1L450.5,303.2L454.8,300.8L459.0,299.0L463.3,298.2L467.5,296.6L471.7,294.8L476.0,292.5L480.2,291.8L484.5,288.9L488.7,287.3L493.0,285.4L497.2,284.1L501.5,282.4L505.7,280.3L510.0,279.0L514.2,276.9L518.5,275.0L522.7,272.9L526.9,271.3L531.2,269.0L535.4,267.6L539.7,266.3L543.9,264.6L548.2,262.4L552.4,260.9L556.7,260.3L560.9,257.9L565.2,255.5L569.4,255.0L573.7,253.7L577.9,252.1L582.1,248.7L586.4,247.4L590.6,245.4L594.9,244.1L599.1,241.3L603.4,240.4L607.6,238.6L611.9,235.1L616.1,233.1L620.4,232.6L624.6,230.8L628.9,228.0L633.1,226.6L637.3,225.2" fill="none" stroke="#8a00c8" stroke-width="1.0"/>
<path d="M464.4,293.5L470.6,293.5L470.6,299.7L464.4,299.7ZM468.6,291.7L474.8,291.7L474.8,297.9L468.6,297.9ZM472.9,289.4L479.1,289.4L479.1,295.6L472.9,295.6ZM477.1,288.7L483.3,288.7L483.3,294.9L477.1,294.9ZM481.4,285.8L487.6,285.8L487.6,292.0L481.4,292.0ZM485.6,284.2L491.8,284.2L491.8,290.4L485.6,290.4ZM489.9,282.3L496.1,282.3L496.1,288.5L489.9,288.5ZM494.1,281.0L500.3,281.0L500.3,287.2L494.1,287.2ZM498.4,279.3L504.6,279.3L504.6,285.5L498.4,285.5ZM502.6,277.2L508.8,277.2L508.8,283.4L502.6,283.4ZM506.9,275.9L513.1,275.9L513.1,282.1L506.9,282.1ZM511.1,273.8L517.3,273.8L517.3,280.0L511.1,280.0ZM515.4,271.9L521.6,271.9L521.6,278.1L515.4,278.1ZM519.6,269.8L525.8,269.8L525.8,276.0L519.6,276.0ZM523.8,268.2L530.0,268.2L530.0,274.4L523.8,274.4ZM528.1,265.9L534.3,265.9L534.3,272.1L528.1,272.1ZM532.3,264.5L538.5,264.5L538.5,270.7L532.3,270.7ZM536.6,263.2L542.8,263.2L542.8,269.4L536.6,269.4ZM540.8,261.5L547.0,261.5L547.0,267.7L540.8,267.7ZM545.1,259.3L551.3,259.3L551.3,265.5L545.1,265.5ZM549.3,257.8L555.5,257.8L555.5,264.0L549.3,264.0ZM553.6,257.2L559.8,257.2L559.8,263.4L553.6,263.4ZM557.8,254.8L564.0,254.8L564.0,261.0L557.8,261.0ZM562.1,252.4L568.3,252.4L568.3,258.6L562.1,258.6ZM566.3,251.9L572.5,251.9L572.5,258.1L566.3,258.1ZM570.6,250.6L576.8,250.6L576.8,256.8L570.6,256.8ZM574.8,249.0L581.0,249.0L581.0,255.2L574.8,255.2ZM579.0,245.6L585.2,245.6L585.2,251.8L579.0,251.8ZM583.3,244.3L589.5,244.3L589.5,250.5L583.3,250.5ZM587.5,242.3L593.7,242.3L593.7,248.5L587.5,248.5ZM591.8,241.0L598.0,241.0L598.0,247.2L591.8,247.2ZM596.0,238.2L602.2,238.2L602.2,244.4L596.0,244.4ZM600.3,237.3L606.5,237.3L606.5,243.5L600.3,243.5ZM604.5,235.5L610.7,235.5L610.7,241.7L604.5,241.7ZM608.8,232.0L615.0,232.0L615.0,238.2L608.8,238.2ZM613.0,230.0L619.2,230.0L619.2,236.2L613.0,236.2ZM617.3,229.5L623.5,229.5L623.5,235.7L617.3,235.7ZM621.5,227.7L627.7,227.7L627.7,233.9L621.5,233.9ZM625.8,224.9L632.0,224.9L632.0,231.1L625.8,231.1ZM630.0,223.5L636.2,223.5L636.2,229.7L630.0,229.7ZM634.2,222.1L640.4,222.1L640.4,228.3L634.2,228.3ZM638.5,217.6L644.7,217.6L644.7,223.8L638.5,223.8ZM642.7,212.5L648.9,212.5L648.9,218.7L642.7,218.7ZM647.0,209.7L653.2,209.7L653.2,215.9L647.0,215.9ZM651.2,206.6L657.4,206.6L657.4,212.8L651.2,212.8ZM655.5,200.7L661.7,200.7L661.7,206.9L655.5,206.9ZM659.7,194.5L665.9,194.5L665.9,200.7L659.7,200.7ZM664.0,189.8L670.2,189.8L670.2,196.0L664.0,196.0ZM668.2,181.3L674.4,181.3L674.4,187.5L668.2,187.5Z" fill="#7f00b2"/>
<path d="M562.0,253.2L566.2,250.5L570.5,248.3L574.7,245.8L579.0,243.1L583.2,240.3L587.5,237.7L591.7,235.9L595.9,232.7L600.2,230.6L604.4,228.5L608.7,226.2L612.9,223.5L617.2,221.6L621.4,219.5L625.7,217.3L629.9,214.3L634.2,211.3L638.4,208.3L642.7,204.2L646.9,200.7L651.1,197.7L655.4,193.9L659.6,190.2L663.9,185.7L668.1,177.8L670.5,2.0" fill="none" stroke="#2a00ff" stroke-width="1.6"/>
<path d="M264.8,372.3L269.0,370.4L273.2,368.6L277.5,367.1L281.7,364.6L286.0,363.8L290.2,361.4L294.5,360.0L298.7,357.6L303.0,355.8L307.2,354.1L311.5,352.8L315.7,350.6L320.0,348.7L324.2,346.9L328.4,345.3L332.7,342.4L336.9,340.8L341.2,339.6L345.4,337.8L349.7,336.3L353.9,334.0L358.2,331.5L362.4,330.0L366.7,327.6L370.9,326.6L375.2,325.5L379.4,322.8L383.6,321.5L387.9,319.2L392.1,317.2L396.4,314.9L400.6,313.4L404.9,311.2L409.1,310.3L413.4,309.0L417.6,307.5L421.9,305.7L426.1,303.7L430.4,301.8L434.6,300.0L438.8,298.6L443.1,296.6L447.3,295.1L451.6,292.1L455.8,292.0L460.1,290.4L464.3,288.3L468.6,286.2L472.8,285.1L477.1,282.9L481.3,280.4L485.5,279.5L489.8,277.5L494.0,276.0L498.3,275.5L502.5,273.1L506.8,272.1L511.0,271.9L515.3,269.0L519.5,269.4L523.8,268.3L528.0,266.7L532.3,264.7L536.5,263.7L540.7,261.6L545.0,260.0L549.2,258.3L553.5,256.5L557.7,254.3L562.0,253.2" fill="none" stroke="#2a00ff" stroke-width="1.0"/>
<path d="M439.6,296.6a3.5,3.5 0 1,0 7.0,0a3.5,3.5 0 1,0 -7.0,0M443.8,295.1a3.5,3.5 0 1,0 7.0,0a3.5,3.5 0 1,0 -7.0,0M448.1,292.1a3.5,3.5 0 1,0 7.0,0a3.5,3.5 0 1,0 -7.0,0M452.3,292.0a3.5,3.5 0 1,0 7.0,0a3.5,3.5 0 1,0 -7.0,0M456.6,290.4a3.5,3.5 0 1,0 7.0,0a3.5,3.5 0 1,0 -7.0,0M460.8,288.3a3.5,3.5 0 1,0 7.0,0a3.5,3.5 0 1,0 -7.0,0M465.1,286.2a3.5,3.5 0 1,0 7.0,0a3.5,3.5 0 1,0 -7.0,0M469.3,285.1a3.5,3.5 0 1,0 7.0,0a3.5,3.5 0 1,0 -7.0,0M473.6,282.9a3.5,3.5 0 1,0 7.0,0a3.5,3.5 0 1,0 -7.0,0M477.8,280.4a3.5,3.5 0 1,0 7.0,0a3.5,3.5 0 1,0 -7.0,0M482.0,279.5a3.5,3.5 0 1,0 7.0,0a3.5,3.5 0 1,0 -7.0,0M486.3,277.5a3.5,3.5 0 1,0 7.0,0a3.5,3.5 0 1,0 -7.0,0M490.5,276.0a3.5,3.5 0 1,0 7.0,0a3.5,3.5 0 1,0 -7.0,0M494.8,275.5a3.5,3.5 0 1,0 7.0,0a3.5,3.5 0 1,0 -7.0,0M499.0,273.1a3.5,3.5 0 1,0 7.0,0a3.5,3.5 0 1,0 -7.0,0M503.3,272.1a3.5,3.5 0 1,0 7.0,0a3.5,3.5 0 1,0 -7.0,0M507.5,271.9a3.5,3.5 0 1,0 7.0,0a3.5,3.5 0 1,0 -7.0,0M511.8,269.0a3.5,3.5 0 1,0 7.0,0a3.5,3.5 0 1,0 -7.0,0M516.0,269.4a3.5,3.5 0 1,0 7.0,0a3.5,3.5 0 1,0 -7.0,0M520.3,268.3a3.5,3.5 0 1,0 7.0,0a3.5,3.5 0 1,0 -7.0,0M524.5,266.7a3.5,3.5 0 1,0 7.0,0a3.5,3.5 0 1,0 -7.0,0M528.8,264.7a3.5,3.5 0 1,0 7.0,0a3.5,3.5 0 1,0 -7.0,0M533.0,263.7a3.5,3.5 0 1,0 7.0,0a3.5,3.5 0 1,0 -7.0,0M537.2,261.6a3.5,3.5 0 1,0 7.0,0a3.5,3.5 0 1,0 -7.0,0M541.5,260.0a3.5,3.5 0 1,0 7.0,0a3.5,3.5 0 1,0 -7.0,0M545.7,258.3a3.5,3.5 0 1,0 7.0,0a3.5,3.5 0 1,0 -7.0,0M550.0,256.5a3.5,3.5 0 1,0 7.0,0a3.5,3.5 0 1,0 -7.0,0M554.2,254.3a3.5,3.5 0 1,0 7.0,0a3.5,3.5 0 1,0 -7.0,0M558.5,253.2a3.5,3.5 0 1,0 7.0,0a3.5,3.5 0 1,0 -7.0,0M562.7,250.5a3.5,3.5 0 1,0 7.0,0a3.5,3.5 0 1,0 -7.0,0M567.0,248.3a3.5,3.5 0 1,0 7.0,0a3.5,3.5 0 1,0 -7.0,0M571.2,245.8a3.5,3.5 0 1,0 7.0,0a3.5,3.5 0 1,0 -7.0,0M575.5,243.1a3.5,3.5 0 1,0 7.0,0a3.5,3.5 0 1,0 -7.0,0M579.7,240.3a3.5,3.5 0 1,0 7.0,0a3.5,3.5 0 1,0 -7.0,0M584.0,237.7a3.5,3.5 0 1,0 7.0,0a3.5,3.5 0 1,0 -7.0,0M588.2,235.9a3.5,3.5 0 1,0 7.0,0a3.5,3.5 0 1,0 -7.0,0M592.4,232.7a3.5,3.5 0 1,0 7.0,0a3.5,3.5 0 1,0 -7.0,0M596.7,230.6a3.5,3.5 0 1,0 7.0,0a3.5,3.5 0 1,0 -7.0,0M600.9,228.5a3.5,3.5 0 1,0 7.0,0a3.5,3.5 0 1,0 -7.0,0M605.2,226.2a3.5,3.5 0 1,0 7.0,0a3.5,3.5 0 1,0 -7.0,0M609.4,223.5a3.5,3.5 0 1,0 7.0,0a3.5,3.5 0 1,0 -7.0,0M613.7,221.6a3.5,3.5 0 1,0 7.0,0a3.5,3.5 0 1,0 -7.0,0M617.9,219.5a3.5,3.5 0 1,0 7.0,0a3.5,3.5 0 1,0 -7.0,0M622.2,217.3a3.5,3.5 0 1,0 7.0,0a3.5,3.5 0 1,0 -7.0,0M626.4,214.3a3.5,3.5 0 1,0 7.0,0a3.5,3.5 0 1,0 -7.0,0M630.7,211.3a3.5,3.5 0 1,0 7.0,0a3.5,3.5 0 1,0 -7.0,0M634.9,208.3a3.5,3.5 0 1,0 7.0,0a3.5,3.5 0 1,0 -7.0,0M639.2,204.2a3.5,3.5 0 1,0 7.0,0a3.5,3.5 0 1,0 -7.0,0M643.4,200.7a3.5,3.5 0 1,0 7.0,0a3.5,3.5 0 1,0 -7.0,0M647.6,197.7a3.5,3.5 0 1,0 7.0,0a3.5,3.5 0 1,0 -7.0,0M651.9,193.9a3.5,3.5 0 1,0 7.0,0a3.5,3.5 0 1,0 -7.0,0M656.1,190.2a3.5,3.5 0 1,0 7.0,0a3.5,3.5 0 1,0 -7.0,0M660.4,185.7a3.5,3.5 0 1,0 7.0,0a3.5,3.5 0 1,0 -7.0,0M664.6,177.8a3.5,3.5 0 1,0 7.0,0a3.5,3.5 0 1,0 -7.0,0" fill="#2a00ff"/>
<path d="M557.7,254.9L562.0,252.3L566.2,249.3L570.5,247.0L574.7,243.6L579.0,240.3L583.2,237.1L587.5,234.0L591.7,230.6L595.9,227.5L600.2,223.8L604.4,220.4L608.7,217.7L612.9,214.7L617.2,211.0L621.4,207.7L625.7,204.4L629.9,201.0L634.2,198.0L638.4,193.9L642.7,191.7L646.9,187.2L651.1,184.8L655.4,181.2L659.6,177.1L663.9,172.5L666.2,2.0" fill="none" stroke="#0099ff" stroke-width="1.6"/>
<path d="M264.8,364.2L269.0,362.6L273.2,359.7L277.5,358.6L281.7,356.5L286.0,355.1L290.2,353.3L294.5,350.3L298.7,349.3L303.0,346.9L307.2,345.4L311.5,343.4L315.7,340.7L320.0,340.3L324.2,338.1L328.4,335.6L332.7,334.6L336.9,332.6L341.2,330.3L345.4,328.5L349.7,327.2L353.9,325.0L358.2,322.5L362.4,320.8L366.7,318.3L370.9,316.6L375.2,315.0L379.4,313.6L383.6,311.8L387.9,310.0L392.1,307.8L396.4,306.1L400.6,304.1L404.9,302.8L409.1,300.6L413.4,299.5L417.6,297.0L421.9,295.8L426.1,294.0L430.4,292.1L434.6,290.8L438.8,288.8L443.1,287.0L447.3,285.7L451.6,283.6L455.8,281.8L460.1,280.4L464.3,279.8L468.6,276.5L472.8,276.3L477.1,274.6L481.3,273.0L485.5,271.6L489.8,270.1L494.0,268.7L498.3,266.6L502.5,265.7L506.8,264.6L511.0,263.2L515.3,263.0L519.5,261.7L523.8,260.2L528.0,258.8L532.3,258.5L536.5,256.6L540.7,256.8L545.0,256.2L549.2,256.1L553.5,254.6L557.7,254.9" fill="none" stroke="#0099ff" stroke-width="1.0"/>
<path d="M417.6,293.4L421.4,300.4L413.8,300.4ZM421.9,292.2L425.7,299.2L418.1,299.2ZM426.1,290.4L429.9,297.4L422.3,297.4ZM430.4,288.5L434.2,295.5L426.6,295.5ZM434.6,287.2L438.4,294.2L430.8,294.2ZM438.8,285.2L442.6,292.2L435.0,292.2ZM443.1,283.4L446.9,290.4L439.3,290.4ZM447.3,282.1L451.1,289.1L443.5,289.1ZM451.6,280.0L455.4,287.0L447.8,287.0ZM455.8,278.2L459.6,285.2L452.0,285.2ZM460.1,276.8L463.9,283.8L456.3,283.8ZM464.3,276.2L468.1,283.2L460.5,283.2ZM468.6,272.9L472.4,279.9L464.8,279.9ZM472.8,272.7L476.6,279.7L469.0,279.7ZM477.1,271.0L480.9,278.0L473.3,278.0ZM481.3,269.4L485.1,276.4L477.5,276.4ZM485.5,268.0L489.3,275.0L481.7,275.0ZM489.8,266.5L493.6,273.5L486.0,273.5ZM494.0,265.1L497.8,272.1L490.2,272.1ZM498.3,263.0L502.1,270.0L494.5,270.0ZM502.5,262.1L506.3,269.1L498.7,269.1ZM506.8,261.0L510.6,268.0L503.0,268.0ZM511.0,259.6L514.8,266.6L507.2,266.6ZM515.3,259.4L519.1,266.4L511.5,266.4ZM519.5,258.1L523.3,265.1L515.7,265.1ZM523.8,256.6L527.6,263.6L520.0,263.6ZM528.0,255.2L531.8,262.2L524.2,262.2ZM532.3,254.9L536.1,261.9L528.5,261.9ZM536.5,253.0L540.3,260.0L532.7,260.0ZM540.7,253.2L544.5,260.2L536.9,260.2ZM545.0,252.6L548.8,259.6L541.2,259.6ZM549.2,252.5L553.0,259.5L545.4,259.5ZM553.5,251.0L557.3,258.0L549.7,258.0ZM557.7,251.3L561.5,258.3L553.9,258.3ZM562.0,248.7L565.8,255.7L558.2,255.7ZM566.2,245.7L570.0,252.7L562.4,252.7ZM570.5,243.4L574.3,250.4L566.7,250.4ZM574.7,240.0L578.5,247.0L570.9,247.0ZM579.0,236.7L582.8,243.7L575.2,243.7ZM583.2,233.5L587.0,240.5L579.4,240.5ZM587.5,230.4L591.3,237.4L583.7,237.4ZM591.7,227.0L595.5,234.0L587.9,234.0ZM595.9,223.9L599.7,230.9L592.1,230.9ZM600.2,220.2L604.0,227.2L596.4,227.2ZM604.4,216.8L608.2,223.8L600.6,223.8ZM608.7,214.1L612.5,221.1L604.9,221.1ZM612.9,211.1L616.7,218.1L609.1,218.1ZM617.2,207.4L621.0,214.4L613.4,214.4ZM621.4,204.1L625.2,211.1L617.6,211.1ZM625.7,200.8L629.5,207.8L621.9,207.8ZM629.9,197.4L633.7,204.4L626.1,204.4ZM634.2,194.4L638.0,201.4L630.4,201.4ZM638.4,190.3L642.2,197.3L634.6,197.3ZM642.7,188.1L646.5,195.1L638.9,195.1ZM646.9,183.6L650.7,190.6L643.1,190.6ZM651.1,181.2L654.9,188.2L647.3,188.2ZM655.4,177.6L659.2,184.6L651.6,184.6ZM659.6,173.5L663.4,180.5L655.8,180.5ZM663.9,168.9L667.7,175.9L660.1,175.9Z" fill="#0099ff"/>
<path d="M566.2,247.0L570.5,244.8L574.7,242.1L579.0,239.5L583.2,237.1L587.5,234.2L591.7,230.6L595.9,227.5L600.2,223.3L604.4,220.2L608.7,214.2L612.9,210.5L617.2,207.9L621.4,203.1L625.7,200.1L629.9,196.9L634.2,193.3L638.4,188.6L642.7,184.8L646.9,179.9L651.1,175.5L655.4,170.1L659.6,164.7L661.8,2.0" fill="none" stroke="#00f0a0" stroke-width="1.6"/>
<path d="M264.8,355.2L269.0,353.7L273.2,351.2L277.5,349.9L281.7,346.9L286.0,345.9L290.2,343.3L294.5,342.2L298.7,340.3L303.0,337.9L307.2,336.3L311.5,334.2L315.7,331.9L320.0,329.9L324.2,327.8L328.4,326.3L332.7,325.0L336.9,322.5L341.2,320.8L345.4,318.3L349.7,316.8L353.9,315.1L358.2,313.2L362.4,311.1L366.7,309.6L370.9,307.2L375.2,305.1L379.4,303.8L383.6,301.1L387.9,299.6L392.1,297.4L396.4,295.8L400.6,294.5L404.9,292.2L409.1,290.6L413.4,289.0L417.6,287.0L421.9,286.1L426.1,283.9L430.4,283.2L434.6,280.8L438.8,278.8L443.1,277.4L447.3,276.6L451.6,275.0L455.8,272.5L460.1,271.4L464.3,270.2L468.6,267.9L472.8,266.7L477.1,265.9L481.3,264.9L485.5,262.6L489.8,261.0L494.0,259.4L498.3,258.5L502.5,257.2L506.8,256.5L511.0,256.8L515.3,254.7L519.5,253.1L523.8,253.9L528.0,252.5L532.3,251.0L536.5,250.9L540.7,251.4L545.0,250.3L549.2,250.3L553.5,249.7L557.7,249.4L562.0,248.4L566.2,247.0" fill="none" stroke="#00f0a0" stroke-width="1.0"/>
<path d="M413.4,292.6L417.2,285.6L409.6,285.6ZM417.6,290.6L421.4,283.6L413.8,283.6ZM421.9,289.7L425.7,282.7L418.1,282.7ZM426.1,287.5L429.9,280.5L422.3,280.5ZM430.4,286.8L434.2,279.8L426.6,279.8ZM434.6,284.4L438.4,277.4L430.8,277.4ZM438.8,282.4L442.6,275.4L435.0,275.4ZM443.1,281.0L446.9,274.0L439.3,274.0ZM447.3,280.2L451.1,273.2L443.5,273.2ZM451.6,278.6L455.4,271.6L447.8,271.6ZM455.8,276.1L459.6,269.1L452.0,269.1ZM460.1,275.0L463.9,268.0L456.3,268.0ZM464.3,273.8L468.1,266.8L460.5,266.8ZM468.6,271.5L472.4,264.5L464.8,264.5ZM472.8,270.3L476.6,263.3L469.0,263.3ZM477.1,269.5L480.9,262.5L473.3,262.5ZM481.3,268.5L485.1,261.5L477.5,261.5ZM485.5,266.2L489.3,259.2L481.7,259.2ZM489.8,264.6L493.6,257.6L486.0,257.6ZM494.0,263.0L497.8,256.0L490.2,256.0ZM498.3,262.1L502.1,255.1L494.5,255.1ZM502.5,260.8L506.3,253.8L498.7,253.8ZM506.8,260.1L510.6,253.1L503.0,253.1ZM511.0,260.4L514.8,253.4L507.2,253.4ZM515.3,258.3L519.1,251.3L511.5,251.3ZM519.5,256.7L523.3,249.7L515.7,249.7ZM523.8,257.5L527.6,250.5L520.0,250.5ZM528.0,256.1L531.8,249.1L524.2,249.1ZM532.3,254.6L536.1,247.6L528.5,247.6ZM536.5,254.5L540.3,247.5L532.7,247.5ZM540.7,255.0L544.5,248.0L536.9,248.0ZM545.0,253.9L548.8,246.9L541.2,246.9ZM549.2,253.9L553.0,246.9L545.4,246.9ZM553.5,253.3L557.3,246.3L549.7,246.3ZM557.7,253.0L561.5,246.0L553.9,246.0ZM562.0,252.0L565.8,245.0L558.2,245.0ZM566.2,250.6L570.0,243.6L562.4,243.6ZM570.5,248.4L574.3,241.4L566.7,241.4ZM574.7,245.7L578.5,238.7L570.9,238.7ZM579.0,243.1L582.8,236.1L575.2,236.1ZM583.2,240.7L587.0,233.7L579.4,233.7ZM587.5,237.8L591.3,230.8L583.7,230.8ZM591.7,234.2L595.5,227.2L587.9,227.2ZM595.9,231.1L599.7,224.1L592.1,224.1ZM600.2,226.9L604.0,219.9L596.4,219.9ZM604.4,223.8L608.2,216.8L600.6,216.8ZM608.7,217.8L612.5,210.8L604.9,210.8ZM612.9,214.1L616.7,207.1L609.1,207.1ZM617.2,211.5L621.0,204.5L613.4,204.5ZM621.4,206.7L625.2,199.7L617.6,199.7ZM625.7,203.7L629.5,196.7L621.9,196.7ZM629.9,200.5L633.7,193.5L626.1,193.5ZM634.2,196.9L638.0,189.9L630.4,189.9ZM638.4,192.2L642.2,185.2L634.6,185.2ZM642.7,188.4L646.5,181.4L638.9,181.4ZM646.9,183.5L650.7,176.5L643.1,176.5ZM651.1,179.1L654.9,172.1L647.3,172.1ZM655.4,173.7L659.2,166.7L651.6,166.7ZM659.6,168.3L663.4,161.3L655.8,161.3Z" fill="#00ffa0"/>
<path d="M592.3,226.0L596.6,220.1L600.8,216.9L605.1,211.6L609.3,208.2L613.6,204.6L617.8,198.8L622.1,195.0L626.3,191.1L630.5,187.2L634.8,182.5L639.0,178.2L643.3,174.5L647.5,169.6L651.8,163.9L656.0,157.8L657.7,2.0" fill="none" stroke="#66e600" stroke-width="1.6"/>
<path d="M265.4,345.6L269.6,343.3L273.9,341.5L278.1,340.0L282.4,337.4L286.6,335.3L290.9,334.2L295.1,331.7L299.4,329.6L303.6,327.3L307.9,325.5L312.1,323.9L316.3,321.6L320.6,319.3L324.8,317.4L329.1,315.3L333.3,313.4L337.6,312.1L341.8,309.6L346.1,308.1L350.3,306.3L354.6,305.1L358.8,302.6L363.1,300.0L367.3,299.0L371.5,296.3L375.8,294.3L380.0,293.0L384.3,290.3L388.5,288.9L392.8,286.8L397.0,285.1L401.3,283.6L405.5,281.8L409.8,279.5L414.0,277.4L418.2,276.6L422.5,273.8L426.7,273.1L431.0,270.6L435.2,268.8L439.5,267.9L443.7,265.8L448.0,264.7L452.2,262.3L456.5,261.0L460.7,259.5L465.0,257.8L469.2,257.0L473.4,255.6L477.7,253.8L481.9,253.0L486.2,252.2L490.4,251.0L494.7,249.2L498.9,248.9L503.2,247.9L507.4,246.8L511.7,246.4L515.9,244.5L520.2,244.1L524.4,244.9L528.6,244.5L532.9,244.7L537.1,244.6L541.4,244.0L545.6,244.4L549.9,244.7L554.1,244.7L558.4,244.0L562.6,242.6L566.9,241.2L571.1,239.2L575.4,236.9L579.6,235.6L583.8,231.6L588.1,227.5L592.3,226.0" fill="none" stroke="#66e600" stroke-width="1.0"/>
<path d="M414.0,272.6L417.8,277.4L414.0,282.2L410.2,277.4ZM418.2,271.8L422.0,276.6L418.2,281.4L414.4,276.6ZM422.5,269.0L426.3,273.8L422.5,278.6L418.7,273.8ZM426.7,268.3L430.5,273.1L426.7,277.9L422.9,273.1ZM431.0,265.8L434.8,270.6L431.0,275.4L427.2,270.6ZM435.2,264.0L439.0,268.8L435.2,273.6L431.4,268.8ZM439.5,263.1L443.3,267.9L439.5,272.7L435.7,267.9ZM443.7,261.0L447.5,265.8L443.7,270.6L439.9,265.8ZM448.0,259.9L451.8,264.7L448.0,269.5L444.2,264.7ZM452.2,257.5L456.0,262.3L452.2,267.1L448.4,262.3ZM456.5,256.2L460.3,261.0L456.5,265.8L452.7,261.0ZM460.7,254.7L464.5,259.5L460.7,264.3L456.9,259.5ZM465.0,253.0L468.8,257.8L465.0,262.6L461.2,257.8ZM469.2,252.2L473.0,257.0L469.2,261.8L465.4,257.0ZM473.4,250.8L477.2,255.6L473.4,260.4L469.6,255.6ZM477.7,249.0L481.5,253.8L477.7,258.6L473.9,253.8ZM481.9,248.2L485.7,253.0L481.9,257.8L478.1,253.0ZM486.2,247.4L490.0,252.2L486.2,257.0L482.4,252.2ZM490.4,246.2L494.2,251.0L490.4,255.8L486.6,251.0ZM494.7,244.4L498.5,249.2L494.7,254.0L490.9,249.2ZM498.9,244.1L502.7,248.9L498.9,253.7L495.1,248.9ZM503.2,243.1L507.0,247.9L503.2,252.7L499.4,247.9ZM507.4,242.0L511.2,246.8L507.4,251.6L503.6,246.8ZM511.7,241.6L515.5,246.4L511.7,251.2L507.9,246.4ZM515.9,239.7L519.7,244.5L515.9,249.3L512.1,244.5ZM520.2,239.3L524.0,244.1L520.2,248.9L516.4,244.1ZM524.4,240.1L528.2,244.9L524.4,249.7L520.6,244.9ZM528.6,239.7L532.4,244.5L528.6,249.3L524.8,244.5ZM532.9,239.9L536.7,244.7L532.9,249.5L529.1,244.7ZM537.1,239.8L540.9,244.6L537.1,249.4L533.3,244.6ZM541.4,239.2L545.2,244.0L541.4,248.8L537.6,244.0ZM545.6,239.6L549.4,244.4L545.6,249.2L541.8,244.4ZM549.9,239.9L553.7,244.7L549.9,249.5L546.1,244.7ZM554.1,239.9L557.9,244.7L554.1,249.5L550.3,244.7ZM558.4,239.2L562.2,244.0L558.4,248.8L554.6,244.0ZM562.6,237.8L566.4,242.6L562.6,247.4L558.8,242.6ZM566.9,236.4L570.7,241.2L566.9,246.0L563.1,241.2ZM571.1,234.4L574.9,239.2L571.1,244.0L567.3,239.2ZM575.4,232.1L579.2,236.9L575.4,241.7L571.6,236.9ZM579.6,230.8L583.4,235.6L579.6,240.4L575.8,235.6ZM583.8,226.8L587.6,231.6L583.8,236.4L580.0,231.6ZM588.1,222.7L591.9,227.5L588.1,232.3L584.3,227.5ZM592.3,221.2L596.1,226.0L592.3,230.8L588.5,226.0ZM596.6,215.3L600.4,220.1L596.6,224.9L592.8,220.1ZM600.8,212.1L604.6,216.9L600.8,221.7L597.0,216.9ZM605.1,206.8L608.9,211.6L605.1,216.4L601.3,211.6ZM609.3,203.4L613.1,208.2L609.3,213.0L605.5,208.2ZM613.6,199.8L617.4,204.6L613.6,209.4L609.8,204.6ZM617.8,194.0L621.6,198.8L617.8,203.6L614.0,198.8ZM622.1,190.2L625.9,195.0L622.1,199.8L618.3,195.0ZM626.3,186.3L630.1,191.1L626.3,195.9L622.5,191.1ZM630.5,182.4L634.3,187.2L630.5,192.0L626.7,187.2ZM634.8,177.7L638.6,182.5L634.8,187.3L631.0,182.5ZM639.0,173.4L642.8,178.2L639.0,183.0L635.2,178.2ZM643.3,169.7L647.1,174.5L643.3,179.3L639.5,174.5ZM647.5,164.8L651.3,169.6L647.5,174.4L643.7,169.6ZM651.8,159.1L655.6,163.9L651.8,168.7L648.0,163.9ZM656.0,153.0L659.8,157.8L656.0,162.6L652.2,157.8Z" fill="#6aff00"/>
<path d="M575.4,228.7L579.6,225.3L583.8,222.2L588.1,218.6L592.3,215.7L596.6,210.8L600.8,207.5L605.1,202.5L609.3,198.6L613.6,194.2L617.8,190.1L622.1,186.4L626.3,181.4L630.5,177.4L634.8,172.5L639.0,167.6L643.3,163.4L647.5,158.2L651.8,153.3L653.5,2.0" fill="none" stroke="#ccee00" stroke-width="1.6"/>
<path d="M265.4,340.4L269.6,337.9L273.9,336.6L278.1,333.9L282.4,332.0L286.6,330.5L290.9,327.9L295.1,326.2L299.4,324.2L303.6,321.5L307.9,320.0L312.1,317.5L316.3,315.8L320.6,313.7L324.8,311.2L329.1,309.2L333.3,308.2L337.6,305.4L341.8,303.1L346.1,300.9L350.3,299.3L354.6,297.7L358.8,295.5L363.1,293.6L367.3,291.8L371.5,289.6L375.8,288.3L380.0,285.7L384.3,283.7L388.5,281.4L392.8,280.4L397.0,278.4L401.3,276.5L405.5,275.6L409.8,272.1L414.0,271.1L418.2,269.2L422.5,267.3L426.7,264.7L431.0,263.3L435.2,261.4L439.5,259.6L443.7,258.3L448.0,256.7L452.2,254.9L456.5,253.0L460.7,251.0L465.0,249.3L469.2,248.2L473.4,246.8L477.7,244.9L481.9,243.7L486.2,242.9L490.4,241.5L494.7,239.8L498.9,240.0L503.2,237.8L507.4,237.7L511.7,237.3L515.9,236.2L520.2,236.6L524.4,236.2L528.6,235.4L532.9,235.8L537.1,235.1L541.4,235.5L545.6,234.5L549.9,235.2L554.1,234.1L558.4,234.9L562.6,233.7L566.9,232.7L571.1,229.3L575.4,228.7" fill="none" stroke="#ccee00" stroke-width="1.0"/>
<path d="M410.4,271.1L417.4,267.3L417.4,274.9ZM414.6,269.2L421.6,265.4L421.6,273.0ZM418.9,267.3L425.9,263.5L425.9,271.1ZM423.1,264.7L430.1,260.9L430.1,268.5ZM427.4,263.3L434.4,259.5L434.4,267.1ZM431.6,261.4L438.6,257.6L438.6,265.2ZM435.9,259.6L442.9,255.8L442.9,263.4ZM440.1,258.3L447.1,254.5L447.1,262.1ZM444.4,256.7L451.4,252.9L451.4,260.5ZM448.6,254.9L455.6,251.1L455.6,258.7ZM452.9,253.0L459.9,249.2L459.9,256.8ZM457.1,251.0L464.1,247.2L464.1,254.8ZM461.4,249.3L468.4,245.5L468.4,253.1ZM465.6,248.2L472.6,244.4L472.6,252.0ZM469.8,246.8L476.8,243.0L476.8,250.6ZM474.1,244.9L481.1,241.1L481.1,248.7ZM478.3,243.7L485.3,239.9L485.3,247.5ZM482.6,242.9L489.6,239.1L489.6,246.7ZM486.8,241.5L493.8,237.7L493.8,245.3ZM491.1,239.8L498.1,236.0L498.1,243.6ZM495.3,240.0L502.3,236.2L502.3,243.8ZM499.6,237.8L506.6,234.0L506.6,241.6ZM503.8,237.7L510.8,233.9L510.8,241.5ZM508.1,237.3L515.1,233.5L515.1,241.1ZM512.3,236.2L519.3,232.4L519.3,240.0ZM516.6,236.6L523.6,232.8L523.6,240.4ZM520.8,236.2L527.8,232.4L527.8,240.0ZM525.0,235.4L532.0,231.6L532.0,239.2ZM529.3,235.8L536.3,232.0L536.3,239.6ZM533.5,235.1L540.5,231.3L540.5,238.9ZM537.8,235.5L544.8,231.7L544.8,239.3ZM542.0,234.5L549.0,230.7L549.0,238.3ZM546.3,235.2L553.3,231.4L553.3,239.0ZM550.5,234.1L557.5,230.3L557.5,237.9ZM554.8,234.9L561.8,231.1L561.8,238.7ZM559.0,233.7L566.0,229.9L566.0,237.5ZM563.3,232.7L570.3,228.9L570.3,236.5ZM567.5,229.3L574.5,225.5L574.5,233.1ZM571.8,228.7L578.8,224.9L578.8,232.5ZM576.0,225.3L583.0,221.5L583.0,229.1ZM580.2,222.2L587.2,218.4L587.2,226.0ZM584.5,218.6L591.5,214.8L591.5,222.4ZM588.7,215.7L595.7,211.9L595.7,219.5ZM593.0,210.8L600.0,207.0L600.0,214.6ZM597.2,207.5L604.2,203.7L604.2,211.3ZM601.5,202.5L608.5,198.7L608.5,206.3ZM605.7,198.6L612.7,194.8L612.7,202.4ZM610.0,194.2L617.0,190.4L617.0,198.0ZM614.2,190.1L621.2,186.3L621.2,193.9ZM618.5,186.4L625.5,182.6L625.5,190.2ZM622.7,181.4L629.7,177.6L629.7,185.2ZM626.9,177.4L633.9,173.6L633.9,181.2ZM631.2,172.5L638.2,168.7L638.2,176.3ZM635.4,167.6L642.4,163.8L642.4,171.4ZM639.7,163.4L646.7,159.6L646.7,167.2ZM643.9,158.2L650.9,154.4L650.9,162.0ZM648.2,153.3L655.2,149.5L655.2,157.1Z" fill="#d4ff00"/>
<path d="M578.5,220.5L582.8,215.2L587.0,211.1L591.3,206.9L595.5,202.9L599.8,196.4L604.0,193.2L608.3,188.0L612.5,183.8L616.7,180.5L621.0,176.1L625.2,172.7L629.5,168.2L633.7,164.0L638.0,159.3L642.2,154.7L646.5,149.6L649.5,2.0" fill="none" stroke="#ffc000" stroke-width="1.6"/>
<path d="M268.6,332.8L272.8,330.8L277.1,329.3L281.3,327.0L285.6,324.7L289.8,322.6L294.1,320.4L298.3,318.3L302.5,317.2L306.8,314.4L311.0,312.2L315.3,310.0L319.5,308.1L323.8,306.3L328.0,304.8L332.3,302.0L336.5,300.6L340.8,298.3L345.0,296.4L349.3,293.7L353.5,292.9L357.7,290.1L362.0,288.1L366.2,285.9L370.5,283.9L374.7,282.0L379.0,279.9L383.2,278.2L387.5,275.6L391.7,274.0L396.0,271.3L400.2,269.8L404.4,267.6L408.7,265.8L412.9,263.1L417.2,261.4L421.4,259.3L425.7,257.4L429.9,256.4L434.2,253.6L438.4,251.8L442.7,250.3L446.9,248.8L451.2,246.2L455.4,245.8L459.6,244.1L463.9,242.1L468.1,239.6L472.4,238.6L476.6,237.7L480.9,235.8L485.1,234.0L489.4,232.9L493.6,232.9L497.9,230.9L502.1,228.5L506.4,228.0L510.6,226.8L514.8,226.9L519.1,226.7L523.3,226.4L527.6,226.2L531.8,224.7L536.1,223.9L540.3,224.5L544.6,223.1L548.8,224.0L553.1,224.1L557.3,224.8L561.6,225.9L565.8,223.9L570.0,223.2L574.3,221.6L578.5,220.5" fill="none" stroke="#ffc000" stroke-width="1.0"/>
<path d="M416.5,263.1L409.5,259.3L409.5,266.9ZM420.8,261.4L413.8,257.6L413.8,265.2ZM425.0,259.3L418.0,255.5L418.0,263.1ZM429.3,257.4L422.3,253.6L422.3,261.2ZM433.5,256.4L426.5,252.6L426.5,260.2ZM437.8,253.6L430.8,249.8L430.8,257.4ZM442.0,251.8L435.0,248.0L435.0,255.6ZM446.3,250.3L439.3,246.5L439.3,254.1ZM450.5,248.8L443.5,245.0L443.5,252.6ZM454.8,246.2L447.8,242.4L447.8,250.0ZM459.0,245.8L452.0,242.0L452.0,249.6ZM463.2,244.1L456.2,240.3L456.2,247.9ZM467.5,242.1L460.5,238.3L460.5,245.9ZM471.7,239.6L464.7,235.8L464.7,243.4ZM476.0,238.6L469.0,234.8L469.0,242.4ZM480.2,237.7L473.2,233.9L473.2,241.5ZM484.5,235.8L477.5,232.0L477.5,239.6ZM488.7,234.0L481.7,230.2L481.7,237.8ZM493.0,232.9L486.0,229.1L486.0,236.7ZM497.2,232.9L490.2,229.1L490.2,236.7ZM501.5,230.9L494.5,227.1L494.5,234.7ZM505.7,228.5L498.7,224.7L498.7,232.3ZM510.0,228.0L503.0,224.2L503.0,231.8ZM514.2,226.8L507.2,223.0L507.2,230.6ZM518.4,226.9L511.4,223.1L511.4,230.7ZM522.7,226.7L515.7,222.9L515.7,230.5ZM526.9,226.4L519.9,222.6L519.9,230.2ZM531.2,226.2L524.2,222.4L524.2,230.0ZM535.4,224.7L528.4,220.9L528.4,228.5ZM539.7,223.9L532.7,220.1L532.7,227.7ZM543.9,224.5L536.9,220.7L536.9,228.3ZM548.2,223.1L541.2,219.3L541.2,226.9ZM552.4,224.0L545.4,220.2L545.4,227.8ZM556.7,224.1L549.7,220.3L549.7,227.9ZM560.9,224.8L553.9,221.0L553.9,228.6ZM565.2,225.9L558.2,222.1L558.2,229.7ZM569.4,223.9L562.4,220.1L562.4,227.7ZM573.6,223.2L566.6,219.4L566.6,227.0ZM577.9,221.6L570.9,217.8L570.9,225.4ZM582.1,220.5L575.1,216.7L575.1,224.3ZM586.4,215.2L579.4,211.4L579.4,219.0ZM590.6,211.1L583.6,207.3L583.6,214.9ZM594.9,206.9L587.9,203.1L587.9,210.7ZM599.1,202.9L592.1,199.1L592.1,206.7ZM603.4,196.4L596.4,192.6L596.4,200.2ZM607.6,193.2L600.6,189.4L600.6,197.0ZM611.9,188.0L604.9,184.2L604.9,191.8ZM616.1,183.8L609.1,180.0L609.1,187.6ZM620.3,180.5L613.3,176.7L613.3,184.3ZM624.6,176.1L617.6,172.3L617.6,179.9ZM628.8,172.7L621.8,168.9L621.8,176.5ZM633.1,168.2L626.1,164.4L626.1,172.0ZM637.3,164.0L630.3,160.2L630.3,167.8ZM641.6,159.3L634.6,155.5L634.6,163.1ZM645.8,154.7L638.8,150.9L638.8,158.5ZM650.1,149.6L643.1,145.8L643.1,153.4Z" fill="#ffc000"/>
<path d="M572.2,216.4L576.4,213.8L580.7,211.0L584.9,208.2L589.2,202.4L593.4,195.9L597.6,191.0L601.9,185.4L606.1,181.3L610.4,177.8L614.6,173.6L618.9,169.8L623.1,166.2L627.4,162.4L631.6,158.8L635.9,154.7L640.1,150.0L645.2,2.0" fill="none" stroke="#ff6000" stroke-width="1.6"/>
<path d="M266.5,328.4L270.7,326.4L274.9,324.3L279.2,321.8L283.4,320.7L287.7,317.9L291.9,315.8L296.2,313.4L300.4,311.7L304.7,309.5L308.9,306.8L313.2,305.2L317.4,302.8L321.7,300.8L325.9,298.7L330.1,296.6L334.4,294.1L338.6,291.8L342.9,290.1L347.1,288.1L351.4,286.3L355.6,283.8L359.9,281.7L364.1,279.8L368.4,278.6L372.6,276.1L376.9,274.1L381.1,272.0L385.3,271.2L389.6,267.8L393.8,266.1L398.1,264.2L402.3,262.1L406.6,260.6L410.8,258.8L415.1,256.6L419.3,255.2L423.6,252.6L427.8,250.7L432.0,248.3L436.3,246.4L440.5,244.4L444.8,242.2L449.0,240.4L453.3,238.9L457.5,236.6L461.8,235.5L466.0,232.1L470.3,231.4L474.5,229.9L478.8,228.5L483.0,226.1L487.2,225.2L491.5,223.8L495.7,223.4L500.0,221.3L504.2,220.9L508.5,219.5L512.7,219.1L517.0,217.1L521.2,218.5L525.5,217.0L529.7,216.3L534.0,215.5L538.2,215.8L542.4,215.4L546.7,214.9L550.9,214.5L555.2,214.9L559.4,214.6L563.7,215.6L567.9,216.9L572.2,216.4" fill="none" stroke="#ff6000" stroke-width="1.0"/>
<path d="M418.9,256.6L417.0,259.9L413.2,259.9L411.3,256.6L413.2,253.3L417.0,253.3ZM423.1,255.2L421.2,258.5L417.4,258.5L415.5,255.2L417.4,251.9L421.2,251.9ZM427.4,252.6L425.5,255.8L421.7,255.8L419.8,252.6L421.7,249.3L425.5,249.3ZM431.6,250.7L429.7,254.0L425.9,254.0L424.0,250.7L425.9,247.4L429.7,247.4ZM435.8,248.3L433.9,251.6L430.1,251.6L428.2,248.3L430.1,245.1L433.9,245.1ZM440.1,246.4L438.2,249.7L434.4,249.7L432.5,246.4L434.4,243.1L438.2,243.1ZM444.3,244.4L442.4,247.7L438.6,247.7L436.7,244.4L438.6,241.1L442.4,241.1ZM448.6,242.2L446.7,245.5L442.9,245.5L441.0,242.2L442.9,239.0L446.7,239.0ZM452.8,240.4L450.9,243.7L447.1,243.7L445.2,240.4L447.1,237.1L450.9,237.1ZM457.1,238.9L455.2,242.2L451.4,242.2L449.5,238.9L451.4,235.6L455.2,235.6ZM461.3,236.6L459.4,239.9L455.6,239.9L453.7,236.6L455.6,233.3L459.4,233.3ZM465.6,235.5L463.7,238.8L459.9,238.8L458.0,235.5L459.9,232.2L463.7,232.2ZM469.8,232.1L467.9,235.4L464.1,235.4L462.2,232.1L464.1,228.8L467.9,228.8ZM474.1,231.4L472.2,234.7L468.4,234.7L466.5,231.4L468.4,228.1L472.2,228.1ZM478.3,229.9L476.4,233.1L472.6,233.1L470.7,229.9L472.6,226.6L476.4,226.6ZM482.6,228.5L480.7,231.8L476.9,231.8L475.0,228.5L476.9,225.2L480.7,225.2ZM486.8,226.1L484.9,229.4L481.1,229.4L479.2,226.1L481.1,222.8L484.9,222.8ZM491.0,225.2L489.1,228.5L485.3,228.5L483.4,225.2L485.3,222.0L489.1,222.0ZM495.3,223.8L493.4,227.1L489.6,227.1L487.7,223.8L489.6,220.5L493.4,220.5ZM499.5,223.4L497.6,226.6L493.8,226.6L491.9,223.4L493.8,220.1L497.6,220.1ZM503.8,221.3L501.9,224.6L498.1,224.6L496.2,221.3L498.1,218.1L501.9,218.1ZM508.0,220.9L506.1,224.2L502.3,224.2L500.4,220.9L502.3,217.6L506.1,217.6ZM512.3,219.5L510.4,222.8L506.6,222.8L504.7,219.5L506.6,216.2L510.4,216.2ZM516.5,219.1L514.6,222.4L510.8,222.4L508.9,219.1L510.8,215.8L514.6,215.8ZM520.8,217.1L518.9,220.4L515.1,220.4L513.2,217.1L515.1,213.8L518.9,213.8ZM525.0,218.5L523.1,221.8L519.3,221.8L517.4,218.5L519.3,215.2L523.1,215.2ZM529.3,217.0L527.4,220.3L523.6,220.3L521.7,217.0L523.6,213.7L527.4,213.7ZM533.5,216.3L531.6,219.6L527.8,219.6L525.9,216.3L527.8,213.0L531.6,213.0ZM537.8,215.5L535.9,218.8L532.1,218.8L530.2,215.5L532.1,212.3L535.9,212.3ZM542.0,215.8L540.1,219.1L536.3,219.1L534.4,215.8L536.3,212.6L540.1,212.6ZM546.2,215.4L544.3,218.7L540.5,218.7L538.6,215.4L540.5,212.1L544.3,212.1ZM550.5,214.9L548.6,218.2L544.8,218.2L542.9,214.9L544.8,211.6L548.6,211.6ZM554.7,214.5L552.8,217.8L549.0,217.8L547.1,214.5L549.0,211.2L552.8,211.2ZM559.0,214.9L557.1,218.2L553.3,218.2L551.4,214.9L553.3,211.6L557.1,211.6ZM563.2,214.6L561.3,217.9L557.5,217.9L555.6,214.6L557.5,211.3L561.3,211.3ZM567.5,215.6L565.6,218.9L561.8,218.9L559.9,215.6L561.8,212.3L565.6,212.3ZM571.7,216.9L569.8,220.2L566.0,220.2L564.1,216.9L566.0,213.6L569.8,213.6ZM576.0,216.4L574.1,219.7L570.3,219.7L568.4,216.4L570.3,213.1L574.1,213.1ZM580.2,213.8L578.3,217.1L574.5,217.1L572.6,213.8L574.5,210.5L578.3,210.5ZM584.5,211.0L582.6,214.3L578.8,214.3L576.9,211.0L578.8,207.7L582.6,207.7ZM588.7,208.2L586.8,211.5L583.0,211.5L581.1,208.2L583.0,204.9L586.8,204.9ZM593.0,202.4L591.1,205.7L587.3,205.7L585.4,202.4L587.3,199.1L591.1,199.1ZM597.2,195.9L595.3,199.2L591.5,199.2L589.6,195.9L591.5,192.6L595.3,192.6ZM601.4,191.0L599.5,194.3L595.7,194.3L593.8,191.0L595.7,187.7L599.5,187.7ZM605.7,185.4L603.8,188.7L600.0,188.7L598.1,185.4L600.0,182.1L603.8,182.1ZM609.9,181.3L608.0,184.6L604.2,184.6L602.3,181.3L604.2,178.0L608.0,178.0ZM614.2,177.8L612.3,181.1L608.5,181.1L606.6,177.8L608.5,174.5L612.3,174.5ZM618.4,173.6L616.5,176.9L612.7,176.9L610.8,173.6L612.7,170.3L616.5,170.3ZM622.7,169.8L620.8,173.1L617.0,173.1L615.1,169.8L617.0,166.5L620.8,166.5ZM626.9,166.2L625.0,169.4L621.2,169.4L619.3,166.2L621.2,162.9L625.0,162.9ZM631.2,162.4L629.3,165.7L625.5,165.7L623.6,162.4L625.5,159.1L629.3,159.1ZM635.4,158.8L633.5,162.1L629.7,162.1L627.8,158.8L629.7,155.5L633.5,155.5ZM639.7,154.7L637.8,158.0L634.0,158.0L632.1,154.7L634.0,151.4L637.8,151.4ZM643.9,150.0L642.0,153.3L638.2,153.3L636.3,150.0L638.2,146.7L642.0,146.7Z" fill="#ff5500"/>
<path d="M581.9,205.8L586.2,202.8L590.4,199.3L594.7,195.1L598.9,189.3L603.2,185.5L607.4,179.6L611.7,176.6L615.9,170.6L620.1,166.3L624.4,160.5L628.6,154.5L632.9,135.1L635.1,2.0" fill="none" stroke="#ff0000" stroke-width="1.6"/>
<path d="M267.7,324.2L272.0,321.8L276.2,319.9L280.5,317.5L284.7,315.4L289.0,313.2L293.2,311.6L297.5,308.6L301.7,306.1L305.9,304.5L310.2,302.9L314.4,300.6L318.7,297.8L322.9,296.9L327.2,294.9L331.4,292.7L335.7,290.0L339.9,288.1L344.2,286.6L348.4,284.5L352.6,281.8L356.9,279.8L361.1,278.0L365.4,275.9L369.6,273.3L373.9,271.1L378.1,269.0L382.4,267.9L386.6,264.1L390.9,263.3L395.1,260.8L399.4,259.1L403.6,256.5L407.8,255.0L412.1,253.4L416.3,251.1L420.6,248.8L424.8,246.8L429.1,243.4L433.3,242.6L437.6,241.1L441.8,239.0L446.1,236.6L450.3,235.5L454.6,232.5L458.8,230.8L463.0,229.0L467.3,226.3L471.5,225.9L475.8,222.3L480.0,221.6L484.3,221.3L488.5,218.4L492.8,217.0L497.0,216.5L501.3,213.5L505.5,214.3L509.8,211.8L514.0,210.8L518.2,209.5L522.5,208.8L526.7,207.4L531.0,206.7L535.2,205.3L539.5,204.8L543.7,204.1L548.0,204.1L552.2,203.4L556.5,204.4L560.7,204.8L564.9,206.2L569.2,207.4L573.4,208.2L577.7,207.2L581.9,205.8" fill="none" stroke="#ff0000" stroke-width="1.0"/>
<path d="M412.1,248.6L413.3,251.7L416.7,251.9L414.1,254.1L414.9,257.3L412.1,255.5L409.3,257.3L410.1,254.1L407.5,251.9L410.9,251.7ZM416.3,246.3L417.6,249.4L420.9,249.6L418.3,251.7L419.2,255.0L416.3,253.2L413.5,255.0L414.3,251.7L411.8,249.6L415.1,249.4ZM420.6,244.0L421.8,247.1L425.1,247.3L422.6,249.4L423.4,252.7L420.6,250.9L417.8,252.7L418.6,249.4L416.0,247.3L419.4,247.1ZM424.8,242.0L426.1,245.1L429.4,245.3L426.8,247.5L427.7,250.7L424.8,248.9L422.0,250.7L422.8,247.5L420.3,245.3L423.6,245.1ZM429.1,238.6L430.3,241.7L433.6,241.9L431.1,244.0L431.9,247.3L429.1,245.5L426.3,247.3L427.1,244.0L424.5,241.9L427.8,241.7ZM433.3,237.8L434.6,240.9L437.9,241.1L435.3,243.2L436.1,246.5L433.3,244.7L430.5,246.5L431.3,243.2L428.8,241.1L432.1,240.9ZM437.6,236.3L438.8,239.4L442.1,239.6L439.6,241.8L440.4,245.0L437.6,243.2L434.7,245.0L435.6,241.8L433.0,239.6L436.3,239.4ZM441.8,234.2L443.0,237.3L446.4,237.5L443.8,239.7L444.6,242.9L441.8,241.1L439.0,242.9L439.8,239.7L437.2,237.5L440.6,237.3ZM446.1,231.8L447.3,234.9L450.6,235.1L448.1,237.2L448.9,240.5L446.1,238.7L443.2,240.5L444.1,237.2L441.5,235.1L444.8,234.9ZM450.3,230.7L451.5,233.8L454.9,234.0L452.3,236.1L453.1,239.4L450.3,237.6L447.5,239.4L448.3,236.1L445.7,234.0L449.1,233.8ZM454.6,227.7L455.8,230.8L459.1,231.0L456.5,233.2L457.4,236.4L454.6,234.6L451.7,236.4L452.6,233.2L450.0,231.0L453.3,230.8ZM458.8,226.0L460.0,229.1L463.4,229.3L460.8,231.5L461.6,234.7L458.8,232.9L456.0,234.7L456.8,231.5L454.2,229.3L457.6,229.1ZM463.0,224.2L464.3,227.3L467.6,227.6L465.0,229.7L465.9,232.9L463.0,231.1L460.2,232.9L461.0,229.7L458.5,227.6L461.8,227.3ZM467.3,221.5L468.5,224.6L471.9,224.8L469.3,227.0L470.1,230.2L467.3,228.4L464.5,230.2L465.3,227.0L462.7,224.8L466.1,224.6ZM471.5,221.1L472.8,224.2L476.1,224.4L473.5,226.5L474.4,229.8L471.5,228.0L468.7,229.8L469.5,226.5L467.0,224.4L470.3,224.2ZM475.8,217.5L477.0,220.6L480.3,220.8L477.8,223.0L478.6,226.2L475.8,224.4L473.0,226.2L473.8,223.0L471.2,220.8L474.5,220.6ZM480.0,216.8L481.3,219.9L484.6,220.1L482.0,222.3L482.8,225.5L480.0,223.7L477.2,225.5L478.0,222.3L475.5,220.1L478.8,219.9ZM484.3,216.5L485.5,219.6L488.8,219.8L486.3,222.0L487.1,225.2L484.3,223.4L481.5,225.2L482.3,222.0L479.7,219.8L483.0,219.6ZM488.5,213.6L489.8,216.7L493.1,216.9L490.5,219.0L491.3,222.3L488.5,220.5L485.7,222.3L486.5,219.0L484.0,216.9L487.3,216.7ZM492.8,212.2L494.0,215.3L497.3,215.6L494.8,217.7L495.6,220.9L492.8,219.1L489.9,220.9L490.8,217.7L488.2,215.6L491.5,215.3ZM497.0,211.7L498.2,214.8L501.6,215.0L499.0,217.1L499.8,220.3L497.0,218.6L494.2,220.3L495.0,217.1L492.4,215.0L495.8,214.8ZM501.3,208.7L502.5,211.8L505.8,212.1L503.3,214.2L504.1,217.4L501.3,215.6L498.4,217.4L499.3,214.2L496.7,212.1L500.0,211.8ZM505.5,209.5L506.7,212.6L510.1,212.8L507.5,215.0L508.3,218.2L505.5,216.4L502.7,218.2L503.5,215.0L500.9,212.8L504.3,212.6ZM509.8,207.0L511.0,210.1L514.3,210.3L511.7,212.5L512.6,215.7L509.8,213.9L506.9,215.7L507.8,212.5L505.2,210.3L508.5,210.1ZM514.0,206.0L515.2,209.1L518.6,209.3L516.0,211.5L516.8,214.7L514.0,212.9L511.2,214.7L512.0,211.5L509.4,209.3L512.8,209.1ZM518.2,204.7L519.5,207.8L522.8,208.0L520.2,210.2L521.1,213.4L518.2,211.6L515.4,213.4L516.2,210.2L513.7,208.0L517.0,207.8ZM522.5,204.0L523.7,207.1L527.1,207.3L524.5,209.5L525.3,212.7L522.5,210.9L519.7,212.7L520.5,209.5L517.9,207.3L521.3,207.1ZM526.7,202.6L528.0,205.7L531.3,205.9L528.7,208.0L529.6,211.2L526.7,209.5L523.9,211.2L524.7,208.0L522.2,205.9L525.5,205.7ZM531.0,201.9L532.2,205.0L535.5,205.2L533.0,207.3L533.8,210.6L531.0,208.8L528.2,210.6L529.0,207.3L526.4,205.2L529.7,205.0ZM535.2,200.5L536.5,203.6L539.8,203.8L537.2,205.9L538.0,209.2L535.2,207.4L532.4,209.2L533.2,205.9L530.7,203.8L534.0,203.6ZM539.5,200.0L540.7,203.1L544.0,203.4L541.5,205.5L542.3,208.7L539.5,206.9L536.7,208.7L537.5,205.5L534.9,203.4L538.2,203.1ZM543.7,199.3L545.0,202.4L548.3,202.6L545.7,204.7L546.5,207.9L543.7,206.2L540.9,207.9L541.7,204.7L539.2,202.6L542.5,202.4ZM548.0,199.3L549.2,202.4L552.5,202.6L550.0,204.7L550.8,208.0L548.0,206.2L545.1,208.0L546.0,204.7L543.4,202.6L546.7,202.4ZM552.2,198.6L553.4,201.7L556.8,201.9L554.2,204.0L555.0,207.3L552.2,205.5L549.4,207.3L550.2,204.0L547.6,201.9L551.0,201.7ZM556.5,199.6L557.7,202.7L561.0,202.9L558.5,205.0L559.3,208.3L556.5,206.5L553.6,208.3L554.5,205.0L551.9,202.9L555.2,202.7ZM560.7,200.0L561.9,203.1L565.3,203.3L562.7,205.4L563.5,208.7L560.7,206.9L557.9,208.7L558.7,205.4L556.1,203.3L559.5,203.1ZM564.9,201.4L566.2,204.5L569.5,204.7L566.9,206.9L567.8,210.1L564.9,208.3L562.1,210.1L563.0,206.9L560.4,204.7L563.7,204.5ZM569.2,202.6L570.4,205.7L573.8,205.9L571.2,208.1L572.0,211.3L569.2,209.5L566.4,211.3L567.2,208.1L564.6,205.9L568.0,205.7ZM573.4,203.4L574.7,206.5L578.0,206.7L575.4,208.8L576.3,212.1L573.4,210.3L570.6,212.1L571.4,208.8L568.9,206.7L572.2,206.5ZM577.7,202.4L578.9,205.5L582.3,205.7L579.7,207.9L580.5,211.1L577.7,209.3L574.9,211.1L575.7,207.9L573.1,205.7L576.5,205.5ZM581.9,201.0L583.2,204.1L586.5,204.3L583.9,206.4L584.8,209.6L581.9,207.9L579.1,209.6L579.9,206.4L577.4,204.3L580.7,204.1ZM586.2,198.0L587.4,201.1L590.7,201.3L588.2,203.4L589.0,206.7L586.2,204.9L583.4,206.7L584.2,203.4L581.6,201.3L584.9,201.1ZM590.4,194.5L591.7,197.6L595.0,197.8L592.4,200.0L593.2,203.2L590.4,201.4L587.6,203.2L588.4,200.0L585.9,197.8L589.2,197.6ZM594.7,190.3L595.9,193.4L599.2,193.6L596.7,195.8L597.5,199.0L594.7,197.2L591.8,199.0L592.7,195.8L590.1,193.6L593.4,193.4ZM598.9,184.5L600.2,187.6L603.5,187.8L600.9,190.0L601.7,193.2L598.9,191.4L596.1,193.2L596.9,190.0L594.4,187.8L597.7,187.6ZM603.2,180.7L604.4,183.8L607.7,184.0L605.2,186.2L606.0,189.4L603.2,187.6L600.3,189.4L601.2,186.2L598.6,184.0L601.9,183.8ZM607.4,174.8L608.6,177.9L612.0,178.1L609.4,180.3L610.2,183.5L607.4,181.7L604.6,183.5L605.4,180.3L602.8,178.1L606.2,177.9ZM611.7,171.8L612.9,174.9L616.2,175.1L613.7,177.2L614.5,180.4L611.7,178.7L608.8,180.4L609.7,177.2L607.1,175.1L610.4,174.9ZM615.9,165.8L617.1,168.9L620.5,169.2L617.9,171.3L618.7,174.5L615.9,172.7L613.1,174.5L613.9,171.3L611.3,169.2L614.7,168.9ZM620.1,161.5L621.4,164.6L624.7,164.8L622.1,167.0L623.0,170.2L620.1,168.4L617.3,170.2L618.1,167.0L615.6,164.8L618.9,164.6ZM624.4,155.7L625.6,158.8L629.0,159.0L626.4,161.1L627.2,164.4L624.4,162.6L621.6,164.4L622.4,161.1L619.8,159.0L623.2,158.8ZM628.6,149.7L629.9,152.8L633.2,153.0L630.6,155.1L631.5,158.4L628.6,156.6L625.8,158.4L626.6,155.1L624.1,153.0L627.4,152.8ZM632.9,130.3L634.1,133.4L637.4,133.6L634.9,135.7L635.7,139.0L632.9,137.2L630.1,139.0L630.9,135.7L628.3,133.6L631.7,133.4Z" fill="#ff0000"/>
<path d="M586.2,196.1L590.4,193.2L594.7,190.4L598.9,186.5L603.2,181.2L607.4,176.0L611.7,170.9L615.9,163.0L620.1,155.2L624.4,146.6L628.1,2.0" fill="none" stroke="#ff1010" stroke-width="1.6"/>
<path d="M267.7,318.9L272.0,316.6L276.2,315.0L280.5,312.7L284.7,309.8L289.0,307.8L293.2,306.1L297.5,303.1L301.7,301.3L305.9,299.1L310.2,296.6L314.4,294.6L318.7,292.3L322.9,291.0L327.2,288.0L331.4,286.1L335.7,283.3L339.9,281.4L344.2,279.5L348.4,277.4L352.6,276.0L356.9,273.3L361.1,271.0L365.4,268.6L369.6,266.4L373.9,264.8L378.1,263.0L382.4,260.5L386.6,258.6L390.9,256.0L395.1,254.1L399.4,252.8L403.6,250.4L407.8,247.7L412.1,246.1L416.3,244.2L420.6,241.8L424.8,239.6L429.1,237.8L433.3,235.5L437.6,234.0L441.8,231.0L446.1,229.2L450.3,227.0L454.6,225.3L458.8,223.4L463.0,221.2L467.3,219.7L471.5,217.8L475.8,215.4L480.0,214.8L484.3,213.6L488.5,212.0L492.8,210.1L497.0,208.4L501.3,208.3L505.5,206.1L509.8,204.7L514.0,202.8L518.2,202.2L522.5,199.6L526.7,199.2L531.0,197.9L535.2,198.1L539.5,197.6L543.7,196.3L548.0,197.0L552.2,195.4L556.5,195.7L560.7,195.5L564.9,194.9L569.2,196.0L573.4,196.2L577.7,196.8L581.9,196.1L586.2,196.1" fill="none" stroke="#ff1010" stroke-width="1.0"/>
<path d="M412.1,242.1L415.9,244.9L414.4,249.4L409.7,249.4L408.3,244.9ZM416.3,240.2L420.1,242.9L418.7,247.4L414.0,247.4L412.5,242.9ZM420.6,237.8L424.4,240.6L422.9,245.0L418.2,245.0L416.8,240.6ZM424.8,235.6L428.6,238.4L427.2,242.9L422.5,242.9L421.0,238.4ZM429.1,233.8L432.9,236.5L431.4,241.0L426.7,241.0L425.3,236.5ZM433.3,231.5L437.1,234.3L435.7,238.7L431.0,238.7L429.5,234.3ZM437.6,230.0L441.4,232.7L439.9,237.2L435.2,237.2L433.8,232.7ZM441.8,227.0L445.6,229.8L444.2,234.2L439.5,234.2L438.0,229.8ZM446.1,225.2L449.9,228.0L448.4,232.5L443.7,232.5L442.3,228.0ZM450.3,223.0L454.1,225.8L452.7,230.3L448.0,230.3L446.5,225.8ZM454.6,221.3L458.4,224.0L456.9,228.5L452.2,228.5L450.7,224.0ZM458.8,219.4L462.6,222.2L461.1,226.7L456.4,226.7L455.0,222.2ZM463.0,217.2L466.8,220.0L465.4,224.5L460.7,224.5L459.2,220.0ZM467.3,215.7L471.1,218.5L469.6,223.0L464.9,223.0L463.5,218.5ZM471.5,213.8L475.3,216.5L473.9,221.0L469.2,221.0L467.7,216.5ZM475.8,211.4L479.6,214.1L478.1,218.6L473.4,218.6L472.0,214.1ZM480.0,210.8L483.8,213.6L482.4,218.1L477.7,218.1L476.2,213.6ZM484.3,209.6L488.1,212.3L486.6,216.8L481.9,216.8L480.5,212.3ZM488.5,208.0L492.3,210.8L490.9,215.2L486.2,215.2L484.7,210.8ZM492.8,206.1L496.6,208.8L495.1,213.3L490.4,213.3L489.0,208.8ZM497.0,204.4L500.8,207.2L499.4,211.6L494.7,211.6L493.2,207.2ZM501.3,204.3L505.1,207.1L503.6,211.6L498.9,211.6L497.5,207.1ZM505.5,202.1L509.3,204.9L507.9,209.3L503.2,209.3L501.7,204.9ZM509.8,200.7L513.6,203.4L512.1,207.9L507.4,207.9L505.9,203.4ZM514.0,198.8L517.8,201.5L516.3,206.0L511.6,206.0L510.2,201.5ZM518.2,198.2L522.0,201.0L520.6,205.4L515.9,205.4L514.4,201.0ZM522.5,195.6L526.3,198.4L524.8,202.9L520.1,202.9L518.7,198.4ZM526.7,195.2L530.5,197.9L529.1,202.4L524.4,202.4L522.9,197.9ZM531.0,193.9L534.8,196.7L533.3,201.2L528.6,201.2L527.2,196.7ZM535.2,194.1L539.0,196.9L537.6,201.4L532.9,201.4L531.4,196.9ZM539.5,193.6L543.3,196.3L541.8,200.8L537.1,200.8L535.7,196.3ZM543.7,192.3L547.5,195.1L546.1,199.6L541.4,199.6L539.9,195.1ZM548.0,193.0L551.8,195.7L550.3,200.2L545.6,200.2L544.2,195.7ZM552.2,191.4L556.0,194.2L554.6,198.7L549.9,198.7L548.4,194.2ZM556.5,191.7L560.3,194.5L558.8,198.9L554.1,198.9L552.7,194.5ZM560.7,191.5L564.5,194.3L563.1,198.7L558.4,198.7L556.9,194.3ZM564.9,190.9L568.8,193.6L567.3,198.1L562.6,198.1L561.1,193.6ZM569.2,192.0L573.0,194.8L571.5,199.2L566.8,199.2L565.4,194.8ZM573.4,192.2L577.2,194.9L575.8,199.4L571.1,199.4L569.6,194.9ZM577.7,192.8L581.5,195.6L580.0,200.0L575.3,200.0L573.9,195.6ZM581.9,192.1L585.7,194.8L584.3,199.3L579.6,199.3L578.1,194.8ZM586.2,192.1L590.0,194.8L588.5,199.3L583.8,199.3L582.4,194.8ZM590.4,189.2L594.2,192.0L592.8,196.5L588.1,196.5L586.6,192.0ZM594.7,186.4L598.5,189.2L597.0,193.7L592.3,193.7L590.9,189.2ZM598.9,182.5L602.7,185.3L601.3,189.8L596.6,189.8L595.1,185.3ZM603.2,177.2L607.0,179.9L605.5,184.4L600.8,184.4L599.4,179.9ZM607.4,172.0L611.2,174.8L609.8,179.3L605.1,179.3L603.6,174.8ZM611.7,166.9L615.5,169.6L614.0,174.1L609.3,174.1L607.9,169.6ZM615.9,159.0L619.7,161.8L618.3,166.3L613.5,166.3L612.1,161.8ZM620.1,151.2L624.0,154.0L622.5,158.5L617.8,158.5L616.3,154.0ZM624.4,142.6L628.2,145.4L626.7,149.8L622.0,149.8L620.6,145.4Z" fill="#ff0000"/>
<path d="M586.6,188.8L590.8,187.0L595.1,183.5L599.3,177.5L603.6,174.0L607.8,166.5L612.1,155.8L616.3,135.4L618.1,2.0" fill="none" stroke="#cc1010" stroke-width="1.6"/>
<path d="M268.2,313.9L272.4,311.9L276.6,309.8L280.9,307.1L285.1,304.2L289.4,302.4L293.6,301.1L297.9,298.0L302.1,296.2L306.4,294.6L310.6,292.0L314.9,290.1L319.1,287.4L323.4,284.5L327.6,283.2L331.8,280.6L336.1,278.2L340.3,276.2L344.6,273.6L348.8,271.4L353.1,269.5L357.3,268.0L361.6,265.8L365.8,262.5L370.1,260.4L374.3,259.5L378.5,257.3L382.8,255.1L387.0,252.1L391.3,250.4L395.5,248.7L399.8,246.6L404.0,244.6L408.3,242.6L412.5,240.6L416.8,236.9L421.0,235.2L425.3,233.9L429.5,231.5L433.7,230.1L438.0,227.2L442.2,225.0L446.5,223.3L450.7,221.1L455.0,218.2L459.2,217.0L463.5,214.8L467.7,213.8L472.0,210.9L476.2,208.5L480.5,207.5L484.7,205.5L488.9,203.6L493.2,203.0L497.4,201.1L501.7,198.7L505.9,197.5L510.2,196.2L514.4,193.7L518.7,192.5L522.9,192.3L527.2,191.0L531.4,190.7L535.7,189.1L539.9,189.2L544.1,188.8L548.4,188.7L552.6,188.1L556.9,187.1L561.1,186.4L565.4,187.7L569.6,187.2L573.9,186.5L578.1,186.5L582.4,188.2L586.6,188.8" fill="none" stroke="#cc1010" stroke-width="1.0"/>
<path d="M409.0,240.6a3.5,3.5 0 1,0 7.0,0a3.5,3.5 0 1,0 -7.0,0M413.3,236.9a3.5,3.5 0 1,0 7.0,0a3.5,3.5 0 1,0 -7.0,0M417.5,235.2a3.5,3.5 0 1,0 7.0,0a3.5,3.5 0 1,0 -7.0,0M421.8,233.9a3.5,3.5 0 1,0 7.0,0a3.5,3.5 0 1,0 -7.0,0M426.0,231.5a3.5,3.5 0 1,0 7.0,0a3.5,3.5 0 1,0 -7.0,0M430.2,230.1a3.5,3.5 0 1,0 7.0,0a3.5,3.5 0 1,0 -7.0,0M434.5,227.2a3.5,3.5 0 1,0 7.0,0a3.5,3.5 0 1,0 -7.0,0M438.7,225.0a3.5,3.5 0 1,0 7.0,0a3.5,3.5 0 1,0 -7.0,0M443.0,223.3a3.5,3.5 0 1,0 7.0,0a3.5,3.5 0 1,0 -7.0,0M447.2,221.1a3.5,3.5 0 1,0 7.0,0a3.5,3.5 0 1,0 -7.0,0M451.5,218.2a3.5,3.5 0 1,0 7.0,0a3.5,3.5 0 1,0 -7.0,0M455.7,217.0a3.5,3.5 0 1,0 7.0,0a3.5,3.5 0 1,0 -7.0,0M460.0,214.8a3.5,3.5 0 1,0 7.0,0a3.5,3.5 0 1,0 -7.0,0M464.2,213.8a3.5,3.5 0 1,0 7.0,0a3.5,3.5 0 1,0 -7.0,0M468.5,210.9a3.5,3.5 0 1,0 7.0,0a3.5,3.5 0 1,0 -7.0,0M472.7,208.5a3.5,3.5 0 1,0 7.0,0a3.5,3.5 0 1,0 -7.0,0M477.0,207.5a3.5,3.5 0 1,0 7.0,0a3.5,3.5 0 1,0 -7.0,0M481.2,205.5a3.5,3.5 0 1,0 7.0,0a3.5,3.5 0 1,0 -7.0,0M485.4,203.6a3.5,3.5 0 1,0 7.0,0a3.5,3.5 0 1,0 -7.0,0M489.7,203.0a3.5,3.5 0 1,0 7.0,0a3.5,3.5 0 1,0 -7.0,0M493.9,201.1a3.5,3.5 0 1,0 7.0,0a3.5,3.5 0 1,0 -7.0,0M498.2,198.7a3.5,3.5 0 1,0 7.0,0a3.5,3.5 0 1,0 -7.0,0M502.4,197.5a3.5,3.5 0 1,0 7.0,0a3.5,3.5 0 1,0 -7.0,0M506.7,196.2a3.5,3.5 0 1,0 7.0,0a3.5,3.5 0 1,0 -7.0,0M510.9,193.7a3.5,3.5 0 1,0 7.0,0a3.5,3.5 0 1,0 -7.0,0M515.2,192.5a3.5,3.5 0 1,0 7.0,0a3.5,3.5 0 1,0 -7.0,0M519.4,192.3a3.5,3.5 0 1,0 7.0,0a3.5,3.5 0 1,0 -7.0,0M523.7,191.0a3.5,3.5 0 1,0 7.0,0a3.5,3.5 0 1,0 -7.0,0M527.9,190.7a3.5,3.5 0 1,0 7.0,0a3.5,3.5 0 1,0 -7.0,0M532.2,189.1a3.5,3.5 0 1,0 7.0,0a3.5,3.5 0 1,0 -7.0,0M536.4,189.2a3.5,3.5 0 1,0 7.0,0a3.5,3.5 0 1,0 -7.0,0M540.6,188.8a3.5,3.5 0 1,0 7.0,0a3.5,3.5 0 1,0 -7.0,0M544.9,188.7a3.5,3.5 0 1,0 7.0,0a3.5,3.5 0 1,0 -7.0,0M549.1,188.1a3.5,3.5 0 1,0 7.0,0a3.5,3.5 0 1,0 -7.0,0M553.4,187.1a3.5,3.5 0 1,0 7.0,0a3.5,3.5 0 1,0 -7.0,0M557.6,186.4a3.5,3.5 0 1,0 7.0,0a3.5,3.5 0 1,0 -7.0,0M561.9,187.7a3.5,3.5 0 1,0 7.0,0a3.5,3.5 0 1,0 -7.0,0M566.1,187.2a3.5,3.5 0 1,0 7.0,0a3.5,3.5 0 1,0 -7.0,0M570.4,186.5a3.5,3.5 0 1,0 7.0,0a3.5,3.5 0 1,0 -7.0,0M574.6,186.5a3.5,3.5 0 1,0 7.0,0a3.5,3.5 0 1,0 -7.0,0M578.9,188.2a3.5,3.5 0 1,0 7.0,0a3.5,3.5 0 1,0 -7.0,0M583.1,188.8a3.5,3.5 0 1,0 7.0,0a3.5,3.5 0 1,0 -7.0,0M587.3,187.0a3.5,3.5 0 1,0 7.0,0a3.5,3.5 0 1,0 -7.0,0M591.6,183.5a3.5,3.5 0 1,0 7.0,0a3.5,3.5 0 1,0 -7.0,0M595.8,177.5a3.5,3.5 0 1,0 7.0,0a3.5,3.5 0 1,0 -7.0,0M600.1,174.0a3.5,3.5 0 1,0 7.0,0a3.5,3.5 0 1,0 -7.0,0M604.3,166.5a3.5,3.5 0 1,0 7.0,0a3.5,3.5 0 1,0 -7.0,0M608.6,155.8a3.5,3.5 0 1,0 7.0,0a3.5,3.5 0 1,0 -7.0,0M612.8,135.4a3.5,3.5 0 1,0 7.0,0a3.5,3.5 0 1,0 -7.0,0" fill="#c00000"/>
<path d="M410.6,239.8a0.9,0.9 0 1,0 1.8,0a0.9,0.9 0 1,0 -1.8,0M414.9,236.1a0.9,0.9 0 1,0 1.8,0a0.9,0.9 0 1,0 -1.8,0M419.1,234.4a0.9,0.9 0 1,0 1.8,0a0.9,0.9 0 1,0 -1.8,0M423.4,233.1a0.9,0.9 0 1,0 1.8,0a0.9,0.9 0 1,0 -1.8,0M427.6,230.7a0.9,0.9 0 1,0 1.8,0a0.9,0.9 0 1,0 -1.8,0M431.8,229.3a0.9,0.9 0 1,0 1.8,0a0.9,0.9 0 1,0 -1.8,0M436.1,226.4a0.9,0.9 0 1,0 1.8,0a0.9,0.9 0 1,0 -1.8,0M440.3,224.2a0.9,0.9 0 1,0 1.8,0a0.9,0.9 0 1,0 -1.8,0M444.6,222.5a0.9,0.9 0 1,0 1.8,0a0.9,0.9 0 1,0 -1.8,0M448.8,220.3a0.9,0.9 0 1,0 1.8,0a0.9,0.9 0 1,0 -1.8,0M453.1,217.4a0.9,0.9 0 1,0 1.8,0a0.9,0.9 0 1,0 -1.8,0M457.3,216.2a0.9,0.9 0 1,0 1.8,0a0.9,0.9 0 1,0 -1.8,0M461.6,214.0a0.9,0.9 0 1,0 1.8,0a0.9,0.9 0 1,0 -1.8,0M465.8,213.0a0.9,0.9 0 1,0 1.8,0a0.9,0.9 0 1,0 -1.8,0M470.1,210.1a0.9,0.9 0 1,0 1.8,0a0.9,0.9 0 1,0 -1.8,0M474.3,207.7a0.9,0.9 0 1,0 1.8,0a0.9,0.9 0 1,0 -1.8,0M478.6,206.7a0.9,0.9 0 1,0 1.8,0a0.9,0.9 0 1,0 -1.8,0M482.8,204.7a0.9,0.9 0 1,0 1.8,0a0.9,0.9 0 1,0 -1.8,0M487.0,202.8a0.9,0.9 0 1,0 1.8,0a0.9,0.9 0 1,0 -1.8,0M491.3,202.2a0.9,0.9 0 1,0 1.8,0a0.9,0.9 0 1,0 -1.8,0M495.5,200.3a0.9,0.9 0 1,0 1.8,0a0.9,0.9 0 1,0 -1.8,0M499.8,197.9a0.9,0.9 0 1,0 1.8,0a0.9,0.9 0 1,0 -1.8,0M504.0,196.7a0.9,0.9 0 1,0 1.8,0a0.9,0.9 0 1,0 -1.8,0M508.3,195.4a0.9,0.9 0 1,0 1.8,0a0.9,0.9 0 1,0 -1.8,0M512.5,192.9a0.9,0.9 0 1,0 1.8,0a0.9,0.9 0 1,0 -1.8,0M516.8,191.7a0.9,0.9 0 1,0 1.8,0a0.9,0.9 0 1,0 -1.8,0M521.0,191.5a0.9,0.9 0 1,0 1.8,0a0.9,0.9 0 1,0 -1.8,0M525.3,190.2a0.9,0.9 0 1,0 1.8,0a0.9,0.9 0 1,0 -1.8,0M529.5,189.9a0.9,0.9 0 1,0 1.8,0a0.9,0.9 0 1,0 -1.8,0M533.8,188.3a0.9,0.9 0 1,0 1.8,0a0.9,0.9 0 1,0 -1.8,0M538.0,188.4a0.9,0.9 0 1,0 1.8,0a0.9,0.9 0 1,0 -1.8,0M542.2,188.0a0.9,0.9 0 1,0 1.8,0a0.9,0.9 0 1,0 -1.8,0M546.5,187.9a0.9,0.9 0 1,0 1.8,0a0.9,0.9 0 1,0 -1.8,0M550.7,187.3a0.9,0.9 0 1,0 1.8,0a0.9,0.9 0 1,0 -1.8,0M555.0,186.3a0.9,0.9 0 1,0 1.8,0a0.9,0.9 0 1,0 -1.8,0M559.2,185.6a0.9,0.9 0 1,0 1.8,0a0.9,0.9 0 1,0 -1.8,0M563.5,186.9a0.9,0.9 0 1,0 1.8,0a0.9,0.9 0 1,0 -1.8,0M567.7,186.4a0.9,0.9 0 1,0 1.8,0a0.9,0.9 0 1,0 -1.8,0M572.0,185.7a0.9,0.9 0 1,0 1.8,0a0.9,0.9 0 1,0 -1.8,0M576.2,185.7a0.9,0.9 0 1,0 1.8,0a0.9,0.9 0 1,0 -1.8,0M580.5,187.4a0.9,0.9 0 1,0 1.8,0a0.9,0.9 0 1,0 -1.8,0M584.7,188.0a0.9,0.9 0 1,0 1.8,0a0.9,0.9 0 1,0 -1.8,0M588.9,186.2a0.9,0.9 0 1,0 1.8,0a0.9,0.9 0 1,0 -1.8,0M593.2,182.7a0.9,0.9 0 1,0 1.8,0a0.9,0.9 0 1,0 -1.8,0M597.4,176.7a0.9,0.9 0 1,0 1.8,0a0.9,0.9 0 1,0 -1.8,0M601.7,173.2a0.9,0.9 0 1,0 1.8,0a0.9,0.9 0 1,0 -1.8,0M605.9,165.7a0.9,0.9 0 1,0 1.8,0a0.9,0.9 0 1,0 -1.8,0M610.2,155.0a0.9,0.9 0 1,0 1.8,0a0.9,0.9 0 1,0 -1.8,0M614.4,134.6a0.9,0.9 0 1,0 1.8,0a0.9,0.9 0 1,0 -1.8,0" fill="#ffffff" opacity="0.65"/>
<path d="M595.3,175.5L599.6,171.9L603.8,162.2L608.0,146.9L611.4,2.0" fill="none" stroke="#8b1010" stroke-width="1.6"/>
<path d="M268.4,308.7L272.6,306.6L276.9,304.6L281.1,301.8L285.3,300.2L289.6,297.9L293.8,295.0L298.1,293.1L302.3,291.1L306.6,289.6L310.8,286.5L315.1,284.1L319.3,282.3L323.6,279.8L327.8,277.6L332.1,275.2L336.3,273.5L340.5,271.0L344.8,267.8L349.0,266.1L353.3,264.2L357.5,261.7L361.8,260.0L366.0,257.5L370.3,255.9L374.5,253.0L378.8,251.3L383.0,248.7L387.3,245.8L391.5,244.1L395.7,242.3L400.0,239.9L404.2,237.4L408.5,235.2L412.7,233.2L417.0,231.7L421.2,229.0L425.5,226.6L429.7,225.2L434.0,223.2L438.2,220.5L442.5,218.5L446.7,216.2L450.9,214.3L455.2,212.7L459.4,211.4L463.7,209.0L467.9,207.1L472.2,204.6L476.4,202.6L480.7,201.5L484.9,199.0L489.2,196.8L493.4,194.3L497.6,193.8L501.9,191.7L506.1,190.2L510.4,189.0L514.6,186.0L518.9,185.0L523.1,184.3L527.4,182.3L531.6,182.3L535.9,182.2L540.1,182.5L544.4,181.0L548.6,180.5L552.8,181.6L557.1,180.8L561.3,179.9L565.6,178.9L569.8,178.0L574.1,177.5L578.3,176.9L582.6,176.1L586.8,176.6L591.1,175.8L595.3,175.5" fill="none" stroke="#a43c4a" stroke-width="0.7"/>
<path d="M409.7,233.2h6M412.7,229.6v7.2M414.0,231.7h6M417.0,228.1v7.2M418.2,229.0h6M421.2,225.4v7.2M422.5,226.6h6M425.5,223.0v7.2M426.7,225.2h6M429.7,221.6v7.2M431.0,223.2h6M434.0,219.6v7.2M435.2,220.5h6M438.2,216.9v7.2M439.5,218.5h6M442.5,214.9v7.2M443.7,216.2h6M446.7,212.6v7.2M447.9,214.3h6M450.9,210.7v7.2M452.2,212.7h6M455.2,209.1v7.2M456.4,211.4h6M459.4,207.8v7.2M460.7,209.0h6M463.7,205.4v7.2M464.9,207.1h6M467.9,203.5v7.2M469.2,204.6h6M472.2,201.0v7.2M473.4,202.6h6M476.4,199.0v7.2M477.7,201.5h6M480.7,197.9v7.2M481.9,199.0h6M484.9,195.4v7.2M486.2,196.8h6M489.2,193.2v7.2M490.4,194.3h6M493.4,190.7v7.2M494.6,193.8h6M497.6,190.2v7.2M498.9,191.7h6M501.9,188.1v7.2M503.1,190.2h6M506.1,186.6v7.2M507.4,189.0h6M510.4,185.4v7.2M511.6,186.0h6M514.6,182.4v7.2M515.9,185.0h6M518.9,181.4v7.2M520.1,184.3h6M523.1,180.7v7.2M524.4,182.3h6M527.4,178.7v7.2M528.6,182.3h6M531.6,178.7v7.2M532.9,182.2h6M535.9,178.6v7.2M537.1,182.5h6M540.1,178.9v7.2M541.4,181.0h6M544.4,177.4v7.2M545.6,180.5h6M548.6,176.9v7.2M549.8,181.6h6M552.8,178.0v7.2M554.1,180.8h6M557.1,177.2v7.2M558.3,179.9h6M561.3,176.3v7.2M562.6,178.9h6M565.6,175.3v7.2M566.8,178.0h6M569.8,174.4v7.2M571.1,177.5h6M574.1,173.9v7.2M575.3,176.9h6M578.3,173.3v7.2M579.6,176.1h6M582.6,172.5v7.2M583.8,176.6h6M586.8,173.0v7.2M588.1,175.8h6M591.1,172.2v7.2M592.3,175.5h6M595.3,171.9v7.2M596.6,171.9h6M599.6,168.3v7.2M600.8,162.2h6M603.8,158.6v7.2M605.0,146.9h6M608.0,143.3v7.2" fill="none" stroke="#a43c4a" stroke-width="1.0"/>
</g>
<g clip-path="url(#ca)">
<path d="M291.6,8.3L298.6,4.5L298.6,12.1Z" fill="#d4ff00"/>
<path d="M293.9,8.6L286.9,4.8L286.9,12.4Z" fill="#ffc000"/>
<path d="M289.5,8.6L287.6,11.9L283.8,11.9L281.9,8.6L283.8,5.3L287.6,5.3Z" fill="#ff5500"/>
<path d="M281.4,3.2L282.6,6.3L286.0,6.5L283.4,8.6L284.2,11.9L281.4,10.1L278.6,11.9L279.4,8.6L276.8,6.5L280.2,6.3Z" fill="#ff0000"/>
<path d="M276.5,3.6L280.3,6.4L278.9,10.8L274.1,10.8L272.7,6.4Z" fill="#ff0000"/>
<path d="M264.3,11.6h6M267.3,8.0v7.2" fill="none" stroke="#a43c4a" stroke-width="1.0"/>
</g>
<g font-family="'Liberation Sans', sans-serif" fill="#231f20">
<rect x="60" y="10" width="265.4" height="282.4" fill="none" stroke="#444444" stroke-width="1.15"/>
<rect x="417.4" y="10" width="264.9" height="282.2" fill="none" stroke="#444444" stroke-width="1.15"/>
<rect x="60" y="359.3" width="265.5" height="282.6" fill="none" stroke="#444444" stroke-width="1.15"/>
<rect x="417.5" y="359.5" width="264.6" height="282.4" fill="none" stroke="#444444" stroke-width="1.15"/>
<line x1="82.8" y1="292.4" x2="82.8" y2="287.4" stroke="#444444" stroke-width="1.2"/>
<text transform="translate(82.8,311.4) scale(1.08,1)" font-size="15.5" text-anchor="middle" >33</text>
<line x1="152.3" y1="292.4" x2="152.3" y2="287.4" stroke="#444444" stroke-width="1.2"/>
<text transform="translate(152.3,311.4) scale(1.08,1)" font-size="15.5" text-anchor="middle" >36</text>
<line x1="221.8" y1="292.4" x2="221.8" y2="287.4" stroke="#444444" stroke-width="1.2"/>
<text transform="translate(221.8,311.4) scale(1.08,1)" font-size="15.5" text-anchor="middle" >39</text>
<line x1="291.3" y1="292.4" x2="291.3" y2="287.4" stroke="#444444" stroke-width="1.2"/>
<text transform="translate(291.3,311.4) scale(1.08,1)" font-size="15.5" text-anchor="middle" >42</text>
<line x1="60" y1="292.4" x2="65" y2="292.4" stroke="#444444" stroke-width="1.2"/>
<text transform="translate(51.5,297.1) scale(1.08,1)" font-size="15.5" text-anchor="end" >2.0</text>
<line x1="60" y1="223.2" x2="65" y2="223.2" stroke="#444444" stroke-width="1.2"/>
<text transform="translate(51.5,227.9) scale(1.08,1)" font-size="15.5" text-anchor="end" >2.5</text>
<line x1="60" y1="154.0" x2="65" y2="154.0" stroke="#444444" stroke-width="1.2"/>
<text transform="translate(51.5,158.7) scale(1.08,1)" font-size="15.5" text-anchor="end" >3.0</text>
<line x1="60" y1="84.8" x2="65" y2="84.8" stroke="#444444" stroke-width="1.2"/>
<text transform="translate(51.5,89.5) scale(1.08,1)" font-size="15.5" text-anchor="end" >3.5</text>
<line x1="60" y1="15.6" x2="65" y2="15.6" stroke="#444444" stroke-width="1.2"/>
<text transform="translate(51.5,20.3) scale(1.08,1)" font-size="15.5" text-anchor="end" >4.0</text>
<line x1="417.4" y1="292.2" x2="417.4" y2="287.2" stroke="#444444" stroke-width="1.2"/>
<text transform="translate(417.4,311.4) scale(1.08,1)" font-size="15.5" text-anchor="middle" >37</text>
<line x1="481.1" y1="292.2" x2="481.1" y2="287.2" stroke="#444444" stroke-width="1.2"/>
<text transform="translate(481.1,311.4) scale(1.08,1)" font-size="15.5" text-anchor="middle" >40</text>
<line x1="544.8" y1="292.2" x2="544.8" y2="287.2" stroke="#444444" stroke-width="1.2"/>
<text transform="translate(544.8,311.4) scale(1.08,1)" font-size="15.5" text-anchor="middle" >43</text>
<line x1="608.5" y1="292.2" x2="608.5" y2="287.2" stroke="#444444" stroke-width="1.2"/>
<text transform="translate(608.5,311.4) scale(1.08,1)" font-size="15.5" text-anchor="middle" >46</text>
<line x1="672.2" y1="292.2" x2="672.2" y2="287.2" stroke="#444444" stroke-width="1.2"/>
<text transform="translate(672.2,311.4) scale(1.08,1)" font-size="15.5" text-anchor="middle" >49</text>
<line x1="417.4" y1="252.3" x2="422.4" y2="252.3" stroke="#444444" stroke-width="1.2"/>
<text transform="translate(408.8,257.0) scale(1.08,1)" font-size="15.5" text-anchor="end" >2.5</text>
<line x1="417.4" y1="173.6" x2="422.4" y2="173.6" stroke="#444444" stroke-width="1.2"/>
<text transform="translate(408.8,178.3) scale(1.08,1)" font-size="15.5" text-anchor="end" >3.0</text>
<line x1="417.4" y1="94.9" x2="422.4" y2="94.9" stroke="#444444" stroke-width="1.2"/>
<text transform="translate(408.8,99.6) scale(1.08,1)" font-size="15.5" text-anchor="end" >3.5</text>
<line x1="417.4" y1="16.2" x2="422.4" y2="16.2" stroke="#444444" stroke-width="1.2"/>
<text transform="translate(408.8,20.9) scale(1.08,1)" font-size="15.5" text-anchor="end" >4.0</text>
<line x1="72.4" y1="641.9" x2="72.4" y2="636.9" stroke="#444444" stroke-width="1.2"/>
<text transform="translate(72.4,661.0) scale(1.08,1)" font-size="15.5" text-anchor="middle" >25</text>
<line x1="135.8" y1="641.9" x2="135.8" y2="636.9" stroke="#444444" stroke-width="1.2"/>
<text transform="translate(135.8,661.0) scale(1.08,1)" font-size="15.5" text-anchor="middle" >30</text>
<line x1="199.2" y1="641.9" x2="199.2" y2="636.9" stroke="#444444" stroke-width="1.2"/>
<text transform="translate(199.2,661.0) scale(1.08,1)" font-size="15.5" text-anchor="middle" >35</text>
<line x1="262.6" y1="641.9" x2="262.6" y2="636.9" stroke="#444444" stroke-width="1.2"/>
<text transform="translate(262.6,661.0) scale(1.08,1)" font-size="15.5" text-anchor="middle" >40</text>
<line x1="326.0" y1="641.9" x2="326.0" y2="636.9" stroke="#444444" stroke-width="1.2"/>
<text transform="translate(326.0,661.0) scale(1.08,1)" font-size="15.5" text-anchor="middle" >45</text>
<line x1="60" y1="613.3" x2="65" y2="613.3" stroke="#444444" stroke-width="1.2"/>
<text transform="translate(51.8,618.0) scale(1.08,1)" font-size="15.5" text-anchor="end" >56</text>
<line x1="60" y1="556.8" x2="65" y2="556.8" stroke="#444444" stroke-width="1.2"/>
<text transform="translate(51.8,561.5) scale(1.08,1)" font-size="15.5" text-anchor="end" >60</text>
<line x1="60" y1="500.4" x2="65" y2="500.4" stroke="#444444" stroke-width="1.2"/>
<text transform="translate(51.8,505.1) scale(1.08,1)" font-size="15.5" text-anchor="end" >64</text>
<line x1="60" y1="443.9" x2="65" y2="443.9" stroke="#444444" stroke-width="1.2"/>
<text transform="translate(51.8,448.6) scale(1.08,1)" font-size="15.5" text-anchor="end" >68</text>
<line x1="60" y1="387.4" x2="65" y2="387.4" stroke="#444444" stroke-width="1.2"/>
<text transform="translate(51.8,392.1) scale(1.08,1)" font-size="15.5" text-anchor="end" >72</text>
<line x1="417.5" y1="641.9" x2="417.5" y2="636.9" stroke="#444444" stroke-width="1.2"/>
<text transform="translate(417.5,661.0) scale(1.08,1)" font-size="15.5" text-anchor="middle" >30</text>
<line x1="482.1" y1="641.9" x2="482.1" y2="636.9" stroke="#444444" stroke-width="1.2"/>
<text transform="translate(482.1,661.0) scale(1.08,1)" font-size="15.5" text-anchor="middle" >35</text>
<line x1="546.7" y1="641.9" x2="546.7" y2="636.9" stroke="#444444" stroke-width="1.2"/>
<text transform="translate(546.7,661.0) scale(1.08,1)" font-size="15.5" text-anchor="middle" >40</text>
<line x1="611.3" y1="641.9" x2="611.3" y2="636.9" stroke="#444444" stroke-width="1.2"/>
<text transform="translate(611.3,661.0) scale(1.08,1)" font-size="15.5" text-anchor="middle" >45</text>
<line x1="675.9" y1="641.9" x2="675.9" y2="636.9" stroke="#444444" stroke-width="1.2"/>
<text transform="translate(675.9,661.0) scale(1.08,1)" font-size="15.5" text-anchor="middle" >50</text>
<line x1="417.5" y1="613.2" x2="422.5" y2="613.2" stroke="#444444" stroke-width="1.2"/>
<text transform="translate(409.0,617.9) scale(1.08,1)" font-size="15.5" text-anchor="end" >56</text>
<line x1="417.5" y1="556.8" x2="422.5" y2="556.8" stroke="#444444" stroke-width="1.2"/>
<text transform="translate(409.0,561.5) scale(1.08,1)" font-size="15.5" text-anchor="end" >60</text>
<line x1="417.5" y1="500.4" x2="422.5" y2="500.4" stroke="#444444" stroke-width="1.2"/>
<text transform="translate(409.0,505.1) scale(1.08,1)" font-size="15.5" text-anchor="end" >64</text>
<line x1="417.5" y1="444.0" x2="422.5" y2="444.0" stroke="#444444" stroke-width="1.2"/>
<text transform="translate(409.0,448.7) scale(1.08,1)" font-size="15.5" text-anchor="end" >68</text>
<line x1="417.5" y1="387.6" x2="422.5" y2="387.6" stroke="#444444" stroke-width="1.2"/>
<text transform="translate(409.0,392.3) scale(1.08,1)" font-size="15.5" text-anchor="end" >72</text>
<text transform="translate(192.7,337.6) scale(1.03,1)" font-size="17.6" text-anchor="middle"><tspan font-style="italic">I</tspan> (µA)</text>
<text transform="translate(550.0,337.6) scale(1.03,1)" font-size="17.6" text-anchor="middle"><tspan font-style="italic">I</tspan> (µA)</text>
<text transform="translate(192.7,687.2) scale(1.03,1)" font-size="17.6" text-anchor="middle"><tspan font-style="italic">I</tspan> (µA)</text>
<text transform="translate(550.0,687.2) scale(1.03,1)" font-size="17.6" text-anchor="middle"><tspan font-style="italic">I</tspan> (µA)</text>
<text transform="translate(14.4,151.0) rotate(-90) scale(1.03,1)" font-size="17.6" text-anchor="middle"><tspan font-style="italic">V</tspan> (mV)</text>
<text transform="translate(372.6,154.6) rotate(-90) scale(1.03,1)" font-size="17.6" text-anchor="middle"><tspan font-style="italic">V</tspan> (mV)</text>
<text transform="translate(18.8,500.4) rotate(-90) scale(1.03,1)" font-size="17.6" text-anchor="middle" textLength="39.6" lengthAdjust="spacingAndGlyphs"><tspan font-style="italic">R</tspan> (Ω)</text>
<text transform="translate(375.8,500.5) rotate(-90) scale(1.03,1)" font-size="17.6" text-anchor="middle" textLength="39.6" lengthAdjust="spacingAndGlyphs"><tspan font-style="italic">R</tspan> (Ω)</text>
<text transform="translate(0.3,19) scale(1.05,1)" font-size="25" font-weight="bold" fill="#000">a</text>
<text transform="translate(358.6,18.8) scale(1.12,1)" font-size="25" font-weight="bold" fill="#000">b</text>
<text transform="translate(0.0,365.8) scale(1.12,1)" font-size="25" font-weight="bold" fill="#000">c</text>
<text transform="translate(361.6,365.8) scale(1.12,1)" font-size="25" font-weight="bold" fill="#000">d</text>
<text x="80.2" y="212.9" font-size="15" text-anchor="start" >1.95 T</text>
<text x="214.3" y="282.3" font-size="15" text-anchor="start" >1.73 T</text>
<text x="273.1" y="264.7" font-size="15" text-anchor="start" >Nb–C</text>
<text x="423.2" y="200.5" font-size="15" text-anchor="start" >1.95 T</text>
<text x="555.0" y="283.7" font-size="15" text-anchor="start" >1.73 T</text>
<text x="675.1" y="259.8" font-size="15" text-anchor="end" >Nb–C/</text>
<text x="675.1" y="275.3" font-size="15" text-anchor="end" >Co–Fe</text>
<text x="202.9" y="381.0" font-size="15" text-anchor="start" >1.95 T</text>
<text x="143.6" y="631.8" font-size="15" text-anchor="start" >1.73 T</text>
<text x="310.4" y="628.0" font-size="15" text-anchor="end" >Nb–C</text>
<text x="546.8" y="390.4" font-size="15" text-anchor="start" >1.95 T</text>
<text x="491.8" y="629.7" font-size="15" text-anchor="start" >1.73 T</text>
<text x="659.7" y="631.5" font-size="15" text-anchor="end" >Nb–C/Co–Fe</text>
</g>
<line x1="216.2" y1="270.1" x2="124.3" y2="209.4" stroke="#000" stroke-width="1.6"/>
<path d="M124.3,209.4L133.8,211.4L129.9,213.1L129.8,217.4Z" fill="#000"/>
<line x1="552.7" y1="272.7" x2="464" y2="207" stroke="#000" stroke-width="1.6"/>
<path d="M464.0,207.0L473.4,209.5L469.4,211.0L469.1,215.2Z" fill="#000"/>
<line x1="182.3" y1="618.1" x2="218.5" y2="384.5" stroke="#000" stroke-width="1.6"/>
<path d="M218.5,384.5L220.7,393.9L217.5,391.2L213.6,392.8Z" fill="#000"/>
<line x1="529.3" y1="614.8" x2="562.5" y2="394.5" stroke="#000" stroke-width="1.6"/>
<path d="M562.5,394.5L564.7,403.9L561.5,401.2L557.6,402.9Z" fill="#000"/>
<rect x="102.2" y="256.4" width="10.6" height="26" fill="#fff" stroke="#3a3a3a" stroke-width="1.2"/>
<text x="107.5" y="274.4" font-family="'Liberation Sans', sans-serif" font-size="14.5" text-anchor="middle" letter-spacing="0.6" fill="#231f20">i</text>
<rect x="247.6" y="190.2" width="16" height="26" fill="#fff" stroke="#3a3a3a" stroke-width="1.2"/>
<text x="255.6" y="208.2" font-family="'Liberation Sans', sans-serif" font-size="14.5" text-anchor="middle" letter-spacing="0.6" fill="#231f20">ii</text>
<rect x="288.4" y="75.1" width="20.6" height="25.6" fill="#fff" stroke="#3a3a3a" stroke-width="1.2"/>
<text x="298.7" y="92.9" font-family="'Liberation Sans', sans-serif" font-size="14.5" text-anchor="middle" letter-spacing="0.6" fill="#231f20">iii</text>
<rect x="450.8" y="247.9" width="10.8" height="25.1" fill="#fff" stroke="#3a3a3a" stroke-width="1.2"/>
<text x="456.2" y="265.4" font-family="'Liberation Sans', sans-serif" font-size="14.5" text-anchor="middle" letter-spacing="0.6" fill="#231f20">i</text>
<rect x="623.2" y="176.4" width="15.3" height="25.4" fill="#fff" stroke="#3a3a3a" stroke-width="1.2"/>
<text x="630.9" y="194.1" font-family="'Liberation Sans', sans-serif" font-size="14.5" text-anchor="middle" letter-spacing="0.6" fill="#231f20">ii</text>
<rect x="635.5" y="73.3" width="20.5" height="26" fill="#fff" stroke="#3a3a3a" stroke-width="1.2"/>
<text x="645.8" y="91.3" font-family="'Liberation Sans', sans-serif" font-size="14.5" text-anchor="middle" letter-spacing="0.6" fill="#231f20">iii</text>
<rect x="85" y="10" width="127.1" height="127.3" fill="#fff" stroke="#444444" stroke-width="1.3"/>
<clipPath id="cia"><rect x="85" y="10" width="127.1" height="127.3"/></clipPath><clipPath id="cib"><rect x="427.9" y="10" width="127.5" height="126.6"/></clipPath>
<g clip-path="url(#cia)">
<line x1="93.1" y1="137.3" x2="93.1" y2="133.3" stroke="#444444" stroke-width="1.1"/>
<line x1="134.8" y1="137.3" x2="134.8" y2="133.3" stroke="#444444" stroke-width="1.1"/>
<line x1="176.6" y1="137.3" x2="176.6" y2="133.3" stroke="#444444" stroke-width="1.1"/>
<line x1="212.1" y1="128.0" x2="207.2" y2="128.0" stroke="#444444" stroke-width="1.1"/>
<line x1="212.1" y1="91.5" x2="207.2" y2="91.5" stroke="#444444" stroke-width="1.1"/>
<line x1="212.1" y1="54.9" x2="207.2" y2="54.9" stroke="#444444" stroke-width="1.1"/>
<line x1="212.1" y1="18.4" x2="207.2" y2="18.4" stroke="#444444" stroke-width="1.1"/>
<polyline points="97.5,125.3 98.9,124.5 100.3,123.6 101.7,122.7 103.1,121.9 104.5,121.0 105.9,120.2 107.3,119.3 108.7,118.5 110.1,117.6 111.5,116.7 112.9,115.9 114.3,115.0 115.7,114.2 117.1,113.3 118.6,112.5 120.0,111.6 121.4,110.7 122.8,109.9 124.2,109.0 125.6,108.2 127.0,107.3 128.4,106.4 129.8,105.6 131.2,104.7 132.6,103.9 134.0,103.0 135.4,102.2 136.8,101.3 138.2,100.4 139.6,99.6 141.0,98.7 142.4,97.9 143.8,97.0 145.2,96.1 146.6,95.3 148.1,94.4 149.5,93.6 150.9,92.7 152.3,91.9 153.7,91.0 155.1,90.1 156.5,89.3 157.9,88.4 159.3,87.6 160.7,86.7 162.1,85.8 163.5,85.0 164.9,84.1 166.3,83.3 167.7,82.4 169.1,81.6 170.5,80.7 171.9,79.8 173.3,79.0 174.7,78.1 176.1,77.3 177.5,76.4 179.0,75.6 180.4,74.7" fill="none" stroke="#7f007f" stroke-width="5" stroke-linecap="round" stroke-linejoin="round"/>
<polyline points="180.4,74.7 180.4,54.3 181.4,32.8" fill="none" stroke="#7f007f" stroke-width="1"/>
<circle cx="180.4" cy="54.3" r="2.6" fill="#7f007f"/>
<polyline points="181.4,32.8 186,28 197.2,14.2" fill="none" stroke="#7f007f" stroke-width="5" stroke-linecap="round" stroke-linejoin="round"/>
</g>
<line x1="180.4" y1="74.7" x2="206.2" y2="74.7" stroke="#000" stroke-width="1.6"/>
<path d="M211.2,74.7L204.7,71.9L204.7,77.5Z" fill="#000"/>
<line x1="180.9" y1="74.7" x2="180.9" y2="130.8" stroke="#000" stroke-width="1.6"/>
<path d="M180.9,135.8L178.1,129.3L183.70000000000002,129.3Z" fill="#000"/>
<rect x="427.9" y="10" width="127.5" height="126.6" fill="#fff" stroke="#444444" stroke-width="1.3"/>
<g clip-path="url(#cib)">
<line x1="448.9" y1="136.6" x2="448.9" y2="132.6" stroke="#444444" stroke-width="1.1"/>
<line x1="512.5" y1="136.6" x2="512.5" y2="132.6" stroke="#444444" stroke-width="1.1"/>
<line x1="555.4" y1="113.5" x2="550.5" y2="113.5" stroke="#444444" stroke-width="1.1"/>
<line x1="555.4" y1="66.6" x2="550.5" y2="66.6" stroke="#444444" stroke-width="1.1"/>
<line x1="555.4" y1="19.7" x2="550.5" y2="19.7" stroke="#444444" stroke-width="1.1"/>
<polyline points="428.1,121.5 429.3,121.0 430.6,120.6 431.8,120.1 433.0,119.7 434.2,119.2 435.4,118.8 436.6,118.3 437.9,117.9 439.1,117.4 440.3,117.0 441.5,116.5 442.7,116.1 444.0,115.6 445.2,115.2 446.4,114.8 447.6,114.3 448.8,113.9 450.0,113.4 451.3,113.0 452.5,112.5 453.7,112.1 454.9,111.6 456.1,111.2 457.4,110.8 458.6,110.3 459.8,109.9 461.0,109.4 462.2,109.0 463.4,108.5 464.7,108.1 465.9,107.7 467.1,107.2 468.3,106.8 469.5,106.3 470.7,105.9 472.0,105.5 473.2,105.0 474.4,104.6 475.6,104.2 476.8,103.7 478.1,103.3 479.3,102.9 480.5,102.5 481.7,102.1 482.9,101.8 484.1,101.4 485.4,101.0 486.6,100.7 487.8,100.3 489.0,99.9 490.2,99.6 491.4,99.3 492.7,98.9 493.9,98.7 495.1,98.4 496.3,98.2 497.5,98.0 498.8,98.0 500.0,97.9 501.2,97.8 502.4,97.7 503.6,97.6 504.8,97.6 506.1,97.7 507.3,97.7 508.5,97.7 509.7,97.4 510.9,96.8 512.2,96.0 513.4,95.0 514.6,94.0 515.8,93.0 517.0,92.1 518.2,91.2 519.5,90.3 520.7,89.4 521.9,88.5 523.1,87.5 524.3,86.5" fill="none" stroke="#7f007f" stroke-width="5" stroke-linecap="round" stroke-linejoin="round"/>
<polyline points="524.5,83.7 524.7,53.3 525.3,22.3" fill="none" stroke="#7f007f" stroke-width="1"/>
<circle cx="524.7" cy="53.3" r="2.6" fill="#7f007f"/>
<polyline points="525.3,22.3 527,17 534.3,13.1" fill="none" stroke="#7f007f" stroke-width="5" stroke-linecap="round" stroke-linejoin="round"/>
</g>
<line x1="524.5" y1="83.9" x2="549.3" y2="83.9" stroke="#000" stroke-width="1.6"/>
<path d="M554.3,83.9L547.8,81.10000000000001L547.8,86.7Z" fill="#000"/>
<line x1="503.9" y1="98.8" x2="549.3" y2="98.8" stroke="#000" stroke-width="1.6"/>
<path d="M554.3,98.8L547.8,96.0L547.8,101.6Z" fill="#000"/>
<line x1="503.9" y1="98.8" x2="503.9" y2="131.0" stroke="#000" stroke-width="1.6"/>
<path d="M503.9,136.0L501.09999999999997,129.5L506.7,129.5Z" fill="#000"/>
<line x1="525.8" y1="83.9" x2="525.8" y2="131.0" stroke="#000" stroke-width="1.6"/>
<path d="M525.8,136.0L523.0,129.5L528.5999999999999,129.5Z" fill="#000"/>
<g font-family="'Liberation Sans', sans-serif" fill="#231f20">
<text x="91.0" y="33.9" font-size="12.4" textLength="53" lengthAdjust="spacing"><tspan font-style="italic">H</tspan> = 1.85 T</text>
<text x="90.6" y="48.5" font-size="12.4" textLength="47.5" lengthAdjust="spacing"><tspan font-style="italic">T</tspan> = 4.2 K</text>
<text transform="translate(93.1,154.0) scale(1.08,1)" font-size="12.6" text-anchor="middle" >0</text>
<text transform="translate(134.8,154.0) scale(1.08,1)" font-size="12.6" text-anchor="middle" >20</text>
<text transform="translate(176.6,154.0) scale(1.08,1)" font-size="12.6" text-anchor="middle" >40</text>
<text transform="translate(219.4,134.0) scale(1.08,1)" font-size="13.2" text-anchor="start" >0</text>
<text transform="translate(219.4,97.5) scale(1.08,1)" font-size="13.2" text-anchor="start" >2</text>
<text transform="translate(219.4,60.9) scale(1.08,1)" font-size="13.2" text-anchor="start" >4</text>
<text transform="translate(219.4,24.4) scale(1.08,1)" font-size="13.2" text-anchor="start" >6</text>
<text transform="translate(148.8,177.0) scale(1.05,1)" font-size="15" text-anchor="middle"><tspan font-style="italic">I</tspan> (µA)</text>
<text transform="translate(241.5,73.5) rotate(90)" font-size="14.4" text-anchor="middle"><tspan font-style="italic">V</tspan> (mV)</text>
<text x="184.8" y="97.1" font-size="12.3" font-style="italic">V*</text>
<text x="164.3" y="122.3" font-size="12.3" font-style="italic">I*</text>
<text x="436.0" y="34.5" font-size="12.4" textLength="53" lengthAdjust="spacing"><tspan font-style="italic">H</tspan> = 1.85 T</text>
<text x="435.6" y="49" font-size="12.4" textLength="47.5" lengthAdjust="spacing"><tspan font-style="italic">T</tspan> = 4.2 K</text>
<text transform="translate(448.9,154.6) scale(1.08,1)" font-size="12.6" text-anchor="middle" >30</text>
<text transform="translate(512.5,154.6) scale(1.08,1)" font-size="12.6" text-anchor="middle" >45</text>
<text transform="translate(563.5,119.0) scale(1.08,1)" font-size="13.2" text-anchor="start" >2</text>
<text transform="translate(563.5,72.1) scale(1.08,1)" font-size="13.2" text-anchor="start" >4</text>
<text transform="translate(563.5,25.2) scale(1.08,1)" font-size="13.2" text-anchor="start" >6</text>
<text transform="translate(491.8,174.6) scale(1.05,1)" font-size="15" text-anchor="middle"><tspan font-style="italic">I</tspan> (µA)</text>
<text transform="translate(585,76.9) rotate(90)" font-size="14.4" text-anchor="middle"><tspan font-style="italic">V</tspan> (mV)</text>
<text x="527.2" y="73.1" font-size="12.3"><tspan font-style="italic">V</tspan>*<tspan font-size="8.5" dy="2.5">m</tspan></text>
<text x="508.1" y="117.2" font-size="12.3"><tspan font-style="italic">I</tspan>*<tspan font-size="8.5" dy="2.5">m</tspan></text>
<text x="529.8" y="117.2" font-size="12.3"><tspan font-style="italic">V</tspan><tspan font-size="8.5" dy="2.5">m</tspan></text>
<text x="483.8" y="126.4" font-size="12.3"><tspan font-style="italic">I</tspan><tspan font-size="8.5" dy="2.5">m</tspan></text>
</g>
</svg>
</body></html>
